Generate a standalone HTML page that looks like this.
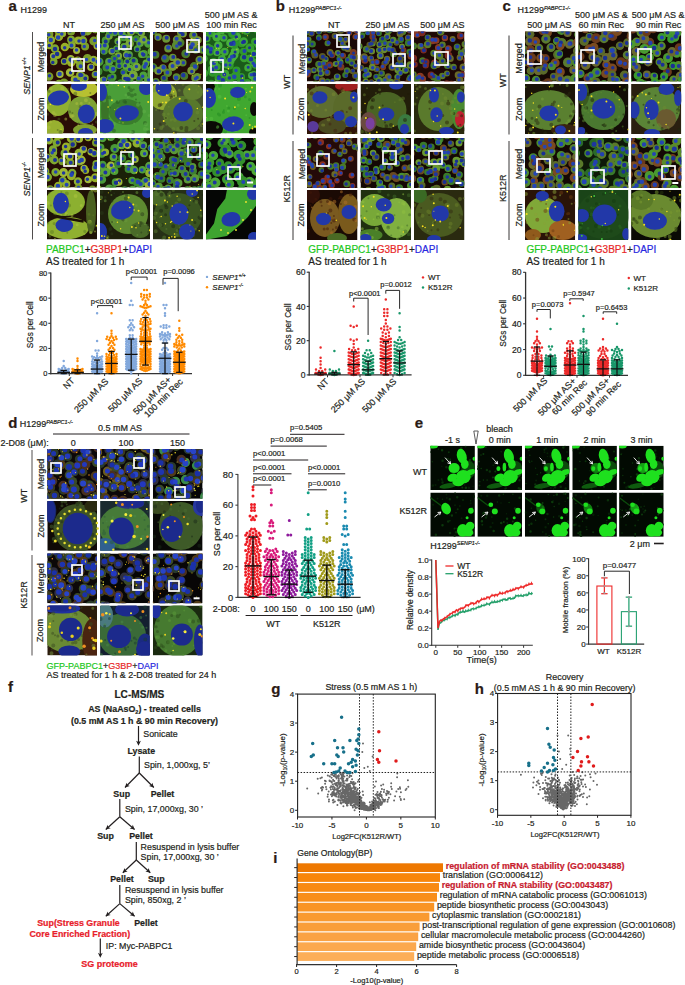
<!DOCTYPE html>
<html><head><meta charset="utf-8"><style>
html,body{margin:0;padding:0;background:#fff;overflow:hidden;}
svg{display:block;font-family:"Liberation Sans", sans-serif;}
</style></head><body>
<svg width="685" height="985" viewBox="0 0 685 985">
<defs><clipPath id="c1"><rect x="47" y="32" width="50" height="49.5"/></clipPath><clipPath id="c2"><rect x="100" y="32" width="50" height="49.5"/></clipPath><clipPath id="c3"><rect x="153" y="32" width="50" height="49.5"/></clipPath><clipPath id="c4"><rect x="206" y="32" width="50" height="49.5"/></clipPath><clipPath id="c5"><rect x="47" y="138" width="50" height="49.5"/></clipPath><clipPath id="c6"><rect x="100" y="138" width="50" height="49.5"/></clipPath><clipPath id="c7"><rect x="153" y="138" width="50" height="49.5"/></clipPath><clipPath id="c8"><rect x="206" y="138" width="50" height="49.5"/></clipPath><clipPath id="c9"><rect x="47" y="84" width="50" height="49.5"/></clipPath><clipPath id="c10"><rect x="100" y="84" width="50" height="49.5"/></clipPath><clipPath id="c11"><rect x="153" y="84" width="50" height="49.5"/></clipPath><clipPath id="c12"><rect x="206" y="84" width="50" height="49.5"/></clipPath><clipPath id="c13"><rect x="47" y="190" width="50" height="49.5"/></clipPath><clipPath id="c14"><rect x="100" y="190" width="50" height="49.5"/></clipPath><clipPath id="c15"><rect x="153" y="190" width="50" height="49.5"/></clipPath><clipPath id="c16"><rect x="206" y="190" width="50" height="49.5"/></clipPath><clipPath id="c17"><rect x="206" y="190" width="50" height="49.5"/></clipPath><clipPath id="c18"><rect x="307" y="31.5" width="50.5" height="50"/></clipPath><clipPath id="c19"><rect x="360.5" y="31.5" width="50.5" height="50"/></clipPath><clipPath id="c20"><rect x="414" y="31.5" width="50.5" height="50"/></clipPath><clipPath id="c21"><rect x="307" y="138" width="50.5" height="50"/></clipPath><clipPath id="c22"><rect x="360.5" y="138" width="50.5" height="50"/></clipPath><clipPath id="c23"><rect x="414" y="138" width="50.5" height="50"/></clipPath><clipPath id="c24"><rect x="307" y="84" width="50.5" height="50"/></clipPath><clipPath id="c25"><rect x="360.5" y="84" width="50.5" height="50"/></clipPath><clipPath id="c26"><rect x="414" y="84" width="50.5" height="50"/></clipPath><clipPath id="c27"><rect x="307" y="190" width="50.5" height="50"/></clipPath><clipPath id="c28"><rect x="360.5" y="190" width="50.5" height="50"/></clipPath><clipPath id="c29"><rect x="414" y="190" width="50.5" height="50"/></clipPath><clipPath id="c30"><rect x="525" y="31.5" width="50.2" height="50"/></clipPath><clipPath id="c31"><rect x="578.2" y="31.5" width="50.2" height="50"/></clipPath><clipPath id="c32"><rect x="631.1" y="31.5" width="50.2" height="50"/></clipPath><clipPath id="c33"><rect x="525" y="138" width="50.2" height="50"/></clipPath><clipPath id="c34"><rect x="578.2" y="138" width="50.2" height="50"/></clipPath><clipPath id="c35"><rect x="631.1" y="138" width="50.2" height="50"/></clipPath><clipPath id="c36"><rect x="525" y="84" width="50.2" height="50"/></clipPath><clipPath id="c37"><rect x="578.2" y="84" width="50.2" height="50"/></clipPath><clipPath id="c38"><rect x="631.1" y="84" width="50.2" height="50"/></clipPath><clipPath id="c39"><rect x="525" y="190" width="50.2" height="50"/></clipPath><clipPath id="c40"><rect x="578.2" y="190" width="50.2" height="50"/></clipPath><clipPath id="c41"><rect x="631.1" y="190" width="50.2" height="50"/></clipPath><clipPath id="c42"><rect x="47.3" y="449" width="49.7" height="49.8"/></clipPath><clipPath id="c43"><rect x="100.1" y="449" width="49.7" height="49.8"/></clipPath><clipPath id="c44"><rect x="152.9" y="449" width="49.7" height="49.8"/></clipPath><clipPath id="c45"><rect x="47.3" y="553.5" width="49.7" height="49.8"/></clipPath><clipPath id="c46"><rect x="100.1" y="553.5" width="49.7" height="49.8"/></clipPath><clipPath id="c47"><rect x="152.9" y="553.5" width="49.7" height="49.8"/></clipPath><clipPath id="c48"><rect x="47.3" y="501" width="49.7" height="49.8"/></clipPath><clipPath id="c49"><rect x="100.1" y="501" width="49.7" height="49.8"/></clipPath><clipPath id="c50"><rect x="152.9" y="501" width="49.7" height="49.8"/></clipPath><clipPath id="c51"><rect x="47.3" y="605.6" width="49.7" height="49.8"/></clipPath><clipPath id="c52"><rect x="100.1" y="605.6" width="49.7" height="49.8"/></clipPath><clipPath id="c53"><rect x="152.9" y="605.6" width="49.7" height="49.8"/></clipPath><clipPath id="c54"><rect x="430.3" y="445.7" width="44.6" height="44.3"/></clipPath><clipPath id="c55"><rect x="477.4" y="445.7" width="44.6" height="44.3"/></clipPath><clipPath id="c56"><rect x="524.9" y="445.7" width="44.6" height="44.3"/></clipPath><clipPath id="c57"><rect x="572.3" y="445.7" width="44.6" height="44.3"/></clipPath><clipPath id="c58"><rect x="619.1" y="445.7" width="44.6" height="44.3"/></clipPath><clipPath id="c59"><rect x="430.3" y="492.5" width="44.6" height="44.3"/></clipPath><clipPath id="c60"><rect x="477.4" y="492.5" width="44.6" height="44.3"/></clipPath><clipPath id="c61"><rect x="524.9" y="492.5" width="44.6" height="44.3"/></clipPath><clipPath id="c62"><rect x="572.3" y="492.5" width="44.6" height="44.3"/></clipPath><clipPath id="c63"><rect x="619.1" y="492.5" width="44.6" height="44.3"/></clipPath></defs>
<text x="8.5" y="11.3" font-size="15" text-anchor="start" font-weight="bold" fill="#2a1a14" stroke="#2a1a14" stroke-width="0.2">a</text>
<text x="20.6" y="12.7" font-size="9" text-anchor="start" fill="#231f20" stroke="#231f20" stroke-width="0.2">H1299</text>
<text x="69" y="28.4" font-size="9" text-anchor="middle" fill="#231f20" stroke="#231f20" stroke-width="0.2">NT</text>
<text x="122.5" y="28.4" font-size="9" text-anchor="middle" fill="#231f20" stroke="#231f20" stroke-width="0.2">250 μM AS</text>
<text x="177.3" y="28.4" font-size="9" text-anchor="middle" fill="#231f20" stroke="#231f20" stroke-width="0.2">500 μM AS</text>
<text x="231.2" y="18" font-size="9" text-anchor="middle" fill="#231f20" stroke="#231f20" stroke-width="0.2">500 μM AS &amp;</text>
<text x="231.4" y="28.4" font-size="9" text-anchor="middle" fill="#231f20" stroke="#231f20" stroke-width="0.2">100 min Rec</text>
<text x="44" y="57" font-size="9" text-anchor="middle" fill="#231f20" transform="rotate(-90 44 57)" stroke="#231f20" stroke-width="0.2">Merged</text>
<text x="44" y="163" font-size="9" text-anchor="middle" fill="#231f20" transform="rotate(-90 44 163)" stroke="#231f20" stroke-width="0.2">Merged</text>
<text x="44" y="109" font-size="9" text-anchor="middle" fill="#231f20" transform="rotate(-90 44 109)" stroke="#231f20" stroke-width="0.2">Zoom</text>
<text x="44" y="215" font-size="9" text-anchor="middle" fill="#231f20" transform="rotate(-90 44 215)" stroke="#231f20" stroke-width="0.2">Zoom</text>
<line x1="32.5" y1="32" x2="32.5" y2="133.5" stroke="#231f20" stroke-width="0.8"/>
<line x1="32.5" y1="138" x2="32.5" y2="239.5" stroke="#231f20" stroke-width="0.8"/>
<text x="30" y="75.9" font-size="9" text-anchor="middle" font-style="italic" fill="#231f20" transform="rotate(-90 30 75.9)" stroke="#231f20" stroke-width="0.2">SENP1<tspan font-size="5.5" dy="-3.5">+/+</tspan></text>
<text x="30" y="179.2" font-size="9" text-anchor="middle" font-style="italic" fill="#231f20" transform="rotate(-90 30 179.2)" stroke="#231f20" stroke-width="0.2">SENP1<tspan font-size="5.5" dy="-3.5">-/-</tspan></text>
<g clip-path="url(#c1)">
<rect x="47" y="32" width="50" height="49.5" fill="#2a0c06"/>
<path d="M49.6 34h0M95.4 74.5h0M100.6 70.9h0" stroke="#7a9c2c" stroke-width="7.5" stroke-linecap="round"/>
<path d="M51.1 39.9h0" stroke="#90b030" stroke-width="8" stroke-linecap="round"/>
<path d="M49.2 45.5h0M77.7 60.3h0M79.8 75.3h0" stroke="#98b028" stroke-width="7.5" stroke-linecap="round"/>
<path d="M53.7 56.3h0M59.9 74.3h0M90.9 67.3h0M97.2 46h0" stroke="#a0b838" stroke-width="7.5" stroke-linecap="round"/>
<path d="M43.3 64.6h0M58.6 31.1h0M71.1 31.5h0M85.1 46.5h0" stroke="#7a9c2c" stroke-width="8" stroke-linecap="round"/>
<path d="M49.1 76.6h0" stroke="#7a9c2c" stroke-width="8.5" stroke-linecap="round"/>
<path d="M43.5 78h0M64 83h0M87.4 58.5h0M93.8 41.1h0M102.8 56.4h0" stroke="#7a9c2c" stroke-width="9" stroke-linecap="round"/>
<path d="M58.9 36.8h0M57.5 54.7h0M64.9 47h0M71.2 62.6h0M78.1 81.5h0" stroke="#98b028" stroke-width="8.5" stroke-linecap="round"/>
<path d="M54.9 48.5h0M95.1 29.1h0M100 81.6h0" stroke="#80a830" stroke-width="8.5" stroke-linecap="round"/>
<path d="M53.8 61.4h0M85 77.9h0" stroke="#80a830" stroke-width="7.5" stroke-linecap="round"/>
<path d="M59 84.2h0M82.8 40.6h0M80.5 65.5h0M87.6 30.9h0" stroke="#80a830" stroke-width="9" stroke-linecap="round"/>
<path d="M62.4 33.6h0M71.9 45h0M93.5 59.4h0" stroke="#90b030" stroke-width="7.5" stroke-linecap="round"/>
<path d="M71.1 39.7h0M81.2 76h0M100 37.1h0" stroke="#80a830" stroke-width="8" stroke-linecap="round"/>
<path d="M70.7 59.3h0M70.1 72.6h0" stroke="#a0b838" stroke-width="8.5" stroke-linecap="round"/>
<path d="M64.3 61.5h0" stroke="#90b030" stroke-width="7" stroke-linecap="round"/>
<path d="M78.3 40.4h0M74.7 79.5h0" stroke="#98b028" stroke-width="8" stroke-linecap="round"/>
<path d="M83.7 32.6h0" stroke="#7a9c2c" stroke-width="7" stroke-linecap="round"/>
<path d="M76.6 50.6h0" stroke="#a0b838" stroke-width="7" stroke-linecap="round"/>
<path d="M96.8 61.5h0" stroke="#98b028" stroke-width="9" stroke-linecap="round"/>
<path d="M48.8 34.7h0M58.5 31.5h0M72.1 61.9h0M76.5 49.9h0M87.3 30.1h0M84.3 46.5h0" stroke="#2240b0" stroke-width="3.5" stroke-linecap="round"/>
<path d="M50.8 40.1h0M44.1 77.4h0M58.1 37.6h0M59.6 74.1h0" stroke="#2444b4" stroke-width="4.5" stroke-linecap="round"/>
<path d="M49.3 45.6h0M52.8 62.4h0M70.6 72.8h0M100.5 37.8h0" stroke="#1a3094" stroke-width="3.5" stroke-linecap="round"/>
<path d="M53.3 56.3h0M103.2 56.6h0" stroke="#1e36a0" stroke-width="4" stroke-linecap="round"/>
<path d="M42.8 65.2h0M70.6 39.8h0M78.4 59.5h0M85.3 78.4h0" stroke="#1a3094" stroke-width="4" stroke-linecap="round"/>
<path d="M49.5 75.7h0M64.7 47.7h0M63.2 83.2h0M70.1 31h0M79 40.9h0M78.4 81.4h0M100.4 71.8h0" stroke="#1e36a0" stroke-width="3.5" stroke-linecap="round"/>
<path d="M55 49.1h0M57.1 54.1h0M70.6 59.6h0M64.1 61.2h0M91.2 66.8h0M94.6 29.9h0" stroke="#1a3094" stroke-width="4.5" stroke-linecap="round"/>
<path d="M59.9 85.1h0M61.8 33.9h0M86.5 59.5h0M81.8 75.3h0M94.7 40.6h0" stroke="#2444b4" stroke-width="3.5" stroke-linecap="round"/>
<path d="M71.5 45.6h0M80.6 66.2h0M93.5 59.7h0M95.4 74h0M99.8 81.8h0" stroke="#2444b4" stroke-width="4" stroke-linecap="round"/>
<path d="M80.4 74.9h0M83 33.4h0" stroke="#1e36a0" stroke-width="4.5" stroke-linecap="round"/>
<path d="M75.4 79.7h0M83.4 40.9h0M97.7 61.6h0" stroke="#2240b0" stroke-width="4.5" stroke-linecap="round"/>
<path d="M96.8 46.1h0" stroke="#2240b0" stroke-width="4" stroke-linecap="round"/>
<rect x="72" y="59" width="12" height="12" fill="none" stroke="#ffffff" stroke-width="1.7"/>
</g>
<g clip-path="url(#c2)">
<rect x="100" y="32" width="50" height="49.5" fill="#1a3010"/>
<path d="M102.9 29.2h0M104.1 51h0M127.3 79.9h0M143.4 75.2h0" stroke="#4ea03a" stroke-width="7.5" stroke-linecap="round"/>
<path d="M105.7 40.6h0M123.8 37.2h0M143.8 54.1h0" stroke="#4a9a38" stroke-width="8" stroke-linecap="round"/>
<path d="M98.8 46.8h0M124.2 46.9h0" stroke="#60a838" stroke-width="8" stroke-linecap="round"/>
<path d="M99.3 61.7h0M114.5 31.9h0M133.9 61.3h0" stroke="#4a9a38" stroke-width="8.5" stroke-linecap="round"/>
<path d="M106.5 67.6h0M98.5 71.5h0M119.4 61.8h0" stroke="#3e8a30" stroke-width="8" stroke-linecap="round"/>
<path d="M103.3 80.3h0M109 36h0M118.3 55.9h0M141.3 32.7h0M150.2 28.8h0" stroke="#78a838" stroke-width="7.5" stroke-linecap="round"/>
<path d="M109.7 32.2h0M119.1 65.2h0M112.8 77h0M149.8 59.1h0M154.1 78.6h0" stroke="#4a9a38" stroke-width="7.5" stroke-linecap="round"/>
<path d="M104.8 46.2h0M129.1 38.2h0M151.8 51.4h0M151.7 69.9h0" stroke="#60a838" stroke-width="8.5" stroke-linecap="round"/>
<path d="M111.8 51.2h0" stroke="#78a838" stroke-width="7" stroke-linecap="round"/>
<path d="M109.1 61.8h0M121.5 33h0" stroke="#58a040" stroke-width="8" stroke-linecap="round"/>
<path d="M112.4 69.2h0M129.2 80.5h0M137.3 29.5h0M148.3 43.6h0" stroke="#4ea03a" stroke-width="8.5" stroke-linecap="round"/>
<path d="M110.2 77.4h0M112.3 82.9h0M120.8 82.8h0M123.8 71.9h0M136.3 38.7h0M139.4 79.2h0" stroke="#3e8a30" stroke-width="7" stroke-linecap="round"/>
<path d="M117.9 41.2h0M141.6 54.5h0M146 63h0" stroke="#60a838" stroke-width="7" stroke-linecap="round"/>
<path d="M116.7 48.7h0M127 62.3h0M137.3 48.7h0M144.7 67h0" stroke="#4ea03a" stroke-width="7" stroke-linecap="round"/>
<path d="M114.2 58.5h0M153 36.6h0" stroke="#3e8a30" stroke-width="7.5" stroke-linecap="round"/>
<path d="M127.1 54.7h0M131 31.5h0M129.7 43.5h0M136.7 67h0" stroke="#78a838" stroke-width="8.5" stroke-linecap="round"/>
<path d="M126 65.9h0M130.1 68.6h0" stroke="#60a838" stroke-width="7.5" stroke-linecap="round"/>
<path d="M129.1 54.7h0M140 43.2h0M147.8 80h0" stroke="#58a040" stroke-width="7.5" stroke-linecap="round"/>
<path d="M125.6 77.5h0M143.3 39.4h0" stroke="#78a838" stroke-width="8" stroke-linecap="round"/>
<path d="M133.3 75h0" stroke="#78a838" stroke-width="9" stroke-linecap="round"/>
<path d="M151.5 74h0" stroke="#58a040" stroke-width="8.5" stroke-linecap="round"/>
<path d="M102.7 29.6h0M103.5 51.7h0M97.5 72.4h0M108.3 36.3h0M109.4 60.9h0M138.7 78.4h0M146 64h0M144.6 66.8h0M152.2 73.3h0" stroke="#2444b4" stroke-width="4" stroke-linecap="round"/>
<path d="M105.7 41.5h0M113.2 83.9h0M118.9 61.6h0M129.6 55.4h0M127.3 61.4h0M137.2 49.5h0M133.6 60.6h0" stroke="#1a3094" stroke-width="4" stroke-linecap="round"/>
<path d="M99.6 46h0M107.3 67.6h0M104.8 45.6h0M115.1 32.7h0M121 33.2h0M124 36.8h0M123.1 72.4h0M131.5 32.2h0" stroke="#2240b0" stroke-width="4" stroke-linecap="round"/>
<path d="M99.6 60.7h0M112.4 50.9h0M113.2 69.1h0M126.3 55.3h0" stroke="#2444b4" stroke-width="4.5" stroke-linecap="round"/>
<path d="M104.1 79.5h0M126.9 79.1h0" stroke="#2240b0" stroke-width="4.5" stroke-linecap="round"/>
<path d="M110.5 32.3h0M118.4 55.7h0M129.7 37.7h0M136.4 30.3h0M143.9 39.7h0M139.1 43.7h0M148.7 42.8h0M152.6 50.9h0" stroke="#2444b4" stroke-width="3.5" stroke-linecap="round"/>
<path d="M109.4 77.9h0" stroke="#2240b0" stroke-width="3" stroke-linecap="round"/>
<path d="M117.9 42.2h0M112.4 76.7h0M125.3 65.8h0M130.3 43.2h0M129.5 69.5h0M124.8 78.4h0M151.8 69h0" stroke="#1a3094" stroke-width="3.5" stroke-linecap="round"/>
<path d="M116.3 48.6h0M149.8 29.4h0M153.3 36h0M148.8 59.5h0" stroke="#1e36a0" stroke-width="3.5" stroke-linecap="round"/>
<path d="M114.6 58.5h0M142.5 53.7h0M136.4 66.5h0M142.7 76.2h0M148.6 80h0" stroke="#2240b0" stroke-width="3.5" stroke-linecap="round"/>
<path d="M119.2 66.1h0M120.6 83.5h0M132.4 75.8h0M140.6 32.7h0M143.5 54.7h0" stroke="#1e36a0" stroke-width="4" stroke-linecap="round"/>
<path d="M124.3 47h0" stroke="#1e36a0" stroke-width="4.5" stroke-linecap="round"/>
<path d="M128.4 79.6h0" stroke="#1a3094" stroke-width="4.5" stroke-linecap="round"/>
<path d="M135.9 39.4h0M154.2 78.1h0" stroke="#2444b4" stroke-width="3" stroke-linecap="round"/>
<rect x="119" y="37" width="12" height="12" fill="none" stroke="#ffffff" stroke-width="1.7"/>
</g>
<g clip-path="url(#c3)">
<rect x="153" y="32" width="50" height="49.5" fill="#240c06"/>
<path d="M153.3 31h0M155.4 54.8h0M184.2 76h0" stroke="#4a7a2c" stroke-width="8" stroke-linecap="round"/>
<path d="M158.1 37h0M162.9 68.1h0M172.7 57.4h0M167.1 84.2h0M197.3 76.8h0M195 77.9h0" stroke="#6a9434" stroke-width="7.5" stroke-linecap="round"/>
<path d="M152.8 67.5h0M180 42.7h0M185.8 53.7h0M195.7 49.2h0M194.2 66.6h0" stroke="#4a7a2c" stroke-width="9" stroke-linecap="round"/>
<path d="M158.2 70.7h0M182.9 33.6h0M193.4 43.8h0M191.3 70.7h0" stroke="#7a9a38" stroke-width="8" stroke-linecap="round"/>
<path d="M155.8 81.7h0M176.5 76.9h0M182.8 62.8h0M206.5 79.7h0" stroke="#5a8a30" stroke-width="7.5" stroke-linecap="round"/>
<path d="M162.6 28.8h0M177.3 39.8h0" stroke="#6a9434" stroke-width="9" stroke-linecap="round"/>
<path d="M166.2 38.8h0M168.2 48.6h0M181 32.5h0" stroke="#6a9434" stroke-width="8" stroke-linecap="round"/>
<path d="M165.3 58.4h0" stroke="#4a7a2c" stroke-width="8.5" stroke-linecap="round"/>
<path d="M167.8 72.8h0M208.2 37h0" stroke="#5a8a30" stroke-width="8.5" stroke-linecap="round"/>
<path d="M164.2 78.5h0M208.7 58.5h0" stroke="#4a7a2c" stroke-width="7.5" stroke-linecap="round"/>
<path d="M172.7 66.4h0M203.6 28.4h0" stroke="#7a9a38" stroke-width="9" stroke-linecap="round"/>
<path d="M176.4 45.3h0" stroke="#5a8a30" stroke-width="9" stroke-linecap="round"/>
<path d="M177.3 62.4h0" stroke="#7a9a38" stroke-width="8.5" stroke-linecap="round"/>
<path d="M190.1 47.1h0M197.9 40h0" stroke="#7a9a38" stroke-width="7.5" stroke-linecap="round"/>
<path d="M193.3 35.4h0M199.7 60h0" stroke="#6a9434" stroke-width="8.5" stroke-linecap="round"/>
<path d="M202.7 49.8h0" stroke="#5a8a30" stroke-width="8" stroke-linecap="round"/>
<path d="M153.2 31.9h0M166.7 37.8h0M173.3 57.1h0M166.6 84.2h0M186.3 53.8h0M194 34.8h0" stroke="#1e36a0" stroke-width="4" stroke-linecap="round"/>
<path d="M157.6 37.7h0M167.4 72.5h0M176.6 38.8h0M172.6 66.1h0" stroke="#2444b4" stroke-width="4" stroke-linecap="round"/>
<path d="M154.5 54.2h0M158.8 71.3h0M180.5 31.8h0M183.3 75.2h0M191 47.2h0" stroke="#1e36a0" stroke-width="4.5" stroke-linecap="round"/>
<path d="M153.4 66.8h0M155.9 81.5h0M163.9 77.9h0M182.7 34.3h0M203.5 50h0" stroke="#1a3094" stroke-width="4" stroke-linecap="round"/>
<path d="M162.9 28.8h0M191.8 71.6h0" stroke="#1e36a0" stroke-width="3.5" stroke-linecap="round"/>
<path d="M164.4 57.5h0M163.6 67.3h0M168.3 47.6h0M176.1 77.8h0M192.6 44.5h0M199.5 59.5h0M195.1 66.5h0M208.3 58.1h0" stroke="#2444b4" stroke-width="4.5" stroke-linecap="round"/>
<path d="M179.7 43.5h0" stroke="#1a3094" stroke-width="4.5" stroke-linecap="round"/>
<path d="M176.8 46.1h0M197.3 39.5h0M195.9 50.1h0M195.5 78.7h0M206.6 79.1h0" stroke="#2444b4" stroke-width="3.5" stroke-linecap="round"/>
<path d="M177.8 62.4h0" stroke="#2240b0" stroke-width="4.5" stroke-linecap="round"/>
<path d="M183.4 62.8h0M197.1 77.6h0" stroke="#2240b0" stroke-width="3.5" stroke-linecap="round"/>
<path d="M204.3 27.7h0" stroke="#2240b0" stroke-width="4" stroke-linecap="round"/>
<path d="M208.2 37.9h0" stroke="#1a3094" stroke-width="3.5" stroke-linecap="round"/>
<path d="M191.7 39.1h0M177.1 67.7h0M197.5 64.1h0M198 44.6h0" stroke="#f4e020" stroke-width="1.5" stroke-linecap="round"/>
<path d="M188.1 42.2h0M192.2 75.7h0M200.9 74.3h0M191.8 38.8h0" stroke="#f4e020" stroke-width="1" stroke-linecap="round"/>
<rect x="187" y="40" width="12" height="12" fill="none" stroke="#ffffff" stroke-width="1.7"/>
</g>
<g clip-path="url(#c4)">
<rect x="206" y="32" width="50" height="49.5" fill="#1a5a1a"/>
<path d="M203.4 31.3h0M217 51.9h0M218.7 78.6h0M221.1 30.6h0" stroke="#48b03c" stroke-width="8" stroke-linecap="round"/>
<path d="M206.8 38.4h0M211.7 69.3h0M216.8 66.8h0M222.2 80.4h0M241.1 29.1h0" stroke="#38a030" stroke-width="7.5" stroke-linecap="round"/>
<path d="M207.9 47.8h0M204 73.2h0M227.2 29.1h0M233.5 42h0M244.1 58h0M250.1 58.8h0M255.4 64.6h0" stroke="#38a030" stroke-width="8.5" stroke-linecap="round"/>
<path d="M209.8 51.8h0M211.1 83.8h0M210.5 48.9h0M218.5 76.1h0M229.7 65.4h0M236.5 70.5h0M241.7 43.2h0M241.1 77h0M247.2 83.1h0M262.1 83.2h0" stroke="#30982c" stroke-width="8" stroke-linecap="round"/>
<path d="M203.5 58.5h0M230.3 61.1h0M243.7 41.5h0M255 79.1h0" stroke="#40a838" stroke-width="8.5" stroke-linecap="round"/>
<path d="M210.5 32.7h0M229.9 78.4h0M246.2 30.2h0M249.9 48h0" stroke="#38a030" stroke-width="9" stroke-linecap="round"/>
<path d="M216.8 37h0M213.6 62.7h0M234 55h0M235.3 51.1h0M260.4 39.5h0M254.1 75.5h0" stroke="#48b03c" stroke-width="9" stroke-linecap="round"/>
<path d="M212.7 72.3h0M234.1 44.3h0M241.3 81.4h0" stroke="#30982c" stroke-width="9" stroke-linecap="round"/>
<path d="M223.7 38.1h0M226.5 64.8h0M248 67.8h0" stroke="#40a838" stroke-width="7.5" stroke-linecap="round"/>
<path d="M218.3 45.6h0M230.4 43.1h0M236.8 36.5h0M232.3 57.4h0M262 67.7h0" stroke="#48b03c" stroke-width="8.5" stroke-linecap="round"/>
<path d="M224.7 51.8h0M221.9 59.1h0M225.1 73.7h0M253.5 62.3h0" stroke="#40a838" stroke-width="8" stroke-linecap="round"/>
<path d="M232.4 33.8h0M234.8 76.2h0M257.1 29.2h0" stroke="#30982c" stroke-width="8.5" stroke-linecap="round"/>
<path d="M243.6 51.4h0" stroke="#30982c" stroke-width="7.5" stroke-linecap="round"/>
<path d="M255 41.8h0" stroke="#38a030" stroke-width="8" stroke-linecap="round"/>
<path d="M254.5 53.4h0M251.8 75.5h0" stroke="#48b03c" stroke-width="7.5" stroke-linecap="round"/>
<path d="M258.7 44.4h0M262.3 50.1h0" stroke="#40a838" stroke-width="9" stroke-linecap="round"/>
<path d="M203.3 30.4h0M224 37.7h0M224.8 51.7h0M225.8 64.9h0M262.4 49.3h0M253.2 63.2h0" stroke="#2240b0" stroke-width="3.5" stroke-linecap="round"/>
<path d="M206.7 38.6h0M244.1 57.2h0M254.1 74.6h0" stroke="#1a3094" stroke-width="4.5" stroke-linecap="round"/>
<path d="M207.7 46.9h0M203.5 72.8h0M220.9 30.4h0M217.6 45.8h0M229.4 77.9h0M242.7 42.5h0M247.3 83.4h0" stroke="#1e36a0" stroke-width="3.5" stroke-linecap="round"/>
<path d="M210.7 52.1h0M211.6 84.1h0M218.8 76.9h0M236.3 37h0M241.2 28.1h0M241.8 76.2h0M260.2 39.1h0" stroke="#1a3094" stroke-width="3.5" stroke-linecap="round"/>
<path d="M203.1 57.7h0M212.5 71.6h0M226.6 29.2h0M234 55.9h0M244 41.8h0M255.6 42.1h0M258.1 44.6h0" stroke="#1a3094" stroke-width="4" stroke-linecap="round"/>
<path d="M212 69.3h0M217.3 52.8h0M233.5 42.6h0M224.3 74.6h0M247.2 31h0M257.8 29.7h0" stroke="#1e36a0" stroke-width="4" stroke-linecap="round"/>
<path d="M210 33.2h0M230 65.1h0" stroke="#2240b0" stroke-width="3" stroke-linecap="round"/>
<path d="M216.4 36.3h0M248.2 67.2h0" stroke="#1e36a0" stroke-width="3" stroke-linecap="round"/>
<path d="M210.8 49.1h0M229.6 60.1h0M233.4 32.8h0M242.1 81.2h0" stroke="#2240b0" stroke-width="4.5" stroke-linecap="round"/>
<path d="M214 63.2h0M244.5 50.9h0" stroke="#2240b0" stroke-width="4" stroke-linecap="round"/>
<path d="M216.1 67.5h0M218.8 78.2h0M233.7 44.1h0M231.9 56.8h0M254.9 65.5h0M255 78.8h0M262.7 82.6h0" stroke="#2444b4" stroke-width="4" stroke-linecap="round"/>
<path d="M221.8 59.6h0M234.3 76.7h0" stroke="#2444b4" stroke-width="4.5" stroke-linecap="round"/>
<path d="M222.8 80.3h0M231.2 43.8h0M253.8 53.9h0M251 59.2h0" stroke="#1e36a0" stroke-width="4.5" stroke-linecap="round"/>
<path d="M235.1 52.1h0M249.5 47.7h0M261.2 67.3h0" stroke="#1a3094" stroke-width="3" stroke-linecap="round"/>
<path d="M236 70.5h0M251.2 74.8h0" stroke="#2444b4" stroke-width="3.5" stroke-linecap="round"/>
<path d="M236.9 49.4h0M216.6 48.4h0M215.1 62.4h0M242.2 33.1h0M237.1 38.6h0M227.8 47.6h0M218.9 48.6h0M224.3 74.7h0M247.4 35.7h0" stroke="#f4e020" stroke-width="1" stroke-linecap="round"/>
<path d="M228.4 68.8h0M250.7 55.8h0M242.5 78h0" stroke="#f4e020" stroke-width="1.5" stroke-linecap="round"/>
<rect x="211" y="60" width="12" height="12" fill="none" stroke="#ffffff" stroke-width="1.7"/>
</g>
<g clip-path="url(#c5)">
<rect x="47" y="138" width="50" height="49.5" fill="#240c05"/>
<path d="M48.8 140.2h0M78 181.5h0M78.9 153.1h0" stroke="#90b030" stroke-width="8.5" stroke-linecap="round"/>
<path d="M53 149.4h0M46.7 157.8h0M45.1 171.3h0M56.7 142.6h0M55.6 172.3h0M72.2 173h0M101 144.7h0" stroke="#80a830" stroke-width="8.5" stroke-linecap="round"/>
<path d="M54.2 159.9h0M47.5 177.1h0M65 153.3h0" stroke="#80a830" stroke-width="9" stroke-linecap="round"/>
<path d="M50.1 189.5h0" stroke="#7a9c2c" stroke-width="8.5" stroke-linecap="round"/>
<path d="M57.6 135.3h0M66.3 147h0M71.4 175.7h0M95.4 177.7h0M103.3 182h0" stroke="#98b028" stroke-width="9" stroke-linecap="round"/>
<path d="M53.2 152.4h0M62.8 180.7h0M95.8 167.9h0" stroke="#80a830" stroke-width="8" stroke-linecap="round"/>
<path d="M62.3 161.2h0M70.2 162.6h0M79.5 161.6h0M78.4 188.2h0M96 142.8h0M104.6 163.7h0M99.1 189.5h0" stroke="#7a9c2c" stroke-width="8" stroke-linecap="round"/>
<path d="M58.3 186h0M71 138.6h0" stroke="#98b028" stroke-width="8.5" stroke-linecap="round"/>
<path d="M61.2 135.4h0M79.1 138.8h0" stroke="#a0b838" stroke-width="8" stroke-linecap="round"/>
<path d="M63.5 172.5h0M81.3 160.1h0" stroke="#a0b838" stroke-width="9" stroke-linecap="round"/>
<path d="M66.3 183.9h0M96.7 137.9h0" stroke="#90b030" stroke-width="8" stroke-linecap="round"/>
<path d="M72.8 143.9h0M68.5 190.8h0M94.3 153.6h0" stroke="#7a9c2c" stroke-width="7.5" stroke-linecap="round"/>
<path d="M69.7 156.4h0" stroke="#98b028" stroke-width="8" stroke-linecap="round"/>
<path d="M83.3 149.4h0M84.1 168.5h0M88.2 179.5h0M91.2 151.8h0" stroke="#a0b838" stroke-width="7.5" stroke-linecap="round"/>
<path d="M88.3 137.4h0" stroke="#98b028" stroke-width="7.5" stroke-linecap="round"/>
<path d="M96.2 163.7h0" stroke="#80a830" stroke-width="7.5" stroke-linecap="round"/>
<path d="M85.7 170.5h0" stroke="#98b028" stroke-width="7" stroke-linecap="round"/>
<path d="M92.4 190.1h0" stroke="#7a9c2c" stroke-width="9" stroke-linecap="round"/>
<path d="M48.6 139.5h0M45.9 171.1h0M66.6 184.8h0M104.4 164.4h0M95.2 167.2h0" stroke="#2444b4" stroke-width="4" stroke-linecap="round"/>
<path d="M53.9 150.3h0M47.5 156.8h0M61.9 136.1h0M70.7 162.8h0M77.9 181.5h0M78.2 139.3h0M92.2 189.4h0M95.8 138.2h0" stroke="#1e36a0" stroke-width="4" stroke-linecap="round"/>
<path d="M55 160h0M50.8 188.8h0M57.7 142.5h0M65.5 152.3h0M72.3 173h0M95.9 142.5h0M94.7 177.2h0" stroke="#1a3094" stroke-width="4" stroke-linecap="round"/>
<path d="M47.5 177.1h0M57.9 186h0M71.5 174.7h0M101 144.6h0" stroke="#2444b4" stroke-width="4.5" stroke-linecap="round"/>
<path d="M57.2 134.8h0M83.7 148.5h0M94.3 153.2h0" stroke="#1e36a0" stroke-width="4.5" stroke-linecap="round"/>
<path d="M52.2 152.7h0M61.4 160.5h0M55.7 171.9h0M78.5 187.4h0" stroke="#2444b4" stroke-width="3.5" stroke-linecap="round"/>
<path d="M62.3 180.2h0M71.7 138.5h0M81.7 160h0" stroke="#2240b0" stroke-width="4.5" stroke-linecap="round"/>
<path d="M65.6 146.6h0M85.2 171.2h0" stroke="#1a3094" stroke-width="3.5" stroke-linecap="round"/>
<path d="M63.6 172.9h0M68 191.4h0M87.4 179.3h0" stroke="#1e36a0" stroke-width="3.5" stroke-linecap="round"/>
<path d="M72.7 144.4h0M70.1 156.3h0M87.6 137.3h0M90.5 151.3h0M96.3 164h0M102.6 182.2h0M98.7 190.4h0" stroke="#1a3094" stroke-width="4.5" stroke-linecap="round"/>
<path d="M79.4 161.2h0M83.9 167.8h0" stroke="#2240b0" stroke-width="4" stroke-linecap="round"/>
<path d="M79.2 154h0" stroke="#2240b0" stroke-width="3.5" stroke-linecap="round"/>
<rect x="64" y="154" width="12" height="12" fill="none" stroke="#ffffff" stroke-width="1.7"/>
</g>
<g clip-path="url(#c6)">
<rect x="100" y="138" width="50" height="49.5" fill="#1a2008"/>
<path d="M102.4 137.9h0M110.9 136.8h0M133.5 137.8h0" stroke="#4ea03a" stroke-width="8.5" stroke-linecap="round"/>
<path d="M100.4 147.5h0M115.7 182.3h0M123.7 141h0" stroke="#4a9a38" stroke-width="8" stroke-linecap="round"/>
<path d="M101.9 153.6h0M102.5 165h0M101.9 179.6h0M139.9 137.8h0" stroke="#4a9a38" stroke-width="8.5" stroke-linecap="round"/>
<path d="M99.4 171.3h0" stroke="#60a838" stroke-width="8.5" stroke-linecap="round"/>
<path d="M98.2 189.8h0M136.8 143.2h0M149.4 173.1h0" stroke="#90b030" stroke-width="8.5" stroke-linecap="round"/>
<path d="M114.8 148.5h0" stroke="#4a9a38" stroke-width="9" stroke-linecap="round"/>
<path d="M105.3 152.3h0M135 159.2h0M146.7 134.5h0" stroke="#90b030" stroke-width="7.5" stroke-linecap="round"/>
<path d="M110.9 166.1h0M153.3 157.1h0" stroke="#a0b838" stroke-width="9" stroke-linecap="round"/>
<path d="M106.1 172.2h0M121.6 144.8h0M128.6 164.6h0M154.1 179h0" stroke="#60a838" stroke-width="9" stroke-linecap="round"/>
<path d="M109.4 189h0M120.2 134.5h0M132.7 190.3h0M145.7 181.4h0" stroke="#58a040" stroke-width="9" stroke-linecap="round"/>
<path d="M113.6 157.3h0M144 153.2h0" stroke="#60a838" stroke-width="8" stroke-linecap="round"/>
<path d="M118 164h0M113 189.6h0M122.2 158.2h0M128.6 169.1h0" stroke="#3e8a30" stroke-width="8" stroke-linecap="round"/>
<path d="M114.4 170.9h0" stroke="#4ea03a" stroke-width="8" stroke-linecap="round"/>
<path d="M118.7 182h0M127.7 145.3h0" stroke="#a0b838" stroke-width="7.5" stroke-linecap="round"/>
<path d="M132.1 180.5h0" stroke="#4a9a38" stroke-width="7.5" stroke-linecap="round"/>
<path d="M124.6 190h0M142.4 169.7h0M151.3 147.9h0" stroke="#4ea03a" stroke-width="7.5" stroke-linecap="round"/>
<path d="M131.6 154.4h0" stroke="#3e8a30" stroke-width="7.5" stroke-linecap="round"/>
<path d="M134 170h0M149.4 165.9h0M140.1 183.8h0" stroke="#58a040" stroke-width="8.5" stroke-linecap="round"/>
<path d="M137.1 182.4h0" stroke="#3e8a30" stroke-width="8.5" stroke-linecap="round"/>
<path d="M143.1 145.3h0" stroke="#58a040" stroke-width="8" stroke-linecap="round"/>
<path d="M151.9 166.1h0" stroke="#58a040" stroke-width="7.5" stroke-linecap="round"/>
<path d="M149 184.9h0" stroke="#a0b838" stroke-width="8.5" stroke-linecap="round"/>
<path d="M101.9 138h0M110 136.2h0M113.4 170.6h0M134.9 170h0" stroke="#2444b4" stroke-width="4" stroke-linecap="round"/>
<path d="M100.1 147.2h0M128.4 169.1h0M132.4 180.3h0M137.4 142.5h0M141.8 169.9h0" stroke="#2444b4" stroke-width="3.5" stroke-linecap="round"/>
<path d="M102.6 153.6h0M98.7 170.6h0M108.9 189.6h0M112.3 189.7h0M134.9 159.7h0M139 138h0M144.6 153.7h0M150.1 172.8h0" stroke="#2240b0" stroke-width="3.5" stroke-linecap="round"/>
<path d="M102.8 165.6h0M116.1 182.7h0M125.3 189.6h0M146.9 135.3h0M153.2 156.2h0M151.1 166.9h0" stroke="#1a3094" stroke-width="4.5" stroke-linecap="round"/>
<path d="M101 178.7h0M105.4 172.5h0M114 156.8h0M118.3 163.6h0M132.1 155.3h0M154.6 179.5h0" stroke="#1e36a0" stroke-width="4" stroke-linecap="round"/>
<path d="M98.7 189h0M114.9 149.4h0M119.3 134.6h0M119.3 181.1h0" stroke="#1a3094" stroke-width="3.5" stroke-linecap="round"/>
<path d="M104.4 152.4h0M111.3 165.3h0M122.1 158.8h0" stroke="#1e36a0" stroke-width="3.5" stroke-linecap="round"/>
<path d="M120.8 145h0M127.2 144.9h0M129.2 164.6h0M133 190.9h0M143.2 145.9h0" stroke="#1e36a0" stroke-width="4.5" stroke-linecap="round"/>
<path d="M123.5 141.2h0M137.9 182.1h0M150.4 148.2h0M149.7 184.2h0" stroke="#2444b4" stroke-width="4.5" stroke-linecap="round"/>
<path d="M133 138h0" stroke="#1a3094" stroke-width="4" stroke-linecap="round"/>
<path d="M148.7 166.3h0M140.7 184h0" stroke="#2240b0" stroke-width="4" stroke-linecap="round"/>
<path d="M145.7 180.6h0" stroke="#2240b0" stroke-width="4.5" stroke-linecap="round"/>
<path d="M118.7 182.2h0M125 150.4h0M136.4 172.8h0" stroke="#f4e020" stroke-width="1.5" stroke-linecap="round"/>
<path d="M133.9 161.8h0M120 147.8h0M121.9 150.6h0M114.7 172.1h0M126.3 178.5h0M108.5 139.8h0M128.5 147.4h0" stroke="#f4e020" stroke-width="1" stroke-linecap="round"/>
<rect x="121" y="152" width="12" height="12" fill="none" stroke="#ffffff" stroke-width="1.7"/>
</g>
<g clip-path="url(#c7)">
<rect x="153" y="138" width="50" height="49.5" fill="#1a1006"/>
<path d="M150.8 139h0M165.9 141.1h0M171.4 173.1h0M199.6 189.3h0M205.6 156.2h0" stroke="#3e8030" stroke-width="7" stroke-linecap="round"/>
<path d="M156.8 144.2h0M175.3 173h0M183.1 143.4h0M188.1 135.5h0" stroke="#4a8a34" stroke-width="8" stroke-linecap="round"/>
<path d="M153 149.2h0M163.9 189.9h0M181.5 152.7h0M187.7 179.6h0" stroke="#5a9838" stroke-width="8" stroke-linecap="round"/>
<path d="M153.8 156.6h0M155.1 163.9h0M177.3 146.1h0M182 169.2h0M185.2 174.1h0M189.5 142.3h0M208.8 147h0" stroke="#4a8a34" stroke-width="8.5" stroke-linecap="round"/>
<path d="M157.4 176.2h0M163.4 172.1h0M166.1 167.5h0M172.8 165.6h0M176.9 182.5h0M194.5 190.6h0M195.8 135.4h0M201.8 174.6h0M201.2 140h0" stroke="#3e8030" stroke-width="8.5" stroke-linecap="round"/>
<path d="M152.3 183.5h0M159.3 152.4h0M167.2 149.2h0M176.6 187h0M193 171.1h0" stroke="#3e8030" stroke-width="8" stroke-linecap="round"/>
<path d="M158.9 186.2h0M178.7 183h0" stroke="#5a9838" stroke-width="7.5" stroke-linecap="round"/>
<path d="M157.7 136.8h0M159.7 165.1h0M184 140.9h0M201.6 164.8h0" stroke="#3a7a2c" stroke-width="7" stroke-linecap="round"/>
<path d="M161.7 145.6h0M193.7 149.1h0M204.8 185.8h0" stroke="#4a8a34" stroke-width="7.5" stroke-linecap="round"/>
<path d="M160.9 157.3h0" stroke="#4a8a34" stroke-width="9" stroke-linecap="round"/>
<path d="M161.4 178.8h0M182 158.7h0M189.1 157h0M187.8 163.3h0M199.6 157h0" stroke="#3a7a2c" stroke-width="8" stroke-linecap="round"/>
<path d="M170.3 146.7h0M187.6 189.4h0" stroke="#4a8a34" stroke-width="7" stroke-linecap="round"/>
<path d="M172.6 159.7h0M170.1 180.3h0M186.5 151.1h0M206.1 183.3h0" stroke="#3e8030" stroke-width="7.5" stroke-linecap="round"/>
<path d="M168 188.8h0M174.2 150h0M195 178.3h0" stroke="#5a9838" stroke-width="8.5" stroke-linecap="round"/>
<path d="M177.6 140h0M198.4 143.6h0M204.5 150.4h0" stroke="#3a7a2c" stroke-width="7.5" stroke-linecap="round"/>
<path d="M175.2 160.9h0" stroke="#3a7a2c" stroke-width="8.5" stroke-linecap="round"/>
<path d="M192.8 166.5h0" stroke="#5a9838" stroke-width="7" stroke-linecap="round"/>
<path d="M209.5 173h0" stroke="#3a7a2c" stroke-width="9" stroke-linecap="round"/>
<path d="M149.8 139.1h0M154.5 164.4h0M157.7 177.1h0M166 140.4h0M184.3 140h0M202.2 174.1h0M204.1 150.1h0M204.6 184.8h0" stroke="#2444b4" stroke-width="4.5" stroke-linecap="round"/>
<path d="M156.6 144.3h0M167.3 150h0M186.7 189.9h0M188.1 179.1h0M194.9 135.3h0M201.9 139h0" stroke="#1a3094" stroke-width="4" stroke-linecap="round"/>
<path d="M152.2 150.2h0M173.5 159.4h0M165.8 166.6h0M168.4 187.9h0M189.4 156.1h0M188.1 163.7h0M194.5 189.9h0" stroke="#2240b0" stroke-width="4" stroke-linecap="round"/>
<path d="M153 156.1h0M157.2 135.8h0M160.8 146.3h0M164.9 189h0M183.7 142.6h0M208.1 147.9h0M202.3 164.3h0" stroke="#1e36a0" stroke-width="4.5" stroke-linecap="round"/>
<path d="M153.2 183.6h0M161.4 178.2h0M169.3 180.9h0M177.5 139.6h0M198.8 157.5h0" stroke="#1a3094" stroke-width="3.5" stroke-linecap="round"/>
<path d="M158 186.5h0M158.6 151.5h0M170.2 147h0M171.6 173.8h0M189.8 142.2h0" stroke="#2444b4" stroke-width="3.5" stroke-linecap="round"/>
<path d="M160.4 156.6h0M160.6 164.6h0M181.6 153.5h0M188.8 134.9h0M193.5 149.9h0M209.1 173.9h0" stroke="#2240b0" stroke-width="4.5" stroke-linecap="round"/>
<path d="M163 171.7h0" stroke="#2240b0" stroke-width="3.5" stroke-linecap="round"/>
<path d="M177.4 145.6h0M177 186.9h0M192.1 167.1h0M206 183h0" stroke="#1a3094" stroke-width="4.5" stroke-linecap="round"/>
<path d="M173.5 149.7h0M173.4 164.9h0M181 159h0M187.4 150.7h0M192.1 170.7h0" stroke="#1e36a0" stroke-width="3.5" stroke-linecap="round"/>
<path d="M175.2 160.3h0M174.9 173.3h0M181.9 168.3h0M185.6 174.1h0M177.8 183.8h0" stroke="#1e36a0" stroke-width="4" stroke-linecap="round"/>
<path d="M177 183h0M199.1 144.5h0M194.3 179.2h0M200.1 189.1h0M206.4 155.4h0" stroke="#2444b4" stroke-width="4" stroke-linecap="round"/>
<path d="M198.7 184.6h0M155.5 174.3h0M185.2 152.2h0M161.5 158.5h0M190 186.3h0M168 165.6h0M185.2 141.7h0M180.5 160.4h0M174.4 165.1h0M170.1 142.5h0M193.5 148h0M172.1 174.9h0M169.9 141.1h0M159.3 162.9h0" stroke="#f4e020" stroke-width="1" stroke-linecap="round"/>
<rect x="188" y="145" width="12" height="12" fill="none" stroke="#ffffff" stroke-width="1.7"/>
</g>
<g clip-path="url(#c8)">
<rect x="206" y="138" width="50" height="49.5" fill="#080806"/>
<path d="M209.5 135.2h0M209 186.6h0M213.4 155.7h0" stroke="#48a838" stroke-width="9.5" stroke-linecap="round"/>
<path d="M207.1 144.4h0" stroke="#3c9c30" stroke-width="8.5" stroke-linecap="round"/>
<path d="M203.8 155.6h0M229.5 183.9h0M257.8 149.7h0" stroke="#3c9c30" stroke-width="9.5" stroke-linecap="round"/>
<path d="M209.8 162.7h0M238.1 135.6h0" stroke="#3c9c30" stroke-width="9" stroke-linecap="round"/>
<path d="M208.5 168h0M227 179.3h0" stroke="#3c9c30" stroke-width="10" stroke-linecap="round"/>
<path d="M206.6 177.5h0" stroke="#50a838" stroke-width="10" stroke-linecap="round"/>
<path d="M222.2 143h0M228.3 166.1h0M233.2 142.6h0M241.5 145.6h0" stroke="#34902c" stroke-width="9.5" stroke-linecap="round"/>
<path d="M219.9 162.7h0" stroke="#34902c" stroke-width="8.5" stroke-linecap="round"/>
<path d="M217.3 171.6h0M225.8 149.1h0M224.6 151.5h0M222.7 168.8h0M230.2 168.5h0M240.9 191.1h0" stroke="#34902c" stroke-width="10.5" stroke-linecap="round"/>
<path d="M215.2 182.6h0M249.7 182h0M252.9 155.3h0M256.6 170.6h0" stroke="#50a838" stroke-width="10.5" stroke-linecap="round"/>
<path d="M212 190.8h0M231.1 139.5h0" stroke="#34902c" stroke-width="9" stroke-linecap="round"/>
<path d="M224.4 140.8h0" stroke="#50a838" stroke-width="8.5" stroke-linecap="round"/>
<path d="M229.3 153.9h0M246.8 155h0" stroke="#50a838" stroke-width="9" stroke-linecap="round"/>
<path d="M237.7 165.7h0M240.5 159.7h0" stroke="#34902c" stroke-width="10" stroke-linecap="round"/>
<path d="M238.7 177h0" stroke="#48a838" stroke-width="10" stroke-linecap="round"/>
<path d="M238.7 155.2h0" stroke="#3c9c30" stroke-width="11" stroke-linecap="round"/>
<path d="M242.5 181.5h0" stroke="#34902c" stroke-width="11" stroke-linecap="round"/>
<path d="M250.7 166.2h0M257.9 141.6h0" stroke="#48a838" stroke-width="9" stroke-linecap="round"/>
<path d="M260 160.2h0M255.8 186.7h0" stroke="#48a838" stroke-width="8.5" stroke-linecap="round"/>
<path d="M259.7 180.9h0" stroke="#48a838" stroke-width="10.5" stroke-linecap="round"/>
<path d="M208.6 135.2h0M217.8 172.3h0M225.5 151.7h0M229.3 166.1h0M227 178.6h0M232 139.6h0M238.3 136.3h0M239.8 159.1h0M249 181.3h0M260.1 160.7h0M254.9 186.8h0" stroke="#1a3094" stroke-width="4" stroke-linecap="round"/>
<path d="M206.2 144.6h0M207.5 176.7h0M238.4 156.1h0M247.1 155.3h0" stroke="#1e36a0" stroke-width="4.5" stroke-linecap="round"/>
<path d="M202.9 156.4h0M209.5 163.4h0M212.9 191.8h0M230.6 168.8h0M241.2 190.1h0" stroke="#2240b0" stroke-width="4" stroke-linecap="round"/>
<path d="M208.7 167.6h0M224.9 149.8h0M223.3 168.1h0M240.6 145.8h0M258.5 142.1h0" stroke="#1a3094" stroke-width="4.5" stroke-linecap="round"/>
<path d="M209.2 186.5h0M233.4 142.4h0" stroke="#2240b0" stroke-width="4.5" stroke-linecap="round"/>
<path d="M222 142.9h0" stroke="#1e36a0" stroke-width="3.5" stroke-linecap="round"/>
<path d="M212.9 155.3h0M223.8 140.2h0M259.8 181.1h0" stroke="#2240b0" stroke-width="3.5" stroke-linecap="round"/>
<path d="M219.3 163.6h0M214.7 182.6h0" stroke="#1e36a0" stroke-width="4" stroke-linecap="round"/>
<path d="M229.5 153.2h0M237.8 177.7h0M256.9 170.4h0" stroke="#2444b4" stroke-width="4.5" stroke-linecap="round"/>
<path d="M238.4 165.7h0M250.2 165.9h0" stroke="#1a3094" stroke-width="3.5" stroke-linecap="round"/>
<path d="M228.8 184.8h0M243.3 182h0M257.3 149.5h0M253.1 155.3h0" stroke="#2444b4" stroke-width="4" stroke-linecap="round"/>
<path d="M216.9 169.5h0M253.8 138.7h0M221.8 139.4h0M242.9 166.5h0M208.2 148.6h0M226.7 183.1h0" stroke="#f4e020" stroke-width="1" stroke-linecap="round"/>
<rect x="228" y="167" width="12" height="12" fill="none" stroke="#ffffff" stroke-width="1.7"/>
<rect x="247" y="181.5" width="6" height="2" fill="#ffffff"/>
</g>
<g clip-path="url(#c9)">
<rect x="47" y="84" width="50" height="49.5" fill="#2a0c06"/>
<ellipse cx="58.0" cy="100.0" rx="13.0" ry="16.0" fill="#90b030"/>
<ellipse cx="83.0" cy="110.0" rx="15.0" ry="14.0" fill="#7ea234"/>
<ellipse cx="84.0" cy="89.0" rx="14.0" ry="8.0" fill="#b8c030"/>
<ellipse cx="54.0" cy="129.0" rx="10.0" ry="9.0" fill="#98b030"/>
<ellipse cx="85.0" cy="130.0" rx="12.0" ry="6.0" fill="#80a030"/>
<path d="M69.6 111.7h0M80.1 106.6h0M96.3 122.1h0M49.1 91.2h0M47.5 114.2h0M58.9 118.9h0" stroke="#4a6020" stroke-width="3" stroke-linecap="round" stroke-opacity="0.5"/>
<path d="M72.4 113.1h0M78.5 123.3h0M96.9 133.3h0M57.7 129.9h0M63.8 99.4h0M96.9 85h0M90.3 93h0M68.1 89.1h0" stroke="#4a6020" stroke-width="2" stroke-linecap="round" stroke-opacity="0.5"/>
<path d="M62.2 88.5h0M48.8 127.5h0M85.9 100.2h0M81.1 93.3h0M96.8 113.8h0M50.7 88.5h0M53.4 113.1h0M54.9 115.1h0M71 116.3h0" stroke="#b0c040" stroke-width="4" stroke-linecap="round" stroke-opacity="0.5"/>
<path d="M76.8 103.6h0M73 115.7h0M62.8 95.4h0M50.5 121.9h0M65.8 119.1h0M47.5 107h0M81.3 103.2h0M88.2 113.5h0" stroke="#b0c040" stroke-width="3" stroke-linecap="round" stroke-opacity="0.5"/>
<path d="M78.2 125.2h0M89.3 103.1h0M84.9 89.8h0M52.8 104.8h0M92.4 124.5h0M93.5 132.4h0" stroke="#b0c040" stroke-width="2" stroke-linecap="round" stroke-opacity="0.5"/>
<path d="M75.3 93.8h0M60.5 132.1h0M47.8 102.2h0" stroke="#4a6020" stroke-width="4" stroke-linecap="round" stroke-opacity="0.5"/>
<ellipse cx="58.5" cy="98.0" rx="10.6" ry="7.3" fill="#2238a8" transform="rotate(-10 58.5 98.0)"/>
<ellipse cx="86.3" cy="113.8" rx="8.5" ry="9.3" fill="#2238a8"/>
<ellipse cx="79.0" cy="86.0" rx="8.0" ry="5.0" fill="#2238a8"/>
<ellipse cx="85.5" cy="133.0" rx="7.5" ry="5.0" fill="#2238a8"/>
<path d="M61 129.4h0" stroke="#f4e020" stroke-width="1" stroke-linecap="round"/>
<path d="M50.5 104.4h0" stroke="#f4e020" stroke-width="1.5" stroke-linecap="round"/>
</g>
<g clip-path="url(#c10)">
<rect x="100" y="84" width="50" height="49.5" fill="#4a9e38"/>
<ellipse cx="126.0" cy="112.0" rx="17.0" ry="13.0" fill="#3a7e2c"/>
<ellipse cx="105.0" cy="109.0" rx="4.0" ry="20.0" fill="#3a7428"/>
<path d="M123.7 116.5h0M128.8 93.9h0M133 132.1h0M148.4 132.3h0M117.8 102h0M147.8 92.3h0M101.2 100h0M132 95.4h0M124.5 101.5h0M113.9 130.7h0M145 123.1h0M109.4 97.4h0M131.1 90.2h0" stroke="#285a20" stroke-width="4" stroke-linecap="round" stroke-opacity="0.5"/>
<path d="M107.1 84.5h0M130.4 117.1h0M125.7 102.2h0M135.2 94.6h0M129 87.6h0" stroke="#285a20" stroke-width="3" stroke-linecap="round" stroke-opacity="0.5"/>
<path d="M113.7 124.1h0M145.9 124.6h0M144.1 111.6h0M130.5 110.8h0M118.2 109.3h0M113.8 101h0M131 132.7h0M138 104.7h0M144.9 129.1h0M104.1 100.5h0" stroke="#60b048" stroke-width="4" stroke-linecap="round" stroke-opacity="0.5"/>
<path d="M127.9 116.7h0M127.8 109.1h0M133.7 89.6h0M108.9 118.4h0M110 107.4h0M139.5 102.8h0M136 99.4h0" stroke="#285a20" stroke-width="2" stroke-linecap="round" stroke-opacity="0.5"/>
<path d="M118.4 100.8h0M134.1 123.5h0M119.4 122.2h0M109.1 121.9h0M112.1 84.4h0M101.4 84.2h0M127.9 97.2h0M100.9 119.2h0" stroke="#60b048" stroke-width="2" stroke-linecap="round" stroke-opacity="0.5"/>
<path d="M104.5 132.9h0M101.4 124.7h0M125.9 95h0M122.8 118.5h0M147.4 129.3h0M144.7 92h0M149 115.6h0" stroke="#60b048" stroke-width="3" stroke-linecap="round" stroke-opacity="0.5"/>
<ellipse cx="126.9" cy="113.3" rx="12.0" ry="8.0" fill="#2238a8" transform="rotate(-5 126.9 113.3)"/>
<ellipse cx="102.0" cy="92.0" rx="5.0" ry="9.0" fill="#2238a8"/>
<ellipse cx="105.0" cy="126.0" rx="9.0" ry="7.0" fill="#2238a8"/>
<ellipse cx="146.0" cy="88.0" rx="7.0" ry="7.0" fill="#2238a8"/>
<path d="M118.3 85.5h0M124.3 86.8h0M108.1 107h0" stroke="#f4e020" stroke-width="1.5" stroke-linecap="round"/>
<path d="M111.9 100.2h0M148.2 102.1h0M120.4 118.6h0" stroke="#f4e020" stroke-width="2" stroke-linecap="round"/>
<path d="M114.8 109.6h0M123 122.9h0" stroke="#f4e020" stroke-width="1" stroke-linecap="round"/>
</g>
<g clip-path="url(#c11)">
<rect x="153" y="84" width="50" height="49.5" fill="#44502a"/>
<ellipse cx="163.0" cy="96.0" rx="14.0" ry="14.0" fill="#90a830"/>
<ellipse cx="183.0" cy="114.0" rx="20.0" ry="18.0" fill="#58782c"/>
<ellipse cx="193.0" cy="92.0" rx="10.0" ry="8.0" fill="#608030"/>
<path d="M166 117.9h0M154.5 90.3h0M187.5 111.4h0M175 120.1h0M197.5 112.6h0M163.6 114.6h0M167.8 92.1h0M201.6 124.9h0M173.4 128.9h0M178.1 129.1h0M161.3 127.9h0M198.1 128.3h0" stroke="#6a8a30" stroke-width="4" stroke-linecap="round" stroke-opacity="0.5"/>
<path d="M185.6 117h0M172.5 119.6h0M199.9 109.8h0M168.8 106.8h0M156.1 110.1h0M196.2 89.5h0M166.2 124.7h0M162.8 103.5h0" stroke="#6a8a30" stroke-width="2" stroke-linecap="round" stroke-opacity="0.5"/>
<path d="M159.5 110.3h0M202.6 125.3h0M194.3 120.9h0M198.1 118.8h0M164.2 94.3h0M165.9 117.9h0M174.2 95.7h0M170.6 98.6h0M157.5 130.1h0" stroke="#2a2a14" stroke-width="2" stroke-linecap="round" stroke-opacity="0.5"/>
<path d="M170.8 95.6h0M186.5 128h0M185.8 101.1h0M181.3 127.9h0M159.6 105.3h0M169 91.7h0M186.3 130.3h0" stroke="#2a2a14" stroke-width="4" stroke-linecap="round" stroke-opacity="0.5"/>
<path d="M167.7 92.9h0M171.6 97h0M160.1 123.9h0M161 104.5h0M175.5 133.1h0M170.4 88.9h0" stroke="#2a2a14" stroke-width="3" stroke-linecap="round" stroke-opacity="0.5"/>
<path d="M163.2 126.3h0M171 120h0M198 92.3h0M179.3 90.3h0M174.4 115.7h0M183 84.2h0M168.4 113.9h0M182.3 112.9h0" stroke="#6a8a30" stroke-width="3" stroke-linecap="round" stroke-opacity="0.5"/>
<ellipse cx="163.5" cy="88.0" rx="8.0" ry="8.0" fill="#2238a8"/>
<ellipse cx="183.0" cy="111.7" rx="10.0" ry="9.5" fill="#2238a8" transform="rotate(-30 183.0 111.7)"/>
<path d="M158.8 90.8h0M203 124h0M202.8 107.3h0M173.5 91.7h0M162.7 102.6h0M154.5 128.8h0M197.3 108.6h0" stroke="#f4e020" stroke-width="1.5" stroke-linecap="round"/>
<path d="M179.7 98.8h0M166 102.4h0M189.3 89.3h0M166.8 95.2h0M173.8 133.2h0M163.7 120.9h0" stroke="#f4e020" stroke-width="2" stroke-linecap="round"/>
<path d="M198.9 86h0M175.5 84.2h0M159.3 84.3h0" stroke="#f4e020" stroke-width="1" stroke-linecap="round"/>
</g>
<g clip-path="url(#c12)">
<rect x="206" y="84" width="50" height="49.5" fill="#40a830"/>
<ellipse cx="209.0" cy="87.0" rx="6.0" ry="6.0" fill="#0a0a05"/>
<ellipse cx="211.0" cy="129.0" rx="12.0" ry="8.0" fill="#0a0a05"/>
<ellipse cx="254.0" cy="109.0" rx="4.0" ry="7.0" fill="#0a0a05"/>
<ellipse cx="254.0" cy="132.0" rx="5.0" ry="4.0" fill="#0a0a05"/>
<path d="M211.3 118.8h0M219.6 96.7h0M235.2 130.2h0" stroke="#58c040" stroke-width="4" stroke-linecap="round" stroke-opacity="0.5"/>
<path d="M238.9 99h0M220 85.4h0M230 117.9h0M225.2 131.5h0" stroke="#208a20" stroke-width="4" stroke-linecap="round" stroke-opacity="0.5"/>
<path d="M225.7 129h0M238.6 90.1h0M215.1 88.7h0M217.8 126.8h0M207 118.9h0M232.1 123.8h0M217.5 127.2h0M238.2 105.3h0M228.4 111h0" stroke="#58c040" stroke-width="3" stroke-linecap="round" stroke-opacity="0.5"/>
<path d="M249.5 99.6h0M210.2 94.1h0M219.5 114.9h0M228.8 108h0M235.8 88.7h0M234.5 108.2h0M223.4 112.2h0M218.4 113.9h0M231.4 125.6h0M240.6 91h0M245.3 96.7h0" stroke="#208a20" stroke-width="3" stroke-linecap="round" stroke-opacity="0.5"/>
<path d="M246.2 115.3h0M233.6 116.9h0M245.9 88.7h0M207.8 91.2h0M242.1 128.3h0M230.4 131.1h0M219.1 89.1h0M226.9 106h0" stroke="#58c040" stroke-width="2" stroke-linecap="round" stroke-opacity="0.5"/>
<path d="M249.6 118h0M231 89.1h0M211.7 110h0M223.8 110.2h0M215.6 85.2h0" stroke="#208a20" stroke-width="2" stroke-linecap="round" stroke-opacity="0.5"/>
<ellipse cx="209.0" cy="98.0" rx="7.0" ry="10.0" fill="#2238a8"/>
<ellipse cx="237.7" cy="92.4" rx="7.6" ry="5.6" fill="#2238a8"/>
<ellipse cx="233.0" cy="124.0" rx="11.0" ry="7.6" fill="#2238a8" transform="rotate(-5 233.0 124.0)"/>
<path d="M246.4 92.5h0M252.7 126.8h0M206 117.5h0" stroke="#f4e020" stroke-width="1" stroke-linecap="round"/>
<path d="M255.1 126.6h0M234.9 107.2h0M252 87.4h0M249.7 125h0M250.3 91.4h0M233.4 123.4h0M252.4 128.6h0M225.1 98.5h0M207.5 90.8h0" stroke="#f4e020" stroke-width="2" stroke-linecap="round"/>
<path d="M245.2 108.5h0M210.1 97.4h0" stroke="#f4e020" stroke-width="1.5" stroke-linecap="round"/>
</g>
<g clip-path="url(#c13)">
<rect x="47" y="190" width="50" height="49.5" fill="#1e1206"/>
<ellipse cx="65.0" cy="202.0" rx="20.0" ry="14.0" fill="#8cb030"/>
<ellipse cx="67.0" cy="228.0" rx="22.0" ry="11.0" fill="#90b030"/>
<ellipse cx="91.0" cy="212.0" rx="5.0" ry="22.0" fill="#4a6020"/>
<path d="M95.3 190.6h0M73.7 220.4h0M47.8 202.9h0M89.8 221.7h0M75.6 196h0" stroke="#b0c840" stroke-width="4" stroke-linecap="round" stroke-opacity="0.5"/>
<path d="M54.9 238.8h0M61 203h0M95 231.5h0M61.3 214.5h0" stroke="#b0c840" stroke-width="2" stroke-linecap="round" stroke-opacity="0.5"/>
<path d="M91 223.7h0M59 206.7h0M69 205.6h0M66.8 193.6h0M62.8 212.7h0M52 231.9h0M88.9 222.5h0" stroke="#5a7a20" stroke-width="4" stroke-linecap="round" stroke-opacity="0.5"/>
<path d="M90.7 229.5h0M93.2 215.3h0M67.3 232.7h0M67.1 214.9h0M50.9 205.4h0M61.4 192h0M49.2 193.1h0M80.9 220.2h0" stroke="#5a7a20" stroke-width="2" stroke-linecap="round" stroke-opacity="0.5"/>
<path d="M89 214.2h0M84.9 231.5h0M54.1 223.5h0M54.9 214.7h0M58.6 227.4h0M84.7 231.3h0M49.8 236.3h0M62.6 230.7h0M47.8 223.1h0M96.4 225.8h0" stroke="#5a7a20" stroke-width="3" stroke-linecap="round" stroke-opacity="0.5"/>
<path d="M66.3 213.6h0M92.4 190.1h0M72 215.4h0M81.2 205.6h0M77.2 224.8h0M90.7 232.4h0" stroke="#b0c840" stroke-width="3" stroke-linecap="round" stroke-opacity="0.5"/>
<ellipse cx="61.0" cy="203.3" rx="8.0" ry="10.5" fill="#2238a8"/>
<ellipse cx="64.3" cy="225.3" rx="8.8" ry="6.8" fill="#2238a8"/>
<path d="M65.4 201.6h0M96.8 225.8h0" stroke="#f4e020" stroke-width="1.5" stroke-linecap="round"/>
</g>
<path d="M47 215L83.6 221.5" fill="none" stroke="#1e1206" stroke-width="2.5"/>
<g clip-path="url(#c14)">
<rect x="100" y="190" width="50" height="49.5" fill="#1e200c"/>
<ellipse cx="128.0" cy="214.0" rx="20.0" ry="20.0" fill="#5e8a30"/>
<ellipse cx="140.0" cy="230.0" rx="10.0" ry="8.0" fill="#4a6a28"/>
<path d="M118.1 213.8h0M142.1 214.3h0M122.7 220.3h0M136.9 192.4h0M105.2 200.7h0M136.2 205.5h0M113.5 221.7h0" stroke="#6a9a3c" stroke-width="3" stroke-linecap="round" stroke-opacity="0.5"/>
<path d="M122.3 210.3h0M140.7 223h0M101.1 200.9h0M123.2 219.6h0M125.8 198.5h0M101.7 192.1h0M101.9 213h0M121.4 202.6h0M142.3 214.2h0M110.3 229h0M101.1 236.1h0" stroke="#283818" stroke-width="4" stroke-linecap="round" stroke-opacity="0.5"/>
<path d="M111.9 201h0M149.3 228.7h0M121 194.3h0M148.4 225h0M105.2 197.3h0M111.9 233.7h0M125.1 209.6h0M148.7 232h0M126.6 194.9h0" stroke="#283818" stroke-width="3" stroke-linecap="round" stroke-opacity="0.5"/>
<path d="M101 197.6h0M130.2 213.6h0M107.4 237.3h0M125.7 220.5h0" stroke="#6a9a3c" stroke-width="4" stroke-linecap="round" stroke-opacity="0.5"/>
<path d="M128.9 204h0M115.2 212.8h0M111.4 195h0M112.2 209.5h0M145 224.3h0M129.1 201.8h0M123 191.9h0M125.1 214.3h0M110.5 190.6h0M116.7 220h0M137.4 234.9h0" stroke="#6a9a3c" stroke-width="2" stroke-linecap="round" stroke-opacity="0.5"/>
<path d="M126.2 201.6h0M135 226h0M114.2 212.6h0M141.3 232.6h0M112.1 221.9h0M140.3 226h0M114.2 193.2h0M123.6 213.8h0" stroke="#283818" stroke-width="2" stroke-linecap="round" stroke-opacity="0.5"/>
<ellipse cx="122.4" cy="210.0" rx="11.6" ry="9.3" fill="#2238a8" transform="rotate(-15 122.4 210.0)"/>
<ellipse cx="101.0" cy="232.0" rx="6.0" ry="9.0" fill="#2238a8"/>
<ellipse cx="147.0" cy="193.0" rx="5.0" ry="5.0" fill="#2238a8"/>
<path d="M149.9 230.3h0M101.9 236h0M128.7 197.6h0M138.6 210.7h0M131.9 227.1h0M133.3 204.6h0" stroke="#f4e020" stroke-width="2" stroke-linecap="round"/>
<path d="M136 227.7h0M104.5 236.3h0M134.1 210h0M129.8 207.5h0M120.6 228.8h0M138.7 223.1h0M117.4 222.3h0" stroke="#f4e020" stroke-width="1.5" stroke-linecap="round"/>
<path d="M100.8 199.5h0M108.3 192.8h0M107.2 237.8h0" stroke="#f4e020" stroke-width="1" stroke-linecap="round"/>
</g>
<g clip-path="url(#c15)">
<rect x="153" y="190" width="50" height="49.5" fill="#263016"/>
<ellipse cx="178.0" cy="215.0" rx="24.0" ry="22.0" fill="#3a5420"/>
<ellipse cx="158.0" cy="198.0" rx="8.0" ry="8.0" fill="#4a6a28"/>
<path d="M179.1 229.9h0M158.5 191.3h0M165.6 214.8h0M165.5 205.2h0M194.9 222.5h0M193.1 192.4h0M194.2 201h0M166.2 238.9h0" stroke="#1a2410" stroke-width="3" stroke-linecap="round" stroke-opacity="0.5"/>
<path d="M161.7 224.9h0M187.1 210.2h0M161.5 194.7h0M173.2 226.2h0M198.4 192.5h0M161.1 210.7h0M201.1 218.6h0M199.5 217.5h0M189.9 193h0M166.5 207.2h0" stroke="#1a2410" stroke-width="4" stroke-linecap="round" stroke-opacity="0.5"/>
<path d="M159.9 217.3h0M166.4 228.9h0M162.2 239.3h0M156.9 212.7h0M174.7 212.2h0M178.9 224.6h0M179.8 227.6h0" stroke="#5a7c30" stroke-width="2" stroke-linecap="round" stroke-opacity="0.5"/>
<path d="M160.5 224.9h0M169.6 196.1h0M155.5 213.6h0M196.4 201.8h0M176.4 203.5h0M154 217.9h0M156.8 194.2h0M164.2 237.4h0M155.7 231.2h0M179.2 199.5h0M175.5 212.1h0M176.6 234.9h0" stroke="#5a7c30" stroke-width="4" stroke-linecap="round" stroke-opacity="0.5"/>
<path d="M168.5 194.1h0M200.9 216.1h0M169.8 192.5h0M193.2 235.5h0M177.1 230.6h0M190.6 200.5h0M195.5 229.3h0M173.3 190.4h0" stroke="#5a7c30" stroke-width="3" stroke-linecap="round" stroke-opacity="0.5"/>
<path d="M153.9 208.4h0M189.4 205.3h0M171.4 239.4h0M179.8 213.5h0M202.7 194.9h0" stroke="#1a2410" stroke-width="2" stroke-linecap="round" stroke-opacity="0.5"/>
<ellipse cx="179.0" cy="214.0" rx="9.6" ry="10.8" fill="#2238a8"/>
<ellipse cx="187.0" cy="232.0" rx="8.0" ry="8.0" fill="#2238a8" transform="rotate(-20 187.0 232.0)"/>
<ellipse cx="192.0" cy="192.0" rx="6.0" ry="5.0" fill="#2238a8"/>
<path d="M190.9 231.1h0M169.3 195.8h0M190.6 200.5h0M189.9 225h0" stroke="#f4e020" stroke-width="1" stroke-linecap="round"/>
<path d="M199.2 230.7h0M165.5 223.7h0M177.1 196.3h0M192.2 194.1h0M161.2 216.5h0M200.8 210.2h0M198.1 197.5h0M180 211.9h0M167.4 202h0M171.6 221.5h0M174.5 234h0M156.5 204.7h0M172.2 206.1h0M171.8 236.8h0M170.6 222.2h0M156.6 222.6h0" stroke="#f4e020" stroke-width="1.5" stroke-linecap="round"/>
<path d="M192.1 219.9h0M169.1 237.7h0M174.8 237h0M164.9 200.6h0M197.1 190.6h0M187.5 212.2h0" stroke="#f4e020" stroke-width="2" stroke-linecap="round"/>
</g>
<g clip-path="url(#c16)">
<rect x="206" y="190" width="50" height="49.5" fill="#050605"/>
</g>
<g clip-path="url(#c17)">
<path d="M226.9 190L256 190L256 205.7L247.9 217L240 225L226.9 236L206 239.7L206 234.5L214 223.5L217.3 209L225.3 198.4Z" fill="#3ea430" stroke="none" stroke-width="1"/>
<path d="M246 202h0M251 210h0M228 233h0M236 230h0M221 230h0M250 198h0M243 220h0" stroke="#e8e030" stroke-width="2" stroke-linecap="round"/>
<ellipse cx="231.0" cy="219.3" rx="9.6" ry="7.2" fill="#2238a8" transform="rotate(-10 231.0 219.3)"/>
<ellipse cx="253.0" cy="194.0" rx="6.0" ry="6.0" fill="#2238a8"/>
<ellipse cx="254.0" cy="237.0" rx="6.0" ry="5.0" fill="#2238a8"/>
</g>
<text x="46" y="252.5" font-size="10" text-anchor="start" fill="#231f20" stroke="#231f20" stroke-width="0.2"><tspan fill="#22c822" stroke="#22c822">PABPC1</tspan>+<tspan fill="#e82828" stroke="#e82828">G3BP1</tspan>+<tspan fill="#2828e0" stroke="#2828e0">DAPI</tspan></text>
<text x="46" y="264.5" font-size="10" text-anchor="start" fill="#231f20" stroke="#231f20" stroke-width="0.2">AS treated for 1 h</text>
<text x="275.8" y="11.2" font-size="15" text-anchor="start" font-weight="bold" fill="#2a1a14" stroke="#2a1a14" stroke-width="0.2">b</text>
<text x="288.7" y="12.7" font-size="9" text-anchor="start" fill="#231f20" stroke="#231f20" stroke-width="0.2">H1299<tspan font-size="5.5" dy="-2.8" font-style="italic">PABPC1-/-</tspan></text>
<text x="333.9" y="28.4" font-size="9" text-anchor="middle" fill="#231f20" stroke="#231f20" stroke-width="0.2">NT</text>
<text x="387.5" y="28.4" font-size="9" text-anchor="middle" fill="#231f20" stroke="#231f20" stroke-width="0.2">250 μM AS</text>
<text x="442.3" y="28.4" font-size="9" text-anchor="middle" fill="#231f20" stroke="#231f20" stroke-width="0.2">500 μM AS</text>
<text x="304.5" y="59" font-size="9" text-anchor="middle" fill="#231f20" transform="rotate(-90 304.5 59)" stroke="#231f20" stroke-width="0.2">Merged</text>
<text x="304.5" y="164" font-size="9" text-anchor="middle" fill="#231f20" transform="rotate(-90 304.5 164)" stroke="#231f20" stroke-width="0.2">Merged</text>
<text x="304.5" y="109.3" font-size="9" text-anchor="middle" fill="#231f20" transform="rotate(-90 304.5 109.3)" stroke="#231f20" stroke-width="0.2">Zoom</text>
<text x="304.5" y="214.9" font-size="9" text-anchor="middle" fill="#231f20" transform="rotate(-90 304.5 214.9)" stroke="#231f20" stroke-width="0.2">Zoom</text>
<line x1="293" y1="35.5" x2="293" y2="134.5" stroke="#231f20" stroke-width="0.9"/>
<line x1="293" y1="141" x2="293" y2="240" stroke="#231f20" stroke-width="0.9"/>
<text x="290" y="81.8" font-size="9" text-anchor="middle" fill="#231f20" transform="rotate(-90 290 81.8)" stroke="#231f20" stroke-width="0.2">WT</text>
<text x="290" y="188.8" font-size="9" text-anchor="middle" fill="#231f20" transform="rotate(-90 290 188.8)" stroke="#231f20" stroke-width="0.2">K512R</text>
<g clip-path="url(#c18)">
<rect x="307" y="31.5" width="50.5" height="50" fill="#1a0805"/>
<path d="M308.1 32.3h0M318.9 37.5h0M313.8 52.3h0M316.3 77.1h0M327.5 81.4h0M339.4 58.5h0M345.2 75h0" stroke="#3a7a2a" stroke-width="6" stroke-linecap="round"/>
<path d="M308.5 39.4h0M313.8 70.3h0M337.7 53h0M335.6 64h0M360.8 62.1h0" stroke="#5a8a30" stroke-width="6" stroke-linecap="round"/>
<path d="M307.1 44h0M311.4 33.3h0M324.8 29.3h0M327.2 72.8h0M334.9 35.9h0M362.1 50h0" stroke="#5a5a24" stroke-width="6.5" stroke-linecap="round"/>
<path d="M307.3 49.5h0" stroke="#3a7a2a" stroke-width="5.5" stroke-linecap="round"/>
<path d="M304.6 58.2h0M346 39.8h0M342.8 44.2h0M355.9 66.5h0" stroke="#6a6a28" stroke-width="6" stroke-linecap="round"/>
<path d="M308.6 60.2h0M321 73.4h0M325.4 59.3h0M340.3 62.2h0" stroke="#5a8a30" stroke-width="6.5" stroke-linecap="round"/>
<path d="M308.4 71.1h0M314.9 54.9h0M322.4 56.5h0M340.5 30.4h0M355.5 75.4h0" stroke="#5a5a24" stroke-width="7" stroke-linecap="round"/>
<path d="M307.5 74.3h0M304.8 84h0M325.6 37.1h0M332.1 55.1h0M356.7 30.5h0M358.4 35.4h0" stroke="#7a3a20" stroke-width="6.5" stroke-linecap="round"/>
<path d="M312.4 43.9h0M348.3 60.2h0" stroke="#3a7a2a" stroke-width="7" stroke-linecap="round"/>
<path d="M318.7 64.2h0M323.1 64.1h0M351.2 56.8h0M358.8 81.3h0" stroke="#4a7a2a" stroke-width="7" stroke-linecap="round"/>
<path d="M315.7 83.7h0M318.9 31.2h0M344.3 47.6h0M347 70.5h0M352.1 63.3h0M359.2 76.4h0" stroke="#4a7a2a" stroke-width="6.5" stroke-linecap="round"/>
<path d="M320.2 69.3h0M337.3 76.9h0" stroke="#5a8a30" stroke-width="7" stroke-linecap="round"/>
<path d="M322.1 80.6h0" stroke="#6a6a28" stroke-width="6.5" stroke-linecap="round"/>
<path d="M327.5 43.3h0M340.4 39.3h0M348.7 83.3h0" stroke="#4a7a2a" stroke-width="6" stroke-linecap="round"/>
<path d="M330.1 52.5h0M348 48.7h0M354.8 57.3h0" stroke="#6a6a28" stroke-width="7" stroke-linecap="round"/>
<path d="M329.6 64.9h0M340.9 66.9h0M353.3 52.5h0" stroke="#7a3a20" stroke-width="7" stroke-linecap="round"/>
<path d="M325.2 67.6h0M343.1 55.8h0M349.3 32.7h0M355.5 36.7h0" stroke="#7a3a20" stroke-width="6" stroke-linecap="round"/>
<path d="M329.7 30.1h0" stroke="#3a7a2a" stroke-width="6.5" stroke-linecap="round"/>
<path d="M332.8 81.1h0M352.5 71.6h0" stroke="#5a5a24" stroke-width="5.5" stroke-linecap="round"/>
<path d="M307.5 31.5h0M308.6 71.4h0M305.6 84.4h0M316.2 84.2h0M328.5 42.7h0M327.1 72.1h0M344.2 47.6h0M342.3 55.1h0M356 36.9h0M351.6 56.8h0M355.5 76h0" stroke="#2240b0" stroke-width="4" stroke-linecap="round"/>
<path d="M308.2 38.7h0M308.2 49.6h0M303.9 59.1h0M315.9 55h0M325.1 37h0M323.7 63.6h0M338.8 59.2h0" stroke="#2444b4" stroke-width="3.5" stroke-linecap="round"/>
<path d="M307.6 43.8h0M309.3 59.6h0M320.3 69.2h0M329.4 65.2h0M338.2 53h0M341.5 30.2h0M345.6 39.2h0M347.5 59.7h0M346.9 71.1h0M357 31.3h0M359.2 35.2h0" stroke="#1e36a0" stroke-width="3.5" stroke-linecap="round"/>
<path d="M307.2 74.2h0M359.8 77.1h0" stroke="#2444b4" stroke-width="3" stroke-linecap="round"/>
<path d="M311.6 33.5h0M319.5 63.9h0M317.3 77.9h0M330.2 53h0M337.2 76.2h0M340.9 63h0M347.4 47.9h0M349.2 32.8h0M348 82.9h0" stroke="#1e36a0" stroke-width="4" stroke-linecap="round"/>
<path d="M318.7 38.4h0M318.9 32h0M322.9 56.8h0M320.6 73.3h0M325.7 67.3h0M327.2 82.1h0M331.8 55.4h0M362.1 50.1h0M353.9 57.6h0" stroke="#1a3094" stroke-width="4" stroke-linecap="round"/>
<path d="M312.1 44.1h0" stroke="#1e36a0" stroke-width="3" stroke-linecap="round"/>
<path d="M314.1 51.6h0M322.5 81.6h0M332.3 81.5h0M340.2 39h0" stroke="#2444b4" stroke-width="4" stroke-linecap="round"/>
<path d="M314 70h0M323.9 29.8h0M329 30.6h0M340.2 66h0M346.2 75.7h0M351.8 63.3h0M353.1 70.7h0M355.4 65.8h0" stroke="#1a3094" stroke-width="3.5" stroke-linecap="round"/>
<path d="M326.2 58.5h0M336.2 63.6h0M353.5 53.1h0" stroke="#1a3094" stroke-width="3" stroke-linecap="round"/>
<path d="M335.2 36.2h0M342.2 43.2h0M361.3 61.2h0M358.5 81.9h0" stroke="#2240b0" stroke-width="3.5" stroke-linecap="round"/>
<rect x="337" y="35" width="12" height="12" fill="none" stroke="#ffffff" stroke-width="1.7"/>
</g>
<g clip-path="url(#c19)">
<rect x="360.5" y="31.5" width="50.5" height="50" fill="#1a0805"/>
<path d="M358.5 28.8h0" stroke="#6a6a28" stroke-width="6" stroke-linecap="round"/>
<path d="M361.9 35.6h0M365.6 75.7h0M367.9 32.1h0M376.5 76.9h0M400.7 39.7h0M401 64.9h0M409.6 52.1h0M411.5 77.8h0" stroke="#3a7a2a" stroke-width="6.5" stroke-linecap="round"/>
<path d="M359.6 46.2h0M372.7 43.5h0M378.9 50.3h0M397.3 77h0" stroke="#5a8a30" stroke-width="6" stroke-linecap="round"/>
<path d="M366.3 49.2h0M383.9 42.7h0M385.5 80.1h0M393.6 53.7h0M402.7 31.8h0" stroke="#4a7a2a" stroke-width="7" stroke-linecap="round"/>
<path d="M363 57.5h0M370.8 58.7h0M387.1 58.9h0M409.4 79.4h0" stroke="#6a6a28" stroke-width="6.5" stroke-linecap="round"/>
<path d="M364.8 60.2h0M410.9 56h0" stroke="#7a3a20" stroke-width="7" stroke-linecap="round"/>
<path d="M361 67.9h0M373.9 40.5h0M371.4 82.6h0M376.7 69h0M392.6 50.2h0" stroke="#5a5a24" stroke-width="6.5" stroke-linecap="round"/>
<path d="M362.1 84.1h0M369.4 44.8h0M372.4 62.8h0M384.4 63.4h0M386.3 62.1h0M390.7 29.1h0M396.6 42.7h0M411.6 40.1h0" stroke="#5a5a24" stroke-width="6" stroke-linecap="round"/>
<path d="M372.6 36.7h0M376.5 61.9h0M410 30.3h0" stroke="#7a3a20" stroke-width="6.5" stroke-linecap="round"/>
<path d="M371.8 51.2h0M365.7 82h0M379.6 44.5h0M384 50.1h0M387.3 36.4h0M397.7 69.9h0" stroke="#6a8a30" stroke-width="6.5" stroke-linecap="round"/>
<path d="M364.3 56.7h0M388.2 76.7h0M400.1 33.7h0M408.4 37.9h0M402.2 54.7h0" stroke="#6a6a28" stroke-width="7" stroke-linecap="round"/>
<path d="M366.3 69.9h0" stroke="#4a7a2a" stroke-width="6" stroke-linecap="round"/>
<path d="M368.9 74.5h0M402 46.5h0" stroke="#6a8a30" stroke-width="6" stroke-linecap="round"/>
<path d="M372.7 32.5h0M383.1 67.3h0M403.5 50.3h0M407 83.2h0" stroke="#7a3a20" stroke-width="6" stroke-linecap="round"/>
<path d="M372.3 67.3h0M380.3 55.7h0" stroke="#6a8a30" stroke-width="7" stroke-linecap="round"/>
<path d="M378.9 33.3h0M398 64.7h0M415.9 61.7h0" stroke="#3a7a2a" stroke-width="6" stroke-linecap="round"/>
<path d="M382.4 39.7h0M410.5 77.7h0M408.3 43h0" stroke="#3a7a2a" stroke-width="7" stroke-linecap="round"/>
<path d="M381.7 73.4h0M389.5 44h0M413.8 49.3h0" stroke="#4a7a2a" stroke-width="6.5" stroke-linecap="round"/>
<path d="M379.1 80.2h0M388.4 30.7h0M405.4 70.3h0" stroke="#5a8a30" stroke-width="7" stroke-linecap="round"/>
<path d="M388.7 48.6h0M393.3 39.9h0M391.4 82.3h0M399.6 72.7h0" stroke="#5a8a30" stroke-width="6.5" stroke-linecap="round"/>
<path d="M392.3 67h0" stroke="#6a6a28" stroke-width="7.5" stroke-linecap="round"/>
<path d="M400.2 59.2h0M396.9 81.6h0" stroke="#5a5a24" stroke-width="7" stroke-linecap="round"/>
<path d="M410.3 65.1h0" stroke="#6a8a30" stroke-width="7.5" stroke-linecap="round"/>
<path d="M413.1 71.6h0" stroke="#4a7a2a" stroke-width="7.5" stroke-linecap="round"/>
<path d="M359.2 28.6h0M365.4 60.5h0M360.7 67.5h0M366 81.7h0M379.6 44.2h0M378.7 81h0M391 83h0M399.9 58.6h0M396.6 81.9h0M406.1 83.8h0" stroke="#1a3094" stroke-width="4" stroke-linecap="round"/>
<path d="M362 36.4h0M361.4 84.7h0M373.4 39.9h0M371.5 82.1h0M382.5 38.7h0M384.9 62.5h0M387.5 31.1h0M410.1 51.9h0M403.2 55.3h0M410.5 65.7h0" stroke="#1a3094" stroke-width="3.5" stroke-linecap="round"/>
<path d="M358.8 46.1h0M365.2 57.6h0M365.5 70.6h0M373.1 32.8h0M380.5 55.4h0M392.1 67.2h0M401.4 39.1h0M401.3 64.4h0M400.5 73.1h0M409.4 30.6h0M412 41h0M415.7 61.7h0M413.2 72.2h0" stroke="#2240b0" stroke-width="4" stroke-linecap="round"/>
<path d="M366.9 49.1h0M365.6 75.2h0M368.1 74.1h0M372.7 67.8h0M384.9 43.3h0M397 42.2h0M402 46.7h0" stroke="#2240b0" stroke-width="3.5" stroke-linecap="round"/>
<path d="M363.9 56.9h0M372.7 62.3h0M377.2 69.6h0M386 62h0M382.7 66.6h0M389.2 76.9h0M385 80h0M401.9 31.8h0M410.3 76.9h0M413.7 49.5h0" stroke="#2444b4" stroke-width="3.5" stroke-linecap="round"/>
<path d="M367.7 33h0M377.1 61.9h0M389 49.2h0M387.1 58.9h0M409.1 42.9h0M410.5 55.3h0M409.3 78.9h0" stroke="#2444b4" stroke-width="4" stroke-linecap="round"/>
<path d="M373.3 36.7h0M369.9 43.9h0M371.9 43.8h0M371.4 57.7h0M376 76.6h0M378.2 33.5h0M384.6 49.3h0M381.2 73.1h0M392.3 40.3h0M390.4 44.6h0M394.5 53.4h0M397.1 63.9h0M399.3 32.8h0M402.8 50.2h0" stroke="#1e36a0" stroke-width="3.5" stroke-linecap="round"/>
<path d="M371.1 50.9h0M379.5 49.9h0M387.1 36.9h0M391.2 30h0M392.4 50.1h0M397.9 77.1h0M408 37.2h0M406 69.9h0M410.9 77.7h0" stroke="#1e36a0" stroke-width="4" stroke-linecap="round"/>
<path d="M397.3 69h0" stroke="#2240b0" stroke-width="3" stroke-linecap="round"/>
<rect x="393" y="54" width="12" height="12" fill="none" stroke="#ffffff" stroke-width="1.7"/>
</g>
<g clip-path="url(#c20)">
<rect x="414" y="31.5" width="50.5" height="50" fill="#1e0806"/>
<path d="M416.9 34h0M420.1 76.4h0M422.3 78.9h0M438.7 47.7h0" stroke="#8a3a24" stroke-width="7.5" stroke-linecap="round"/>
<path d="M413.5 46h0M416.7 78.7h0M422.6 60.7h0M433.7 77.1h0M437.4 79h0M447.4 65.5h0M457.2 47h0M461.3 53.1h0M470.4 80h0" stroke="#4a7a2a" stroke-width="7" stroke-linecap="round"/>
<path d="M413.6 58.3h0M425.9 61.9h0M431.1 75h0M460.4 36h0M462 74.8h0" stroke="#7a2a20" stroke-width="7" stroke-linecap="round"/>
<path d="M414.5 64.6h0M423.6 50.3h0M425.7 65.2h0M446.8 83.6h0" stroke="#7a2a20" stroke-width="6.5" stroke-linecap="round"/>
<path d="M413.5 74.4h0M420.4 46.2h0M442.5 44.8h0M442.3 76.1h0M453.5 66.9h0M458.5 29.4h0M464.8 44.2h0" stroke="#5a7a2a" stroke-width="6.5" stroke-linecap="round"/>
<path d="M421.8 32.5h0M448.5 55.5h0" stroke="#7a2a20" stroke-width="7.5" stroke-linecap="round"/>
<path d="M427.9 37.8h0" stroke="#4a7a2a" stroke-width="6.5" stroke-linecap="round"/>
<path d="M432.5 40.7h0M434.6 63.1h0M448.4 48.7h0M466.8 60.1h0" stroke="#8a3a24" stroke-width="7" stroke-linecap="round"/>
<path d="M427.6 44.4h0M439.5 56.1h0M440.7 31.8h0M465.4 51.1h0" stroke="#5a7a2a" stroke-width="7.5" stroke-linecap="round"/>
<path d="M433.8 53.2h0M442.3 61.3h0M467.5 30.5h0" stroke="#5a7a2a" stroke-width="7" stroke-linecap="round"/>
<path d="M434.2 65.5h0" stroke="#4a7a2a" stroke-width="7.5" stroke-linecap="round"/>
<path d="M429.9 84.6h0M436.2 40.6h0M444.9 38.1h0M451.4 83.9h0" stroke="#8a3a24" stroke-width="6.5" stroke-linecap="round"/>
<path d="M437.3 64.5h0M450.3 58.4h0" stroke="#6a6a28" stroke-width="7" stroke-linecap="round"/>
<path d="M452.6 39h0" stroke="#6a6a28" stroke-width="6" stroke-linecap="round"/>
<path d="M446.9 73.6h0" stroke="#5a7a2a" stroke-width="6" stroke-linecap="round"/>
<path d="M459.9 57.4h0" stroke="#6a6a28" stroke-width="6.5" stroke-linecap="round"/>
<path d="M463.3 67.2h0M458.4 75h0M459.7 80.5h0" stroke="#6a6a28" stroke-width="7.5" stroke-linecap="round"/>
<path d="M467.6 40.7h0" stroke="#7a2a20" stroke-width="6" stroke-linecap="round"/>
<path d="M417.4 34.9h0M434 53.3h0M430 85.5h0M439.4 55.2h0M447.7 48.2h0M459.5 58h0M459 79.9h0M467.7 41.2h0M469.5 79.7h0" stroke="#2444b4" stroke-width="3.5" stroke-linecap="round"/>
<path d="M412.8 46.3h0M413.9 64.2h0M413.1 74.4h0M441.9 45.2h0M447.3 84.1h0M457.5 29.6h0M466.7 29.8h0" stroke="#1a3094" stroke-width="3.5" stroke-linecap="round"/>
<path d="M412.7 58.3h0M417.2 78.1h0M431.8 74.2h0M437.5 64.3h0" stroke="#2240b0" stroke-width="3.5" stroke-linecap="round"/>
<path d="M422.4 31.8h0M422.5 60.9h0M422.6 78.2h0M433.8 76.6h0M449.1 56.3h0M442.6 61.1h0M448.1 66.4h0M447.6 73.5h0M461.2 35.4h0M463.3 67.4h0" stroke="#1e36a0" stroke-width="3.5" stroke-linecap="round"/>
<path d="M427.5 37.3h0M425.1 65.6h0M427.9 43.7h0M440 31.9h0M459.2 75.2h0M465.9 50.7h0M467.4 60.5h0M462.1 75.1h0" stroke="#1e36a0" stroke-width="4" stroke-linecap="round"/>
<path d="M421.3 45.3h0M419.3 77.1h0M432.3 39.8h0M465.8 43.6h0" stroke="#2444b4" stroke-width="4" stroke-linecap="round"/>
<path d="M423.9 50.3h0M444.8 37.2h0M449.7 57.9h0M454.1 67.7h0M451.7 84.6h0" stroke="#1a3094" stroke-width="4" stroke-linecap="round"/>
<path d="M425.9 61.8h0" stroke="#1a3094" stroke-width="3" stroke-linecap="round"/>
<path d="M434.4 66.2h0M435.5 40h0M438.3 47.9h0M435.2 62.3h0M438.4 78.1h0M452.9 39.9h0M457.2 46.5h0M461.6 54.1h0" stroke="#2240b0" stroke-width="4" stroke-linecap="round"/>
<path d="M443.1 75.8h0" stroke="#2240b0" stroke-width="3" stroke-linecap="round"/>
<rect x="435" y="52" width="13" height="13" fill="none" stroke="#ffffff" stroke-width="1.7"/>
</g>
<g clip-path="url(#c21)">
<rect x="307" y="138" width="50.5" height="50" fill="#240a08"/>
<path d="M308.9 136.2h0M328.7 146.4h0M327.1 177.3h0M329.5 181.2h0M336.9 180.7h0M340.2 173.3h0" stroke="#8a3020" stroke-width="5.5" stroke-linecap="round"/>
<path d="M308.4 145.2h0M308.2 157.9h0M357.8 190.5h0" stroke="#4a7a2a" stroke-width="6" stroke-linecap="round"/>
<path d="M308.5 162.7h0M320.8 142.2h0M322.5 164.5h0M323.6 181.1h0M319.1 187.8h0M331.7 185.3h0" stroke="#8a3020" stroke-width="6.5" stroke-linecap="round"/>
<path d="M312.9 167.1h0M336.1 139.6h0M341.9 146.5h0M349.8 136.9h0" stroke="#6a5a20" stroke-width="6" stroke-linecap="round"/>
<path d="M309.6 176.8h0M336.5 168.8h0M358.8 149h0" stroke="#6a6a28" stroke-width="5.5" stroke-linecap="round"/>
<path d="M309 184.3h0M334.6 174.2h0M349.2 142.9h0" stroke="#6a6a28" stroke-width="6.5" stroke-linecap="round"/>
<path d="M315.3 136.1h0M315.7 159h0M344.6 151.3h0" stroke="#6a6a28" stroke-width="6" stroke-linecap="round"/>
<path d="M312.3 165.2h0M318.2 183.5h0M333.9 151.3h0" stroke="#6a5a20" stroke-width="5.5" stroke-linecap="round"/>
<path d="M315.4 186.7h0M326.6 156.5h0M362.1 167.8h0" stroke="#7a3a20" stroke-width="6.5" stroke-linecap="round"/>
<path d="M322 135.7h0M351.6 175.4h0M352.3 186.1h0" stroke="#8a3020" stroke-width="6" stroke-linecap="round"/>
<path d="M320.6 153.2h0M330.6 166.6h0M336 165.4h0M342.9 166.7h0M355 146.8h0" stroke="#4a7a2a" stroke-width="6.5" stroke-linecap="round"/>
<path d="M321.3 170h0M339.9 154.2h0M344 161.3h0" stroke="#4a7a2a" stroke-width="5.5" stroke-linecap="round"/>
<path d="M324.5 136.2h0" stroke="#7a3a20" stroke-width="5.5" stroke-linecap="round"/>
<path d="M324.4 186.9h0" stroke="#6a5a20" stroke-width="5" stroke-linecap="round"/>
<path d="M342.5 139.7h0M350.8 158.7h0" stroke="#7a3a20" stroke-width="6" stroke-linecap="round"/>
<path d="M346.8 183.8h0" stroke="#4a7a2a" stroke-width="7" stroke-linecap="round"/>
<path d="M309.1 137.1h0M319.7 188.4h0M339.8 153.7h0M341.7 139.3h0M354 146.2h0" stroke="#2444b4" stroke-width="3" stroke-linecap="round"/>
<path d="M307.7 144.5h0M316.5 159.3h0M320 143.1h0M322.1 170.8h0M326.8 155.7h0M330.2 166.2h0M346.1 184h0M358.1 148.3h0" stroke="#1a3094" stroke-width="3.5" stroke-linecap="round"/>
<path d="M307.6 158.9h0M309.2 162.3h0M312.4 166.6h0M323.6 135.7h0M328.1 176.5h0M336.2 140.5h0M361.4 167.7h0" stroke="#2240b0" stroke-width="3.5" stroke-linecap="round"/>
<path d="M310.1 177.1h0M329.5 145.7h0M332 185.6h0M349.1 137.3h0" stroke="#1e36a0" stroke-width="3.5" stroke-linecap="round"/>
<path d="M309.5 183.6h0M322.9 164.7h0M325.2 187h0M334.9 150.9h0M341.3 146.2h0M352.3 174.8h0" stroke="#2444b4" stroke-width="3.5" stroke-linecap="round"/>
<path d="M314.3 136.9h0M337.2 179.8h0M341 173.1h0" stroke="#2240b0" stroke-width="3" stroke-linecap="round"/>
<path d="M311.7 164.4h0M330.3 181.7h0M335.6 165.6h0M343.1 160.4h0" stroke="#2444b4" stroke-width="4" stroke-linecap="round"/>
<path d="M317.5 183.2h0M322.3 135.7h0M320.4 153.2h0" stroke="#1e36a0" stroke-width="4" stroke-linecap="round"/>
<path d="M314.8 186.5h0M322.8 181.1h0M336.3 169.7h0M342 167.7h0M350.1 158.8h0" stroke="#2240b0" stroke-width="4" stroke-linecap="round"/>
<path d="M335.2 174.9h0M344.5 151.2h0" stroke="#1a3094" stroke-width="3" stroke-linecap="round"/>
<path d="M348.8 143.5h0M352.5 185.9h0M357 191.4h0" stroke="#1a3094" stroke-width="4" stroke-linecap="round"/>
<rect x="317" y="154" width="12" height="12" fill="none" stroke="#ffffff" stroke-width="1.7"/>
</g>
<g clip-path="url(#c22)">
<rect x="360.5" y="138" width="50.5" height="50" fill="#140804"/>
<path d="M363.3 140.2h0M391.8 185.9h0M407.5 157h0M413 135h0M413.4 190.8h0" stroke="#5a6a28" stroke-width="7" stroke-linecap="round"/>
<path d="M366.5 146h0M365.6 168.6h0M379.3 188.3h0M391.7 136.5h0" stroke="#4a9030" stroke-width="6.5" stroke-linecap="round"/>
<path d="M363.4 150.7h0M379.6 182.9h0M382.7 188.1h0M402.5 158h0M410.5 185.5h0" stroke="#4a9030" stroke-width="7" stroke-linecap="round"/>
<path d="M363.6 160h0M416.3 146.7h0" stroke="#4a9030" stroke-width="7.5" stroke-linecap="round"/>
<path d="M361.7 168.7h0M366 174.5h0M382.6 167.3h0M395 139.4h0" stroke="#3a7a2a" stroke-width="7" stroke-linecap="round"/>
<path d="M358.4 179.9h0M364.9 152.7h0M406.5 142.4h0M404.9 167.9h0" stroke="#6a4a20" stroke-width="7" stroke-linecap="round"/>
<path d="M361.5 191h0" stroke="#6a9a30" stroke-width="7" stroke-linecap="round"/>
<path d="M365.1 138.5h0M399.3 188h0M417.3 174.8h0" stroke="#3a7a2a" stroke-width="7.5" stroke-linecap="round"/>
<path d="M369.3 143h0M376.7 171.4h0M385.2 161.4h0M392.4 153.6h0" stroke="#6a9a30" stroke-width="6" stroke-linecap="round"/>
<path d="M368.9 161.8h0M370.8 174.1h0M379.4 144.9h0" stroke="#3a7a2a" stroke-width="6.5" stroke-linecap="round"/>
<path d="M367.7 180.9h0" stroke="#6a4a20" stroke-width="7.5" stroke-linecap="round"/>
<path d="M368.4 190h0M374.1 178.7h0M414 149.5h0M410.3 167.4h0" stroke="#5a6a28" stroke-width="6.5" stroke-linecap="round"/>
<path d="M372 137.4h0" stroke="#6a9a30" stroke-width="7.5" stroke-linecap="round"/>
<path d="M373.1 153h0M396.7 163.4h0M406.2 176.3h0" stroke="#6a9a30" stroke-width="6.5" stroke-linecap="round"/>
<path d="M375.7 157.1h0M398.8 144.9h0M417.5 159.3h0" stroke="#5a6a28" stroke-width="7.5" stroke-linecap="round"/>
<path d="M376.1 169h0M393.7 142.4h0M392.1 158h0" stroke="#4a9030" stroke-width="6" stroke-linecap="round"/>
<path d="M380.9 138h0" stroke="#6a9a30" stroke-width="8" stroke-linecap="round"/>
<path d="M386.9 144.8h0M393.3 176h0M396.4 178h0" stroke="#6a4a20" stroke-width="8" stroke-linecap="round"/>
<path d="M385.3 149.8h0M401.8 176.8h0M402.6 140.7h0" stroke="#4a9030" stroke-width="8" stroke-linecap="round"/>
<path d="M382.6 175.3h0M401.2 149.9h0" stroke="#6a4a20" stroke-width="6" stroke-linecap="round"/>
<path d="M390 167.8h0" stroke="#5a6a28" stroke-width="6" stroke-linecap="round"/>
<path d="M387.2 178.1h0M398.6 150.9h0M406.4 177.9h0" stroke="#5a6a28" stroke-width="8" stroke-linecap="round"/>
<path d="M410.1 178.4h0" stroke="#6a4a20" stroke-width="6.5" stroke-linecap="round"/>
<path d="M363.7 140.5h0M363.4 160.6h0M385 160.6h0M380.5 182.1h0M405.6 142.5h0M406.9 176.8h0M411.3 166.4h0M413.9 190.5h0" stroke="#1e36a0" stroke-width="3.5" stroke-linecap="round"/>
<path d="M366.6 146.3h0M387.6 144.7h0M391 136.7h0M394.1 176.4h0M395.5 138.6h0M397.6 163h0M398.8 188.6h0M400.8 149.6h0M416.9 175.3h0" stroke="#2240b0" stroke-width="4" stroke-linecap="round"/>
<path d="M364.4 151.3h0M366.9 174.1h0M358.7 180.3h0M364.5 153.7h0M378.6 144.1h0M373.3 153.4h0M373.7 178.2h0M381.1 137.9h0M387.3 178.1h0" stroke="#1e36a0" stroke-width="4" stroke-linecap="round"/>
<path d="M362.3 169.1h0M369.8 161.7h0M368 191h0M378.9 188h0M404.4 167.9h0M415.8 146.5h0M416.6 159.1h0" stroke="#2444b4" stroke-width="3.5" stroke-linecap="round"/>
<path d="M362.3 192h0M376 172.4h0M382.8 174.8h0M392.3 153.4h0M389.1 167h0M390.9 186.2h0" stroke="#2240b0" stroke-width="3.5" stroke-linecap="round"/>
<path d="M365.2 139.3h0M384.8 149h0M392.4 157.3h0M406.5 178.9h0" stroke="#2240b0" stroke-width="4.5" stroke-linecap="round"/>
<path d="M370.1 143.8h0M381.7 166.9h0M393.3 142.6h0M402.7 140.5h0M410.5 178.1h0" stroke="#2444b4" stroke-width="4" stroke-linecap="round"/>
<path d="M366.6 168.8h0M371 174h0M376.6 157h0M375.7 169.8h0M397.9 151.5h0M401.6 177h0M414.3 150.3h0" stroke="#1a3094" stroke-width="4" stroke-linecap="round"/>
<path d="M367.1 181.2h0M398 144.9h0" stroke="#1a3094" stroke-width="4.5" stroke-linecap="round"/>
<path d="M373 137.6h0M407.6 157.6h0" stroke="#1e36a0" stroke-width="4.5" stroke-linecap="round"/>
<path d="M382.1 187.7h0" stroke="#2444b4" stroke-width="4.5" stroke-linecap="round"/>
<path d="M402.7 158.6h0M397 177.3h0M410.8 184.5h0M413.8 134.4h0" stroke="#1a3094" stroke-width="3.5" stroke-linecap="round"/>
<rect x="383" y="151" width="13" height="13" fill="none" stroke="#ffffff" stroke-width="1.7"/>
</g>
<g clip-path="url(#c23)">
<rect x="414" y="138" width="50.5" height="50" fill="#140804"/>
<path d="M412.1 136.1h0M420.5 180.4h0M433.7 189.8h0M448.2 168.2h0M461 161.5h0" stroke="#4a9030" stroke-width="7.5" stroke-linecap="round"/>
<path d="M414.7 146.9h0M418.3 149.1h0M429 163.6h0M435.2 178.1h0" stroke="#4a9030" stroke-width="6.5" stroke-linecap="round"/>
<path d="M411 153.5h0M420.7 170.7h0M423.3 135h0M448.2 152.3h0" stroke="#6a4a20" stroke-width="7.5" stroke-linecap="round"/>
<path d="M418.5 162.3h0" stroke="#6a9a30" stroke-width="6" stroke-linecap="round"/>
<path d="M413.4 168.8h0M431.2 147h0M454.1 150.8h0M459.4 174.7h0" stroke="#3a7a2a" stroke-width="7" stroke-linecap="round"/>
<path d="M412.2 178.5h0" stroke="#6a4a20" stroke-width="8" stroke-linecap="round"/>
<path d="M419.8 190.9h0M425.8 152.6h0M433.9 162.3h0M447.5 189.5h0M468.7 143.4h0" stroke="#6a9a30" stroke-width="7.5" stroke-linecap="round"/>
<path d="M423.5 145.4h0M439.7 139.2h0" stroke="#3a7a2a" stroke-width="7.5" stroke-linecap="round"/>
<path d="M425.2 161.5h0M420.7 168.8h0M430.3 171h0M450.9 143.7h0M456.1 165h0M469.8 190.8h0" stroke="#5a6a28" stroke-width="6.5" stroke-linecap="round"/>
<path d="M427.3 172.1h0M431.4 179.9h0M436.9 137h0M471.2 171.1h0M461.6 183.5h0" stroke="#3a7a2a" stroke-width="6.5" stroke-linecap="round"/>
<path d="M422 185.3h0M445.8 156.9h0M447.1 135.7h0M456.5 191.1h0M465 160.8h0" stroke="#5a6a28" stroke-width="7" stroke-linecap="round"/>
<path d="M429.8 135.1h0M440 161.5h0M459 143h0M459.3 190.9h0M462.9 153.7h0" stroke="#6a9a30" stroke-width="7" stroke-linecap="round"/>
<path d="M438.5 142.1h0M445.7 153.2h0M442.5 165.3h0M461.6 138.7h0" stroke="#4a9030" stroke-width="7" stroke-linecap="round"/>
<path d="M436.1 152.4h0M455.2 170.7h0" stroke="#6a4a20" stroke-width="6.5" stroke-linecap="round"/>
<path d="M436.2 168.6h0M456.4 160.8h0" stroke="#6a9a30" stroke-width="8" stroke-linecap="round"/>
<path d="M436.1 173.3h0M443.4 148h0M444.9 182.1h0" stroke="#6a4a20" stroke-width="7" stroke-linecap="round"/>
<path d="M436.6 188.7h0" stroke="#5a6a28" stroke-width="8" stroke-linecap="round"/>
<path d="M447.1 176.8h0M451.2 181.1h0" stroke="#3a7a2a" stroke-width="8" stroke-linecap="round"/>
<path d="M457.2 135.5h0" stroke="#5a6a28" stroke-width="6" stroke-linecap="round"/>
<path d="M457.8 180.7h0" stroke="#5a6a28" stroke-width="7.5" stroke-linecap="round"/>
<path d="M464.3 164h0" stroke="#6a9a30" stroke-width="6.5" stroke-linecap="round"/>
<path d="M411.8 136.1h0M437.3 137.2h0M439.1 138.7h0M447.3 176.9h0M459.8 142.2h0M455.7 164.6h0M463.8 164.3h0" stroke="#1e36a0" stroke-width="3.5" stroke-linecap="round"/>
<path d="M414.4 147.5h0M419 163.3h0M414 169h0M426.3 152.5h0M429.3 163.2h0M445.3 157.4h0M443.4 165.1h0M448 189.8h0M456.5 161.2h0M459.3 191.6h0M470.6 172h0" stroke="#1a3094" stroke-width="3.5" stroke-linecap="round"/>
<path d="M411 153h0M418.9 150h0M420.1 179.8h0M434.2 190.5h0M444.7 152.4h0M457.2 134.7h0" stroke="#2444b4" stroke-width="4" stroke-linecap="round"/>
<path d="M420.2 170.6h0" stroke="#1a3094" stroke-width="4.5" stroke-linecap="round"/>
<path d="M412.5 178.7h0M430.2 146h0M434.9 162.2h0M436 153h0M435.3 179h0M444.5 182h0M461.6 160.6h0M462.1 138.1h0M470.6 190.8h0" stroke="#1a3094" stroke-width="4" stroke-linecap="round"/>
<path d="M420 191.5h0M435.2 169.4h0M436.5 189.7h0M448.1 152.6h0M447.8 168.8h0M454.1 151.5h0M461.9 154h0M465.4 161.1h0" stroke="#2240b0" stroke-width="4" stroke-linecap="round"/>
<path d="M422.8 134.4h0M438 142.3h0M447.1 135.9h0M450.9 180.5h0" stroke="#2240b0" stroke-width="4.5" stroke-linecap="round"/>
<path d="M423.7 146.2h0" stroke="#2240b0" stroke-width="3.5" stroke-linecap="round"/>
<path d="M425.7 161.5h0" stroke="#2444b4" stroke-width="3.5" stroke-linecap="round"/>
<path d="M421.7 168.9h0M428.2 172.7h0M421.5 186.2h0M430.6 135.2h0M435.8 174.2h0M444.1 148.3h0M450.1 142.8h0M459 174.6h0M469.4 144h0" stroke="#1e36a0" stroke-width="4" stroke-linecap="round"/>
<path d="M430.5 171.3h0M432 180.6h0M440.7 162.3h0M461.5 183.9h0" stroke="#1e36a0" stroke-width="4.5" stroke-linecap="round"/>
<path d="M454.9 170.8h0M457.3 191.7h0M457.5 181.5h0" stroke="#2444b4" stroke-width="4.5" stroke-linecap="round"/>
<rect x="429" y="151" width="13" height="13" fill="none" stroke="#ffffff" stroke-width="1.7"/>
<rect x="455.5" y="182" width="6" height="2" fill="#ffffff"/>
</g>
<g clip-path="url(#c24)">
<rect x="307" y="84" width="50.5" height="50" fill="#301408"/>
<ellipse cx="322.0" cy="102.0" rx="18.0" ry="16.0" fill="#5e6e30"/>
<ellipse cx="347.0" cy="109.0" rx="14.0" ry="18.0" fill="#5a6a2a"/>
<ellipse cx="332.0" cy="126.0" rx="14.0" ry="8.0" fill="#4a4a20"/>
<ellipse cx="347.0" cy="86.0" rx="12.0" ry="5.0" fill="#a02020"/>
<path d="M307.6 89.6h0M317 100.5h0M355.2 125.9h0M317.3 125.8h0M311.3 110.6h0M317.5 105.6h0M323.7 124.9h0M331.3 116.5h0M356.3 133.7h0M350.4 133.1h0M345.7 133.3h0M322.6 125h0M325.8 110.1h0M317.5 96.3h0" stroke="#7a8a30" stroke-width="3" stroke-linecap="round" stroke-opacity="0.5"/>
<path d="M341.5 90.9h0M353 116.5h0M312 133.1h0M315.9 86.3h0" stroke="#7a8a30" stroke-width="2" stroke-linecap="round" stroke-opacity="0.5"/>
<path d="M342.9 91h0M333.6 94.2h0M317.6 94.8h0M354.6 118.5h0M328.5 119.6h0" stroke="#7a8a30" stroke-width="4" stroke-linecap="round" stroke-opacity="0.5"/>
<path d="M340.4 90.8h0M320.3 98.7h0M335.3 130.8h0M311.7 93.6h0M309.9 114.6h0M350.2 108.3h0M341.8 111.7h0M318.5 93.7h0M309.1 117.4h0" stroke="#402010" stroke-width="4" stroke-linecap="round" stroke-opacity="0.5"/>
<path d="M313 122.5h0M342.1 88.8h0M330 124h0M356.1 122.4h0M307.6 102.8h0" stroke="#402010" stroke-width="3" stroke-linecap="round" stroke-opacity="0.5"/>
<path d="M346.8 112.1h0M317.2 92.1h0M353.6 128.3h0" stroke="#402010" stroke-width="2" stroke-linecap="round" stroke-opacity="0.5"/>
<ellipse cx="319.9" cy="97.5" rx="7.5" ry="6.2" fill="#2238a8"/>
<ellipse cx="339.0" cy="116.0" rx="5.6" ry="5.0" fill="#2238a8"/>
<ellipse cx="351.0" cy="121.6" rx="6.0" ry="5.6" fill="#2238a8"/>
<ellipse cx="354.0" cy="97.0" rx="4.0" ry="5.6" fill="#2238a8"/>
<ellipse cx="313.0" cy="126.5" rx="5.6" ry="5.5" fill="#5a3a9a"/>
<path d="M353.4 97.5h0M308.7 114.7h0" stroke="#f4e020" stroke-width="2" stroke-linecap="round"/>
</g>
<g clip-path="url(#c25)">
<rect x="360.5" y="84" width="50.5" height="50" fill="#221e0a"/>
<ellipse cx="386.5" cy="110.0" rx="20.0" ry="18.0" fill="#4a6424"/>
<ellipse cx="368.5" cy="122.0" rx="8.0" ry="10.0" fill="#6a4a40"/>
<ellipse cx="405.5" cy="124.0" rx="8.0" ry="10.0" fill="#3a7a40"/>
<path d="M364.4 94.7h0M393.9 86.4h0M399.9 99.8h0M379.6 89.7h0" stroke="#607a28" stroke-width="3" stroke-linecap="round" stroke-opacity="0.5"/>
<path d="M385.6 120h0M385 122.6h0M408.6 94.1h0M382.7 105.6h0M389.2 112.8h0M372.1 100.5h0M400.6 84.5h0M379.9 93.7h0M408.6 108.6h0M387 109.4h0M367.5 96.4h0M408.7 133.1h0" stroke="#201a08" stroke-width="2" stroke-linecap="round" stroke-opacity="0.5"/>
<path d="M386.2 126.2h0M372 107.4h0M369 124.7h0M360.8 131.6h0M391 125.1h0M405 120.1h0M373 99.9h0" stroke="#201a08" stroke-width="4" stroke-linecap="round" stroke-opacity="0.5"/>
<path d="M379.2 84h0M366.6 132.9h0M368.7 133.6h0M379.5 120.1h0M368.9 102.3h0M394.9 102.3h0M391.2 127.6h0M363.4 118h0M384 126.3h0M367 88.2h0M375.9 93.1h0M365.6 131.8h0" stroke="#607a28" stroke-width="2" stroke-linecap="round" stroke-opacity="0.5"/>
<path d="M403 98.5h0M361.9 131.6h0M409.6 127.2h0" stroke="#607a28" stroke-width="4" stroke-linecap="round" stroke-opacity="0.5"/>
<path d="M383.5 88.2h0M367.1 118.6h0" stroke="#201a08" stroke-width="3" stroke-linecap="round" stroke-opacity="0.5"/>
<ellipse cx="386.3" cy="114.2" rx="8.0" ry="6.8" fill="#2238a8"/>
<ellipse cx="396.2" cy="85.5" rx="7.0" ry="4.0" fill="#2238a8"/>
<ellipse cx="370.1" cy="123.6" rx="4.5" ry="6.0" fill="#7a40a0"/>
<ellipse cx="404.5" cy="129.0" rx="4.5" ry="5.0" fill="#2238a8"/>
<path d="M369.9 133.2h0M365 103.6h0M393.3 126.1h0" stroke="#f4e020" stroke-width="1.5" stroke-linecap="round"/>
<path d="M361.1 112.1h0" stroke="#f4e020" stroke-width="1" stroke-linecap="round"/>
<path d="M365.9 118.1h0M379.5 107.6h0M383.1 119.2h0M376.8 132.2h0" stroke="#f4e020" stroke-width="2" stroke-linecap="round"/>
</g>
<g clip-path="url(#c26)">
<rect x="414" y="84" width="50.5" height="50" fill="#2a2a0e"/>
<ellipse cx="438.0" cy="109.0" rx="20.0" ry="22.0" fill="#5a7a2c"/>
<ellipse cx="459.0" cy="109.0" rx="8.0" ry="20.0" fill="#4a8a30"/>
<ellipse cx="460.0" cy="119.0" rx="5.0" ry="8.0" fill="#c02030"/>
<path d="M442.8 115.6h0M462.8 110.4h0M461.6 115.8h0M453.9 113.5h0M438.5 84.5h0M414.7 111.1h0M458.7 130.5h0M428.1 131.3h0M437.9 115.1h0M452.4 132.3h0" stroke="#2a2008" stroke-width="3" stroke-linecap="round" stroke-opacity="0.5"/>
<path d="M446.9 128.5h0M442 103.5h0M458.4 102.2h0M452.3 102.1h0M450.8 108.2h0M445.4 98.3h0M451.9 113.3h0M456.9 115.3h0M462 87.6h0" stroke="#708a30" stroke-width="4" stroke-linecap="round" stroke-opacity="0.5"/>
<path d="M463.5 129.3h0M447 122.5h0M430.2 101.7h0M448.2 103.4h0M419.3 93.3h0M461 100.7h0M443 133.8h0" stroke="#2a2008" stroke-width="4" stroke-linecap="round" stroke-opacity="0.5"/>
<path d="M429.6 108.8h0M458.1 126.2h0M460.3 124.7h0M448.1 100.7h0" stroke="#2a2008" stroke-width="2" stroke-linecap="round" stroke-opacity="0.5"/>
<path d="M455.2 98h0M419.9 86.8h0M464 87.3h0M417.2 88.7h0M415 103.9h0M425.5 88.6h0M414.3 131h0" stroke="#708a30" stroke-width="3" stroke-linecap="round" stroke-opacity="0.5"/>
<path d="M416.9 97.8h0M442.9 93.9h0M416 85h0" stroke="#708a30" stroke-width="2" stroke-linecap="round" stroke-opacity="0.5"/>
<ellipse cx="434.0" cy="95.0" rx="5.0" ry="7.5" fill="#2238a8"/>
<ellipse cx="436.5" cy="114.8" rx="6.2" ry="7.5" fill="#2238a8"/>
<ellipse cx="461.0" cy="97.0" rx="4.0" ry="5.6" fill="#2238a8"/>
<ellipse cx="446.5" cy="131.0" rx="7.5" ry="4.0" fill="#2238a8"/>
<path d="M457.8 132.4h0M434.9 90.5h0" stroke="#f4e020" stroke-width="2" stroke-linecap="round"/>
<path d="M454.7 108.9h0M430.5 90.4h0M433.5 121.6h0M440.7 125.9h0M437.2 116h0" stroke="#f4e020" stroke-width="1.5" stroke-linecap="round"/>
<path d="M415.2 91.5h0" stroke="#f4e020" stroke-width="1" stroke-linecap="round"/>
</g>
<g clip-path="url(#c27)">
<rect x="307" y="190" width="50.5" height="50" fill="#1a0a04"/>
<ellipse cx="325.0" cy="218.0" rx="15.0" ry="19.0" fill="#7a5a20"/>
<ellipse cx="349.0" cy="214.0" rx="11.0" ry="20.0" fill="#7a5a1c"/>
<ellipse cx="312.0" cy="195.0" rx="8.0" ry="8.0" fill="#301008"/>
<ellipse cx="337.0" cy="238.0" rx="10.0" ry="5.0" fill="#4a6a24"/>
<path d="M333.7 219.3h0M311.9 207.4h0M328 219.1h0M344.3 208.8h0" stroke="#b07028" stroke-width="2" stroke-linecap="round" stroke-opacity="0.5"/>
<path d="M351.6 208.2h0M345 194.3h0M319.9 217.6h0M321.7 205.7h0M328.2 213.1h0M310.5 205h0M331.3 223.1h0M332.9 229.4h0M313 203.1h0M330.5 219.7h0M338.8 198.5h0M327.2 216h0M340.9 204h0M333.9 216h0" stroke="#401808" stroke-width="2" stroke-linecap="round" stroke-opacity="0.5"/>
<path d="M355.3 207.1h0M334.4 201.8h0M345.5 202.6h0M329.4 203.3h0" stroke="#b07028" stroke-width="4" stroke-linecap="round" stroke-opacity="0.5"/>
<path d="M354.2 219.4h0M334 220.4h0M350.7 194.5h0M330.6 199h0M344.5 212.6h0M308.2 231.1h0M330.4 210.5h0M340.8 197.5h0" stroke="#401808" stroke-width="4" stroke-linecap="round" stroke-opacity="0.5"/>
<path d="M336.3 227.4h0M327.5 228.8h0M320.9 201.7h0M327.5 201.4h0M310.6 192.5h0M315.8 199.3h0M324.2 229h0" stroke="#401808" stroke-width="3" stroke-linecap="round" stroke-opacity="0.5"/>
<path d="M355.8 220.5h0M331.5 232.7h0M341.4 191.8h0" stroke="#b07028" stroke-width="3" stroke-linecap="round" stroke-opacity="0.5"/>
<ellipse cx="323.5" cy="219.0" rx="7.5" ry="6.2" fill="#2238a8"/>
<ellipse cx="349.0" cy="212.0" rx="7.5" ry="7.0" fill="#2238a8"/>
<path d="M326.3 213.2h0" stroke="#f4e020" stroke-width="1" stroke-linecap="round"/>
<path d="M336.2 220.2h0" stroke="#f4e020" stroke-width="1.5" stroke-linecap="round"/>
</g>
<g clip-path="url(#c28)">
<rect x="360.5" y="190" width="50.5" height="50" fill="#203010"/>
<ellipse cx="374.5" cy="210.0" rx="16.0" ry="16.0" fill="#78a838"/>
<ellipse cx="396.5" cy="218.0" rx="16.0" ry="20.0" fill="#80b040"/>
<ellipse cx="370.5" cy="235.0" rx="12.0" ry="6.0" fill="#4a8028"/>
<path d="M388.2 227.5h0M379.4 191.3h0M394.5 196.5h0M405.4 231.5h0M377.9 217.3h0M408.8 195.3h0M408.7 234.3h0" stroke="#406a28" stroke-width="4" stroke-linecap="round" stroke-opacity="0.5"/>
<path d="M404.2 204.3h0M363.1 201.7h0M362.3 228.8h0M402.2 226.8h0M377.8 214.2h0M397.4 239.1h0M383.3 220.6h0M372.3 237.6h0M383.4 199.4h0" stroke="#90c040" stroke-width="3" stroke-linecap="round" stroke-opacity="0.5"/>
<path d="M398.2 227.7h0M409.6 214.8h0M388.2 194.9h0" stroke="#406a28" stroke-width="3" stroke-linecap="round" stroke-opacity="0.5"/>
<path d="M401.2 236h0M360.9 215.7h0M368.4 198.2h0M394.4 215.2h0M388.1 227h0M366.6 211.2h0M391.2 235.4h0M407.2 225.6h0M380.7 202.9h0" stroke="#406a28" stroke-width="2" stroke-linecap="round" stroke-opacity="0.5"/>
<path d="M403.2 194.2h0M373.6 219.2h0M400.2 230.7h0M365.3 237.5h0M378.2 218.1h0M399.1 202.2h0M382.8 220.5h0" stroke="#90c040" stroke-width="2" stroke-linecap="round" stroke-opacity="0.5"/>
<path d="M403.6 212.1h0M367 234.6h0M376.7 228.7h0M403.1 203.2h0M379.2 208.3h0" stroke="#90c040" stroke-width="4" stroke-linecap="round" stroke-opacity="0.5"/>
<ellipse cx="383.7" cy="204.8" rx="8.0" ry="6.8" fill="#2238a8"/>
<ellipse cx="388.1" cy="218.5" rx="6.2" ry="5.5" fill="#2238a8"/>
<ellipse cx="365.5" cy="238.0" rx="6.0" ry="4.0" fill="#2238a8"/>
<path d="M363.1 206.2h0M364.6 218.1h0M373.7 196.7h0M386.4 217.9h0" stroke="#f4e020" stroke-width="2" stroke-linecap="round"/>
<path d="M403.3 232.1h0M385.2 205.3h0M371.3 206.7h0" stroke="#f4e020" stroke-width="1.5" stroke-linecap="round"/>
<path d="M366.2 219.3h0" stroke="#f4e020" stroke-width="1" stroke-linecap="round"/>
</g>
<g clip-path="url(#c29)">
<rect x="414" y="190" width="50.5" height="50" fill="#2a2a10"/>
<ellipse cx="439.0" cy="215.0" rx="24.0" ry="22.0" fill="#4a5a20"/>
<ellipse cx="419.0" cy="195.0" rx="8.0" ry="8.0" fill="#3a6a24"/>
<path d="M430.6 239.2h0M448.7 205h0M433.4 222.6h0M450.1 227.4h0" stroke="#6a8028" stroke-width="3" stroke-linecap="round" stroke-opacity="0.5"/>
<path d="M414 221.3h0M431.5 230.3h0M450 217.5h0M459.5 214.7h0M429.1 214.9h0M421.2 207.9h0M415 221.3h0M434.5 222.7h0" stroke="#302a10" stroke-width="2" stroke-linecap="round" stroke-opacity="0.5"/>
<path d="M450.9 211.6h0M440.5 199.2h0M444.9 201.8h0M461.4 217.2h0M431.6 198.5h0M459.8 196.3h0M459.3 197.8h0M419.5 214.8h0" stroke="#302a10" stroke-width="4" stroke-linecap="round" stroke-opacity="0.5"/>
<path d="M441.4 218.8h0M459.3 230.2h0M423 226.3h0M437.9 229.7h0M439.1 207.8h0M445.4 210.8h0" stroke="#302a10" stroke-width="3" stroke-linecap="round" stroke-opacity="0.5"/>
<path d="M422.5 215.7h0M446.8 204.8h0M456.7 205.1h0M460 199.1h0M414.1 205h0M428.3 211.5h0M429.3 212.5h0M450.6 223.7h0M436.6 214.6h0" stroke="#6a8028" stroke-width="4" stroke-linecap="round" stroke-opacity="0.5"/>
<path d="M418.3 222.5h0M448.8 207.8h0M427.7 230.9h0M463.7 198.3h0M449.3 226.9h0" stroke="#6a8028" stroke-width="2" stroke-linecap="round" stroke-opacity="0.5"/>
<ellipse cx="440.2" cy="213.5" rx="8.7" ry="8.0" fill="#2238a8"/>
<ellipse cx="434.0" cy="239.0" rx="7.0" ry="4.0" fill="#2238a8"/>
<path d="M422.7 226.3h0M440.2 221.4h0M432.8 225.2h0M447.8 206.1h0M433.8 203.3h0" stroke="#f4e020" stroke-width="2" stroke-linecap="round"/>
<path d="M435.4 219.9h0M460.2 227.7h0M433.1 194.2h0M425.1 227.5h0" stroke="#f4e020" stroke-width="1.5" stroke-linecap="round"/>
<path d="M433.9 211.3h0" stroke="#f4e020" stroke-width="1" stroke-linecap="round"/>
</g>
<text x="308.3" y="253" font-size="10" text-anchor="start" fill="#231f20" stroke="#231f20" stroke-width="0.2"><tspan fill="#22c822" stroke="#22c822">GFP-PABPC1</tspan>+<tspan fill="#e82828" stroke="#e82828">G3BP1</tspan>+<tspan fill="#2828e0" stroke="#2828e0">DAPI</tspan></text>
<text x="308.3" y="264.5" font-size="10" text-anchor="start" fill="#231f20" stroke="#231f20" stroke-width="0.2">AS treated for 1 h</text>
<text x="502.4" y="11.2" font-size="15" text-anchor="start" font-weight="bold" fill="#2a1a14" stroke="#2a1a14" stroke-width="0.2">c</text>
<text x="517.4" y="12.7" font-size="9" text-anchor="start" fill="#231f20" stroke="#231f20" stroke-width="0.2">H1299<tspan font-size="5.5" dy="-2.8" font-style="italic">PABPC1-/-</tspan></text>
<text x="549.3" y="28.4" font-size="9" text-anchor="middle" fill="#231f20" stroke="#231f20" stroke-width="0.2">500 μM AS</text>
<text x="601.3" y="18.2" font-size="9" text-anchor="middle" fill="#231f20" stroke="#231f20" stroke-width="0.2">500 μM AS &amp;</text>
<text x="601.3" y="28.4" font-size="9" text-anchor="middle" fill="#231f20" stroke="#231f20" stroke-width="0.2">60 min Rec</text>
<text x="658.2" y="18.2" font-size="9" text-anchor="middle" fill="#231f20" stroke="#231f20" stroke-width="0.2">500 μM AS &amp;</text>
<text x="658.5" y="28.4" font-size="9" text-anchor="middle" fill="#231f20" stroke="#231f20" stroke-width="0.2">90 min Rec</text>
<text x="522" y="58.5" font-size="9" text-anchor="middle" fill="#231f20" transform="rotate(-90 522 58.5)" stroke="#231f20" stroke-width="0.2">Merged</text>
<text x="522" y="164" font-size="9" text-anchor="middle" fill="#231f20" transform="rotate(-90 522 164)" stroke="#231f20" stroke-width="0.2">Merged</text>
<text x="522" y="109.3" font-size="9" text-anchor="middle" fill="#231f20" transform="rotate(-90 522 109.3)" stroke="#231f20" stroke-width="0.2">Zoom</text>
<text x="522" y="214.9" font-size="9" text-anchor="middle" fill="#231f20" transform="rotate(-90 522 214.9)" stroke="#231f20" stroke-width="0.2">Zoom</text>
<line x1="509" y1="35.5" x2="509" y2="134.5" stroke="#231f20" stroke-width="0.9"/>
<line x1="509" y1="141" x2="509" y2="240" stroke="#231f20" stroke-width="0.9"/>
<text x="506" y="80.2" font-size="9" text-anchor="middle" fill="#231f20" transform="rotate(-90 506 80.2)" stroke="#231f20" stroke-width="0.2">WT</text>
<text x="506" y="188.3" font-size="9" text-anchor="middle" fill="#231f20" transform="rotate(-90 506 188.3)" stroke="#231f20" stroke-width="0.2">K512R</text>
<g clip-path="url(#c30)">
<rect x="525" y="31.5" width="50.2" height="50" fill="#140804"/>
<path d="M523 29h0M543 30.8h0" stroke="#6a3a1c" stroke-width="9" stroke-linecap="round"/>
<path d="M529.8 41.3h0" stroke="#6a6a30" stroke-width="9.5" stroke-linecap="round"/>
<path d="M524.1 49.9h0M550.9 47.6h0" stroke="#5a7a30" stroke-width="9" stroke-linecap="round"/>
<path d="M531.3 57.7h0M547.9 82.9h0M580.1 71.2h0" stroke="#6a3a1c" stroke-width="9.5" stroke-linecap="round"/>
<path d="M524.5 62.2h0" stroke="#5a7a30" stroke-width="8" stroke-linecap="round"/>
<path d="M530.9 70.7h0M574.3 57.5h0" stroke="#5a6a2a" stroke-width="8.5" stroke-linecap="round"/>
<path d="M525.9 78.2h0M536 80h0M557.2 41h0M571 43.4h0M578.4 34.5h0" stroke="#4a8a30" stroke-width="8.5" stroke-linecap="round"/>
<path d="M529.9 34.3h0" stroke="#5a6a2a" stroke-width="9" stroke-linecap="round"/>
<path d="M535.4 41.5h0M547.2 32.7h0M560.1 71.9h0" stroke="#7a4a20" stroke-width="9.5" stroke-linecap="round"/>
<path d="M530.5 49.4h0M545.4 58.3h0M544.6 66h0" stroke="#6a3a1c" stroke-width="8.5" stroke-linecap="round"/>
<path d="M540.7 57.9h0M555.2 62.9h0" stroke="#7a4a20" stroke-width="9" stroke-linecap="round"/>
<path d="M530 63.5h0M544.5 84.3h0" stroke="#6a3a1c" stroke-width="8" stroke-linecap="round"/>
<path d="M538.4 70.8h0" stroke="#6a6a30" stroke-width="9" stroke-linecap="round"/>
<path d="M545.9 39h0M561.7 42.7h0" stroke="#5a7a30" stroke-width="9.5" stroke-linecap="round"/>
<path d="M539 47.9h0" stroke="#5a7a30" stroke-width="8.5" stroke-linecap="round"/>
<path d="M543.2 69.9h0M557.8 54.6h0M577.7 50.9h0M580 55h0" stroke="#5a6a2a" stroke-width="9.5" stroke-linecap="round"/>
<path d="M551.9 66.2h0M559.1 54.1h0" stroke="#4a8a30" stroke-width="8" stroke-linecap="round"/>
<path d="M553.9 76.7h0" stroke="#5a6a2a" stroke-width="8" stroke-linecap="round"/>
<path d="M561.5 30.2h0" stroke="#4a8a30" stroke-width="9.5" stroke-linecap="round"/>
<path d="M560.2 46h0M576.8 42.5h0" stroke="#7a4a20" stroke-width="8.5" stroke-linecap="round"/>
<path d="M559.8 78.6h0M569.3 44.6h0" stroke="#6a6a30" stroke-width="8.5" stroke-linecap="round"/>
<path d="M567.6 33.1h0M573.2 70h0" stroke="#6a6a30" stroke-width="8" stroke-linecap="round"/>
<path d="M568 62.4h0M567.6 80.4h0" stroke="#5a7a30" stroke-width="10" stroke-linecap="round"/>
<path d="M576.6 62.9h0M575 78.3h0" stroke="#4a8a30" stroke-width="9" stroke-linecap="round"/>
<path d="M522.3 29.9h0M530.8 50.4h0M540.6 57.1h0M530.9 64.4h0M556.4 40.1h0M560.1 78.8h0M567.6 32.6h0M570.3 43.6h0" stroke="#1e36a0" stroke-width="4.5" stroke-linecap="round"/>
<path d="M529.8 40.6h0M539 47.9h0M551.2 46.7h0M560 53.6h0M576 79.2h0" stroke="#1a3094" stroke-width="4.5" stroke-linecap="round"/>
<path d="M523.6 50.6h0M530.4 57.2h0M546.2 58.6h0M543.9 69.1h0M558.7 53.9h0M553.3 76.6h0M562.3 30.8h0M560.9 42.6h0M575.7 62.3h0" stroke="#1a3094" stroke-width="4" stroke-linecap="round"/>
<path d="M525.3 62.3h0M536.8 79.3h0M545.8 38.8h0M546.7 32h0" stroke="#1e36a0" stroke-width="4" stroke-linecap="round"/>
<path d="M531.8 70.4h0M560.1 45.3h0M579.9 54.3h0" stroke="#2444b4" stroke-width="4" stroke-linecap="round"/>
<path d="M526.2 78h0M544.1 83.8h0M574 58.2h0M566.9 80.8h0" stroke="#2240b0" stroke-width="4.5" stroke-linecap="round"/>
<path d="M529.3 33.8h0M547.9 82.7h0" stroke="#1a3094" stroke-width="3.5" stroke-linecap="round"/>
<path d="M535.4 41.9h0M538.7 70.3h0M551.2 65.3h0M569.1 44.1h0M578 35.2h0" stroke="#2444b4" stroke-width="3.5" stroke-linecap="round"/>
<path d="M543.6 31.4h0M568.7 62h0M577.5 41.6h0M577.2 50.3h0" stroke="#2444b4" stroke-width="4.5" stroke-linecap="round"/>
<path d="M545.1 65.5h0" stroke="#2240b0" stroke-width="4" stroke-linecap="round"/>
<path d="M555.3 62.4h0M573.7 70.4h0" stroke="#2240b0" stroke-width="3.5" stroke-linecap="round"/>
<path d="M559.5 70.9h0" stroke="#2444b4" stroke-width="5" stroke-linecap="round"/>
<path d="M580.4 71.8h0" stroke="#1e36a0" stroke-width="3.5" stroke-linecap="round"/>
<rect x="528" y="51" width="13" height="13" fill="none" stroke="#ffffff" stroke-width="1.7"/>
</g>
<g clip-path="url(#c31)">
<rect x="578.2" y="31.5" width="50.2" height="50" fill="#140804"/>
<path d="M574.6 29.8h0M589.2 48.9h0M588.1 78.1h0" stroke="#7a4a20" stroke-width="9.5" stroke-linecap="round"/>
<path d="M584.2 41.2h0M597.4 59.8h0M624.5 75.3h0" stroke="#5a6a2a" stroke-width="9.5" stroke-linecap="round"/>
<path d="M575.1 47.6h0" stroke="#5a7a30" stroke-width="10" stroke-linecap="round"/>
<path d="M580.3 56.5h0M630.8 76h0" stroke="#6a3a1c" stroke-width="8.5" stroke-linecap="round"/>
<path d="M575.9 66h0M593.9 47.2h0M605.6 73.6h0" stroke="#7a4a20" stroke-width="9" stroke-linecap="round"/>
<path d="M580.3 73.8h0M616.3 80.2h0" stroke="#4a8a30" stroke-width="8.5" stroke-linecap="round"/>
<path d="M574.5 83.8h0M629.3 58.5h0" stroke="#6a3a1c" stroke-width="8" stroke-linecap="round"/>
<path d="M585.4 28.9h0M606.4 64.5h0" stroke="#7a4a20" stroke-width="8.5" stroke-linecap="round"/>
<path d="M589.5 36.8h0M612.6 50.4h0" stroke="#5a7a30" stroke-width="8" stroke-linecap="round"/>
<path d="M592.5 56.8h0" stroke="#6a6a30" stroke-width="8" stroke-linecap="round"/>
<path d="M585.7 65.2h0M605.9 33.6h0M606.1 57.7h0" stroke="#6a6a30" stroke-width="9.5" stroke-linecap="round"/>
<path d="M591.6 75.9h0M603.9 84.5h0" stroke="#4a8a30" stroke-width="9" stroke-linecap="round"/>
<path d="M593.3 28.3h0" stroke="#5a7a30" stroke-width="9" stroke-linecap="round"/>
<path d="M596.1 38.2h0M620.9 62.2h0" stroke="#6a3a1c" stroke-width="10" stroke-linecap="round"/>
<path d="M595.8 62.4h0M631.6 34.3h0" stroke="#6a6a30" stroke-width="8.5" stroke-linecap="round"/>
<path d="M596.6 72.3h0" stroke="#4a8a30" stroke-width="9.5" stroke-linecap="round"/>
<path d="M596 81.9h0M611.9 79.8h0M627.6 42.7h0" stroke="#5a6a2a" stroke-width="9" stroke-linecap="round"/>
<path d="M604 38.4h0" stroke="#5a7a30" stroke-width="9.5" stroke-linecap="round"/>
<path d="M601.1 51.5h0" stroke="#5a6a2a" stroke-width="8" stroke-linecap="round"/>
<path d="M609.6 35.2h0" stroke="#6a6a30" stroke-width="9" stroke-linecap="round"/>
<path d="M612.8 36.4h0M631.1 36.5h0M625.6 64.6h0" stroke="#6a3a1c" stroke-width="9" stroke-linecap="round"/>
<path d="M612.6 55.6h0" stroke="#6a6a30" stroke-width="10" stroke-linecap="round"/>
<path d="M611.9 68.4h0M617.1 31h0" stroke="#7a4a20" stroke-width="10" stroke-linecap="round"/>
<path d="M612.2 74.8h0M620 45.8h0" stroke="#5a6a2a" stroke-width="8.5" stroke-linecap="round"/>
<path d="M627 55h0" stroke="#5a7a30" stroke-width="8.5" stroke-linecap="round"/>
<path d="M631.8 45.1h0" stroke="#4a8a30" stroke-width="8" stroke-linecap="round"/>
<path d="M626.2 81.8h0" stroke="#7a4a20" stroke-width="8" stroke-linecap="round"/>
<path d="M573.8 30.5h0" stroke="#2444b4" stroke-width="3.5" stroke-linecap="round"/>
<path d="M584.9 40.7h0M596 37.7h0M612.2 36.1h0" stroke="#1e36a0" stroke-width="3.5" stroke-linecap="round"/>
<path d="M574.9 47.7h0M589.3 36.1h0M587.5 78.4h0M605.1 58.1h0M620.4 45h0M625.3 75.5h0M631.3 45.4h0" stroke="#1a3094" stroke-width="4.5" stroke-linecap="round"/>
<path d="M579.7 57h0M574.6 83h0M591 75.4h0M597.3 72.4h0M600.6 50.8h0M606.2 64.9h0" stroke="#2240b0" stroke-width="4.5" stroke-linecap="round"/>
<path d="M575.2 66.2h0M580.8 73h0M631.8 34.6h0M626.5 81.2h0" stroke="#2444b4" stroke-width="4" stroke-linecap="round"/>
<path d="M584.6 28.6h0M592.8 29.2h0M595.1 81.7h0M606.2 72.8h0" stroke="#1e36a0" stroke-width="4" stroke-linecap="round"/>
<path d="M590.2 49.3h0M592.6 57.6h0M584.9 64.5h0M597.5 59.6h0M605.3 33.1h0M613.3 55.3h0" stroke="#1e36a0" stroke-width="4.5" stroke-linecap="round"/>
<path d="M593.2 48.2h0M604.1 39.2h0M610.2 36h0M612.9 79h0M617.5 30h0M616.9 79.8h0M631.5 36.5h0M625 63.7h0" stroke="#2240b0" stroke-width="4" stroke-linecap="round"/>
<path d="M596.6 62.7h0" stroke="#2240b0" stroke-width="3.5" stroke-linecap="round"/>
<path d="M603.4 85.1h0M620.2 62.6h0" stroke="#2444b4" stroke-width="4.5" stroke-linecap="round"/>
<path d="M612.2 50.6h0M631 76.5h0" stroke="#2444b4" stroke-width="5" stroke-linecap="round"/>
<path d="M612.8 67.7h0M612.4 74.5h0M630.2 57.9h0" stroke="#1a3094" stroke-width="3.5" stroke-linecap="round"/>
<path d="M626.8 43h0M627.3 54.6h0" stroke="#1a3094" stroke-width="4" stroke-linecap="round"/>
<rect x="581" y="50" width="13" height="13" fill="none" stroke="#ffffff" stroke-width="1.7"/>
</g>
<g clip-path="url(#c32)">
<rect x="631.1" y="31.5" width="50.2" height="50" fill="#100804"/>
<path d="M632.6 28.8h0M649.5 42.4h0M683.3 28.9h0" stroke="#6a3a1c" stroke-width="9.5" stroke-linecap="round"/>
<path d="M636.6 42h0M678.5 65.4h0" stroke="#5a8a2a" stroke-width="9" stroke-linecap="round"/>
<path d="M631.1 44.6h0M649.7 57.3h0M667.9 33h0M675 37.5h0" stroke="#4a9a30" stroke-width="8.5" stroke-linecap="round"/>
<path d="M634.3 59.1h0M654.1 76.6h0" stroke="#4a9a30" stroke-width="8" stroke-linecap="round"/>
<path d="M633 64.3h0M676.8 53.2h0" stroke="#4a9a30" stroke-width="9" stroke-linecap="round"/>
<path d="M637.9 75.6h0M628.1 81.6h0M661.6 37.2h0M671.4 39h0M673.3 65.7h0" stroke="#3a9a30" stroke-width="8.5" stroke-linecap="round"/>
<path d="M641.5 32.2h0M662.1 84h0" stroke="#5a8a2a" stroke-width="10" stroke-linecap="round"/>
<path d="M644.2 38.9h0" stroke="#6a6a30" stroke-width="10" stroke-linecap="round"/>
<path d="M636.2 51.5h0M636.5 67.5h0M648.2 61.9h0M680.2 75.9h0" stroke="#6a6a30" stroke-width="9" stroke-linecap="round"/>
<path d="M642.1 59.4h0M644.4 85h0" stroke="#3a9a30" stroke-width="9" stroke-linecap="round"/>
<path d="M646.9 74.5h0M683.2 69.7h0" stroke="#6a6a30" stroke-width="8" stroke-linecap="round"/>
<path d="M640.4 83.7h0M644.4 48.9h0M668 57.9h0M676.4 32.8h0" stroke="#4a9a30" stroke-width="10" stroke-linecap="round"/>
<path d="M646.6 31.7h0M653.1 28.7h0M667.4 72h0" stroke="#6a3a1c" stroke-width="9" stroke-linecap="round"/>
<path d="M653.3 48.4h0M655 83.1h0M682.8 79.8h0" stroke="#3a9a30" stroke-width="9.5" stroke-linecap="round"/>
<path d="M656.9 52.8h0M659.8 62h0M661.5 46h0M673.5 79.7h0" stroke="#5a8a2a" stroke-width="8.5" stroke-linecap="round"/>
<path d="M664.1 76.2h0" stroke="#3a9a30" stroke-width="8" stroke-linecap="round"/>
<path d="M662.8 65.5h0M684.6 55.2h0" stroke="#5a8a2a" stroke-width="9.5" stroke-linecap="round"/>
<path d="M672.1 51.8h0M687 37h0" stroke="#6a6a30" stroke-width="9.5" stroke-linecap="round"/>
<path d="M679 47.6h0" stroke="#6a3a1c" stroke-width="8.5" stroke-linecap="round"/>
<path d="M632.7 29.1h0M654.9 82.2h0M671.9 39.1h0" stroke="#2444b4" stroke-width="3.5" stroke-linecap="round"/>
<path d="M637.5 41h0M646.6 75.1h0M647.7 62.3h0M677.2 33.2h0" stroke="#2444b4" stroke-width="4.5" stroke-linecap="round"/>
<path d="M630.2 43.8h0M643.4 38.3h0M636.3 66.9h0M680.7 74.9h0M683.8 28.4h0" stroke="#2240b0" stroke-width="4" stroke-linecap="round"/>
<path d="M633.5 59.5h0M646.7 31.1h0M661.9 37.4h0M657.2 52.9h0M661.4 84.9h0M677 53.1h0" stroke="#2444b4" stroke-width="4" stroke-linecap="round"/>
<path d="M633.9 64.1h0M628.3 81h0M640.6 32.5h0M636.7 50.6h0M645.3 48.2h0M644.2 84.3h0M661.6 45.5h0M668 57.3h0M678.8 65.9h0M683.1 69.5h0" stroke="#1e36a0" stroke-width="4" stroke-linecap="round"/>
<path d="M638.8 74.7h0M654.6 75.6h0M667.4 32.6h0M662.6 64.8h0M667.7 71.2h0M671.4 51.5h0" stroke="#1a3094" stroke-width="4" stroke-linecap="round"/>
<path d="M641.2 59.6h0M687.6 36.5h0M684.1 55.6h0" stroke="#2240b0" stroke-width="3.5" stroke-linecap="round"/>
<path d="M640.8 83.5h0M654.2 48.1h0M672.8 65.9h0" stroke="#1a3094" stroke-width="4.5" stroke-linecap="round"/>
<path d="M650.3 43.1h0M680 48.3h0" stroke="#2240b0" stroke-width="4.5" stroke-linecap="round"/>
<path d="M648.8 56.5h0M674 79h0" stroke="#1e36a0" stroke-width="3.5" stroke-linecap="round"/>
<path d="M653.8 27.8h0M659 62.2h0M675.7 36.6h0M682.8 78.9h0" stroke="#1e36a0" stroke-width="4.5" stroke-linecap="round"/>
<path d="M663.6 76.9h0" stroke="#1a3094" stroke-width="3.5" stroke-linecap="round"/>
<rect x="638" y="49" width="13" height="13" fill="none" stroke="#ffffff" stroke-width="1.7"/>
</g>
<g clip-path="url(#c33)">
<rect x="525" y="138" width="50.2" height="50" fill="#140804"/>
<path d="M525.3 140.7h0M542.7 138.7h0M565.1 170.7h0" stroke="#7a4a20" stroke-width="8.5" stroke-linecap="round"/>
<path d="M527.1 142.8h0M532.9 164.5h0M561 136.3h0M567.1 157.1h0M576.6 156.9h0M582.9 164.8h0" stroke="#6a6a30" stroke-width="9" stroke-linecap="round"/>
<path d="M521.3 152.1h0" stroke="#5a6a2a" stroke-width="8" stroke-linecap="round"/>
<path d="M524.3 172.8h0M541.1 142.8h0M560.9 143.1h0M567.6 188.2h0" stroke="#4a8a30" stroke-width="9.5" stroke-linecap="round"/>
<path d="M526 182.2h0M533.2 157.8h0M551 151.8h0M548.5 172.4h0M561.2 155.4h0" stroke="#4a8a30" stroke-width="9" stroke-linecap="round"/>
<path d="M522.1 184.8h0M543.1 153.5h0" stroke="#5a7a30" stroke-width="10" stroke-linecap="round"/>
<path d="M536.8 135.1h0M572.5 163.5h0M581.2 176h0" stroke="#6a3a1c" stroke-width="8.5" stroke-linecap="round"/>
<path d="M535.7 161.1h0" stroke="#6a3a1c" stroke-width="10" stroke-linecap="round"/>
<path d="M534.7 173.7h0" stroke="#6a6a30" stroke-width="9.5" stroke-linecap="round"/>
<path d="M534.1 181.3h0" stroke="#7a4a20" stroke-width="8" stroke-linecap="round"/>
<path d="M534.5 186.7h0" stroke="#6a6a30" stroke-width="8" stroke-linecap="round"/>
<path d="M543.9 146h0M547 180h0" stroke="#7a4a20" stroke-width="9" stroke-linecap="round"/>
<path d="M548.5 159.6h0" stroke="#5a6a2a" stroke-width="10" stroke-linecap="round"/>
<path d="M539.6 167.7h0M548.9 140.5h0M551 145.8h0M574.4 177.8h0" stroke="#7a4a20" stroke-width="9.5" stroke-linecap="round"/>
<path d="M540.7 185.7h0M559.7 184.8h0" stroke="#5a6a2a" stroke-width="8.5" stroke-linecap="round"/>
<path d="M555.4 165.5h0M551.1 185.7h0" stroke="#5a6a2a" stroke-width="9" stroke-linecap="round"/>
<path d="M550.6 178h0M562.6 161.4h0" stroke="#5a6a2a" stroke-width="9.5" stroke-linecap="round"/>
<path d="M557.7 171.7h0" stroke="#7a4a20" stroke-width="10" stroke-linecap="round"/>
<path d="M559.4 177.8h0M568 141.1h0" stroke="#4a8a30" stroke-width="8.5" stroke-linecap="round"/>
<path d="M574 148.4h0" stroke="#5a7a30" stroke-width="9" stroke-linecap="round"/>
<path d="M573.9 138h0" stroke="#5a7a30" stroke-width="9.5" stroke-linecap="round"/>
<path d="M576.2 149.4h0" stroke="#4a8a30" stroke-width="10" stroke-linecap="round"/>
<path d="M574.8 169.2h0M575.5 185.8h0" stroke="#5a7a30" stroke-width="8.5" stroke-linecap="round"/>
<path d="M525 139.8h0M526.1 182.1h0M537.4 135.6h0M567.9 156.5h0M568.2 188.4h0" stroke="#2444b4" stroke-width="3.5" stroke-linecap="round"/>
<path d="M527.5 142.4h0M521.1 183.8h0" stroke="#1e36a0" stroke-width="3.5" stroke-linecap="round"/>
<path d="M520.8 152.9h0M533.8 163.6h0M547.6 160.1h0M550.8 184.9h0M563 162.2h0M565.7 170.5h0M574.3 138.9h0M576.9 149.7h0M582 165.2h0M580.3 176.8h0" stroke="#1e36a0" stroke-width="4" stroke-linecap="round"/>
<path d="M524.7 172.4h0M535.5 173.4h0M534.4 186h0M561 144.1h0M557.8 170.7h0" stroke="#2444b4" stroke-width="4.5" stroke-linecap="round"/>
<path d="M540.2 142.8h0M541.6 185.7h0M551.6 151.3h0M559.6 185.8h0" stroke="#2240b0" stroke-width="4.5" stroke-linecap="round"/>
<path d="M533.3 157h0" stroke="#2240b0" stroke-width="5" stroke-linecap="round"/>
<path d="M535.2 160.7h0M549.7 140h0M562.1 154.4h0M573.1 163.8h0" stroke="#2240b0" stroke-width="4" stroke-linecap="round"/>
<path d="M533.1 180.7h0M547.1 179.4h0M561.9 136.4h0M559.8 176.8h0M577.4 156.2h0" stroke="#1e36a0" stroke-width="4.5" stroke-linecap="round"/>
<path d="M542.1 138.8h0M544.6 146.8h0M550 145h0M567 140.4h0M574.8 177.8h0M574.1 169.5h0" stroke="#2444b4" stroke-width="4" stroke-linecap="round"/>
<path d="M543.4 153.6h0" stroke="#1a3094" stroke-width="4" stroke-linecap="round"/>
<path d="M539.3 168.2h0" stroke="#1a3094" stroke-width="5" stroke-linecap="round"/>
<path d="M556.1 165.5h0M547.8 173.2h0M551.3 178.2h0M573.6 148.4h0" stroke="#1a3094" stroke-width="4.5" stroke-linecap="round"/>
<path d="M575.6 185.7h0" stroke="#1e36a0" stroke-width="5" stroke-linecap="round"/>
<rect x="537" y="159" width="13" height="13" fill="none" stroke="#ffffff" stroke-width="1.7"/>
</g>
<g clip-path="url(#c34)">
<rect x="578.2" y="138" width="50.2" height="50" fill="#0e1808"/>
<path d="M578.1 134.9h0M624.9 165.8h0M635.9 148.6h0" stroke="#4a8a30" stroke-width="9" stroke-linecap="round"/>
<path d="M579.2 142.7h0M620.2 156.2h0" stroke="#2a6a28" stroke-width="8" stroke-linecap="round"/>
<path d="M575.3 153.2h0M610.8 170.6h0M627.5 151.3h0" stroke="#3a7a2a" stroke-width="9.5" stroke-linecap="round"/>
<path d="M578.9 163.9h0M595.9 134.4h0M611 164.1h0M615 147.1h0M618 137h0" stroke="#5a7a2a" stroke-width="9" stroke-linecap="round"/>
<path d="M580.4 173.1h0M591.8 180.4h0" stroke="#3a7a2a" stroke-width="9" stroke-linecap="round"/>
<path d="M585 181.3h0M577.5 189.5h0M608.4 146.9h0M614.6 134.7h0M618 184.6h0" stroke="#4a8a30" stroke-width="9.5" stroke-linecap="round"/>
<path d="M584.1 136.1h0M604.5 171.3h0" stroke="#3a7a2a" stroke-width="10" stroke-linecap="round"/>
<path d="M594.2 143.3h0M623.2 172.5h0" stroke="#2a6a28" stroke-width="10" stroke-linecap="round"/>
<path d="M588.5 153.3h0M618.5 162.2h0" stroke="#4a8a30" stroke-width="8.5" stroke-linecap="round"/>
<path d="M593.6 164.8h0M589.3 173.1h0M597.5 152h0M596 162.1h0M628.9 170.5h0" stroke="#2a6a28" stroke-width="9" stroke-linecap="round"/>
<path d="M589.7 191.1h0M595.8 167.8h0M599.9 141.3h0M617.4 182.5h0M629.3 178.6h0" stroke="#3a7a2a" stroke-width="8.5" stroke-linecap="round"/>
<path d="M600 144.8h0M620.9 182.7h0" stroke="#5a7a2a" stroke-width="8" stroke-linecap="round"/>
<path d="M600.3 179.8h0" stroke="#2a6a28" stroke-width="9.5" stroke-linecap="round"/>
<path d="M593.4 185.6h0M600.3 188.8h0M622.1 149.7h0M627.4 139.1h0" stroke="#2a6a28" stroke-width="8.5" stroke-linecap="round"/>
<path d="M601.6 154.2h0M613.1 156.6h0M612.3 190.5h0M636.3 162.7h0" stroke="#5a7a2a" stroke-width="9.5" stroke-linecap="round"/>
<path d="M603.9 183.2h0" stroke="#5a7a2a" stroke-width="10" stroke-linecap="round"/>
<path d="M625.3 188.4h0" stroke="#5a7a2a" stroke-width="8.5" stroke-linecap="round"/>
<path d="M578.6 135.7h0M594.5 164.2h0M614.8 134.6h0M615.9 147.9h0" stroke="#2444b4" stroke-width="4" stroke-linecap="round"/>
<path d="M578.9 142.7h0M590.2 191.5h0M593.5 184.7h0M600.2 188.7h0M613.9 156.1h0M619.3 162.7h0M617.8 137.5h0M622.8 149.3h0M635.7 163h0" stroke="#2444b4" stroke-width="4.5" stroke-linecap="round"/>
<path d="M574.5 152.5h0M578 163.2h0M621.1 182.6h0" stroke="#1e36a0" stroke-width="4" stroke-linecap="round"/>
<path d="M579.8 173.8h0M594.1 144.3h0M610.5 170.1h0" stroke="#1e36a0" stroke-width="5" stroke-linecap="round"/>
<path d="M584.2 181.8h0M629.9 178.4h0" stroke="#2444b4" stroke-width="5" stroke-linecap="round"/>
<path d="M577.4 189.3h0M600.2 145.4h0M620.9 155.5h0M623.4 171.7h0M628.2 170.4h0" stroke="#1a3094" stroke-width="4" stroke-linecap="round"/>
<path d="M584.4 135.3h0M598.4 151.5h0M618.7 184.8h0M628.1 139.6h0M635 148.4h0" stroke="#2240b0" stroke-width="4" stroke-linecap="round"/>
<path d="M587.8 153.2h0M596.1 134.1h0M599.6 142h0M604.6 182.7h0M624.3 165h0" stroke="#1a3094" stroke-width="4.5" stroke-linecap="round"/>
<path d="M590.2 173.7h0M592.3 181.1h0M595.5 162h0M602.1 154.3h0M610.6 164.5h0M605.2 170.6h0" stroke="#2240b0" stroke-width="4.5" stroke-linecap="round"/>
<path d="M596.3 168.8h0M612.7 190.7h0" stroke="#1a3094" stroke-width="5" stroke-linecap="round"/>
<path d="M601.2 180.7h0M617.2 183.5h0M627.3 151.8h0M624.9 188.4h0" stroke="#1e36a0" stroke-width="4.5" stroke-linecap="round"/>
<path d="M607.9 146.1h0" stroke="#2240b0" stroke-width="5" stroke-linecap="round"/>
<rect x="591" y="170" width="13" height="13" fill="none" stroke="#ffffff" stroke-width="1.7"/>
</g>
<g clip-path="url(#c35)">
<rect x="631.1" y="138" width="50.2" height="50" fill="#140804"/>
<path d="M630.3 138.7h0M639.5 156.8h0M640.7 161.9h0M642.2 181.7h0" stroke="#6a3a1c" stroke-width="9.5" stroke-linecap="round"/>
<path d="M633.2 146.5h0M628.4 174.5h0M644.6 168.3h0" stroke="#7a4a24" stroke-width="9" stroke-linecap="round"/>
<path d="M634.5 151.2h0M634.7 187.8h0M652.6 160.5h0" stroke="#6a6a30" stroke-width="9" stroke-linecap="round"/>
<path d="M633.9 165.4h0M645.5 186.5h0M682.3 169.7h0" stroke="#7a4a24" stroke-width="8.5" stroke-linecap="round"/>
<path d="M638.8 182.9h0" stroke="#6a6a30" stroke-width="10" stroke-linecap="round"/>
<path d="M639.2 134.8h0M653.1 153.9h0M658.6 173h0M685 188.7h0" stroke="#4a9a30" stroke-width="9.5" stroke-linecap="round"/>
<path d="M644 143.4h0M661.2 141.6h0" stroke="#4a9a30" stroke-width="9" stroke-linecap="round"/>
<path d="M638.2 174.1h0M665.8 186.3h0" stroke="#6a6a30" stroke-width="8.5" stroke-linecap="round"/>
<path d="M636.6 186.1h0M646.8 156.6h0M659.5 134.4h0M656.9 148.4h0M667.5 182.6h0M678.2 136h0M686.3 148.1h0" stroke="#5a8a2a" stroke-width="8.5" stroke-linecap="round"/>
<path d="M649.4 139.3h0M650.4 143.5h0" stroke="#6a6a30" stroke-width="8" stroke-linecap="round"/>
<path d="M649.6 175.9h0M674.1 189.8h0" stroke="#4a9a30" stroke-width="10" stroke-linecap="round"/>
<path d="M657.6 162.1h0" stroke="#7a4a24" stroke-width="9.5" stroke-linecap="round"/>
<path d="M661.9 177h0M654.8 185.2h0M672.5 158.3h0M680.2 177.2h0" stroke="#6a3a1c" stroke-width="8.5" stroke-linecap="round"/>
<path d="M667.4 147.5h0M665 169.4h0M682.9 163h0" stroke="#4a9a30" stroke-width="8" stroke-linecap="round"/>
<path d="M667.6 157.8h0" stroke="#4a9a30" stroke-width="8.5" stroke-linecap="round"/>
<path d="M666.8 162.2h0M682.5 152.5h0" stroke="#5a8a2a" stroke-width="10" stroke-linecap="round"/>
<path d="M676.7 141.2h0M673.8 148.3h0" stroke="#5a8a2a" stroke-width="9" stroke-linecap="round"/>
<path d="M679.7 159.8h0" stroke="#5a8a2a" stroke-width="9.5" stroke-linecap="round"/>
<path d="M673.7 173h0M684.2 178.1h0" stroke="#7a4a24" stroke-width="8" stroke-linecap="round"/>
<path d="M630.1 139.1h0M634 188.1h0M640.1 162.3h0M654 154h0M666.5 183.3h0M675.7 141h0M674.5 172.2h0" stroke="#2444b4" stroke-width="4" stroke-linecap="round"/>
<path d="M633.5 146h0M634.8 166h0M649.6 176.8h0M666.8 147.5h0M677.2 136.6h0M683.6 178.8h0" stroke="#1e36a0" stroke-width="4" stroke-linecap="round"/>
<path d="M633.5 151.7h0M645.5 187h0M664.9 185.9h0M680.2 177.3h0" stroke="#2240b0" stroke-width="4" stroke-linecap="round"/>
<path d="M628 174.7h0M639 182h0M648.5 139.2h0M659.6 173.4h0M662.5 176.2h0M667.2 158.1h0" stroke="#1a3094" stroke-width="4" stroke-linecap="round"/>
<path d="M639 134.2h0M639.9 156h0M650.5 143h0M656.7 147.8h0M673.3 158.3h0M685.9 149.1h0" stroke="#1a3094" stroke-width="4.5" stroke-linecap="round"/>
<path d="M644 144.4h0M639.1 173.4h0M636.6 185.5h0M659 134.6h0M654.8 184.7h0" stroke="#2240b0" stroke-width="4.5" stroke-linecap="round"/>
<path d="M641.9 181.8h0M646 156.5h0M643.8 169.3h0M657.4 161.5h0M661.8 142.6h0M665.9 170.1h0M674.5 190h0" stroke="#2444b4" stroke-width="4.5" stroke-linecap="round"/>
<path d="M652.5 160.5h0M682.8 151.7h0" stroke="#1e36a0" stroke-width="3.5" stroke-linecap="round"/>
<path d="M667.5 162.7h0" stroke="#2240b0" stroke-width="3.5" stroke-linecap="round"/>
<path d="M674.3 148.9h0" stroke="#1e36a0" stroke-width="5" stroke-linecap="round"/>
<path d="M680.5 159.4h0" stroke="#1a3094" stroke-width="5" stroke-linecap="round"/>
<path d="M682 162.8h0" stroke="#1e36a0" stroke-width="4.5" stroke-linecap="round"/>
<path d="M682.5 170h0" stroke="#2444b4" stroke-width="5" stroke-linecap="round"/>
<path d="M685.9 188.1h0" stroke="#2240b0" stroke-width="5" stroke-linecap="round"/>
<rect x="662" y="166" width="13" height="13" fill="none" stroke="#ffffff" stroke-width="1.7"/>
<rect x="672.3000000000001" y="182" width="6" height="2" fill="#ffffff"/>
</g>
<g clip-path="url(#c36)">
<rect x="525" y="84" width="50.2" height="50" fill="#1a1408"/>
<ellipse cx="549.0" cy="110.0" rx="26.0" ry="20.0" fill="#5a8030"/>
<ellipse cx="565.0" cy="130.0" rx="14.0" ry="6.0" fill="#3a2410"/>
<path d="M537.2 109.1h0M560 84.4h0M525.6 87h0M571.5 113.5h0" stroke="#78a038" stroke-width="2" stroke-linecap="round" stroke-opacity="0.5"/>
<path d="M566.2 95.6h0M551.3 124.7h0M536.3 120.4h0M548.3 110.8h0M574.3 111.6h0M537.7 123h0M559 120.3h0M549 84.8h0M545.2 133.3h0M552.7 104.4h0M539.5 106.6h0" stroke="#2a2a10" stroke-width="4" stroke-linecap="round" stroke-opacity="0.5"/>
<path d="M571.5 103.9h0M554.4 102h0M569.1 127.2h0M569.4 92.9h0M554.1 113.7h0M532 118.3h0M570.4 116h0M568.5 94.8h0" stroke="#2a2a10" stroke-width="3" stroke-linecap="round" stroke-opacity="0.5"/>
<path d="M552.1 85.6h0M530.6 129.2h0M569.1 120.9h0M561.6 128h0" stroke="#78a038" stroke-width="4" stroke-linecap="round" stroke-opacity="0.5"/>
<path d="M542.4 99h0M533.8 133.3h0M554.6 133.5h0M566.7 123.3h0M567.1 85.4h0M527.7 122.3h0M551.6 85.7h0" stroke="#78a038" stroke-width="3" stroke-linecap="round" stroke-opacity="0.5"/>
<path d="M563.4 85.5h0M559.3 130.6h0M551 106h0M535.7 132.9h0M549 90.2h0M542.5 129.5h0" stroke="#2a2a10" stroke-width="2" stroke-linecap="round" stroke-opacity="0.5"/>
<ellipse cx="549.0" cy="113.3" rx="9.6" ry="7.8" fill="#2238a8"/>
<ellipse cx="560.5" cy="130.0" rx="5.5" ry="4.5" fill="#2238a8"/>
<path d="M558.5 105.8h0M569.3 130.9h0M555.8 114.7h0M553.4 126.8h0M533.1 127.4h0" stroke="#f4e020" stroke-width="2" stroke-linecap="round"/>
<path d="M574.7 122.5h0M532.8 110.2h0M549.5 86.7h0M574.1 125h0M536.6 117.5h0M533.4 103.1h0M525.8 125.6h0M531.7 93.3h0" stroke="#f4e020" stroke-width="1.5" stroke-linecap="round"/>
<path d="M528.8 133.2h0M533.1 124.8h0M561.8 107.5h0" stroke="#f4e020" stroke-width="1" stroke-linecap="round"/>
</g>
<g clip-path="url(#c37)">
<rect x="578.2" y="84" width="50.2" height="50" fill="#120c06"/>
<ellipse cx="603.2" cy="110.0" rx="22.0" ry="20.0" fill="#4a7830"/>
<ellipse cx="583.2" cy="94.0" rx="6.0" ry="12.0" fill="#3a5a20"/>
<path d="M627.3 86.7h0M586.2 108.1h0M592.3 100.1h0M588.3 94.2h0M604.6 125.3h0M596.5 105.6h0M610.8 113h0M626.7 87.4h0" stroke="#1a2008" stroke-width="4" stroke-linecap="round" stroke-opacity="0.5"/>
<path d="M621.1 102.6h0M626.7 106h0M605.5 105.9h0M602.7 109h0M601.1 92.6h0M588.2 112.5h0M615.6 123h0M619.4 106.7h0M604.8 117.6h0M591.3 104.3h0M585.8 106.9h0M605.7 123.7h0M596.5 93.7h0M616.2 131h0M622.7 126.4h0" stroke="#5a8a30" stroke-width="2" stroke-linecap="round" stroke-opacity="0.5"/>
<path d="M586.2 133.7h0M619 116.8h0M583.5 120.8h0M612.8 133.7h0M578.7 118h0M624.5 89.8h0" stroke="#5a8a30" stroke-width="3" stroke-linecap="round" stroke-opacity="0.5"/>
<path d="M623.3 128.8h0M582.6 115.5h0M580.3 115.1h0M602.5 124.9h0M623.4 114.5h0" stroke="#1a2008" stroke-width="2" stroke-linecap="round" stroke-opacity="0.5"/>
<path d="M611.9 128.1h0M585.3 110h0M591.7 116.8h0M617.2 97.2h0" stroke="#5a8a30" stroke-width="4" stroke-linecap="round" stroke-opacity="0.5"/>
<path d="M605.7 99.8h0M615.7 119.8h0" stroke="#1a2008" stroke-width="3" stroke-linecap="round" stroke-opacity="0.5"/>
<ellipse cx="603.7" cy="108.5" rx="11.5" ry="10.3" fill="#2238a8"/>
<ellipse cx="581.2" cy="92.0" rx="6.0" ry="9.0" fill="#2238a8"/>
<ellipse cx="581.2" cy="131.0" rx="4.0" ry="4.0" fill="#2238a8"/>
<path d="M619.2 99.7h0M610.8 106.9h0M619.9 86.8h0M613.6 92h0M582.1 104.6h0" stroke="#f4e020" stroke-width="1.5" stroke-linecap="round"/>
<path d="M591.5 110.5h0M628.4 129.5h0M606.4 101.4h0M591.5 96.2h0M578.9 90.1h0" stroke="#f4e020" stroke-width="2" stroke-linecap="round"/>
</g>
<g clip-path="url(#c38)">
<rect x="631.1" y="84" width="50.2" height="50" fill="#2a2010"/>
<ellipse cx="656.1" cy="109.0" rx="24.0" ry="22.0" fill="#5a8436"/>
<ellipse cx="666.1" cy="119.0" rx="10.0" ry="10.0" fill="#6a5a30"/>
<path d="M662.1 128.5h0M648.7 122.3h0M635.6 117.9h0M637.8 93h0M649.1 93.5h0M635.6 116.1h0" stroke="#202810" stroke-width="3" stroke-linecap="round" stroke-opacity="0.5"/>
<path d="M678.1 110h0M677.6 95.7h0M676.2 88.1h0M679.2 130.1h0M661 91.9h0M670 85h0" stroke="#202810" stroke-width="4" stroke-linecap="round" stroke-opacity="0.5"/>
<path d="M667.6 126.9h0M642.6 93.9h0M653.2 96.4h0M660.8 125.9h0M633.9 104.8h0M668.6 128.6h0" stroke="#6a8a30" stroke-width="2" stroke-linecap="round" stroke-opacity="0.5"/>
<path d="M680.2 101.2h0M675.3 86.8h0M653.6 125.2h0M632.7 117.6h0M655.5 114.2h0M655.5 95.4h0M678.8 107.1h0M643.5 104.7h0M663.7 85.8h0M677 113.1h0" stroke="#202810" stroke-width="2" stroke-linecap="round" stroke-opacity="0.5"/>
<path d="M680.4 86.8h0M677.2 111.4h0M680.4 100.5h0M654.9 110.2h0M634.4 102.9h0M677.4 104h0M664.2 94.9h0M632.2 97.1h0M649.4 89.2h0" stroke="#6a8a30" stroke-width="3" stroke-linecap="round" stroke-opacity="0.5"/>
<path d="M658.8 124.9h0M664.5 107.8h0M658.5 104.7h0" stroke="#6a8a30" stroke-width="4" stroke-linecap="round" stroke-opacity="0.5"/>
<ellipse cx="666.4" cy="89.0" rx="8.0" ry="6.0" fill="#2238a8"/>
<ellipse cx="651.4" cy="109.7" rx="7.3" ry="10.2" fill="#2238a8"/>
<ellipse cx="634.1" cy="110.0" rx="5.5" ry="8.5" fill="#2238a8"/>
<ellipse cx="678.1" cy="98.0" rx="4.0" ry="8.0" fill="#2238a8"/>
<ellipse cx="652.1" cy="133.0" rx="8.0" ry="4.0" fill="#2238a8"/>
<path d="M651.5 98.5h0M678 87.5h0" stroke="#f4e020" stroke-width="1" stroke-linecap="round"/>
<path d="M646.5 107.8h0M666.1 124.5h0M649.1 118.5h0M642.2 92.7h0" stroke="#f4e020" stroke-width="1.5" stroke-linecap="round"/>
<path d="M645.9 94.5h0M637.7 96.1h0M658.5 102.5h0M648.1 113.2h0" stroke="#f4e020" stroke-width="2" stroke-linecap="round"/>
</g>
<g clip-path="url(#c39)">
<rect x="525" y="190" width="50.2" height="50" fill="#2a1408"/>
<ellipse cx="543.0" cy="215.0" rx="18.0" ry="18.0" fill="#80a838"/>
<ellipse cx="563.0" cy="230.0" rx="14.0" ry="10.0" fill="#a06020"/>
<ellipse cx="533.0" cy="235.0" rx="8.0" ry="6.0" fill="#905a1c"/>
<path d="M570.9 196.9h0M561.3 192.8h0M555 217.1h0M537.3 219.8h0M545.4 211.1h0" stroke="#6a3a10" stroke-width="4" stroke-linecap="round" stroke-opacity="0.5"/>
<path d="M549.2 237.9h0M547.4 218.9h0M547.4 219h0M546.4 234.7h0M535.8 214.2h0M569.7 222.8h0M551.9 207h0M527.1 222.4h0" stroke="#8aa038" stroke-width="3" stroke-linecap="round" stroke-opacity="0.5"/>
<path d="M571.7 203.7h0M550.2 206h0M568.5 218.9h0M560.1 195.3h0M544.5 223.4h0" stroke="#8aa038" stroke-width="2" stroke-linecap="round" stroke-opacity="0.5"/>
<path d="M575.2 203.1h0M553 230.7h0M567.6 213.7h0M550.3 235.4h0M555.4 209.2h0M531.7 208.3h0M540.9 200.8h0M568.7 213.5h0M558.6 236.6h0" stroke="#6a3a10" stroke-width="3" stroke-linecap="round" stroke-opacity="0.5"/>
<path d="M554.5 191.9h0M543.2 190h0M537.2 239h0M554.7 197.6h0M554.3 237.9h0M525.9 194.1h0" stroke="#8aa038" stroke-width="4" stroke-linecap="round" stroke-opacity="0.5"/>
<path d="M533.5 235.3h0M546.1 203.9h0M553 196.4h0M525.2 221.4h0M541.9 193.8h0M549.8 197.9h0M547.4 236h0" stroke="#6a3a10" stroke-width="2" stroke-linecap="round" stroke-opacity="0.5"/>
<ellipse cx="556.7" cy="211.2" rx="7.8" ry="10.2" fill="#2238a8"/>
<ellipse cx="542.3" cy="196.0" rx="6.6" ry="5.0" fill="#2238a8"/>
<path d="M574.4 230.3h0M563.2 224.3h0" stroke="#f4e020" stroke-width="1" stroke-linecap="round"/>
<path d="M567.2 191.8h0M563.4 224.9h0M546.8 200.2h0" stroke="#f4e020" stroke-width="1.5" stroke-linecap="round"/>
<path d="M555.3 206.7h0M547.7 208.6h0M526.7 214h0" stroke="#f4e020" stroke-width="2" stroke-linecap="round"/>
</g>
<g clip-path="url(#c40)">
<rect x="578.2" y="190" width="50.2" height="50" fill="#1a4418"/>
<ellipse cx="603.2" cy="215.0" rx="26.0" ry="24.0" fill="#1e4a1a"/>
<path d="M582.7 237.5h0M606.8 231.9h0M593.5 231.5h0M601.7 232.1h0M598.2 222.9h0M617.9 214.8h0M610.1 192.9h0M580 225.6h0" stroke="#143a10" stroke-width="2" stroke-linecap="round" stroke-opacity="0.5"/>
<path d="M620.4 227.4h0M588 228.2h0M606 212h0M619.7 225.9h0M591.4 207.8h0M620 206.1h0M606.2 219.8h0M602.3 222.1h0M609 228.5h0M599.6 209.7h0M581 227.5h0" stroke="#2a6a20" stroke-width="3" stroke-linecap="round" stroke-opacity="0.5"/>
<path d="M595.9 226.1h0M589.8 215.1h0M594 196.3h0M594.6 216.5h0M587.4 200.4h0M613.9 201.1h0" stroke="#143a10" stroke-width="4" stroke-linecap="round" stroke-opacity="0.5"/>
<path d="M605.3 209.4h0M581 225h0M596.4 203.7h0M611.1 231h0M603.6 194.1h0" stroke="#143a10" stroke-width="3" stroke-linecap="round" stroke-opacity="0.5"/>
<path d="M614.3 211.4h0M597.9 211.2h0M591.6 214.5h0M579.5 227.7h0M580.6 222.3h0M599.4 226.7h0" stroke="#2a6a20" stroke-width="4" stroke-linecap="round" stroke-opacity="0.5"/>
<path d="M610 192.1h0M593.8 208.1h0M600.6 222.4h0M599.4 204.1h0" stroke="#2a6a20" stroke-width="2" stroke-linecap="round" stroke-opacity="0.5"/>
<ellipse cx="604.5" cy="215.3" rx="12.0" ry="10.8" fill="#2238a8"/>
<ellipse cx="582.2" cy="215.5" rx="6.8" ry="6.6" fill="#2238a8"/>
<ellipse cx="626.2" cy="234.0" rx="4.0" ry="6.0" fill="#2238a8"/>
<ellipse cx="581.2" cy="238.0" rx="6.0" ry="4.0" fill="#2238a8"/>
<path d="M612.4 190.7h0M605.4 193.1h0M602.4 225.5h0" stroke="#40c040" stroke-width="1.5" stroke-linecap="round"/>
<path d="M591.3 196.8h0M605.3 223.6h0M618.6 209.8h0" stroke="#e0d030" stroke-width="1.5" stroke-linecap="round"/>
<path d="M594.2 196.1h0M581.8 235.7h0M601.9 239h0" stroke="#40c040" stroke-width="2" stroke-linecap="round"/>
<path d="M612.4 192h0" stroke="#e0d030" stroke-width="2" stroke-linecap="round"/>
<path d="M582.2 223.8h0M615.5 193.6h0" stroke="#40c040" stroke-width="1" stroke-linecap="round"/>
</g>
<g clip-path="url(#c41)">
<rect x="631.1" y="190" width="50.2" height="50" fill="#0a0a05"/>
<ellipse cx="655.1" cy="216.0" rx="26.0" ry="22.0" fill="#6a8a30"/>
<ellipse cx="641.1" cy="200.0" rx="12.0" ry="10.0" fill="#5a7a28"/>
<path d="M679.6 218h0M635.8 220.9h0M661.7 209.3h0M670.9 199.7h0M640.7 197.1h0M637.1 222.5h0" stroke="#2a3a10" stroke-width="3" stroke-linecap="round" stroke-opacity="0.5"/>
<path d="M669.6 239.4h0M665.2 236.4h0M633 224.4h0M641.5 195.5h0M677.3 211h0M640.8 201.9h0M670.9 212.5h0M648.6 208.9h0" stroke="#7a9a30" stroke-width="3" stroke-linecap="round" stroke-opacity="0.5"/>
<path d="M680.9 200.4h0M640.5 220.7h0M674.4 198.1h0M661.4 209.9h0M637.8 198.2h0M656.7 192.3h0M669.7 236.4h0M680.6 210.2h0M658.1 238.2h0M675.3 229.9h0" stroke="#7a9a30" stroke-width="4" stroke-linecap="round" stroke-opacity="0.5"/>
<path d="M633.8 219.1h0" stroke="#2a3a10" stroke-width="2" stroke-linecap="round" stroke-opacity="0.5"/>
<path d="M653.4 225.7h0M670.3 216.3h0M631.1 218.4h0M665.5 224.1h0M648.3 224.9h0M657.3 225.8h0M674.2 220.2h0" stroke="#7a9a30" stroke-width="2" stroke-linecap="round" stroke-opacity="0.5"/>
<path d="M639.9 217.5h0M631.4 223.7h0M631.6 196.5h0M633.6 219h0M656.8 221.9h0M661.7 192.8h0M676.3 228.7h0M679.7 196.3h0" stroke="#2a3a10" stroke-width="4" stroke-linecap="round" stroke-opacity="0.5"/>
<ellipse cx="654.9" cy="220.8" rx="12.0" ry="9.0" fill="#2238a8"/>
<path d="M654.2 199.6h0M666.9 211.6h0M653.7 239.6h0M648.8 199.4h0M659.3 219h0" stroke="#f4e020" stroke-width="1.5" stroke-linecap="round"/>
<path d="M644.2 224.8h0M674.6 200.6h0M670.4 239.7h0M679.8 194.7h0" stroke="#f4e020" stroke-width="2" stroke-linecap="round"/>
<path d="M670 191.3h0" stroke="#f4e020" stroke-width="1" stroke-linecap="round"/>
</g>
<text x="526.4" y="253" font-size="10" text-anchor="start" fill="#231f20" stroke="#231f20" stroke-width="0.2"><tspan fill="#22c822" stroke="#22c822">GFP-PABPC1</tspan>+<tspan fill="#e82828" stroke="#e82828">G3BP1</tspan>+<tspan fill="#2828e0" stroke="#2828e0">DAPI</tspan></text>
<text x="526.4" y="264.5" font-size="10" text-anchor="start" fill="#231f20" stroke="#231f20" stroke-width="0.2">AS treated for 1 h</text>
<line x1="50.8" y1="272.5" x2="50.8" y2="374.2" stroke="#333333" stroke-width="1.3"/>
<line x1="50.2" y1="373.6" x2="192" y2="373.6" stroke="#333333" stroke-width="1.3"/>
<line x1="48.3" y1="373.6" x2="50.8" y2="373.6" stroke="#333333" stroke-width="1.1"/>
<text x="47.3" y="376.3" font-size="7.5" text-anchor="end" fill="#231f20" stroke="#231f20" stroke-width="0.2">0</text>
<line x1="48.3" y1="348.45000000000005" x2="50.8" y2="348.45000000000005" stroke="#333333" stroke-width="1.1"/>
<text x="47.3" y="351.15000000000003" font-size="7.5" text-anchor="end" fill="#231f20" stroke="#231f20" stroke-width="0.2">20</text>
<line x1="48.3" y1="323.3" x2="50.8" y2="323.3" stroke="#333333" stroke-width="1.1"/>
<text x="47.3" y="326.0" font-size="7.5" text-anchor="end" fill="#231f20" stroke="#231f20" stroke-width="0.2">40</text>
<line x1="48.3" y1="298.15000000000003" x2="50.8" y2="298.15000000000003" stroke="#333333" stroke-width="1.1"/>
<text x="47.3" y="300.85" font-size="7.5" text-anchor="end" fill="#231f20" stroke="#231f20" stroke-width="0.2">60</text>
<line x1="48.3" y1="273.0" x2="50.8" y2="273.0" stroke="#333333" stroke-width="1.1"/>
<text x="47.3" y="275.7" font-size="7.5" text-anchor="end" fill="#231f20" stroke="#231f20" stroke-width="0.2">80</text>
<text x="33.5" y="324.8" font-size="8.3" text-anchor="middle" fill="#231f20" transform="rotate(-90 33.5 324.8)" stroke="#231f20" stroke-width="0.2">SGs per Cell</text>
<path d="M58.7 371.6h0M59.1 371.7h0M59.4 371.9h0M59.8 372h0M60.2 372.2h0M60.6 372.3h0M60.9 372.5h0M61.3 372.6h0M61.7 372.8h0M62 372.9h0M62.4 373.1h0M62.8 373.2h0M63.1 373.4h0M63.5 373.5h0M63.9 373.5h0M64.3 373.4h0M64.6 373.2h0M65 373.1h0M65.4 372.9h0M65.7 372.8h0M66.1 372.6h0M66.5 372.5h0M66.8 372.3h0M67.2 372.2h0M67.6 372h0M68 371.9h0M68.3 371.7h0M68.7 371.6h0M58.7 369.1h0M60.1 369.7h0M61.6 370.2h0M63 370.8h0M64.4 370.8h0M65.8 370.2h0M67.3 369.7h0M68.7 369.1h0M62.2 368h0M65.2 368h0M63.7 366.1h0M63.7 361h0M92.1 366.6h0M92.7 366.8h0M93.3 367h0M93.9 367.3h0M94.5 367.5h0M95 367.7h0M95.6 368h0M96.2 368.2h0M96.8 368.5h0M97.4 368.5h0M98 368.2h0M98.6 368h0M99.2 367.7h0M99.7 367.5h0M100.3 367.3h0M100.9 367h0M101.5 366.8h0M102.1 366.6h0M92.1 369.1h0M92.6 369.3h0M93.1 369.5h0M93.6 369.7h0M94.1 369.9h0M94.6 370.1h0M95.1 370.3h0M95.6 370.5h0M96.1 370.7h0M96.6 370.9h0M97.1 371.1h0M97.6 370.9h0M98.1 370.7h0M98.6 370.5h0M99.1 370.3h0M99.6 370.1h0M100.1 369.9h0M100.6 369.7h0M101.1 369.5h0M101.6 369.3h0M102.1 369.1h0M92.1 371.6h0M92.7 371.8h0M93.3 372.1h0M93.9 372.3h0M94.5 372.5h0M95 372.8h0M95.6 373h0M96.2 373.2h0M96.8 373.5h0M97.4 373.5h0M98 373.2h0M98.6 373h0M99.2 372.8h0M99.7 372.5h0M100.3 372.3h0M100.9 372.1h0M101.5 371.8h0M102.1 371.6h0M92.8 359.3h0M95.6 360.4h0M98.5 360.4h0M101.4 359.3h0M92.1 356.5h0M94.1 357.3h0M96.1 358.1h0M98.1 358.1h0M100.1 357.3h0M102.1 356.5h0M95.6 350.4h0M98.5 350.4h0M92.1 364.1h0M93.1 364.5h0M94.1 364.9h0M95.1 365.3h0M96.1 365.7h0M97.1 366.1h0M98.1 365.7h0M99.1 365.3h0M100.1 364.9h0M101.1 364.5h0M102.1 364.1h0M92.1 361.5h0M94.1 362.3h0M96.1 363.1h0M98.1 363.1h0M100.1 362.3h0M102.1 361.5h0M97.1 313.2h0M97.1 356h0M97.1 340.9h0M97.1 353.5h0M126.2 361.5h0M127.3 362h0M128.4 362.4h0M129.5 362.9h0M130.6 363.3h0M131.8 363.3h0M132.9 362.9h0M134 362.4h0M135.1 362h0M136.2 361.5h0M126.2 346.5h0M127.4 347h0M128.7 347.5h0M129.9 348h0M131.2 348.5h0M132.4 348h0M133.7 347.5h0M134.9 347h0M136.2 346.5h0M126.2 364.1h0M126.7 364.3h0M127.2 364.5h0M127.7 364.7h0M128.2 364.9h0M128.7 365.1h0M129.2 365.3h0M129.7 365.5h0M130.2 365.7h0M130.7 365.9h0M131.2 366.1h0M131.7 365.9h0M132.2 365.7h0M132.7 365.5h0M133.2 365.3h0M133.7 365.1h0M134.2 364.9h0M134.7 364.7h0M135.2 364.5h0M135.7 364.3h0M136.2 364.1h0M129.8 305.1h0M132.6 305.1h0M126.2 359h0M127.1 359.4h0M128 359.8h0M128.9 360.1h0M129.8 360.5h0M130.7 360.8h0M131.7 360.8h0M132.6 360.5h0M133.5 360.1h0M134.4 359.8h0M135.3 359.4h0M136.2 359h0M126.2 338.9h0M127.9 339.6h0M129.5 340.2h0M131.2 340.9h0M132.9 340.2h0M134.5 339.6h0M136.2 338.9h0M126.2 343.9h0M128.2 344.7h0M130.2 345.5h0M132.2 345.5h0M134.2 344.7h0M136.2 343.9h0M126.2 356.5h0M127.1 356.9h0M128 357.2h0M128.9 357.6h0M129.8 358h0M130.7 358.3h0M131.7 358.3h0M132.6 358h0M133.5 357.6h0M134.4 357.2h0M135.3 356.9h0M136.2 356.5h0M126.2 351.5h0M127.6 352.1h0M129.1 352.6h0M130.5 353.2h0M131.9 353.2h0M133.3 352.6h0M134.8 352.1h0M136.2 351.5h0M126.2 369.1h0M127 369.4h0M127.7 369.7h0M128.5 370h0M129.3 370.3h0M130 370.6h0M130.8 370.9h0M131.6 370.9h0M132.4 370.6h0M133.1 370.3h0M133.9 370h0M134.7 369.7h0M135.4 369.4h0M136.2 369.1h0M126.2 366.6h0M127 366.9h0M127.7 367.2h0M128.5 367.5h0M129.3 367.8h0M130 368.1h0M130.8 368.4h0M131.6 368.4h0M132.4 368.1h0M133.1 367.8h0M133.9 367.5h0M134.7 367.2h0M135.4 366.9h0M136.2 366.6h0M126.2 354h0M127.2 354.4h0M128.2 354.8h0M129.2 355.2h0M130.2 355.6h0M131.2 356h0M132.2 355.6h0M133.2 355.2h0M134.2 354.8h0M135.2 354.4h0M136.2 354h0M129.8 335.3h0M132.6 335.3h0M131.2 323.3h0M129.8 325.2h0M132.6 325.2h0M126.2 349h0M127.9 349.6h0M129.5 350.3h0M131.2 351h0M132.9 350.3h0M134.5 349.6h0M136.2 349h0M126.2 341.4h0M127.3 341.9h0M128.4 342.3h0M129.5 342.8h0M130.6 343.2h0M131.8 343.2h0M132.9 342.8h0M134 342.3h0M135.1 341.9h0M136.2 341.4h0M129.8 330.3h0M132.6 330.3h0M128.3 327.2h0M131.2 328.3h0M134.1 327.2h0M129.8 337.8h0M132.6 337.8h0M131.2 373.6h0M129.8 320.2h0M132.6 320.2h0M131.2 300.7h0M131.2 283.1h0M163.6 305.1h0M166.4 305.1h0M160 369.1h0M160.5 369.3h0M161 369.5h0M161.5 369.7h0M162 369.9h0M162.5 370.1h0M163 370.3h0M163.5 370.5h0M164 370.7h0M164.5 370.9h0M165 371.1h0M165.5 370.9h0M166 370.7h0M166.5 370.5h0M167 370.3h0M167.5 370.1h0M168 369.9h0M168.5 369.7h0M169 369.5h0M169.5 369.3h0M170 369.1h0M160 366.6h0M160.7 366.9h0M161.4 367.1h0M162.1 367.4h0M162.9 367.7h0M163.6 368h0M164.3 368.3h0M165 368.6h0M165.7 368.3h0M166.4 368h0M167.1 367.7h0M167.9 367.4h0M168.6 367.1h0M169.3 366.9h0M170 366.6h0M160.7 326.6h0M163.6 327.8h0M166.4 327.8h0M169.3 326.6h0M160 359h0M161 359.4h0M162 359.8h0M163 360.2h0M164 360.6h0M165 361h0M166 360.6h0M167 360.2h0M168 359.8h0M169 359.4h0M170 359h0M160 371.6h0M161 372h0M162 372.4h0M163 372.8h0M164 373.2h0M165 373.6h0M166 373.2h0M167 372.8h0M168 372.4h0M169 372h0M170 371.6h0M160 336.4h0M162.5 337.4h0M165 338.4h0M167.5 337.4h0M170 336.4h0M160 354h0M160.8 354.3h0M161.7 354.7h0M162.5 355h0M163.3 355.3h0M164.2 355.7h0M165 356h0M165.8 355.7h0M166.7 355.3h0M167.5 355h0M168.3 354.7h0M169.2 354.3h0M170 354h0M163.6 352.9h0M166.4 352.9h0M160 364.1h0M160.7 364.3h0M161.3 364.6h0M162 364.9h0M162.7 365.1h0M163.3 365.4h0M164 365.7h0M164.7 365.9h0M165.3 365.9h0M166 365.7h0M166.7 365.4h0M167.3 365.1h0M168 364.9h0M168.7 364.6h0M169.3 364.3h0M170 364.1h0M160 356.5h0M160.9 356.9h0M161.8 357.2h0M162.7 357.6h0M163.6 358h0M164.5 358.3h0M165.5 358.3h0M166.4 358h0M167.3 357.6h0M168.2 357.2h0M169.1 356.9h0M170 356.5h0M163.6 325.2h0M166.4 325.2h0M162.1 349.8h0M165 351h0M167.9 349.8h0M160.7 339.2h0M163.6 340.3h0M166.4 340.3h0M169.3 339.2h0M160 333.9h0M161.7 334.5h0M163.3 335.2h0M165 335.9h0M166.7 335.2h0M168.3 334.5h0M170 333.9h0M160 361.5h0M161 361.9h0M162 362.3h0M163 362.7h0M164 363.1h0M165 363.5h0M166 363.1h0M167 362.7h0M168 362.3h0M169 361.9h0M170 361.5h0M163.6 347.9h0M166.4 347.9h0M163.6 342.8h0M166.4 342.8h0M165 313.2h0M165 283.1h0M162.1 332.2h0M165 333.4h0M167.9 332.2h0M165 315.8h0M165 308.2h0" stroke="#82a8dc" stroke-width="2.5" stroke-linecap="round"/>
<path d="M72.5 371.6h0M73 371.8h0M73.4 372h0M73.9 372.1h0M74.3 372.3h0M74.8 372.5h0M75.2 372.7h0M75.7 372.9h0M76.1 373.1h0M76.6 373.2h0M77 373.4h0M77.5 373.6h0M78 373.4h0M78.4 373.2h0M78.9 373.1h0M79.3 372.9h0M79.8 372.7h0M80.2 372.5h0M80.7 372.3h0M81.1 372.1h0M81.6 372h0M82 371.8h0M82.5 371.6h0M72.5 369.1h0M73.3 369.4h0M74 369.7h0M74.8 370h0M75.6 370.3h0M76.3 370.6h0M77.1 370.9h0M77.9 370.9h0M78.7 370.6h0M79.4 370.3h0M80.2 370h0M81 369.7h0M81.7 369.4h0M82.5 369.1h0M77.5 366.1h0M77.5 358.5h0M77.5 368.6h0M77.5 361h0M106.5 369.1h0M106.9 369.3h0M107.4 369.4h0M107.8 369.6h0M108.2 369.8h0M108.7 370h0M109.1 370.1h0M109.5 370.3h0M110 370.5h0M110.4 370.7h0M110.8 370.8h0M111.3 371h0M111.7 371h0M112.2 370.8h0M112.6 370.7h0M113 370.5h0M113.5 370.3h0M113.9 370.1h0M114.3 370h0M114.8 369.8h0M115.2 369.6h0M115.6 369.4h0M116.1 369.3h0M116.5 369.1h0M106.5 364.1h0M107.1 364.3h0M107.8 364.6h0M108.4 364.8h0M109 365.1h0M109.6 365.3h0M110.2 365.6h0M110.9 365.8h0M111.5 366.1h0M112.1 365.8h0M112.8 365.6h0M113.4 365.3h0M114 365.1h0M114.6 364.8h0M115.2 364.6h0M115.9 364.3h0M116.5 364.1h0M111.5 313.2h0M106.5 366.6h0M107.1 366.8h0M107.6 367h0M108.2 367.2h0M108.7 367.5h0M109.3 367.7h0M109.8 367.9h0M110.4 368.1h0M110.9 368.3h0M111.5 368.6h0M112.1 368.3h0M112.6 368.1h0M113.2 367.9h0M113.7 367.7h0M114.3 367.5h0M114.8 367.2h0M115.4 367h0M115.9 366.8h0M116.5 366.6h0M110 352.9h0M113 352.9h0M106.5 338.9h0M109 339.9h0M111.5 340.9h0M114 339.9h0M116.5 338.9h0M106.5 371.6h0M107.8 372.1h0M109 372.6h0M110.2 373.1h0M111.5 373.6h0M112.8 373.1h0M114 372.6h0M115.2 372.1h0M116.5 371.6h0M106.5 354h0M109 355h0M111.5 356h0M114 355h0M116.5 354h0M108.6 344.8h0M111.5 345.9h0M114.4 344.8h0M106.5 356.5h0M108.2 357.2h0M109.8 357.8h0M111.5 358.5h0M113.2 357.8h0M114.8 357.2h0M116.5 356.5h0M110 342.8h0M113 342.8h0M106.5 361.5h0M107.5 361.9h0M108.5 362.3h0M109.5 362.7h0M110.5 363.1h0M111.5 363.5h0M112.5 363.1h0M113.5 362.7h0M114.5 362.3h0M115.5 361.9h0M116.5 361.5h0M106.5 359h0M107.3 359.4h0M108.2 359.7h0M109 360h0M109.8 360.4h0M110.7 360.7h0M111.5 361h0M112.3 360.7h0M113.2 360.4h0M114 360h0M114.8 359.7h0M115.7 359.4h0M116.5 359h0M108.6 349.8h0M111.5 351h0M114.4 349.8h0M107.2 336.7h0M110 337.8h0M113 337.8h0M115.8 336.7h0M111.5 335.9h0M110 347.9h0M113 347.9h0M111.5 333.4h0M111.5 330.8h0M140.5 349h0M141.5 349.4h0M142.5 349.8h0M143.5 350.2h0M144.5 350.6h0M145.5 351h0M146.5 350.6h0M147.5 350.2h0M148.5 349.8h0M149.5 349.4h0M150.5 349h0M140.5 356.5h0M141.9 357.1h0M143.4 357.7h0M144.8 358.2h0M146.2 358.2h0M147.6 357.7h0M149.1 357.1h0M150.5 356.5h0M141.2 344.2h0M144.1 345.4h0M146.9 345.4h0M149.8 344.2h0M141.2 319h0M144.1 320.2h0M146.9 320.2h0M149.8 319h0M140.5 354h0M141.1 354.2h0M141.8 354.5h0M142.4 354.7h0M143 355h0M143.6 355.2h0M144.2 355.5h0M144.9 355.7h0M145.5 356h0M146.1 355.7h0M146.8 355.5h0M147.4 355.2h0M148 355h0M148.6 354.7h0M149.2 354.5h0M149.9 354.2h0M150.5 354h0M141.2 331.6h0M144.1 332.8h0M146.9 332.8h0M149.8 331.6h0M140.5 364.1h0M143 365.1h0M145.5 366.1h0M148 365.1h0M150.5 364.1h0M140.5 341.4h0M141.6 341.9h0M142.7 342.3h0M143.8 342.8h0M144.9 343.2h0M146.1 343.2h0M147.2 342.8h0M148.3 342.3h0M149.4 341.9h0M150.5 341.4h0M140.5 328.8h0M142.5 329.6h0M144.5 330.4h0M146.5 330.4h0M148.5 329.6h0M150.5 328.8h0M140.5 351.5h0M141.9 352.1h0M143.4 352.6h0M144.8 353.2h0M146.2 353.2h0M147.6 352.6h0M149.1 352.1h0M150.5 351.5h0M140.5 321.3h0M143 322.3h0M145.5 323.3h0M148 322.3h0M150.5 321.3h0M140.5 366.6h0M141.5 367h0M142.5 367.4h0M143.5 367.8h0M144.5 368.2h0M145.5 368.6h0M146.5 368.2h0M147.5 367.8h0M148.5 367.4h0M149.5 367h0M150.5 366.6h0M141.2 296.4h0M144.1 297.6h0M146.9 297.6h0M149.8 296.4h0M140.5 338.9h0M141.6 339.3h0M142.7 339.8h0M143.8 340.2h0M144.9 340.7h0M146.1 340.7h0M147.2 340.2h0M148.3 339.8h0M149.4 339.3h0M150.5 338.9h0M140.5 359h0M141.6 359.5h0M142.7 359.9h0M143.8 360.4h0M144.9 360.8h0M146.1 360.8h0M147.2 360.4h0M148.3 359.9h0M149.4 359.5h0M150.5 359h0M141.2 293.9h0M144.1 295.1h0M146.9 295.1h0M149.8 293.9h0M140.5 361.5h0M141.2 361.8h0M141.9 362.1h0M142.6 362.4h0M143.4 362.7h0M144.1 363h0M144.8 363.3h0M145.5 363.5h0M146.2 363.3h0M146.9 363h0M147.6 362.7h0M148.4 362.4h0M149.1 362.1h0M149.8 361.8h0M150.5 361.5h0M144.1 305.1h0M146.9 305.1h0M140.5 369.1h0M142.2 369.8h0M143.8 370.4h0M145.5 371.1h0M147.2 370.4h0M148.8 369.8h0M150.5 369.1h0M144.1 312.7h0M146.9 312.7h0M140.5 323.8h0M142.5 324.6h0M144.5 325.4h0M146.5 325.4h0M148.5 324.6h0M150.5 323.8h0M142.6 299.5h0M145.5 300.7h0M148.4 299.5h0M140.5 336.4h0M141.5 336.8h0M142.5 337.2h0M143.5 337.6h0M144.5 338h0M145.5 338.4h0M146.5 338h0M147.5 337.6h0M148.5 337.2h0M149.5 336.8h0M150.5 336.4h0M140.5 306.2h0M142.5 307h0M144.5 307.8h0M146.5 307.8h0M148.5 307h0M150.5 306.2h0M142.6 327.2h0M145.5 328.3h0M148.4 327.2h0M141.2 334.1h0M144.1 335.3h0M146.9 335.3h0M149.8 334.1h0M145.5 310.7h0M142.6 314.6h0M145.5 315.8h0M148.4 314.6h0M144.1 290h0M146.9 290h0M144.1 347.9h0M146.9 347.9h0M145.5 318.3h0M145.5 303.2h0M174.3 356.5h0M175.1 356.8h0M175.8 357.1h0M176.6 357.4h0M177.4 357.7h0M178.1 358h0M178.9 358.4h0M179.7 358.4h0M180.5 358h0M181.2 357.7h0M182 357.4h0M182.8 357.1h0M183.5 356.8h0M184.3 356.5h0M174.3 366.6h0M174.9 366.8h0M175.4 367h0M176 367.2h0M176.5 367.5h0M177.1 367.7h0M177.6 367.9h0M178.2 368.1h0M178.7 368.3h0M179.3 368.6h0M179.9 368.3h0M180.4 368.1h0M181 367.9h0M181.5 367.7h0M182.1 367.5h0M182.6 367.2h0M183.2 367h0M183.7 366.8h0M184.3 366.6h0M174.3 369.1h0M174.7 369.3h0M175.2 369.4h0M175.6 369.6h0M176 369.8h0M176.5 370h0M176.9 370.1h0M177.3 370.3h0M177.8 370.5h0M178.2 370.7h0M178.6 370.8h0M179.1 371h0M179.5 371h0M180 370.8h0M180.4 370.7h0M180.8 370.5h0M181.3 370.3h0M181.7 370.1h0M182.1 370h0M182.6 369.8h0M183 369.6h0M183.4 369.4h0M183.9 369.3h0M184.3 369.1h0M174.3 361.5h0M175 361.8h0M175.7 362.1h0M176.4 362.4h0M177.2 362.7h0M177.9 363h0M178.6 363.3h0M179.3 363.5h0M180 363.3h0M180.7 363h0M181.4 362.7h0M182.2 362.4h0M182.9 362.1h0M183.6 361.8h0M184.3 361.5h0M174.3 364.1h0M174.8 364.2h0M175.3 364.4h0M175.7 364.6h0M176.2 364.8h0M176.7 365h0M177.2 365.2h0M177.6 365.4h0M178.1 365.6h0M178.6 365.8h0M179.1 366h0M179.5 366h0M180 365.8h0M180.5 365.6h0M181 365.4h0M181.4 365.2h0M181.9 365h0M182.4 364.8h0M182.9 364.6h0M183.3 364.4h0M183.8 364.2h0M184.3 364.1h0M174.3 371.6h0M175.7 372.2h0M177.2 372.7h0M178.6 373.3h0M180 373.3h0M181.4 372.7h0M182.9 372.2h0M184.3 371.6h0M174.3 354h0M175.6 354.5h0M176.8 355h0M178.1 355.5h0M179.3 356h0M180.6 355.5h0M181.8 355h0M183.1 354.5h0M184.3 354h0M174.3 351.5h0M175.6 352h0M176.8 352.5h0M178.1 353h0M179.3 353.5h0M180.6 353h0M181.8 352.5h0M183.1 352h0M184.3 351.5h0M174.3 346.5h0M176.8 347.5h0M179.3 348.5h0M181.8 347.5h0M184.3 346.5h0M176.4 334.7h0M179.3 335.9h0M182.2 334.7h0M174.3 359h0M175.1 359.4h0M176 359.7h0M176.8 360h0M177.6 360.4h0M178.5 360.7h0M179.3 361h0M180.1 360.7h0M181 360.4h0M181.8 360h0M182.6 359.7h0M183.5 359.4h0M184.3 359h0M174.3 343.9h0M176.3 344.7h0M178.3 345.5h0M180.3 345.5h0M182.3 344.7h0M184.3 343.9h0M176.4 339.7h0M179.3 340.9h0M182.2 339.7h0M177.9 337.8h0M180.8 337.8h0M176.4 342.3h0M179.3 343.4h0M182.2 342.3h0M177.9 350.4h0M180.8 350.4h0M179.3 320.8h0M179.3 328.3h0M179.3 330.8h0" stroke="#ff8a00" stroke-width="2.5" stroke-linecap="round"/>
<line x1="63.7" y1="373.6" x2="63.7" y2="370.45625" stroke="#111" stroke-width="1.25"/>
<line x1="57.300000000000004" y1="372.34250000000003" x2="70.10000000000001" y2="372.34250000000003" stroke="#111" stroke-width="1.25"/>
<line x1="60.5" y1="373.6" x2="66.9" y2="373.6" stroke="#111" stroke-width="1.25"/>
<line x1="60.5" y1="370.45625" x2="66.9" y2="370.45625" stroke="#111" stroke-width="1.25"/>
<line x1="77.5" y1="373.6" x2="77.5" y2="369.82750000000004" stroke="#111" stroke-width="1.25"/>
<line x1="71.1" y1="372.34250000000003" x2="83.9" y2="372.34250000000003" stroke="#111" stroke-width="1.25"/>
<line x1="74.3" y1="373.6" x2="80.7" y2="373.6" stroke="#111" stroke-width="1.25"/>
<line x1="74.3" y1="369.82750000000004" x2="80.7" y2="369.82750000000004" stroke="#111" stroke-width="1.25"/>
<line x1="97.1" y1="373.6" x2="97.1" y2="360.019" stroke="#111" stroke-width="1.25"/>
<line x1="90.69999999999999" y1="369.07300000000004" x2="103.5" y2="369.07300000000004" stroke="#111" stroke-width="1.25"/>
<line x1="93.89999999999999" y1="373.6" x2="100.3" y2="373.6" stroke="#111" stroke-width="1.25"/>
<line x1="93.89999999999999" y1="360.019" x2="100.3" y2="360.019" stroke="#111" stroke-width="1.25"/>
<line x1="111.5" y1="373.6" x2="111.5" y2="351.468" stroke="#111" stroke-width="1.25"/>
<line x1="105.1" y1="363.41425000000004" x2="117.9" y2="363.41425000000004" stroke="#111" stroke-width="1.25"/>
<line x1="108.3" y1="373.6" x2="114.7" y2="373.6" stroke="#111" stroke-width="1.25"/>
<line x1="108.3" y1="351.468" x2="114.7" y2="351.468" stroke="#111" stroke-width="1.25"/>
<line x1="131.2" y1="370.20475000000005" x2="131.2" y2="339.01875" stroke="#111" stroke-width="1.25"/>
<line x1="124.79999999999998" y1="354.36025" x2="137.6" y2="354.36025" stroke="#111" stroke-width="1.25"/>
<line x1="127.99999999999999" y1="370.20475000000005" x2="134.39999999999998" y2="370.20475000000005" stroke="#111" stroke-width="1.25"/>
<line x1="127.99999999999999" y1="339.01875" x2="134.39999999999998" y2="339.01875" stroke="#111" stroke-width="1.25"/>
<line x1="145.5" y1="365.04900000000004" x2="145.5" y2="317.51550000000003" stroke="#111" stroke-width="1.25"/>
<line x1="139.1" y1="341.28225000000003" x2="151.9" y2="341.28225000000003" stroke="#111" stroke-width="1.25"/>
<line x1="142.3" y1="365.04900000000004" x2="148.7" y2="365.04900000000004" stroke="#111" stroke-width="1.25"/>
<line x1="142.3" y1="317.51550000000003" x2="148.7" y2="317.51550000000003" stroke="#111" stroke-width="1.25"/>
<line x1="165" y1="373.6" x2="165" y2="343.04275" stroke="#111" stroke-width="1.25"/>
<line x1="158.6" y1="358.2585" x2="171.4" y2="358.2585" stroke="#111" stroke-width="1.25"/>
<line x1="161.8" y1="373.6" x2="168.2" y2="373.6" stroke="#111" stroke-width="1.25"/>
<line x1="161.8" y1="343.04275" x2="168.2" y2="343.04275" stroke="#111" stroke-width="1.25"/>
<line x1="179.3" y1="372.34250000000003" x2="179.3" y2="352.2225" stroke="#111" stroke-width="1.25"/>
<line x1="172.9" y1="362.2825" x2="185.70000000000002" y2="362.2825" stroke="#111" stroke-width="1.25"/>
<line x1="176.10000000000002" y1="372.34250000000003" x2="182.5" y2="372.34250000000003" stroke="#111" stroke-width="1.25"/>
<line x1="176.10000000000002" y1="352.2225" x2="182.5" y2="352.2225" stroke="#111" stroke-width="1.25"/>
<line x1="69.3" y1="373.6" x2="69.3" y2="376" stroke="#333333" stroke-width="1"/>
<line x1="104.6" y1="373.6" x2="104.6" y2="376" stroke="#333333" stroke-width="1"/>
<line x1="138.4" y1="373.6" x2="138.4" y2="376" stroke="#333333" stroke-width="1"/>
<line x1="172.6" y1="373.6" x2="172.6" y2="376" stroke="#333333" stroke-width="1"/>
<path d="M97.6 307.8V305.6H112.7V307.8" fill="none" stroke="#111" stroke-width="0.9"/>
<text x="106.6" y="304" font-size="7.5" text-anchor="middle" fill="#231f20" stroke="#231f20" stroke-width="0.2">p&lt;0.0001</text>
<path d="M131.2 280.1V277.1H147.1V280.1" fill="none" stroke="#111" stroke-width="0.9"/>
<text x="141.5" y="274.2" font-size="7.5" text-anchor="middle" fill="#231f20" stroke="#231f20" stroke-width="0.2">p&lt;0.0001</text>
<path d="M163 284.8V278.4H178.2V311.2" fill="none" stroke="#111" stroke-width="0.9"/>
<text x="179" y="274.2" font-size="7.5" text-anchor="middle" fill="#231f20" stroke="#231f20" stroke-width="0.2">p=0.0096</text>
<text x="75.2" y="381.3" font-size="9" text-anchor="end" fill="#231f20" transform="rotate(-45 75.2 381.3)" stroke="#231f20" stroke-width="0.2">NT</text>
<text x="109.1" y="382" font-size="9" text-anchor="end" fill="#231f20" transform="rotate(-45 109.1 382)" stroke="#231f20" stroke-width="0.2">250 μM AS</text>
<text x="143.1" y="381.6" font-size="9" text-anchor="end" fill="#231f20" transform="rotate(-45 143.1 381.6)" stroke="#231f20" stroke-width="0.2">500 μM AS</text>
<text x="171.7" y="380.3" font-size="9" text-anchor="end" fill="#231f20" transform="rotate(-45 171.7 380.3)" stroke="#231f20" stroke-width="0.2">500 μM AS+</text>
<text x="183.5" y="382.3" font-size="9" text-anchor="end" fill="#231f20" transform="rotate(-45 183.5 382.3)" stroke="#231f20" stroke-width="0.2">100 min Rec</text>
<circle cx="207.0" cy="276.9" r="1.2" fill="#82a8dc"/>
<circle cx="207.0" cy="287.2" r="1.2" fill="#ff8a00"/>
<text x="212.3" y="279.6" font-size="8" text-anchor="start" font-style="italic" fill="#231f20" stroke="#231f20" stroke-width="0.2">SENP1<tspan font-size="5" dy="-3">+/+</tspan></text>
<text x="212.3" y="289.8" font-size="8" text-anchor="start" font-style="italic" fill="#231f20" stroke="#231f20" stroke-width="0.2">SENP1<tspan font-size="5" dy="-3">-/-</tspan></text>
<line x1="309.2" y1="271.7" x2="309.2" y2="375.5" stroke="#333333" stroke-width="1.3"/>
<line x1="308.6" y1="374.9" x2="411.6" y2="374.9" stroke="#333333" stroke-width="1.3"/>
<line x1="306.7" y1="374.9" x2="309.2" y2="374.9" stroke="#333333" stroke-width="1.1"/>
<text x="305.5" y="378.0" font-size="8.6" text-anchor="end" fill="#231f20" stroke="#231f20" stroke-width="0.2">0</text>
<line x1="306.7" y1="340.66666666666663" x2="309.2" y2="340.66666666666663" stroke="#333333" stroke-width="1.1"/>
<text x="305.5" y="343.76666666666665" font-size="8.6" text-anchor="end" fill="#231f20" stroke="#231f20" stroke-width="0.2">20</text>
<line x1="306.7" y1="306.4333333333333" x2="309.2" y2="306.4333333333333" stroke="#333333" stroke-width="1.1"/>
<text x="305.5" y="309.5333333333333" font-size="8.6" text-anchor="end" fill="#231f20" stroke="#231f20" stroke-width="0.2">40</text>
<line x1="306.7" y1="272.2" x2="309.2" y2="272.2" stroke="#333333" stroke-width="1.1"/>
<text x="305.5" y="275.3" font-size="8.6" text-anchor="end" fill="#231f20" stroke="#231f20" stroke-width="0.2">60</text>
<text x="290.8" y="327" font-size="8.3" text-anchor="middle" fill="#231f20" transform="rotate(-90 290.8 327)" stroke="#231f20" stroke-width="0.2">SGs per Cell</text>
<path d="M320.6 364.6h0M315.6 372.9h0M316.1 373.1h0M316.6 373.3h0M317.1 373.5h0M317.6 373.7h0M318.1 373.9h0M318.6 374.1h0M319.1 374.3h0M319.6 374.5h0M320.1 374.7h0M320.6 374.9h0M321.1 374.7h0M321.6 374.5h0M322.1 374.3h0M322.6 374.1h0M323.1 373.9h0M323.6 373.7h0M324.1 373.5h0M324.6 373.3h0M325.1 373.1h0M325.6 372.9h0M316 369.6h0M319.1 370.9h0M322.2 370.9h0M325.2 369.6h0M320.6 368.1h0M320.6 361.2h0M320.6 357.8h0M320.6 347.5h0M348.7 369.5h0M349 369.6h0M349.3 369.7h0M349.6 369.8h0M349.9 370h0M350.2 370.1h0M350.5 370.2h0M350.8 370.3h0M351.1 370.4h0M351.4 370.6h0M351.7 370.7h0M352 370.8h0M352.3 370.9h0M352.6 371.1h0M352.9 371.2h0M353.2 371.3h0M353.5 371.4h0M353.9 371.4h0M354.2 371.3h0M354.5 371.2h0M354.8 371.1h0M355.1 370.9h0M355.4 370.8h0M355.7 370.7h0M356 370.6h0M356.3 370.4h0M356.6 370.3h0M356.9 370.2h0M357.2 370.1h0M357.5 370h0M357.8 369.8h0M358.1 369.7h0M358.4 369.6h0M358.7 369.5h0M348.7 362.6h0M349.3 362.9h0M349.8 363.1h0M350.4 363.3h0M350.9 363.5h0M351.5 363.7h0M352 364h0M352.6 364.2h0M353.1 364.4h0M353.7 364.6h0M354.3 364.4h0M354.8 364.2h0M355.4 364h0M355.9 363.7h0M356.5 363.5h0M357 363.3h0M357.6 363.1h0M358.1 362.9h0M358.7 362.6h0M349.1 349.1h0M352.1 350.3h0M355.2 350.3h0M358.3 349.1h0M348.7 366.1h0M349 366.2h0M349.4 366.3h0M349.7 366.5h0M350 366.6h0M350.4 366.7h0M350.7 366.9h0M351 367h0M351.4 367.1h0M351.7 367.3h0M352 367.4h0M352.4 367.5h0M352.7 367.7h0M353 367.8h0M353.4 367.9h0M353.7 368.1h0M354 367.9h0M354.4 367.8h0M354.7 367.7h0M355 367.5h0M355.4 367.4h0M355.7 367.3h0M356 367.1h0M356.4 367h0M356.7 366.9h0M357 366.7h0M357.4 366.6h0M357.7 366.5h0M358 366.3h0M358.4 366.2h0M358.7 366.1h0M348.7 359.2h0M349.6 359.6h0M350.5 359.9h0M351.4 360.3h0M352.3 360.7h0M353.2 361h0M354.2 361h0M355.1 360.7h0M356 360.3h0M356.9 359.9h0M357.8 359.6h0M358.7 359.2h0M350.6 339.4h0M353.7 340.7h0M356.8 339.4h0M348.7 355.8h0M350.4 356.4h0M352 357.1h0M353.7 357.8h0M355.4 357.1h0M357 356.4h0M358.7 355.8h0M348.7 372.9h0M349.3 373.1h0M349.9 373.4h0M350.6 373.6h0M351.2 373.9h0M351.8 374.1h0M352.4 374.4h0M353.1 374.6h0M353.7 374.9h0M354.3 374.6h0M354.9 374.4h0M355.6 374.1h0M356.2 373.9h0M356.8 373.6h0M357.4 373.4h0M358.1 373.1h0M358.7 372.9h0M348.7 352.4h0M350.4 353h0M352 353.7h0M353.7 354.4h0M355.4 353.7h0M357 353h0M358.7 352.4h0M350.6 325.7h0M353.7 327h0M356.8 325.7h0M353.7 306.4h0M353.7 344.1h0M353.7 347.5h0M380.8 359.2h0M381.4 359.4h0M381.9 359.7h0M382.5 359.9h0M383 360.1h0M383.6 360.3h0M384.1 360.5h0M384.7 360.8h0M385.2 361h0M385.8 361.2h0M386.4 361h0M386.9 360.8h0M387.5 360.5h0M388 360.3h0M388.6 360.1h0M389.1 359.9h0M389.7 359.7h0M390.2 359.4h0M390.8 359.2h0M380.8 355.8h0M381.4 356h0M382 356.3h0M382.6 356.5h0M383.2 356.7h0M383.7 357h0M384.3 357.2h0M384.9 357.4h0M385.5 357.7h0M386.1 357.7h0M386.7 357.4h0M387.3 357.2h0M387.9 357h0M388.4 356.7h0M389 356.5h0M389.6 356.3h0M390.2 356h0M390.8 355.8h0M380.8 352.4h0M382.2 352.9h0M383.7 353.5h0M385.1 354.1h0M386.5 354.1h0M387.9 353.5h0M389.4 352.9h0M390.8 352.4h0M381.2 373h0M384.2 374.3h0M387.4 374.3h0M390.4 373h0M380.8 345.5h0M382.5 346.2h0M384.1 346.8h0M385.8 347.5h0M387.5 346.8h0M389.1 346.2h0M390.8 345.5h0M380.8 338.7h0M382.1 339.2h0M383.3 339.7h0M384.6 340.2h0M385.8 340.7h0M387.1 340.2h0M388.3 339.7h0M389.6 339.2h0M390.8 338.7h0M380.8 348.9h0M381.6 349.3h0M382.5 349.6h0M383.3 349.9h0M384.1 350.3h0M385 350.6h0M385.8 350.9h0M386.6 350.6h0M387.5 350.3h0M388.3 349.9h0M389.1 349.6h0M390 349.3h0M390.8 348.9h0M380.8 362.6h0M381.7 363h0M382.6 363.4h0M383.5 363.7h0M384.4 364.1h0M385.3 364.4h0M386.3 364.4h0M387.2 364.1h0M388.1 363.7h0M389 363.4h0M389.9 363h0M390.8 362.6h0M380.8 366.1h0M381.4 366.3h0M381.9 366.5h0M382.5 366.7h0M383 366.9h0M383.6 367.2h0M384.1 367.4h0M384.7 367.6h0M385.2 367.8h0M385.8 368.1h0M386.4 367.8h0M386.9 367.6h0M387.5 367.4h0M388 367.2h0M388.6 366.9h0M389.1 366.7h0M389.7 366.5h0M390.2 366.3h0M390.8 366.1h0M380.8 369.5h0M381.5 369.8h0M382.2 370h0M382.9 370.3h0M383.7 370.6h0M384.4 370.9h0M385.1 371.2h0M385.8 371.5h0M386.5 371.2h0M387.2 370.9h0M387.9 370.6h0M388.7 370.3h0M389.4 370h0M390.1 369.8h0M390.8 369.5h0M384.2 312.7h0M387.4 312.7h0M382.7 336h0M385.8 337.2h0M388.9 336h0M380.8 342.1h0M383.3 343.1h0M385.8 344.1h0M388.3 343.1h0M390.8 342.1h0M384.2 316.1h0M387.4 316.1h0M385.8 323.5h0M382.7 332.6h0M385.8 333.8h0M388.9 332.6h0M381.2 328.5h0M384.2 329.8h0M387.4 329.8h0M390.4 328.5h0M384.2 326.4h0M387.4 326.4h0M384.2 309.2h0M387.4 309.2h0M385.8 320.1h0M385.8 299.6h0" stroke="#ec2a2a" stroke-width="2.5" stroke-linecap="round"/>
<path d="M329.4 372.9h0M329.8 373.1h0M330.2 373.2h0M330.6 373.4h0M331.1 373.6h0M331.5 373.7h0M331.9 373.9h0M332.3 374.1h0M332.7 374.2h0M333.1 374.4h0M333.6 374.6h0M334 374.7h0M334.4 374.9h0M334.8 374.7h0M335.2 374.6h0M335.6 374.4h0M336.1 374.2h0M336.5 374.1h0M336.9 373.9h0M337.3 373.7h0M337.7 373.6h0M338.1 373.4h0M338.6 373.2h0M339 373.1h0M339.4 372.9h0M329.8 369.6h0M332.8 370.9h0M335.9 370.9h0M339 369.6h0M334.4 350.9h0M363.1 359.2h0M364.8 359.9h0M366.4 360.5h0M368.1 361.2h0M369.8 360.5h0M371.4 359.9h0M373.1 359.2h0M363.1 369.5h0M363.4 369.6h0M363.7 369.7h0M364 369.8h0M364.3 369.9h0M364.6 370.1h0M364.9 370.2h0M365.2 370.3h0M365.5 370.4h0M365.7 370.5h0M366 370.7h0M366.3 370.8h0M366.6 370.9h0M366.9 371h0M367.2 371.1h0M367.5 371.2h0M367.8 371.4h0M368.1 371.5h0M368.4 371.4h0M368.7 371.2h0M369 371.1h0M369.3 371h0M369.6 370.9h0M369.9 370.8h0M370.2 370.7h0M370.5 370.5h0M370.7 370.4h0M371 370.3h0M371.3 370.2h0M371.6 370.1h0M371.9 369.9h0M372.2 369.8h0M372.5 369.7h0M372.8 369.6h0M373.1 369.5h0M363.1 366.1h0M363.7 366.3h0M364.3 366.5h0M364.9 366.8h0M365.5 367h0M366 367.2h0M366.6 367.5h0M367.2 367.7h0M367.8 367.9h0M368.4 367.9h0M369 367.7h0M369.6 367.5h0M370.2 367.2h0M370.7 367h0M371.3 366.8h0M371.9 366.5h0M372.5 366.3h0M373.1 366.1h0M363.1 372.9h0M363.4 373h0M363.6 373.1h0M363.9 373.2h0M364.2 373.3h0M364.5 373.4h0M364.7 373.5h0M365 373.7h0M365.3 373.8h0M365.5 373.9h0M365.8 374h0M366.1 374.1h0M366.3 374.2h0M366.6 374.3h0M366.9 374.4h0M367.2 374.5h0M367.4 374.6h0M367.7 374.7h0M368 374.8h0M368.2 374.8h0M368.5 374.7h0M368.8 374.6h0M369 374.5h0M369.3 374.4h0M369.6 374.3h0M369.9 374.2h0M370.1 374.1h0M370.4 374h0M370.7 373.9h0M370.9 373.8h0M371.2 373.7h0M371.5 373.5h0M371.7 373.4h0M372 373.3h0M372.3 373.2h0M372.6 373.1h0M372.8 373h0M373.1 372.9h0M363.1 355.8h0M365.1 356.6h0M367.1 357.4h0M369.1 357.4h0M371.1 356.6h0M373.1 355.8h0M368.1 340.7h0M365 353.1h0M368.1 354.4h0M371.2 353.1h0M363.1 362.6h0M364.2 363.1h0M365.3 363.5h0M366.4 364h0M367.5 364.4h0M368.7 364.4h0M369.8 364h0M370.9 363.5h0M372 363.1h0M373.1 362.6h0M366.6 350.3h0M369.7 350.3h0M394.6 362.6h0M394.9 362.8h0M395.3 362.9h0M395.6 363h0M395.9 363.2h0M396.3 363.3h0M396.6 363.4h0M396.9 363.6h0M397.3 363.7h0M397.6 363.8h0M397.9 364h0M398.3 364.1h0M398.6 364.2h0M398.9 364.4h0M399.3 364.5h0M399.6 364.6h0M399.9 364.5h0M400.3 364.4h0M400.6 364.2h0M400.9 364.1h0M401.3 364h0M401.6 363.8h0M401.9 363.7h0M402.3 363.6h0M402.6 363.4h0M402.9 363.3h0M403.3 363.2h0M403.6 363h0M403.9 362.9h0M404.3 362.8h0M404.6 362.6h0M394.6 355.8h0M395.3 356.1h0M396 356.4h0M396.7 356.6h0M397.5 356.9h0M398.2 357.2h0M398.9 357.5h0M399.6 357.8h0M400.3 357.5h0M401 357.2h0M401.7 356.9h0M402.5 356.6h0M403.2 356.4h0M403.9 356.1h0M404.6 355.8h0M394.6 352.4h0M395.4 352.7h0M396.3 353h0M397.1 353.4h0M397.9 353.7h0M398.8 354h0M399.6 354.4h0M400.4 354h0M401.3 353.7h0M402.1 353.4h0M402.9 353h0M403.8 352.7h0M404.6 352.4h0M394.6 366.1h0M395 366.2h0M395.5 366.4h0M395.9 366.6h0M396.3 366.7h0M396.8 366.9h0M397.2 367.1h0M397.6 367.3h0M398.1 367.4h0M398.5 367.6h0M398.9 367.8h0M399.4 368h0M399.8 368h0M400.3 367.8h0M400.7 367.6h0M401.1 367.4h0M401.6 367.3h0M402 367.1h0M402.4 366.9h0M402.9 366.7h0M403.3 366.6h0M403.7 366.4h0M404.2 366.2h0M404.6 366.1h0M394.6 359.2h0M395 359.4h0M395.4 359.5h0M395.9 359.7h0M396.3 359.9h0M396.7 360h0M397.1 360.2h0M397.5 360.4h0M397.9 360.5h0M398.4 360.7h0M398.8 360.9h0M399.2 361h0M399.6 361.2h0M400 361h0M400.4 360.9h0M400.9 360.7h0M401.3 360.5h0M401.7 360.4h0M402.1 360.2h0M402.5 360h0M402.9 359.9h0M403.4 359.7h0M403.8 359.5h0M404.2 359.4h0M404.6 359.2h0M394.6 369.5h0M394.9 369.6h0M395.3 369.7h0M395.6 369.9h0M395.9 370h0M396.3 370.1h0M396.6 370.3h0M396.9 370.4h0M397.3 370.5h0M397.6 370.7h0M397.9 370.8h0M398.3 370.9h0M398.6 371.1h0M398.9 371.2h0M399.3 371.3h0M399.6 371.5h0M399.9 371.3h0M400.3 371.2h0M400.6 371.1h0M400.9 370.9h0M401.3 370.8h0M401.6 370.7h0M401.9 370.5h0M402.3 370.4h0M402.6 370.3h0M402.9 370.1h0M403.3 370h0M403.6 369.9h0M403.9 369.7h0M404.3 369.6h0M404.6 369.5h0M394.6 342.1h0M396.6 342.9h0M398.6 343.7h0M400.6 343.7h0M402.6 342.9h0M404.6 342.1h0M399.6 327h0M394.6 348.9h0M395.9 349.4h0M397.1 349.9h0M398.4 350.4h0M399.6 350.9h0M400.9 350.4h0M402.1 349.9h0M403.4 349.4h0M404.6 348.9h0M394.6 372.9h0M397.1 373.9h0M399.6 374.9h0M402.1 373.9h0M404.6 372.9h0M394.6 345.5h0M397.1 346.5h0M399.6 347.5h0M402.1 346.5h0M404.6 345.5h0M398.1 340h0M401.2 340h0M399.6 330.4h0M399.6 313.3h0M399.6 337.2h0" stroke="#19976a" stroke-width="2.5" stroke-linecap="round"/>
<line x1="320.6" y1="374.9" x2="320.6" y2="372.3325" stroke="#111" stroke-width="1.25"/>
<line x1="314.20000000000005" y1="374.0441666666666" x2="327.0" y2="374.0441666666666" stroke="#111" stroke-width="1.25"/>
<line x1="317.40000000000003" y1="374.9" x2="323.8" y2="374.9" stroke="#111" stroke-width="1.25"/>
<line x1="317.40000000000003" y1="372.3325" x2="323.8" y2="372.3325" stroke="#111" stroke-width="1.25"/>
<line x1="334.4" y1="374.9" x2="334.4" y2="372.3325" stroke="#111" stroke-width="1.25"/>
<line x1="328.0" y1="374.0441666666666" x2="340.79999999999995" y2="374.0441666666666" stroke="#111" stroke-width="1.25"/>
<line x1="331.2" y1="374.9" x2="337.59999999999997" y2="374.9" stroke="#111" stroke-width="1.25"/>
<line x1="331.2" y1="372.3325" x2="337.59999999999997" y2="372.3325" stroke="#111" stroke-width="1.25"/>
<line x1="353.7" y1="374.9" x2="353.7" y2="351.79249999999996" stroke="#111" stroke-width="1.25"/>
<line x1="347.3" y1="364.63" x2="360.09999999999997" y2="364.63" stroke="#111" stroke-width="1.25"/>
<line x1="350.5" y1="374.9" x2="356.9" y2="374.9" stroke="#111" stroke-width="1.25"/>
<line x1="350.5" y1="351.79249999999996" x2="356.9" y2="351.79249999999996" stroke="#111" stroke-width="1.25"/>
<line x1="368.1" y1="374.9" x2="368.1" y2="361.20666666666665" stroke="#111" stroke-width="1.25"/>
<line x1="361.70000000000005" y1="369.765" x2="374.5" y2="369.765" stroke="#111" stroke-width="1.25"/>
<line x1="364.90000000000003" y1="374.9" x2="371.3" y2="374.9" stroke="#111" stroke-width="1.25"/>
<line x1="364.90000000000003" y1="361.20666666666665" x2="371.3" y2="361.20666666666665" stroke="#111" stroke-width="1.25"/>
<line x1="385.8" y1="374.9" x2="385.8" y2="341.5225" stroke="#111" stroke-width="1.25"/>
<line x1="379.40000000000003" y1="358.63916666666665" x2="392.2" y2="358.63916666666665" stroke="#111" stroke-width="1.25"/>
<line x1="382.6" y1="374.9" x2="389.0" y2="374.9" stroke="#111" stroke-width="1.25"/>
<line x1="382.6" y1="341.5225" x2="389.0" y2="341.5225" stroke="#111" stroke-width="1.25"/>
<line x1="399.6" y1="374.9" x2="399.6" y2="350.93666666666667" stroke="#111" stroke-width="1.25"/>
<line x1="393.20000000000005" y1="362.9183333333333" x2="406.0" y2="362.9183333333333" stroke="#111" stroke-width="1.25"/>
<line x1="396.40000000000003" y1="374.9" x2="402.8" y2="374.9" stroke="#111" stroke-width="1.25"/>
<line x1="396.40000000000003" y1="350.93666666666667" x2="402.8" y2="350.93666666666667" stroke="#111" stroke-width="1.25"/>
<line x1="327.5" y1="374.9" x2="327.5" y2="377.3" stroke="#333333" stroke-width="1"/>
<line x1="360" y1="374.9" x2="360" y2="377.3" stroke="#333333" stroke-width="1"/>
<line x1="393" y1="374.9" x2="393" y2="377.3" stroke="#333333" stroke-width="1"/>
<path d="M353.7 301.5V298.2H368.1V335" fill="none" stroke="#111" stroke-width="0.9"/>
<text x="364.8" y="296.3" font-size="7.5" text-anchor="middle" fill="#231f20" stroke="#231f20" stroke-width="0.2">p&lt;0.0001</text>
<path d="M385.8 293.7V290.4H399.6V308.8" fill="none" stroke="#111" stroke-width="0.9"/>
<text x="396" y="286.8" font-size="7.5" text-anchor="middle" fill="#231f20" stroke="#231f20" stroke-width="0.2">p=0.0012</text>
<text x="329.4" y="382.1" font-size="9" text-anchor="end" fill="#231f20" transform="rotate(-45 329.4 382.1)" stroke="#231f20" stroke-width="0.2">NT</text>
<text x="365.8" y="382.1" font-size="9" text-anchor="end" fill="#231f20" transform="rotate(-45 365.8 382.1)" stroke="#231f20" stroke-width="0.2">250 μM AS</text>
<text x="397" y="382.1" font-size="9" text-anchor="end" fill="#231f20" transform="rotate(-45 397 382.1)" stroke="#231f20" stroke-width="0.2">500 μM AS</text>
<circle cx="423.0" cy="277.4" r="1.2" fill="#ec2a2a"/>
<circle cx="423.0" cy="287.5" r="1.2" fill="#19976a"/>
<text x="428" y="280.2" font-size="8" text-anchor="start" fill="#231f20" stroke="#231f20" stroke-width="0.2">WT</text>
<text x="428" y="290.3" font-size="8" text-anchor="start" fill="#231f20" stroke="#231f20" stroke-width="0.2">K512R</text>
<line x1="525.6" y1="272.1" x2="525.6" y2="375.9" stroke="#333333" stroke-width="1.3"/>
<line x1="525" y1="375.3" x2="628" y2="375.3" stroke="#333333" stroke-width="1.3"/>
<line x1="523.1" y1="375.3" x2="525.6" y2="375.3" stroke="#333333" stroke-width="1.1"/>
<text x="521.5" y="378.40000000000003" font-size="8.6" text-anchor="end" fill="#231f20" stroke="#231f20" stroke-width="0.2">0</text>
<line x1="523.1" y1="349.55" x2="525.6" y2="349.55" stroke="#333333" stroke-width="1.1"/>
<text x="521.5" y="352.65000000000003" font-size="8.6" text-anchor="end" fill="#231f20" stroke="#231f20" stroke-width="0.2">20</text>
<line x1="523.1" y1="323.8" x2="525.6" y2="323.8" stroke="#333333" stroke-width="1.1"/>
<text x="521.5" y="326.90000000000003" font-size="8.6" text-anchor="end" fill="#231f20" stroke="#231f20" stroke-width="0.2">40</text>
<line x1="523.1" y1="298.05" x2="525.6" y2="298.05" stroke="#333333" stroke-width="1.1"/>
<text x="521.5" y="301.15000000000003" font-size="8.6" text-anchor="end" fill="#231f20" stroke="#231f20" stroke-width="0.2">60</text>
<line x1="523.1" y1="272.3" x2="525.6" y2="272.3" stroke="#333333" stroke-width="1.1"/>
<text x="521.5" y="275.40000000000003" font-size="8.6" text-anchor="end" fill="#231f20" stroke="#231f20" stroke-width="0.2">80</text>
<text x="506" y="323.3" font-size="8.3" text-anchor="middle" fill="#231f20" transform="rotate(-90 506 323.3)" stroke="#231f20" stroke-width="0.2">SGs per Cell</text>
<path d="M532 370.7h0M532.7 371h0M533.3 371.3h0M534 371.5h0M534.7 371.8h0M535.3 372.1h0M536 372.3h0M536.7 372.6h0M537.3 372.6h0M538 372.3h0M538.7 372.1h0M539.3 371.8h0M540 371.5h0M540.7 371.3h0M541.3 371h0M542 370.7h0M532 365.6h0M532.7 365.8h0M533.3 366.1h0M534 366.4h0M534.7 366.6h0M535.3 366.9h0M536 367.2h0M536.7 367.4h0M537.3 367.4h0M538 367.2h0M538.7 366.9h0M539.3 366.6h0M540 366.4h0M540.7 366.1h0M541.3 365.8h0M542 365.6h0M535.5 354.1h0M538.5 354.1h0M532 368.2h0M532.7 368.4h0M533.3 368.7h0M534 369h0M534.7 369.2h0M535.3 369.5h0M536 369.8h0M536.7 370h0M537.3 370h0M538 369.8h0M538.7 369.5h0M539.3 369.2h0M540 369h0M540.7 368.7h0M541.3 368.4h0M542 368.2h0M532 360.4h0M534.5 361.4h0M537 362.4h0M539.5 361.4h0M542 360.4h0M532 347.6h0M534.5 348.6h0M537 349.6h0M539.5 348.6h0M542 347.6h0M532.6 358.1h0M535.5 359.3h0M538.5 359.3h0M541.4 358.1h0M537 375.3h0M537 336.7h0M532 363h0M533.4 363.6h0M534.9 364.1h0M536.3 364.7h0M537.7 364.7h0M539.1 364.1h0M540.6 363.6h0M542 363h0M537 347h0M534.1 343.2h0M537 344.4h0M539.9 343.2h0M534.1 351h0M537 352.1h0M539.9 351h0M535.5 341.2h0M538.5 341.2h0M532.6 355.5h0M535.5 356.7h0M538.5 356.7h0M541.4 355.5h0M537 339.2h0M537 331.5h0M537 318.7h0M565 360.4h0M566.7 361.1h0M568.3 361.8h0M570 362.4h0M571.7 361.8h0M573.3 361.1h0M575 360.4h0M565 352.7h0M567.5 353.7h0M570 354.7h0M572.5 353.7h0M575 352.7h0M565 368.2h0M565.6 368.4h0M566.2 368.6h0M566.8 368.9h0M567.4 369.1h0M567.9 369.3h0M568.5 369.6h0M569.1 369.8h0M569.7 370h0M570.3 370h0M570.9 369.8h0M571.5 369.6h0M572.1 369.3h0M572.6 369.1h0M573.2 368.9h0M573.8 368.6h0M574.4 368.4h0M575 368.2h0M565 357.9h0M566.4 358.4h0M567.9 359h0M569.3 359.6h0M570.7 359.6h0M572.1 359h0M573.6 358.4h0M575 357.9h0M565 365.6h0M565.8 365.9h0M566.5 366.2h0M567.3 366.5h0M568.1 366.8h0M568.8 367.1h0M569.6 367.4h0M570.4 367.4h0M571.2 367.1h0M571.9 366.8h0M572.7 366.5h0M573.5 366.2h0M574.2 365.9h0M575 365.6h0M565 363h0M565.9 363.4h0M566.8 363.7h0M567.7 364.1h0M568.6 364.5h0M569.5 364.8h0M570.5 364.8h0M571.4 364.5h0M572.3 364.1h0M573.2 363.7h0M574.1 363.4h0M575 363h0M565 370.7h0M565.6 371h0M566.2 371.2h0M566.8 371.4h0M567.4 371.7h0M567.9 371.9h0M568.5 372.1h0M569.1 372.4h0M569.7 372.6h0M570.3 372.6h0M570.9 372.4h0M571.5 372.1h0M572.1 371.9h0M572.6 371.7h0M573.2 371.4h0M573.8 371.2h0M574.4 371h0M575 370.7h0M565 373.3h0M565.9 373.7h0M566.8 374h0M567.7 374.4h0M568.6 374.8h0M569.5 375.1h0M570.5 375.1h0M571.4 374.8h0M572.3 374.4h0M573.2 374h0M574.1 373.7h0M575 373.3h0M568.5 341.2h0M571.5 341.2h0M570 347h0M567.1 348.4h0M570 349.6h0M572.9 348.4h0M567.1 356.1h0M570 357.3h0M572.9 356.1h0M567.1 343.2h0M570 344.4h0M572.9 343.2h0M567.1 351h0M570 352.1h0M572.9 351h0M570 303.2h0M598 368.2h0M598.4 368.3h0M598.9 368.5h0M599.3 368.7h0M599.7 368.8h0M600.2 369h0M600.6 369.2h0M601 369.4h0M601.5 369.5h0M601.9 369.7h0M602.3 369.9h0M602.8 370.1h0M603.2 370.1h0M603.7 369.9h0M604.1 369.7h0M604.5 369.5h0M605 369.4h0M605.4 369.2h0M605.8 369h0M606.3 368.8h0M606.7 368.7h0M607.1 368.5h0M607.6 368.3h0M608 368.2h0M598 360.4h0M599.2 360.9h0M600.5 361.4h0M601.8 361.9h0M603 362.4h0M604.2 361.9h0M605.5 361.4h0M606.8 360.9h0M608 360.4h0M601.5 354.1h0M604.5 354.1h0M598 370.7h0M598.3 370.9h0M598.6 371h0M598.9 371.1h0M599.2 371.2h0M599.6 371.4h0M599.9 371.5h0M600.2 371.6h0M600.5 371.7h0M600.8 371.9h0M601.1 372h0M601.4 372.1h0M601.8 372.2h0M602.1 372.4h0M602.4 372.5h0M602.7 372.6h0M603 372.7h0M603.3 372.6h0M603.6 372.5h0M603.9 372.4h0M604.2 372.2h0M604.6 372.1h0M604.9 372h0M605.2 371.9h0M605.5 371.7h0M605.8 371.6h0M606.1 371.5h0M606.4 371.4h0M606.8 371.2h0M607.1 371.1h0M607.4 371h0M607.7 370.9h0M608 370.7h0M598 365.6h0M598.8 365.9h0M599.5 366.2h0M600.3 366.5h0M601.1 366.8h0M601.8 367.1h0M602.6 367.4h0M603.4 367.4h0M604.2 367.1h0M604.9 366.8h0M605.7 366.5h0M606.5 366.2h0M607.2 365.9h0M608 365.6h0M600.1 356.1h0M603 357.3h0M605.9 356.1h0M598.6 358.1h0M601.5 359.3h0M604.5 359.3h0M607.4 358.1h0M598 373.3h0M598.5 373.5h0M599 373.7h0M599.5 373.9h0M600 374.1h0M600.5 374.3h0M601 374.5h0M601.5 374.7h0M602 374.9h0M602.5 375.1h0M603 375.3h0M603.5 375.1h0M604 374.9h0M604.5 374.7h0M605 374.5h0M605.5 374.3h0M606 374.1h0M606.5 373.9h0M607 373.7h0M607.5 373.5h0M608 373.3h0M598 363h0M599.1 363.4h0M600.2 363.9h0M601.3 364.3h0M602.4 364.8h0M603.6 364.8h0M604.7 364.3h0M605.8 363.9h0M606.9 363.4h0M608 363h0M598.6 350.4h0M601.5 351.5h0M604.5 351.5h0M607.4 350.4h0M600.1 348.4h0M603 349.6h0M605.9 348.4h0M603 347h0M603 339.2h0M603 318.7h0" stroke="#ec2a2a" stroke-width="2.5" stroke-linecap="round"/>
<path d="M546.1 355.5h0M549 356.7h0M552 356.7h0M554.9 355.5h0M545.5 373.3h0M547.2 374h0M548.8 374.6h0M550.5 375.3h0M552.2 374.6h0M553.8 374h0M555.5 373.3h0M545.5 368.2h0M548 369.2h0M550.5 370.2h0M553 369.2h0M555.5 368.2h0M549 346.4h0M552 346.4h0M545.5 357.9h0M547.2 358.5h0M548.8 359.2h0M550.5 359.9h0M552.2 359.2h0M553.8 358.5h0M555.5 357.9h0M545.5 370.7h0M546.4 371.1h0M547.3 371.5h0M548.2 371.8h0M549.1 372.2h0M550 372.5h0M551 372.5h0M551.9 372.2h0M552.8 371.8h0M553.7 371.5h0M554.6 371.1h0M555.5 370.7h0M545.5 360.4h0M546.5 360.8h0M547.5 361.2h0M548.5 361.6h0M549.5 362h0M550.5 362.4h0M551.5 362h0M552.5 361.6h0M553.5 361.2h0M554.5 360.8h0M555.5 360.4h0M545.5 365.6h0M546.3 365.9h0M547 366.2h0M547.8 366.5h0M548.6 366.8h0M549.3 367.1h0M550.1 367.4h0M550.9 367.4h0M551.7 367.1h0M552.4 366.8h0M553.2 366.5h0M554 366.2h0M554.7 365.9h0M555.5 365.6h0M545.5 363h0M546.2 363.3h0M546.9 363.6h0M547.6 363.9h0M548.4 364.1h0M549.1 364.4h0M549.8 364.7h0M550.5 365h0M551.2 364.7h0M551.9 364.4h0M552.6 364.1h0M553.4 363.9h0M554.1 363.6h0M554.8 363.3h0M555.5 363h0M550.5 328.9h0M550.5 349.6h0M550.5 354.7h0M578.5 370.7h0M579.1 371h0M579.8 371.2h0M580.4 371.5h0M581 371.7h0M581.6 372h0M582.2 372.2h0M582.9 372.5h0M583.5 372.7h0M584.1 372.5h0M584.8 372.2h0M585.4 372h0M586 371.7h0M586.6 371.5h0M587.2 371.2h0M587.9 371h0M588.5 370.7h0M578.5 350.1h0M580.2 350.8h0M581.8 351.5h0M583.5 352.1h0M585.2 351.5h0M586.8 350.8h0M588.5 350.1h0M583.5 328.9h0M578.5 355.3h0M580.2 355.9h0M581.8 356.6h0M583.5 357.3h0M585.2 356.6h0M586.8 355.9h0M588.5 355.3h0M578.5 373.3h0M579.6 373.7h0M580.7 374.2h0M581.8 374.6h0M582.9 375.1h0M584.1 375.1h0M585.2 374.6h0M586.3 374.2h0M587.4 373.7h0M588.5 373.3h0M578.5 363h0M579.1 363.2h0M579.7 363.5h0M580.3 363.7h0M580.9 363.9h0M581.4 364.2h0M582 364.4h0M582.6 364.6h0M583.2 364.9h0M583.8 364.9h0M584.4 364.6h0M585 364.4h0M585.6 364.2h0M586.1 363.9h0M586.7 363.7h0M587.3 363.5h0M587.9 363.2h0M588.5 363h0M578.5 360.4h0M579.5 360.8h0M580.5 361.2h0M581.5 361.6h0M582.5 362h0M583.5 362.4h0M584.5 362h0M585.5 361.6h0M586.5 361.2h0M587.5 360.8h0M588.5 360.4h0M583.5 339.2h0M578.5 368.2h0M579 368.4h0M579.5 368.6h0M580 368.8h0M580.5 369h0M581 369.2h0M581.5 369.4h0M582 369.6h0M582.5 369.8h0M583 370h0M583.5 370.2h0M584 370h0M584.5 369.8h0M585 369.6h0M585.5 369.4h0M586 369.2h0M586.5 369h0M587 368.8h0M587.5 368.6h0M588 368.4h0M588.5 368.2h0M578.5 357.9h0M580.2 358.5h0M581.8 359.2h0M583.5 359.9h0M585.2 359.2h0M586.8 358.5h0M588.5 357.9h0M578.5 352.7h0M581 353.7h0M583.5 354.7h0M586 353.7h0M588.5 352.7h0M583.5 316.1h0M580.6 348.4h0M583.5 349.6h0M586.4 348.4h0M578.5 365.6h0M579.3 365.9h0M580.2 366.2h0M581 366.6h0M581.8 366.9h0M582.7 367.2h0M583.5 367.6h0M584.3 367.2h0M585.2 366.9h0M586 366.6h0M586.8 366.2h0M587.7 365.9h0M588.5 365.6h0M583.5 331.5h0M580.6 340.7h0M583.5 341.8h0M586.4 340.7h0M580.6 343.2h0M583.5 344.4h0M586.4 343.2h0M583.5 347h0M612 370.7h0M612.6 371h0M613.2 371.2h0M613.8 371.4h0M614.4 371.7h0M614.9 371.9h0M615.5 372.1h0M616.1 372.4h0M616.7 372.6h0M617.3 372.6h0M617.9 372.4h0M618.5 372.1h0M619.1 371.9h0M619.6 371.7h0M620.2 371.4h0M620.8 371.2h0M621.4 371h0M622 370.7h0M612.6 355.5h0M615.5 356.7h0M618.5 356.7h0M621.4 355.5h0M612 365.6h0M612.4 365.7h0M612.7 365.9h0M613.1 366h0M613.4 366.1h0M613.8 366.3h0M614.1 366.4h0M614.5 366.6h0M614.9 366.7h0M615.2 366.9h0M615.6 367h0M615.9 367.1h0M616.3 367.3h0M616.6 367.4h0M617 367.6h0M617.4 367.4h0M617.7 367.3h0M618.1 367.1h0M618.4 367h0M618.8 366.9h0M619.1 366.7h0M619.5 366.6h0M619.9 366.4h0M620.2 366.3h0M620.6 366.1h0M620.9 366h0M621.3 365.9h0M621.6 365.7h0M622 365.6h0M612 368.2h0M612.5 368.3h0M612.9 368.5h0M613.4 368.7h0M613.8 368.9h0M614.3 369.1h0M614.7 369.2h0M615.2 369.4h0M615.6 369.6h0M616.1 369.8h0M616.5 370h0M617 370.2h0M617.5 370h0M617.9 369.8h0M618.4 369.6h0M618.8 369.4h0M619.3 369.2h0M619.7 369.1h0M620.2 368.9h0M620.6 368.7h0M621.1 368.5h0M621.5 368.3h0M622 368.2h0M617 323.8h0M612 357.9h0M614.5 358.9h0M617 359.9h0M619.5 358.9h0M622 357.9h0M612 373.3h0M612.9 373.7h0M613.8 374h0M614.7 374.4h0M615.6 374.8h0M616.5 375.1h0M617.5 375.1h0M618.4 374.8h0M619.3 374.4h0M620.2 374h0M621.1 373.7h0M622 373.3h0M612 363h0M613.1 363.4h0M614.2 363.9h0M615.3 364.3h0M616.4 364.8h0M617.6 364.8h0M618.7 364.3h0M619.8 363.9h0M620.9 363.4h0M622 363h0M617 347h0M612 360.4h0M613.7 361.1h0M615.3 361.8h0M617 362.4h0M618.7 361.8h0M620.3 361.1h0M622 360.4h0M615.5 349h0M618.5 349h0M614.1 353.5h0M617 354.7h0M619.9 353.5h0M612 350.1h0M614.5 351.1h0M617 352.1h0M619.5 351.1h0M622 350.1h0" stroke="#19976a" stroke-width="2.5" stroke-linecap="round"/>
<line x1="537" y1="375.3" x2="537" y2="346.975" stroke="#111" stroke-width="1.25"/>
<line x1="530.6" y1="361.1375" x2="543.4" y2="361.1375" stroke="#111" stroke-width="1.25"/>
<line x1="533.8" y1="375.3" x2="540.2" y2="375.3" stroke="#111" stroke-width="1.25"/>
<line x1="533.8" y1="346.975" x2="540.2" y2="346.975" stroke="#111" stroke-width="1.25"/>
<line x1="550.5" y1="375.3" x2="550.5" y2="355.9875" stroke="#111" stroke-width="1.25"/>
<line x1="544.1" y1="366.2875" x2="556.9" y2="366.2875" stroke="#111" stroke-width="1.25"/>
<line x1="547.3" y1="375.3" x2="553.7" y2="375.3" stroke="#111" stroke-width="1.25"/>
<line x1="547.3" y1="355.9875" x2="553.7" y2="355.9875" stroke="#111" stroke-width="1.25"/>
<line x1="570" y1="375.3" x2="570" y2="350.83750000000003" stroke="#111" stroke-width="1.25"/>
<line x1="563.6" y1="365.0" x2="576.4" y2="365.0" stroke="#111" stroke-width="1.25"/>
<line x1="566.8" y1="375.3" x2="573.2" y2="375.3" stroke="#111" stroke-width="1.25"/>
<line x1="566.8" y1="350.83750000000003" x2="573.2" y2="350.83750000000003" stroke="#111" stroke-width="1.25"/>
<line x1="583.5" y1="375.3" x2="583.5" y2="352.125" stroke="#111" stroke-width="1.25"/>
<line x1="577.1" y1="364.35625" x2="589.9" y2="364.35625" stroke="#111" stroke-width="1.25"/>
<line x1="580.3" y1="375.3" x2="586.7" y2="375.3" stroke="#111" stroke-width="1.25"/>
<line x1="580.3" y1="352.125" x2="586.7" y2="352.125" stroke="#111" stroke-width="1.25"/>
<line x1="603" y1="375.3" x2="603" y2="359.85" stroke="#111" stroke-width="1.25"/>
<line x1="596.6" y1="368.8625" x2="609.4" y2="368.8625" stroke="#111" stroke-width="1.25"/>
<line x1="599.8" y1="375.3" x2="606.2" y2="375.3" stroke="#111" stroke-width="1.25"/>
<line x1="599.8" y1="359.85" x2="606.2" y2="359.85" stroke="#111" stroke-width="1.25"/>
<line x1="617" y1="375.3" x2="617" y2="359.85" stroke="#111" stroke-width="1.25"/>
<line x1="610.6" y1="368.8625" x2="623.4" y2="368.8625" stroke="#111" stroke-width="1.25"/>
<line x1="613.8" y1="375.3" x2="620.2" y2="375.3" stroke="#111" stroke-width="1.25"/>
<line x1="613.8" y1="359.85" x2="620.2" y2="359.85" stroke="#111" stroke-width="1.25"/>
<line x1="543.6" y1="375.3" x2="543.6" y2="377.7" stroke="#333333" stroke-width="1"/>
<line x1="577" y1="375.3" x2="577" y2="377.7" stroke="#333333" stroke-width="1"/>
<line x1="609.5" y1="375.3" x2="609.5" y2="377.7" stroke="#333333" stroke-width="1"/>
<path d="M537 311.8V309.5H550.3V318.4" fill="none" stroke="#111" stroke-width="0.9"/>
<text x="547.6" y="306.5" font-size="7.5" text-anchor="middle" fill="#231f20" stroke="#231f20" stroke-width="0.2">p=0.0073</text>
<path d="M569.8 300.8V298.8H583.2V300.8" fill="none" stroke="#111" stroke-width="0.9"/>
<text x="579" y="296" font-size="7.5" text-anchor="middle" fill="#231f20" stroke="#231f20" stroke-width="0.2">p=0.5947</text>
<path d="M603.2 313.8V311.8H616.7V313.8" fill="none" stroke="#111" stroke-width="0.9"/>
<text x="611.6" y="309.5" font-size="7.5" text-anchor="middle" fill="#231f20" stroke="#231f20" stroke-width="0.2">p=0.6453</text>
<text x="548" y="381.2" font-size="9" text-anchor="end" fill="#231f20" transform="rotate(-45 548 381.2)" stroke="#231f20" stroke-width="0.2">500 μM AS</text>
<text x="576.5" y="381.6" font-size="9" text-anchor="end" fill="#231f20" transform="rotate(-45 576.5 381.6)" stroke="#231f20" stroke-width="0.2">500 μM AS+</text>
<text x="587.8" y="383.3" font-size="9" text-anchor="end" fill="#231f20" transform="rotate(-45 587.8 383.3)" stroke="#231f20" stroke-width="0.2">60 min Rec</text>
<text x="610.3" y="381.4" font-size="9" text-anchor="end" fill="#231f20" transform="rotate(-45 610.3 381.4)" stroke="#231f20" stroke-width="0.2">500 μM AS+</text>
<text x="621.6" y="384.7" font-size="9" text-anchor="end" fill="#231f20" transform="rotate(-45 621.6 384.7)" stroke="#231f20" stroke-width="0.2">90 min Rec</text>
<circle cx="628.8" cy="278.0" r="1.2" fill="#ec2a2a"/>
<circle cx="628.8" cy="288.5" r="1.2" fill="#19976a"/>
<text x="633.5" y="280.8" font-size="8" text-anchor="start" fill="#231f20" stroke="#231f20" stroke-width="0.2">WT</text>
<text x="633.5" y="291.3" font-size="8" text-anchor="start" fill="#231f20" stroke="#231f20" stroke-width="0.2">K512R</text>
<text x="8.2" y="428.3" font-size="15" text-anchor="start" font-weight="bold" fill="#2a1a14" stroke="#2a1a14" stroke-width="0.2">d</text>
<text x="19.8" y="427.2" font-size="9" text-anchor="start" fill="#231f20" stroke="#231f20" stroke-width="0.2">H1299<tspan font-size="5.5" dy="-2.8" font-style="italic">PABPC1-/-</tspan></text>
<text x="120" y="431.3" font-size="9" text-anchor="middle" fill="#231f20" stroke="#231f20" stroke-width="0.2">0.5 mM AS</text>
<line x1="53" y1="434" x2="189.5" y2="434" stroke="#231f20" stroke-width="1"/>
<text x="0.5" y="445.6" font-size="9" text-anchor="start" fill="#231f20" stroke="#231f20" stroke-width="0.2">2-D08 (μM):</text>
<text x="73.2" y="445.6" font-size="9" text-anchor="middle" fill="#231f20" stroke="#231f20" stroke-width="0.2">0</text>
<text x="126" y="445.6" font-size="9" text-anchor="middle" fill="#231f20" stroke="#231f20" stroke-width="0.2">100</text>
<text x="177.5" y="445.6" font-size="9" text-anchor="middle" fill="#231f20" stroke="#231f20" stroke-width="0.2">150</text>
<text x="43.5" y="474" font-size="9" text-anchor="middle" fill="#231f20" transform="rotate(-90 43.5 474)" stroke="#231f20" stroke-width="0.2">Merged</text>
<text x="43.5" y="578.5" font-size="9" text-anchor="middle" fill="#231f20" transform="rotate(-90 43.5 578.5)" stroke="#231f20" stroke-width="0.2">Merged</text>
<text x="43.5" y="526" font-size="9" text-anchor="middle" fill="#231f20" transform="rotate(-90 43.5 526)" stroke="#231f20" stroke-width="0.2">Zoom</text>
<text x="43.5" y="630.6" font-size="9" text-anchor="middle" fill="#231f20" transform="rotate(-90 43.5 630.6)" stroke="#231f20" stroke-width="0.2">Zoom</text>
<line x1="32" y1="450" x2="32" y2="550.5" stroke="#231f20" stroke-width="0.8"/>
<line x1="32" y1="555" x2="32" y2="655.5" stroke="#231f20" stroke-width="0.8"/>
<text x="27" y="495.8" font-size="9" text-anchor="middle" fill="#231f20" transform="rotate(-90 27 495.8)" stroke="#231f20" stroke-width="0.2">WT</text>
<text x="27" y="595" font-size="9" text-anchor="middle" fill="#231f20" transform="rotate(-90 27 595)" stroke="#231f20" stroke-width="0.2">K512R</text>
<g clip-path="url(#c42)">
<rect x="47.3" y="449" width="49.7" height="49.8" fill="#0c0808"/>
<path d="M47.7 451.3h0" stroke="#503a18" stroke-width="10" stroke-linecap="round"/>
<path d="M50.1 458.7h0M87.5 452.2h0" stroke="#303040" stroke-width="8.5" stroke-linecap="round"/>
<path d="M46.3 464.9h0" stroke="#3a3a20" stroke-width="9.5" stroke-linecap="round"/>
<path d="M49 474.9h0M63.2 485.6h0M98 447.6h0" stroke="#4a3020" stroke-width="9.5" stroke-linecap="round"/>
<path d="M48.7 483.2h0M45.8 497.2h0M57 470.6h0M69.4 475h0M103.2 473.8h0" stroke="#3a4a28" stroke-width="9.5" stroke-linecap="round"/>
<path d="M50.9 487.8h0M61.3 500.8h0M83.8 449.7h0M89.8 499.7h0M99 479.2h0" stroke="#3a3a20" stroke-width="8.5" stroke-linecap="round"/>
<path d="M54.4 452.6h0M61.7 458.3h0M57.2 463.8h0M67.9 456.7h0M79.1 458.9h0" stroke="#2a3a2a" stroke-width="8.5" stroke-linecap="round"/>
<path d="M52 481.3h0" stroke="#4a3020" stroke-width="10.5" stroke-linecap="round"/>
<path d="M63.4 489.9h0M85.3 454.7h0" stroke="#2a3a2a" stroke-width="9.5" stroke-linecap="round"/>
<path d="M54.4 495.5h0" stroke="#3a3a20" stroke-width="10" stroke-linecap="round"/>
<path d="M64.8 449.9h0" stroke="#2a3a2a" stroke-width="10" stroke-linecap="round"/>
<path d="M61.1 464.8h0M71.4 496.2h0M95.3 476h0" stroke="#503a18" stroke-width="9.5" stroke-linecap="round"/>
<path d="M65.8 489.6h0M74.8 448.7h0M90.1 458.4h0" stroke="#4a3020" stroke-width="9" stroke-linecap="round"/>
<path d="M69.8 466.4h0M74.5 488.6h0M89 485.5h0" stroke="#3a4a28" stroke-width="10.5" stroke-linecap="round"/>
<path d="M74.3 471.7h0" stroke="#2a3a2a" stroke-width="9" stroke-linecap="round"/>
<path d="M72.7 481.5h0" stroke="#3a4a28" stroke-width="9" stroke-linecap="round"/>
<path d="M77.7 465.6h0M100.1 491.3h0" stroke="#4a3020" stroke-width="8.5" stroke-linecap="round"/>
<path d="M82.9 471.9h0M83.6 482.8h0M77.1 496.1h0M95.4 496.6h0" stroke="#3a3a20" stroke-width="9" stroke-linecap="round"/>
<path d="M86.3 490.7h0M85.4 464.4h0M91.3 487.8h0" stroke="#4a3020" stroke-width="10" stroke-linecap="round"/>
<path d="M104.3 454.9h0" stroke="#303040" stroke-width="10" stroke-linecap="round"/>
<path d="M96.4 462.7h0" stroke="#3a4a28" stroke-width="8.5" stroke-linecap="round"/>
<path d="M48.3 450.3h0M73.9 489.5h0M77.3 465.4h0" stroke="#2238c0" stroke-width="6" stroke-linecap="round"/>
<path d="M49.5 458.8h0M49.8 475.2h0M50.4 487h0M54.5 495.6h0M66 490.1h0M85.1 455h0M86.6 490h0M104.6 455.2h0M98.2 478.4h0" stroke="#1e34b0" stroke-width="5.5" stroke-linecap="round"/>
<path d="M45.4 463.9h0M79.9 458.7h0M71.7 482.1h0M70.8 495.5h0M90 458.7h0M84.5 464.5h0M89.6 499h0" stroke="#2238c0" stroke-width="5" stroke-linecap="round"/>
<path d="M48.6 482.7h0M61.5 457.8h0M57.2 464.6h0M63.8 489.5h0M60.3 465h0M64.1 485.8h0" stroke="#2844c8" stroke-width="5.5" stroke-linecap="round"/>
<path d="M45.6 497.7h0M83.4 450.2h0" stroke="#1e34b0" stroke-width="6" stroke-linecap="round"/>
<path d="M53.6 453.4h0M56.5 470.3h0M62.2 501.6h0M76.9 496.6h0M89.7 486h0" stroke="#1e34b0" stroke-width="5" stroke-linecap="round"/>
<path d="M52.7 482.1h0M67.5 456.2h0M74 471.9h0" stroke="#2238c0" stroke-width="5.5" stroke-linecap="round"/>
<path d="M64.9 449.8h0M82.5 471.2h0M91.6 488.8h0" stroke="#1a30a8" stroke-width="5" stroke-linecap="round"/>
<path d="M69.1 475.2h0M83.1 483.4h0" stroke="#2844c8" stroke-width="6" stroke-linecap="round"/>
<path d="M74.7 448.7h0M98 447.9h0" stroke="#1a30a8" stroke-width="5.5" stroke-linecap="round"/>
<path d="M69 467h0M96.1 475.8h0" stroke="#1a30a8" stroke-width="6" stroke-linecap="round"/>
<path d="M87.8 451.9h0M96.7 462.1h0M104.1 474.3h0M100.3 491.5h0M95.4 497.1h0" stroke="#2844c8" stroke-width="5" stroke-linecap="round"/>
<path d="M58.8 479.4h0M70.8 449.9h0M48.8 449.2h0M58.4 449.4h0M52.9 469.5h0M91.8 488.9h0M71.4 450.7h0" stroke="#e8d020" stroke-width="1" stroke-linecap="round"/>
<path d="M75.6 472.5h0M62.5 497h0M58.6 468.9h0M73.1 495.4h0M62.3 451.7h0" stroke="#f0e030" stroke-width="1" stroke-linecap="round"/>
<path d="M89 475h0M89 485.2h0M49 453.9h0M87.6 468.9h0M50.1 460.2h0M60.2 477h0M96.7 484.4h0M76.7 452.6h0" stroke="#f09020" stroke-width="1.5" stroke-linecap="round"/>
<path d="M47.3 479.3h0M93.6 495.3h0M47.4 486.9h0" stroke="#f8f040" stroke-width="1.5" stroke-linecap="round"/>
<path d="M72 476.2h0M70.4 472.4h0M49.1 491.8h0M87.2 491.4h0M61.3 476.2h0M50.9 456.2h0" stroke="#f09020" stroke-width="1" stroke-linecap="round"/>
<path d="M65.8 458.3h0M67.9 490.2h0M94 459.6h0M90 452h0" stroke="#f8f040" stroke-width="1" stroke-linecap="round"/>
<path d="M91.2 494.7h0M86.9 455.1h0M73.6 449h0M59.7 455.5h0" stroke="#e8d020" stroke-width="1.5" stroke-linecap="round"/>
<path d="M65.6 483h0M60.7 495.9h0M59 456.1h0" stroke="#f0e030" stroke-width="1.5" stroke-linecap="round"/>
<rect x="51" y="463" width="10" height="10" fill="none" stroke="#ffffff" stroke-width="1.7"/>
</g>
<g clip-path="url(#c43)">
<rect x="100.1" y="449" width="49.7" height="49.8" fill="#0c0808"/>
<path d="M97.7 452.5h0M99.9 482.3h0M144.8 447.9h0M148.7 449.7h0" stroke="#6a5a20" stroke-width="9" stroke-linecap="round"/>
<path d="M104 460.3h0M120.6 472.9h0M121.9 487.6h0M132.4 474.4h0M151.5 491.6h0M147.8 499.9h0" stroke="#503a18" stroke-width="9" stroke-linecap="round"/>
<path d="M100.2 463.1h0" stroke="#2a3a2a" stroke-width="10" stroke-linecap="round"/>
<path d="M107.9 471.4h0M116.8 479.2h0M136.7 498.9h0" stroke="#6a5a20" stroke-width="10" stroke-linecap="round"/>
<path d="M103.1 491.2h0" stroke="#6a5a20" stroke-width="8.5" stroke-linecap="round"/>
<path d="M98 495.7h0M130.3 455.5h0M132.2 488.7h0M138.2 487.5h0M138.8 500.3h0" stroke="#2a3a2a" stroke-width="9.5" stroke-linecap="round"/>
<path d="M108.9 449.9h0" stroke="#303040" stroke-width="9" stroke-linecap="round"/>
<path d="M111.1 456.1h0M113.1 486.9h0" stroke="#3a4a28" stroke-width="10" stroke-linecap="round"/>
<path d="M111.7 464.2h0" stroke="#303040" stroke-width="8.5" stroke-linecap="round"/>
<path d="M112 475.3h0M123 500.4h0M154.4 458h0" stroke="#4a3020" stroke-width="9.5" stroke-linecap="round"/>
<path d="M105.9 483.9h0M143.1 484.1h0" stroke="#303040" stroke-width="10" stroke-linecap="round"/>
<path d="M105.4 497.8h0" stroke="#503a18" stroke-width="9.5" stroke-linecap="round"/>
<path d="M120.3 451.6h0M135.7 474.7h0" stroke="#3a3a20" stroke-width="10" stroke-linecap="round"/>
<path d="M121.3 460.3h0" stroke="#2a3a2a" stroke-width="8.5" stroke-linecap="round"/>
<path d="M115.9 467.2h0M139.5 457.2h0M141.7 465.6h0M151.2 484.1h0" stroke="#3a4a28" stroke-width="9.5" stroke-linecap="round"/>
<path d="M114.6 499h0M152.5 468.5h0" stroke="#4a3020" stroke-width="8.5" stroke-linecap="round"/>
<path d="M126.1 446.3h0M143.2 460h0" stroke="#3a4a28" stroke-width="9" stroke-linecap="round"/>
<path d="M128.6 469.1h0" stroke="#4a3020" stroke-width="10" stroke-linecap="round"/>
<path d="M124.2 479h0" stroke="#3a3a20" stroke-width="9" stroke-linecap="round"/>
<path d="M135.6 445.5h0M155.9 475.8h0" stroke="#3a3a20" stroke-width="9.5" stroke-linecap="round"/>
<path d="M129.7 466.9h0M142.9 492.1h0" stroke="#3a4a28" stroke-width="10.5" stroke-linecap="round"/>
<path d="M129.8 484.4h0" stroke="#3a3a20" stroke-width="8.5" stroke-linecap="round"/>
<path d="M145.4 474h0" stroke="#303040" stroke-width="9.5" stroke-linecap="round"/>
<path d="M98.2 452.2h0M129.4 467.4h0M149.3 449.9h0M152.1 491.5h0M147.2 499.4h0" stroke="#1e34b0" stroke-width="6" stroke-linecap="round"/>
<path d="M104.6 459.7h0M107.4 471h0M99.7 483.1h0M106.1 497.8h0M132.2 488.7h0M144 460.8h0M138.4 499.8h0" stroke="#2238c0" stroke-width="5" stroke-linecap="round"/>
<path d="M100.8 462.2h0M106.2 484.6h0M121.4 459.3h0M116.6 467.2h0M121.1 472.1h0M123.6 479.4h0M154.7 458.5h0" stroke="#2844c8" stroke-width="5.5" stroke-linecap="round"/>
<path d="M102.5 490.6h0M117.3 479.6h0M145.1 474.2h0" stroke="#2844c8" stroke-width="5" stroke-linecap="round"/>
<path d="M97.5 494.8h0M121.5 487.8h0M126.1 446h0M122.4 500.8h0M136.3 498h0M140.8 464.6h0M151.8 469.3h0" stroke="#2238c0" stroke-width="5.5" stroke-linecap="round"/>
<path d="M108.8 449.7h0M130.8 455.6h0M137.9 488h0M156.6 475.4h0" stroke="#1a30a8" stroke-width="5.5" stroke-linecap="round"/>
<path d="M112 455.9h0M134.7 445.9h0M135.3 474.6h0" stroke="#2844c8" stroke-width="6" stroke-linecap="round"/>
<path d="M112.2 464.9h0M111.9 475.4h0M132.7 475.4h0M143.9 491.9h0" stroke="#1a30a8" stroke-width="5" stroke-linecap="round"/>
<path d="M113.8 486.8h0M129.2 484h0M142.8 484.3h0" stroke="#2238c0" stroke-width="6" stroke-linecap="round"/>
<path d="M120.4 451.7h0M114.7 499.4h0" stroke="#1e34b0" stroke-width="5.5" stroke-linecap="round"/>
<path d="M128.9 470h0M144.6 447.1h0" stroke="#1a30a8" stroke-width="6" stroke-linecap="round"/>
<path d="M138.9 458.2h0M151 485.1h0" stroke="#1e34b0" stroke-width="5" stroke-linecap="round"/>
<path d="M110.8 453.3h0M125 494.5h0M106.4 498.4h0M132.9 465.5h0M102.5 476.2h0M145 493.7h0M114.2 461.6h0" stroke="#f8f040" stroke-width="1" stroke-linecap="round"/>
<path d="M114.3 460.8h0M135.7 479.2h0M127.7 487.3h0M119.1 452h0M109 476.6h0M136.3 492.5h0M127.5 471.5h0M142 468.3h0M118.1 480.7h0" stroke="#e8d020" stroke-width="1" stroke-linecap="round"/>
<path d="M100.8 449.7h0M135.2 489.2h0" stroke="#f09020" stroke-width="1.5" stroke-linecap="round"/>
<path d="M103.8 457.1h0M134.1 459.6h0M111.8 460.7h0M115.6 453.4h0M135.2 451.4h0" stroke="#f8f040" stroke-width="1.5" stroke-linecap="round"/>
<path d="M111.3 478.4h0M117 484.5h0M128.3 464.6h0M140.8 491.8h0" stroke="#f09020" stroke-width="1" stroke-linecap="round"/>
<path d="M120.2 467.5h0M118 460.5h0M134.4 485.1h0M112.3 488.1h0M110.3 461.2h0" stroke="#f0e030" stroke-width="1" stroke-linecap="round"/>
<path d="M110.1 481.9h0M149.1 495.3h0M117.4 454.3h0M135.1 460.5h0" stroke="#f0e030" stroke-width="1.5" stroke-linecap="round"/>
<path d="M138.6 467.4h0M106.9 459.5h0M144.1 471.5h0M118 486h0" stroke="#e8d020" stroke-width="1.5" stroke-linecap="round"/>
<rect x="134" y="458" width="10" height="10" fill="none" stroke="#ffffff" stroke-width="1.7"/>
</g>
<g clip-path="url(#c44)">
<rect x="152.9" y="449" width="49.7" height="49.8" fill="#060606"/>
<path d="M151.4 452.1h0M177 487.1h0" stroke="#303040" stroke-width="8.5" stroke-linecap="round"/>
<path d="M154 459.2h0M200.6 451.6h0" stroke="#3a3a20" stroke-width="9.5" stroke-linecap="round"/>
<path d="M153.9 474.9h0M188.1 449.6h0M205.1 473.5h0" stroke="#2a3a2a" stroke-width="9" stroke-linecap="round"/>
<path d="M153.7 480.1h0M161.9 472.7h0M168.5 447.9h0M195.1 457.7h0" stroke="#303040" stroke-width="10" stroke-linecap="round"/>
<path d="M159.8 489.2h0M154.2 502.3h0" stroke="#3a4a28" stroke-width="9" stroke-linecap="round"/>
<path d="M164 450.6h0M175.4 481.4h0M185.3 462.5h0M185.6 479.6h0" stroke="#3a8a4a" stroke-width="9.5" stroke-linecap="round"/>
<path d="M166.2 456.8h0M171.4 471.8h0" stroke="#503a18" stroke-width="10" stroke-linecap="round"/>
<path d="M161.1 463.4h0M193.7 452.2h0" stroke="#303040" stroke-width="9" stroke-linecap="round"/>
<path d="M164.7 479.3h0M171.2 466.9h0" stroke="#2a3a2a" stroke-width="10" stroke-linecap="round"/>
<path d="M168.6 491.3h0M184 490.6h0M196.4 465.6h0" stroke="#3a8a4a" stroke-width="9" stroke-linecap="round"/>
<path d="M160.4 498.3h0M171.9 481.9h0" stroke="#2a3a2a" stroke-width="8.5" stroke-linecap="round"/>
<path d="M168.7 497.6h0" stroke="#503a18" stroke-width="9" stroke-linecap="round"/>
<path d="M176.2 446.2h0M181.8 470.4h0M186.7 495.7h0" stroke="#3a4a28" stroke-width="9.5" stroke-linecap="round"/>
<path d="M181.3 459.6h0" stroke="#4a3020" stroke-width="9.5" stroke-linecap="round"/>
<path d="M178.4 498.6h0" stroke="#3a4a28" stroke-width="10" stroke-linecap="round"/>
<path d="M191.1 477.6h0" stroke="#2a3a2a" stroke-width="10.5" stroke-linecap="round"/>
<path d="M190 488.1h0M205.9 491.4h0" stroke="#303040" stroke-width="9.5" stroke-linecap="round"/>
<path d="M197.8 473.8h0M203.5 478.7h0" stroke="#3a3a20" stroke-width="9" stroke-linecap="round"/>
<path d="M196.6 481.4h0" stroke="#503a18" stroke-width="8.5" stroke-linecap="round"/>
<path d="M210.2 454.1h0" stroke="#3a3a20" stroke-width="10" stroke-linecap="round"/>
<path d="M199.8 463.7h0" stroke="#3a4a28" stroke-width="10.5" stroke-linecap="round"/>
<path d="M205 496.7h0" stroke="#3a8a4a" stroke-width="10" stroke-linecap="round"/>
<path d="M151.3 451.2h0M153.5 502.2h0M164.7 449.9h0M183.2 490.4h0M188.3 450.1h0M193.4 451.4h0M197.4 481.2h0M205.9 497.3h0" stroke="#2844c8" stroke-width="5.5" stroke-linecap="round"/>
<path d="M153.5 459.2h0M172.7 481.9h0M190.4 478.4h0" stroke="#2238c0" stroke-width="5.5" stroke-linecap="round"/>
<path d="M154.2 474.4h0M163.7 479.5h0M181.8 460h0M186.2 478.9h0" stroke="#1e34b0" stroke-width="5" stroke-linecap="round"/>
<path d="M153.3 479.9h0M160.8 463h0M160.7 498.2h0M170.6 466.2h0" stroke="#1a30a8" stroke-width="5.5" stroke-linecap="round"/>
<path d="M158.8 489.2h0M176.8 486.2h0M200.6 452h0" stroke="#1a30a8" stroke-width="5" stroke-linecap="round"/>
<path d="M165.6 456.4h0M167.5 447.8h0M194.8 457.1h0" stroke="#2238c0" stroke-width="5" stroke-linecap="round"/>
<path d="M161.1 471.9h0M187.1 495.7h0" stroke="#1e34b0" stroke-width="6" stroke-linecap="round"/>
<path d="M169 492.2h0M189.2 487.8h0M211 454.3h0" stroke="#2238c0" stroke-width="6" stroke-linecap="round"/>
<path d="M171 471h0M175.2 445.6h0M197.7 473.5h0" stroke="#1a30a8" stroke-width="6" stroke-linecap="round"/>
<path d="M168.9 496.7h0M175.2 481.7h0M198.8 463.9h0M205.7 492.1h0" stroke="#2844c8" stroke-width="5" stroke-linecap="round"/>
<path d="M182.5 469.8h0M185.3 463.3h0M206.1 473.6h0M203.7 477.9h0" stroke="#2844c8" stroke-width="6" stroke-linecap="round"/>
<path d="M178.7 498.5h0M196.9 465h0" stroke="#1e34b0" stroke-width="5.5" stroke-linecap="round"/>
<path d="M188 459.2h0M194.4 483.9h0M195.2 495.4h0M167.9 461.8h0M194.4 485.7h0" stroke="#e8d020" stroke-width="1" stroke-linecap="round"/>
<path d="M160.3 466.2h0M199.2 470.8h0M198.7 486.2h0M183.7 487h0M173.3 490.8h0M171.8 454.7h0M166.6 487h0" stroke="#e8d020" stroke-width="1.5" stroke-linecap="round"/>
<path d="M185.9 460.6h0" stroke="#f09020" stroke-width="1.5" stroke-linecap="round"/>
<path d="M177.1 462.1h0M177.8 473.6h0M169.1 477.5h0M163.4 481.1h0M168.1 458.6h0M176 490.6h0" stroke="#f8f040" stroke-width="1" stroke-linecap="round"/>
<path d="M195 490.5h0M194.3 488.7h0" stroke="#f8f040" stroke-width="1.5" stroke-linecap="round"/>
<path d="M197.6 486.6h0M190.8 456.9h0M199.9 482.1h0M178.6 472.7h0M180.3 483.1h0" stroke="#f0e030" stroke-width="1" stroke-linecap="round"/>
<path d="M155.9 467.3h0M180.7 472.5h0" stroke="#f09020" stroke-width="1" stroke-linecap="round"/>
<path d="M168.7 490.8h0M175.2 452.7h0" stroke="#f0e030" stroke-width="1.5" stroke-linecap="round"/>
<rect x="175" y="487" width="10" height="10" fill="none" stroke="#ffffff" stroke-width="1.7"/>
</g>
<g clip-path="url(#c45)">
<rect x="47.3" y="553.5" width="49.7" height="49.8" fill="#0c0808"/>
<path d="M48.3 552.8h0" stroke="#2a3a2a" stroke-width="10" stroke-linecap="round"/>
<path d="M47.8 565.4h0" stroke="#3a4a28" stroke-width="8.5" stroke-linecap="round"/>
<path d="M49.6 572.4h0M55.5 584.3h0M64.9 570.6h0M87.7 554.6h0" stroke="#2a3a2a" stroke-width="9" stroke-linecap="round"/>
<path d="M53.8 579.5h0M84.4 595.5h0M93 574.8h0M89.5 590.3h0" stroke="#3a4a28" stroke-width="10" stroke-linecap="round"/>
<path d="M50 586.3h0M70.7 564.7h0M85.8 579.3h0M97.5 551.3h0" stroke="#3a3a20" stroke-width="8.5" stroke-linecap="round"/>
<path d="M48.3 596.3h0" stroke="#3a3a20" stroke-width="10.5" stroke-linecap="round"/>
<path d="M44 600.4h0M56.2 551.4h0M68.7 588.5h0M92.6 565.4h0" stroke="#303040" stroke-width="9" stroke-linecap="round"/>
<path d="M62.1 563.8h0" stroke="#4a3020" stroke-width="9.5" stroke-linecap="round"/>
<path d="M53.4 571.9h0" stroke="#303040" stroke-width="9.5" stroke-linecap="round"/>
<path d="M58.7 577h0M53.9 604.6h0M99.1 559.2h0" stroke="#503a18" stroke-width="9" stroke-linecap="round"/>
<path d="M59.5 592.9h0" stroke="#303040" stroke-width="10.5" stroke-linecap="round"/>
<path d="M60.4 555.8h0M90.5 605.8h0" stroke="#2a3a2a" stroke-width="10.5" stroke-linecap="round"/>
<path d="M71.5 579.6h0M101.2 593.3h0" stroke="#3a3a20" stroke-width="9" stroke-linecap="round"/>
<path d="M61.2 584.9h0" stroke="#503a18" stroke-width="10" stroke-linecap="round"/>
<path d="M66.5 594h0M73.8 560.6h0M83.8 561h0M92.2 592.1h0" stroke="#503a18" stroke-width="8.5" stroke-linecap="round"/>
<path d="M66.3 601.8h0M84 588.7h0" stroke="#3a4a28" stroke-width="10.5" stroke-linecap="round"/>
<path d="M69.3 556.6h0" stroke="#3a4a28" stroke-width="9.5" stroke-linecap="round"/>
<path d="M74.6 573.6h0M79.2 554.4h0M79.8 571.4h0M104.2 576.8h0" stroke="#503a18" stroke-width="9.5" stroke-linecap="round"/>
<path d="M77.6 577h0M98.9 586.5h0" stroke="#2a3a2a" stroke-width="9.5" stroke-linecap="round"/>
<path d="M77.6 597.6h0M88.6 566.7h0M97.8 603h0" stroke="#3a4a28" stroke-width="9" stroke-linecap="round"/>
<path d="M75.7 605h0" stroke="#4a3020" stroke-width="8.5" stroke-linecap="round"/>
<path d="M78.9 599.8h0" stroke="#4a3020" stroke-width="10" stroke-linecap="round"/>
<path d="M93.9 567.9h0" stroke="#4a3020" stroke-width="9" stroke-linecap="round"/>
<path d="M48.4 552.9h0M88.3 555.1h0M88.9 590.9h0M98.5 587.2h0" stroke="#1a30a8" stroke-width="5.5" stroke-linecap="round"/>
<path d="M48.3 565.6h0M64.9 571.6h0M66.7 593.8h0" stroke="#2844c8" stroke-width="5" stroke-linecap="round"/>
<path d="M48.8 571.4h0M59.6 556.2h0M77.8 577.5h0M92 575h0" stroke="#1e34b0" stroke-width="5" stroke-linecap="round"/>
<path d="M53.8 579.6h0M48.7 597.3h0M98.3 602.7h0" stroke="#2238c0" stroke-width="5" stroke-linecap="round"/>
<path d="M49.2 586.8h0M56.1 551.6h0M71.3 579.4h0M87.9 567h0" stroke="#1a30a8" stroke-width="6" stroke-linecap="round"/>
<path d="M44 601.2h0M75.3 574.3h0M83.9 562h0M80.5 570.6h0M90.9 606.8h0M98.3 558.7h0M104.3 577.7h0" stroke="#2238c0" stroke-width="6" stroke-linecap="round"/>
<path d="M62.4 564.6h0M58.8 591.9h0M69.8 565h0" stroke="#1e34b0" stroke-width="5.5" stroke-linecap="round"/>
<path d="M54.4 572.8h0M58.7 576.8h0M54.9 584.5h0M65.6 601.5h0M68.8 587.8h0M75.9 604.8h0M84.8 594.7h0" stroke="#1a30a8" stroke-width="5" stroke-linecap="round"/>
<path d="M53.1 603.6h0M76.6 597.6h0M78.7 599.4h0M93.1 592.3h0" stroke="#2844c8" stroke-width="5.5" stroke-linecap="round"/>
<path d="M61.2 585.2h0M69.3 557.6h0M74.4 561.2h0M83.4 587.8h0M97.6 550.8h0" stroke="#2844c8" stroke-width="6" stroke-linecap="round"/>
<path d="M79.1 554.6h0M93.6 565.7h0M93.2 567.8h0" stroke="#1e34b0" stroke-width="6" stroke-linecap="round"/>
<path d="M86.3 579.1h0M101.4 592.7h0" stroke="#2238c0" stroke-width="5.5" stroke-linecap="round"/>
<path d="M55.2 584.5h0M66.8 575.4h0M61.3 588.8h0M56.4 596.6h0M72.5 580h0M67.1 580.9h0" stroke="#e8d020" stroke-width="1" stroke-linecap="round"/>
<path d="M72 568.7h0M85.5 562.2h0M95.4 564h0M67 558.9h0M51.4 579.3h0M96.5 576.4h0" stroke="#f0e030" stroke-width="1" stroke-linecap="round"/>
<path d="M80.3 580.6h0M55.1 578.4h0M51.5 594.7h0M52.3 558.8h0M68.7 570.5h0" stroke="#f09020" stroke-width="1.5" stroke-linecap="round"/>
<path d="M57 597.4h0M60.6 598.6h0M62.3 588h0M69.7 559.4h0M69.4 586.4h0M96.3 563.8h0" stroke="#f8f040" stroke-width="1" stroke-linecap="round"/>
<path d="M85.4 561.2h0M92.6 586.3h0M79 575.5h0M48.7 578.8h0" stroke="#e8d020" stroke-width="1.5" stroke-linecap="round"/>
<path d="M94.3 574.8h0M82.7 559.4h0M62.4 590.1h0M82.5 573.4h0M54.3 588.7h0M63.7 555h0M60.6 580.1h0M57.9 576.8h0" stroke="#f09020" stroke-width="1" stroke-linecap="round"/>
<path d="M64.1 578.3h0M49.9 569h0M72.7 559.1h0" stroke="#f0e030" stroke-width="1.5" stroke-linecap="round"/>
<path d="M50.7 589.2h0M78.5 578h0" stroke="#f8f040" stroke-width="1.5" stroke-linecap="round"/>
<rect x="72" y="565" width="10" height="10" fill="none" stroke="#ffffff" stroke-width="1.7"/>
</g>
<g clip-path="url(#c46)">
<rect x="100.1" y="553.5" width="49.7" height="49.8" fill="#060606"/>
<path d="M98.5 556.1h0" stroke="#2a3a2a" stroke-width="8.5" stroke-linecap="round"/>
<path d="M104.5 562.2h0M114 580.3h0M130.6 570.8h0" stroke="#303040" stroke-width="8.5" stroke-linecap="round"/>
<path d="M101.1 573.1h0M98.3 587.9h0M105.7 552.4h0" stroke="#3a4a28" stroke-width="10" stroke-linecap="round"/>
<path d="M100.9 592.1h0M117.7 599.6h0M148.5 579.9h0M148.9 594.8h0" stroke="#3a3a20" stroke-width="8.5" stroke-linecap="round"/>
<path d="M102.8 605.5h0" stroke="#3a4a28" stroke-width="9.5" stroke-linecap="round"/>
<path d="M111.5 559.8h0M109.4 569.3h0" stroke="#3a3a20" stroke-width="9" stroke-linecap="round"/>
<path d="M107.1 590.2h0" stroke="#503a18" stroke-width="10" stroke-linecap="round"/>
<path d="M110.8 592.5h0" stroke="#503a18" stroke-width="8.5" stroke-linecap="round"/>
<path d="M106.6 606.1h0M124.4 577.1h0" stroke="#303040" stroke-width="9" stroke-linecap="round"/>
<path d="M118.3 564.1h0M113.9 573.7h0M128.6 589.4h0M133.1 552h0M138.9 567.4h0M151.6 604.7h0" stroke="#303040" stroke-width="9.5" stroke-linecap="round"/>
<path d="M118.5 595.6h0M131.8 559.1h0" stroke="#4a3020" stroke-width="9.5" stroke-linecap="round"/>
<path d="M123.2 553.2h0" stroke="#503a18" stroke-width="9.5" stroke-linecap="round"/>
<path d="M128.6 580h0" stroke="#3a4a28" stroke-width="10.5" stroke-linecap="round"/>
<path d="M132.1 595.5h0M137.8 582h0" stroke="#3a3a20" stroke-width="10" stroke-linecap="round"/>
<path d="M122.4 605.8h0" stroke="#503a18" stroke-width="9" stroke-linecap="round"/>
<path d="M137.4 562.9h0" stroke="#303040" stroke-width="10" stroke-linecap="round"/>
<path d="M137.7 591.5h0" stroke="#2a3a2a" stroke-width="10" stroke-linecap="round"/>
<path d="M143.9 550.8h0M155.9 561h0" stroke="#2a3a2a" stroke-width="9.5" stroke-linecap="round"/>
<path d="M148.5 559.9h0" stroke="#4a3020" stroke-width="8.5" stroke-linecap="round"/>
<path d="M142.7 587.2h0" stroke="#303040" stroke-width="10.5" stroke-linecap="round"/>
<path d="M146.1 585.6h0" stroke="#4a3020" stroke-width="9" stroke-linecap="round"/>
<path d="M97.8 555.5h0M118.2 564h0M131.6 558.3h0M131.8 595.7h0M137.7 592.4h0" stroke="#1e34b0" stroke-width="5" stroke-linecap="round"/>
<path d="M104.5 561.4h0M123.3 605.8h0M137.4 563h0M138.3 581.1h0M149.2 579.2h0M142.7 588.1h0" stroke="#1a30a8" stroke-width="5.5" stroke-linecap="round"/>
<path d="M101 573h0" stroke="#2844c8" stroke-width="6" stroke-linecap="round"/>
<path d="M97.6 588h0M100.4 591.7h0M102.8 605.1h0M105.8 551.6h0M127.7 589.9h0M145.9 584.7h0" stroke="#2238c0" stroke-width="5" stroke-linecap="round"/>
<path d="M111.8 559.2h0M113.9 581.2h0M113.8 573.6h0M144.9 551.1h0" stroke="#2238c0" stroke-width="6" stroke-linecap="round"/>
<path d="M110.2 568.8h0M130.3 570.1h0M156.6 560h0" stroke="#2844c8" stroke-width="5.5" stroke-linecap="round"/>
<path d="M107.9 590.3h0M117.5 599.2h0" stroke="#1e34b0" stroke-width="5.5" stroke-linecap="round"/>
<path d="M109.9 591.9h0M128.8 579.1h0M132.2 551h0M149.6 594.5h0" stroke="#1e34b0" stroke-width="6" stroke-linecap="round"/>
<path d="M107.6 605.4h0M149.2 559.8h0M151.1 604.9h0" stroke="#2844c8" stroke-width="5" stroke-linecap="round"/>
<path d="M125.4 578h0" stroke="#1a30a8" stroke-width="5" stroke-linecap="round"/>
<path d="M118.2 595.3h0M124.1 554h0" stroke="#2238c0" stroke-width="5.5" stroke-linecap="round"/>
<path d="M138.3 568.2h0" stroke="#1a30a8" stroke-width="6" stroke-linecap="round"/>
<path d="M136.4 585.3h0M134.5 557.1h0M112.6 570.3h0M143.2 568.3h0M146.5 560.7h0" stroke="#f0e030" stroke-width="1.5" stroke-linecap="round"/>
<path d="M115.4 586.8h0M133 556.4h0M149 602h0" stroke="#f09020" stroke-width="1.5" stroke-linecap="round"/>
<path d="M121.9 583.1h0M125.5 564.5h0M104.6 554.9h0M126.6 562.1h0M118.7 573h0M143.8 566.7h0M133.8 560.5h0M124 578.2h0" stroke="#e8d020" stroke-width="1" stroke-linecap="round"/>
<path d="M141.5 575.2h0M148.2 559.6h0M143.6 576.2h0" stroke="#e8d020" stroke-width="1.5" stroke-linecap="round"/>
<path d="M101.1 580.9h0" stroke="#f8f040" stroke-width="1" stroke-linecap="round"/>
<path d="M135 597.1h0M105.1 576.4h0M111.9 564.1h0M128.5 563.2h0" stroke="#f09020" stroke-width="1" stroke-linecap="round"/>
<path d="M140.6 566.3h0M119.3 595.6h0" stroke="#f0e030" stroke-width="1" stroke-linecap="round"/>
<path d="M103.3 584.5h0M145 574.4h0M118.9 574h0M103.2 582h0" stroke="#f8f040" stroke-width="1.5" stroke-linecap="round"/>
<rect x="133" y="580" width="10" height="10" fill="none" stroke="#ffffff" stroke-width="1.7"/>
</g>
<g clip-path="url(#c47)">
<rect x="152.9" y="553.5" width="49.7" height="49.8" fill="#080606"/>
<path d="M155.1 561.4h0M155.6 570.6h0M170.6 581h0M193.2 564.2h0" stroke="#3a4a28" stroke-width="10" stroke-linecap="round"/>
<path d="M160.2 578.4h0M163.4 602.6h0M181.6 558.3h0M175.4 605h0" stroke="#303040" stroke-width="10" stroke-linecap="round"/>
<path d="M150.1 588.8h0M182.8 571.9h0" stroke="#4a3020" stroke-width="8.5" stroke-linecap="round"/>
<path d="M150.4 605h0M200.1 556.7h0" stroke="#503a18" stroke-width="9" stroke-linecap="round"/>
<path d="M161.2 553.7h0" stroke="#2a3a2a" stroke-width="10.5" stroke-linecap="round"/>
<path d="M168.9 560.8h0M162.7 571.6h0" stroke="#3a4a28" stroke-width="9" stroke-linecap="round"/>
<path d="M163.1 577h0M169.3 585.7h0M174.9 585.9h0" stroke="#303040" stroke-width="9" stroke-linecap="round"/>
<path d="M159.7 585.1h0M197.5 605.8h0" stroke="#503a18" stroke-width="10" stroke-linecap="round"/>
<path d="M168.5 598.5h0M172.6 605.6h0M206.9 562.3h0" stroke="#2a3a2a" stroke-width="8.5" stroke-linecap="round"/>
<path d="M168.7 549.9h0" stroke="#4a3020" stroke-width="10.5" stroke-linecap="round"/>
<path d="M168.8 571.2h0" stroke="#4a3020" stroke-width="9" stroke-linecap="round"/>
<path d="M176.7 598.5h0" stroke="#2a3a2a" stroke-width="10" stroke-linecap="round"/>
<path d="M176.1 556.5h0M196 559.3h0" stroke="#503a18" stroke-width="8.5" stroke-linecap="round"/>
<path d="M175.3 568.5h0M200.6 573.1h0" stroke="#2a3a2a" stroke-width="9.5" stroke-linecap="round"/>
<path d="M180.7 580.7h0M187.6 601.6h0" stroke="#303040" stroke-width="9.5" stroke-linecap="round"/>
<path d="M179.3 596.3h0M183 590.2h0" stroke="#3a4a28" stroke-width="9.5" stroke-linecap="round"/>
<path d="M183.1 550.5h0" stroke="#503a18" stroke-width="10.5" stroke-linecap="round"/>
<path d="M188.1 592h0" stroke="#3a3a20" stroke-width="9.5" stroke-linecap="round"/>
<path d="M191.7 568.2h0" stroke="#2a3a2a" stroke-width="9" stroke-linecap="round"/>
<path d="M204 585.1h0" stroke="#3a3a20" stroke-width="9" stroke-linecap="round"/>
<path d="M154.2 561.6h0M150 605.7h0M168.2 597.5h0M176.3 568h0M196.6 606.5h0M206.1 562h0" stroke="#2844c8" stroke-width="5" stroke-linecap="round"/>
<path d="M156.6 570.6h0M168.2 561.1h0M180.8 559.1h0M188.1 602.1h0" stroke="#2238c0" stroke-width="6" stroke-linecap="round"/>
<path d="M159.2 578.5h0M176.1 597.6h0M175.4 556.1h0M183.8 551.3h0" stroke="#2844c8" stroke-width="6" stroke-linecap="round"/>
<path d="M150.2 588.5h0M162.5 603.3h0M172.8 606.4h0M175.2 586.7h0M193.7 564.2h0M182.2 570.9h0" stroke="#1a30a8" stroke-width="5.5" stroke-linecap="round"/>
<path d="M161.3 554.7h0M178.9 596.9h0M192.7 567.5h0" stroke="#1a30a8" stroke-width="6" stroke-linecap="round"/>
<path d="M163.1 571.1h0M184 589.6h0" stroke="#2844c8" stroke-width="5.5" stroke-linecap="round"/>
<path d="M164 577.8h0M181.7 580h0" stroke="#1e34b0" stroke-width="6" stroke-linecap="round"/>
<path d="M160.1 584.9h0" stroke="#1e34b0" stroke-width="5" stroke-linecap="round"/>
<path d="M168.3 549.4h0M170 581.5h0M169.4 585.2h0M174.5 604.3h0M187.6 591.6h0M196.4 559.8h0M203.3 584.7h0" stroke="#1a30a8" stroke-width="5" stroke-linecap="round"/>
<path d="M169.1 570.3h0" stroke="#1e34b0" stroke-width="5.5" stroke-linecap="round"/>
<path d="M200.8 556.8h0M200.7 572.1h0" stroke="#2238c0" stroke-width="5.5" stroke-linecap="round"/>
<path d="M180.2 557.6h0M181.8 554h0M163.5 565.4h0M169.2 585.1h0M163.9 589.5h0M181.2 586.7h0" stroke="#f09020" stroke-width="1" stroke-linecap="round"/>
<path d="M169.4 555.8h0M200.5 589.4h0M192 573h0M198.6 587.8h0M168.6 594.7h0M169.1 567.7h0M165.5 600.2h0" stroke="#e8d020" stroke-width="1" stroke-linecap="round"/>
<path d="M182.6 599.7h0M196.7 597.1h0M183.8 587.5h0M171.8 574.1h0M179.2 583.6h0M158.5 573.8h0M168.4 582.2h0" stroke="#f8f040" stroke-width="1" stroke-linecap="round"/>
<path d="M158.5 596.9h0M178.7 571.6h0M177.3 599h0M159.5 572.8h0M197 553.6h0" stroke="#f0e030" stroke-width="1" stroke-linecap="round"/>
<path d="M155.3 572.8h0" stroke="#f8f040" stroke-width="1.5" stroke-linecap="round"/>
<path d="M188.4 600.3h0M188 562.8h0" stroke="#f0e030" stroke-width="1.5" stroke-linecap="round"/>
<path d="M160.4 593.4h0M192.6 590.8h0" stroke="#f09020" stroke-width="1.5" stroke-linecap="round"/>
<rect x="169" y="581" width="10" height="10" fill="none" stroke="#ffffff" stroke-width="1.7"/>
<rect x="193.60000000000002" y="597.3" width="6" height="2" fill="#ffffff"/>
</g>
<g clip-path="url(#c48)">
<rect x="47.3" y="501" width="49.7" height="49.8" fill="#100a06"/>
<ellipse cx="77.3" cy="528.0" rx="24.0" ry="24.0" fill="#3e5224"/>
<ellipse cx="50.3" cy="511.0" rx="6.0" ry="12.0" fill="#1a2a60"/>
<ellipse cx="92.3" cy="506.0" rx="8.0" ry="6.0" fill="#2a2a10"/>
<path d="M63.4 531.9h0M96.1 541.9h0M93.6 523.8h0M66.6 530h0M59.7 508.4h0" stroke="#203018" stroke-width="2" stroke-linecap="round" stroke-opacity="0.5"/>
<path d="M51.6 526.5h0M79.4 502.8h0M63.4 518h0M65.3 501.5h0M53.7 538.9h0" stroke="#4a6a30" stroke-width="4" stroke-linecap="round" stroke-opacity="0.5"/>
<path d="M72.4 541.5h0M55.3 523h0M60.2 534.5h0M58.3 517.2h0M79.4 526h0M92.5 534.8h0M65.4 529.6h0M55.4 538.1h0" stroke="#203018" stroke-width="4" stroke-linecap="round" stroke-opacity="0.5"/>
<path d="M91.5 522.8h0M66.8 504.5h0M82.2 543.6h0M94.6 514.4h0M72.1 524.3h0M53.6 542.2h0M73.9 537.8h0" stroke="#4a6a30" stroke-width="2" stroke-linecap="round" stroke-opacity="0.5"/>
<path d="M62.1 501.9h0M62 505.7h0M78.3 528.4h0M81.3 503.5h0M76.8 503.5h0M90.6 528.4h0M79.6 509.5h0" stroke="#4a6a30" stroke-width="3" stroke-linecap="round" stroke-opacity="0.5"/>
<path d="M62 521.7h0M57.8 532.2h0M68.4 513.9h0M95.2 521.3h0M75.5 537.6h0M88.5 519.8h0M77.4 504.7h0M66.9 523.4h0" stroke="#203018" stroke-width="3" stroke-linecap="round" stroke-opacity="0.5"/>
<ellipse cx="77.7" cy="528.5" rx="15.0" ry="15.8" fill="#1c2a8c"/>
<ellipse cx="50.3" cy="511.0" rx="5.0" ry="11.0" fill="#1c2a8c"/>
</g>
<path d="M97.7 528.5h0M96.9 533.9h0M94.5 538.8h0M90.8 542.9h0M86 545.8h0M80.5 547.3h0M74.9 547.3h0M69.4 545.8h0M64.6 542.9h0M60.9 538.8h0M58.5 533.9h0M57.7 528.5h0M58.5 523.1h0M60.9 518.2h0M64.6 514.1h0M69.4 511.2h0M74.9 509.7h0M80.5 509.7h0M86 511.2h0M90.8 514.1h0M94.5 518.2h0M96.9 523.1h0" stroke="#e8e030" stroke-width="2.5" stroke-linecap="round"/>
<path d="M55.3 541h0" stroke="#f0e030" stroke-width="3" stroke-linecap="round"/>
<path d="M89.3 547h0" stroke="#f0c020" stroke-width="3" stroke-linecap="round"/>
<path d="M52.3 531h0" stroke="#f0e030" stroke-width="2.5" stroke-linecap="round"/>
<g clip-path="url(#c49)">
<rect x="100.1" y="501" width="49.7" height="49.8" fill="#1a2a30"/>
<ellipse cx="125.1" cy="527.0" rx="26.0" ry="22.0" fill="#467a38"/>
<ellipse cx="130.1" cy="504.0" rx="14.0" ry="5.0" fill="#2a3480"/>
<ellipse cx="105.1" cy="546.0" rx="10.0" ry="8.0" fill="#306090"/>
<path d="M103.7 530.6h0M122.7 501.7h0M104.6 516.8h0M118.7 525.3h0M145.1 529.5h0M147.5 511.8h0M120.9 519.8h0M103.1 523h0M144.3 548.7h0M106.2 542.3h0M129.6 541.3h0M144.5 520h0M122.9 527.6h0" stroke="#2a5a38" stroke-width="2" stroke-linecap="round" stroke-opacity="0.5"/>
<path d="M134.8 531.9h0M148.6 536h0M144 514.4h0M127.5 546.4h0M113 517.6h0M110.2 529.8h0M134.9 515.9h0M140.7 542.4h0" stroke="#4a8a48" stroke-width="3" stroke-linecap="round" stroke-opacity="0.5"/>
<path d="M119 532.6h0M106.1 542.5h0M131.1 534.8h0M135.9 536.7h0M142.9 536.8h0M113.9 520.2h0M131.1 508.4h0" stroke="#4a8a48" stroke-width="4" stroke-linecap="round" stroke-opacity="0.5"/>
<path d="M129.6 535.7h0M108.4 527h0M148.3 526.3h0" stroke="#2a5a38" stroke-width="3" stroke-linecap="round" stroke-opacity="0.5"/>
<path d="M104.1 533.3h0M111.9 542.2h0M149.1 501.7h0M143 502.4h0M116.9 546.6h0" stroke="#2a5a38" stroke-width="4" stroke-linecap="round" stroke-opacity="0.5"/>
<path d="M106.6 521.6h0M126.4 510.5h0M141.9 516h0M136.5 528.3h0" stroke="#4a8a48" stroke-width="2" stroke-linecap="round" stroke-opacity="0.5"/>
<ellipse cx="121.4" cy="531.0" rx="12.4" ry="13.5" fill="#1c2a8c"/>
<ellipse cx="133.1" cy="503.0" rx="11.0" ry="5.0" fill="#1c2a8c"/>
<path d="M122.4 504.5h0M137.3 526.5h0" stroke="#f09020" stroke-width="3" stroke-linecap="round"/>
<path d="M105.6 542.1h0" stroke="#f8f040" stroke-width="2.5" stroke-linecap="round"/>
<path d="M130.7 515.6h0" stroke="#e8d020" stroke-width="3" stroke-linecap="round"/>
<path d="M146.8 509.1h0" stroke="#f8f040" stroke-width="2" stroke-linecap="round"/>
<path d="M125.8 514.4h0M112.1 520.9h0" stroke="#f8f040" stroke-width="3" stroke-linecap="round"/>
<path d="M147.4 536.8h0" stroke="#f09020" stroke-width="2.5" stroke-linecap="round"/>
<path d="M141.1 538.7h0" stroke="#f0e030" stroke-width="2" stroke-linecap="round"/>
<path d="M132.2 504.7h0" stroke="#f09020" stroke-width="2" stroke-linecap="round"/>
<path d="M116.2 502.8h0M147 549h0" stroke="#e8d020" stroke-width="2.5" stroke-linecap="round"/>
<path d="M134.1 536.6h0" stroke="#f0e030" stroke-width="3.5" stroke-linecap="round"/>
<path d="M113.3 549.8h0" stroke="#f0e030" stroke-width="2.5" stroke-linecap="round"/>
</g>
<g clip-path="url(#c50)">
<rect x="152.9" y="501" width="49.7" height="49.8" fill="#080806"/>
<ellipse cx="180.9" cy="526.0" rx="22.0" ry="24.0" fill="#3e5a28"/>
<ellipse cx="200.9" cy="506.0" rx="8.0" ry="10.0" fill="#2838a0"/>
<ellipse cx="157.9" cy="506.0" rx="12.0" ry="8.0" fill="#3a4a20"/>
<path d="M166.8 526h0M185.3 510.5h0" stroke="#4a6a30" stroke-width="4" stroke-linecap="round" stroke-opacity="0.5"/>
<path d="M175.8 530.2h0M164.3 511.8h0M183.2 513.7h0" stroke="#1a2a18" stroke-width="3" stroke-linecap="round" stroke-opacity="0.5"/>
<path d="M178.6 511.1h0M188.1 547.2h0M198 522.4h0M158.3 522.3h0M156.9 502.7h0M182.3 533.1h0M202.4 511.2h0M193 541.9h0" stroke="#4a6a30" stroke-width="2" stroke-linecap="round" stroke-opacity="0.5"/>
<path d="M165.6 539.8h0M192 536.5h0M170.3 516.1h0M180.1 505.5h0M162.7 535.6h0" stroke="#1a2a18" stroke-width="2" stroke-linecap="round" stroke-opacity="0.5"/>
<path d="M170.4 522h0M159.7 547h0M195.4 521.5h0M199.3 545.7h0M155.1 506.4h0M154.2 536.4h0" stroke="#1a2a18" stroke-width="4" stroke-linecap="round" stroke-opacity="0.5"/>
<path d="M161.9 503.8h0M188.5 518.4h0M174.7 539.3h0M170.9 509.3h0M201.3 533.9h0M162.7 539.2h0" stroke="#4a6a30" stroke-width="3" stroke-linecap="round" stroke-opacity="0.5"/>
<ellipse cx="171.7" cy="529.0" rx="11.0" ry="13.0" fill="#1c2a8c"/>
<ellipse cx="200.9" cy="505.0" rx="5.0" ry="8.0" fill="#1c2a8c"/>
<path d="M174.8 521.3h0M171.2 504.5h0M184 516.9h0" stroke="#f09020" stroke-width="2" stroke-linecap="round"/>
<path d="M167.8 527.2h0" stroke="#f8f040" stroke-width="2.5" stroke-linecap="round"/>
<path d="M179.6 536.7h0" stroke="#f0e030" stroke-width="2" stroke-linecap="round"/>
<path d="M187.6 524.1h0" stroke="#f0e030" stroke-width="2.5" stroke-linecap="round"/>
<path d="M162.9 529.6h0" stroke="#f8f040" stroke-width="1.5" stroke-linecap="round"/>
<path d="M163.5 515h0" stroke="#f8f040" stroke-width="2" stroke-linecap="round"/>
</g>
<g clip-path="url(#c51)">
<rect x="47.3" y="605.6" width="49.7" height="49.8" fill="#2a1a0c"/>
<ellipse cx="67.3" cy="630.6" rx="26.0" ry="22.0" fill="#6a8a34"/>
<ellipse cx="92.3" cy="640.6" rx="10.0" ry="22.0" fill="#4a2410"/>
<ellipse cx="62.3" cy="608.6" rx="18.0" ry="5.0" fill="#2030a0"/>
<path d="M90 631.3h0M53.3 621h0M81.6 607.8h0M55 635.3h0M49.4 606.5h0M67.8 641.3h0M51.8 649.6h0M48 647.1h0" stroke="#3a4a20" stroke-width="2" stroke-linecap="round" stroke-opacity="0.5"/>
<path d="M53.3 645.5h0M75.5 642.3h0M75.5 614.2h0M74.3 608.4h0M53.3 613.3h0M90.8 624.1h0" stroke="#3a4a20" stroke-width="4" stroke-linecap="round" stroke-opacity="0.5"/>
<path d="M69.5 621.2h0M74.7 615.7h0M51.5 653.3h0M79.9 630h0M75.5 649.6h0M75.1 626.7h0M93.5 645.7h0M48.9 614.9h0M51.4 616.1h0" stroke="#7a9a40" stroke-width="4" stroke-linecap="round" stroke-opacity="0.5"/>
<path d="M60 638.7h0M81.7 630.2h0M92.8 608.3h0M70.8 615h0" stroke="#7a9a40" stroke-width="3" stroke-linecap="round" stroke-opacity="0.5"/>
<path d="M82 635.4h0M61.6 640.2h0M57.8 636h0M78.5 639.6h0M72.6 642.9h0M91.4 642.4h0M52.7 633.3h0" stroke="#3a4a20" stroke-width="3" stroke-linecap="round" stroke-opacity="0.5"/>
<path d="M70.3 636.7h0M63.2 624.3h0M82.2 648.8h0M55.8 610.6h0M86.4 654.4h0M77.5 649.8h0" stroke="#7a9a40" stroke-width="2" stroke-linecap="round" stroke-opacity="0.5"/>
<ellipse cx="70.7" cy="629.4" rx="11.7" ry="11.7" fill="#1c2a8c"/>
<ellipse cx="69.3" cy="651.6" rx="11.0" ry="6.0" fill="#1c2a8c"/>
<ellipse cx="60.3" cy="607.6" rx="13.0" ry="4.0" fill="#1c2a8c"/>
<path d="M61.8 632.8h0" stroke="#e8d020" stroke-width="2.5" stroke-linecap="round"/>
<path d="M89.6 627.8h0M48.7 608.2h0M70 607.7h0" stroke="#f09020" stroke-width="3" stroke-linecap="round"/>
<path d="M78.2 628.1h0" stroke="#f0e030" stroke-width="3" stroke-linecap="round"/>
<path d="M93.6 640.1h0" stroke="#f0e030" stroke-width="2.5" stroke-linecap="round"/>
<path d="M92.4 638.3h0" stroke="#f09020" stroke-width="2.5" stroke-linecap="round"/>
<path d="M49.5 626.8h0" stroke="#e8d020" stroke-width="3" stroke-linecap="round"/>
<path d="M72.1 636.3h0M93.9 648.2h0M95.7 640.5h0" stroke="#e8d020" stroke-width="3.5" stroke-linecap="round"/>
<path d="M50.1 623.6h0" stroke="#e8d020" stroke-width="2" stroke-linecap="round"/>
<path d="M90.4 618.1h0" stroke="#f09020" stroke-width="2" stroke-linecap="round"/>
<path d="M84.1 646.3h0" stroke="#f09020" stroke-width="3.5" stroke-linecap="round"/>
</g>
<g clip-path="url(#c52)">
<rect x="100.1" y="605.6" width="49.7" height="49.8" fill="#142030"/>
<ellipse cx="122.1" cy="635.6" rx="24.0" ry="22.0" fill="#3a6a38"/>
<ellipse cx="145.1" cy="645.6" rx="8.0" ry="12.0" fill="#1a2a80"/>
<ellipse cx="105.1" cy="615.6" rx="8.0" ry="12.0" fill="#4a7a80"/>
<path d="M122.5 627.3h0M105.1 640.1h0M115.1 653.4h0M114.6 638.4h0M131.4 640.8h0M126.5 643.4h0M118.1 613.2h0M124.3 630.4h0M143.5 616.4h0M136.3 639.5h0M113.7 607.2h0M128.1 647.1h0M125.7 650h0" stroke="#1a3a30" stroke-width="2" stroke-linecap="round" stroke-opacity="0.5"/>
<path d="M145.3 639.4h0M113.7 641.5h0M118.9 632.6h0M138.7 651.2h0M100.6 619.1h0M145.1 607h0M143.7 646.3h0" stroke="#1a3a30" stroke-width="4" stroke-linecap="round" stroke-opacity="0.5"/>
<path d="M130.3 629.8h0M104.9 624.8h0M120.5 609.4h0M122 622.1h0M142.6 627.3h0M107.5 644.9h0M114 655.3h0M140.8 617.4h0" stroke="#4a8a48" stroke-width="3" stroke-linecap="round" stroke-opacity="0.5"/>
<path d="M146.1 615.5h0M103.6 619.1h0M146.5 627.8h0M140 623.3h0" stroke="#4a8a48" stroke-width="2" stroke-linecap="round" stroke-opacity="0.5"/>
<path d="M101 655.1h0" stroke="#4a8a48" stroke-width="4" stroke-linecap="round" stroke-opacity="0.5"/>
<path d="M104.6 626.2h0M126.1 611.3h0M109.4 618.5h0M135.3 642.9h0M118.3 631.2h0M125.2 648.1h0M134.3 638.1h0" stroke="#1a3a30" stroke-width="3" stroke-linecap="round" stroke-opacity="0.5"/>
<ellipse cx="119.1" cy="636.4" rx="12.0" ry="11.7" fill="#1c2a8c"/>
<ellipse cx="127.1" cy="609.6" rx="12.0" ry="7.0" fill="#1c2a8c"/>
<ellipse cx="144.1" cy="649.6" rx="8.0" ry="8.0" fill="#1c2a8c"/>
<path d="M131 613.2h0" stroke="#f8f040" stroke-width="2" stroke-linecap="round"/>
<path d="M109.7 614.2h0" stroke="#e8d020" stroke-width="2" stroke-linecap="round"/>
<path d="M142.9 611.5h0M119.5 651.8h0" stroke="#f09020" stroke-width="3" stroke-linecap="round"/>
<path d="M135 654.8h0" stroke="#f0e030" stroke-width="2" stroke-linecap="round"/>
<path d="M111.2 640.7h0M135 621.1h0" stroke="#f09020" stroke-width="2" stroke-linecap="round"/>
<path d="M101.1 641h0" stroke="#f0e030" stroke-width="3" stroke-linecap="round"/>
<path d="M106.3 613.2h0" stroke="#f8f040" stroke-width="2.5" stroke-linecap="round"/>
<path d="M102.7 614.7h0" stroke="#f09020" stroke-width="3.5" stroke-linecap="round"/>
</g>
<g clip-path="url(#c53)">
<rect x="152.9" y="605.6" width="49.7" height="49.8" fill="#1a2a10"/>
<ellipse cx="177.9" cy="630.6" rx="24.0" ry="26.0" fill="#467a30"/>
<ellipse cx="155.9" cy="610.6" rx="5.0" ry="8.0" fill="#2030a0"/>
<path d="M171.3 652.9h0M179.9 614.7h0M177.3 641.7h0M175.1 636.3h0" stroke="#2a4a18" stroke-width="2" stroke-linecap="round" stroke-opacity="0.5"/>
<path d="M155.5 647.5h0M163.3 646.8h0M161.5 636h0M171.7 615.6h0M157.5 631.5h0M156.2 626.7h0M201.3 642.4h0" stroke="#2a4a18" stroke-width="3" stroke-linecap="round" stroke-opacity="0.5"/>
<path d="M190.3 627.4h0M195.9 631.2h0M183.2 655.1h0M179.7 635.4h0M189.3 640.2h0M172.3 646.1h0M184.2 610.4h0M193.7 645.4h0" stroke="#5a9a38" stroke-width="2" stroke-linecap="round" stroke-opacity="0.5"/>
<path d="M169.5 620.6h0M189.8 622.1h0M156.1 636.9h0M168.5 642.3h0M173.3 631.9h0M165.9 650.7h0M200.7 606.3h0M174.1 643.5h0" stroke="#5a9a38" stroke-width="3" stroke-linecap="round" stroke-opacity="0.5"/>
<path d="M153.3 626.2h0M193.1 621.6h0M198.8 620.7h0M177.8 616.3h0M157.8 620.2h0M167.9 642.2h0M161 645.5h0" stroke="#2a4a18" stroke-width="4" stroke-linecap="round" stroke-opacity="0.5"/>
<path d="M157.9 637.2h0M189.7 620.4h0M174.3 613.3h0M175.1 634.7h0M158.4 644.8h0M174.4 630.2h0" stroke="#5a9a38" stroke-width="4" stroke-linecap="round" stroke-opacity="0.5"/>
<ellipse cx="181.9" cy="634.6" rx="11.0" ry="11.0" fill="#1c2a8c"/>
<ellipse cx="199.9" cy="640.6" rx="6.0" ry="16.0" fill="#1c2a8c"/>
<path d="M173.1 650.4h0" stroke="#f8f040" stroke-width="1.5" stroke-linecap="round"/>
<path d="M161.6 612.4h0" stroke="#e8d020" stroke-width="1.5" stroke-linecap="round"/>
<path d="M202.1 636.2h0" stroke="#f09020" stroke-width="2.5" stroke-linecap="round"/>
<path d="M173.2 638.6h0" stroke="#f8f040" stroke-width="2.5" stroke-linecap="round"/>
<path d="M166.2 613.2h0M165.1 634.8h0" stroke="#e8d020" stroke-width="2" stroke-linecap="round"/>
<path d="M185.1 631.7h0" stroke="#f8f040" stroke-width="3" stroke-linecap="round"/>
<path d="M200.8 629.2h0" stroke="#f0e030" stroke-width="2" stroke-linecap="round"/>
<path d="M184.4 631.5h0" stroke="#f0e030" stroke-width="1.5" stroke-linecap="round"/>
<path d="M199.8 634.4h0" stroke="#e8d020" stroke-width="3" stroke-linecap="round"/>
</g>
<text x="46.6" y="668.5" font-size="9" text-anchor="start" fill="#231f20" stroke="#231f20" stroke-width="0.2"><tspan fill="#22c822" stroke="#22c822">GFP-PABPC1</tspan>+<tspan fill="#e82828" stroke="#e82828">G3BP</tspan>+<tspan fill="#2828e0" stroke="#2828e0">DAPI</tspan></text>
<text x="46.6" y="678.3" font-size="9" text-anchor="start" fill="#231f20" stroke="#231f20" stroke-width="0.2">AS treated for 1 h &amp; 2-D08 treated for 24 h</text>
<line x1="237.9" y1="473.9" x2="237.9" y2="597.9" stroke="#333333" stroke-width="1.1"/>
<line x1="237.4" y1="597.4" x2="360.6" y2="597.4" stroke="#333333" stroke-width="1.1"/>
<line x1="235.4" y1="597.4" x2="237.9" y2="597.4" stroke="#333333" stroke-width="1"/>
<text x="233.2" y="600.6999999999999" font-size="9.3" text-anchor="end" fill="#231f20" stroke="#231f20" stroke-width="0.2">0</text>
<line x1="235.4" y1="566.65" x2="237.9" y2="566.65" stroke="#333333" stroke-width="1"/>
<text x="233.2" y="569.9499999999999" font-size="9.3" text-anchor="end" fill="#231f20" stroke="#231f20" stroke-width="0.2">20</text>
<line x1="235.4" y1="535.9" x2="237.9" y2="535.9" stroke="#333333" stroke-width="1"/>
<text x="233.2" y="539.1999999999999" font-size="9.3" text-anchor="end" fill="#231f20" stroke="#231f20" stroke-width="0.2">40</text>
<line x1="235.4" y1="505.15" x2="237.9" y2="505.15" stroke="#333333" stroke-width="1"/>
<text x="233.2" y="508.45" font-size="9.3" text-anchor="end" fill="#231f20" stroke="#231f20" stroke-width="0.2">60</text>
<line x1="235.4" y1="474.4" x2="237.9" y2="474.4" stroke="#333333" stroke-width="1"/>
<text x="233.2" y="477.7" font-size="9.3" text-anchor="end" fill="#231f20" stroke="#231f20" stroke-width="0.2">80</text>
<text x="220" y="534" font-size="9" text-anchor="middle" fill="#231f20" transform="rotate(-90 220 534)" stroke="#231f20" stroke-width="0.2">SG per cell</text>
<path d="M245.6 593.7h0M248.1 594.9h0M250.5 596.2h0M253 597.4h0M255.5 596.2h0M257.9 594.9h0M260.4 593.7h0M245.6 590.6h0M248.6 592.1h0M251.5 593.6h0M254.5 593.6h0M257.4 592.1h0M260.4 590.6h0M245.6 587.5h0M248.1 588.8h0M250.5 590h0M253 591.2h0M255.5 590h0M257.9 588.8h0M260.4 587.5h0M245.6 584.5h0M248.6 586h0M251.5 587.4h0M254.5 587.4h0M257.4 586h0M260.4 584.5h0M247 582.1h0M250 583.6h0M253 585.1h0M256 583.6h0M259 582.1h0M247 579h0M250 580.5h0M253 582h0M256 580.5h0M259 579h0M245.6 575.2h0M248.6 576.7h0M251.5 578.2h0M254.5 578.2h0M257.4 576.7h0M260.4 575.2h0M245.6 572.2h0M248.6 573.7h0M251.5 575.1h0M254.5 575.1h0M257.4 573.7h0M260.4 572.2h0M245.6 569.1h0M248.6 570.6h0M251.5 572.1h0M254.5 572.1h0M257.4 570.6h0M260.4 569.1h0M245.6 566h0M248.6 567.5h0M251.5 569h0M254.5 569h0M257.4 567.5h0M260.4 566h0M245.6 562.9h0M248.6 564.4h0M251.5 565.9h0M254.5 565.9h0M257.4 564.4h0M260.4 562.9h0M247 560.6h0M250 562.1h0M253 563.6h0M256 562.1h0M259 560.6h0M247 557.5h0M250 559h0M253 560.5h0M256 559h0M259 557.5h0M247 554.4h0M250 555.9h0M253 557.4h0M256 555.9h0M259 554.4h0M245.6 550.6h0M248.6 552.1h0M251.5 553.6h0M254.5 553.6h0M257.4 552.1h0M260.4 550.6h0M248.5 549h0M251.5 550.5h0M254.5 550.5h0M257.5 549h0M245.6 544.5h0M248.6 546h0M251.5 547.5h0M254.5 547.5h0M257.4 546h0M260.4 544.5h0M247 542.1h0M250 543.6h0M253 545.1h0M256 543.6h0M259 542.1h0M247 539h0M250 540.5h0M253 542h0M256 540.5h0M259 539h0M245.6 535.3h0M248.6 536.8h0M251.5 538.2h0M254.5 538.2h0M257.4 536.8h0M260.4 535.3h0M247 532.9h0M250 534.4h0M253 535.9h0M256 534.4h0M259 532.9h0M250 531.3h0M253 532.8h0M256 531.3h0M251.5 529h0M254.5 529h0M251.5 519.8h0M254.5 519.8h0M250 515.9h0M253 517.4h0M256 515.9h0M251.5 510.5h0M254.5 510.5h0M251.5 507.5h0M254.5 507.5h0M251.5 504.4h0M254.5 504.4h0M253 495.9h0M253 489.8h0M253 486.7h0" stroke="#ee1c24" stroke-width="3" stroke-linecap="round"/>
<path d="M263.9 593.7h0M266.9 595.2h0M269.8 596.7h0M272.8 596.7h0M275.7 595.2h0M278.7 593.7h0M263.9 590.6h0M266.9 592.1h0M269.8 593.6h0M272.8 593.6h0M275.7 592.1h0M278.7 590.6h0M263.9 587.5h0M266.9 589h0M269.8 590.5h0M272.8 590.5h0M275.7 589h0M278.7 587.5h0M265.3 585.2h0M268.3 586.7h0M271.3 588.2h0M274.3 586.7h0M277.3 585.2h0M263.9 581.4h0M266.9 582.9h0M269.8 584.4h0M272.8 584.4h0M275.7 582.9h0M278.7 581.4h0M265.3 579h0M268.3 580.5h0M271.3 582h0M274.3 580.5h0M277.3 579h0M263.9 575.2h0M266.9 576.7h0M269.8 578.2h0M272.8 578.2h0M275.7 576.7h0M278.7 575.2h0M263.9 572.2h0M266.9 573.7h0M269.8 575.1h0M272.8 575.1h0M275.7 573.7h0M278.7 572.2h0M265.3 569.8h0M268.3 571.3h0M271.3 572.8h0M274.3 571.3h0M277.3 569.8h0M265.3 566.7h0M268.3 568.2h0M271.3 569.7h0M274.3 568.2h0M277.3 566.7h0M266.8 564.4h0M269.8 565.9h0M272.8 565.9h0M275.8 564.4h0M265.3 560.6h0M268.3 562.1h0M271.3 563.6h0M274.3 562.1h0M277.3 560.6h0M263.9 556.8h0M266.9 558.3h0M269.8 559.8h0M272.8 559.8h0M275.7 558.3h0M278.7 556.8h0M266.8 555.2h0M269.8 556.7h0M272.8 556.7h0M275.8 555.2h0M265.3 551.4h0M268.3 552.9h0M271.3 554.4h0M274.3 552.9h0M277.3 551.4h0M266.8 549h0M269.8 550.5h0M272.8 550.5h0M275.8 549h0M269.8 538.2h0M272.8 538.2h0M268.3 531.3h0M271.3 532.8h0M274.3 531.3h0M269.8 525.9h0M272.8 525.9h0M269.8 522.8h0M272.8 522.8h0M271.3 520.5h0M271.3 505.1h0M271.3 492.8h0M271.3 489.8h0" stroke="#d81b7b" stroke-width="3" stroke-linecap="round"/>
<path d="M283.3 594.4h0M286.3 595.9h0M289.3 597.4h0M292.3 595.9h0M295.3 594.4h0M281.9 590.6h0M284.9 592.1h0M287.8 593.6h0M290.8 593.6h0M293.7 592.1h0M296.7 590.6h0M283.3 588.2h0M286.3 589.8h0M289.3 591.2h0M292.3 589.8h0M295.3 588.2h0M281.9 584.5h0M284.9 586h0M287.8 587.4h0M290.8 587.4h0M293.7 586h0M296.7 584.5h0M281.9 581.4h0M284.9 582.9h0M287.8 584.4h0M290.8 584.4h0M293.7 582.9h0M296.7 581.4h0M283.3 579h0M286.3 580.5h0M289.3 582h0M292.3 580.5h0M295.3 579h0M281.9 575.2h0M284.9 576.7h0M287.8 578.2h0M290.8 578.2h0M293.7 576.7h0M296.7 575.2h0M281.9 572.2h0M284.9 573.7h0M287.8 575.1h0M290.8 575.1h0M293.7 573.7h0M296.7 572.2h0M283.3 569.8h0M286.3 571.3h0M289.3 572.8h0M292.3 571.3h0M295.3 569.8h0M281.9 566h0M284.9 567.5h0M287.8 569h0M290.8 569h0M293.7 567.5h0M296.7 566h0M283.3 563.6h0M286.3 565.1h0M289.3 566.6h0M292.3 565.1h0M295.3 563.6h0M283.3 560.6h0M286.3 562.1h0M289.3 563.6h0M292.3 562.1h0M295.3 560.6h0M284.8 558.2h0M287.8 559.8h0M290.8 559.8h0M293.8 558.2h0M283.3 554.4h0M286.3 555.9h0M289.3 557.4h0M292.3 555.9h0M295.3 554.4h0M283.3 551.4h0M286.3 552.9h0M289.3 554.4h0M292.3 552.9h0M295.3 551.4h0M287.8 535.1h0M290.8 535.1h0M289.3 520.5h0" stroke="#8e1b9c" stroke-width="3" stroke-linecap="round"/>
<path d="M302.2 594.4h0M305.2 595.9h0M308.2 597.4h0M311.2 595.9h0M314.2 594.4h0M300.8 590.6h0M303.8 592.1h0M306.7 593.6h0M309.7 593.6h0M312.6 592.1h0M315.6 590.6h0M300.8 587.5h0M303.8 589h0M306.7 590.5h0M309.7 590.5h0M312.6 589h0M315.6 587.5h0M302.2 585.2h0M305.2 586.7h0M308.2 588.2h0M311.2 586.7h0M314.2 585.2h0M302.2 582.1h0M305.2 583.6h0M308.2 585.1h0M311.2 583.6h0M314.2 582.1h0M300.8 578.3h0M303.8 579.8h0M306.7 581.3h0M309.7 581.3h0M312.6 579.8h0M315.6 578.3h0M300.8 575.2h0M303.8 576.7h0M306.7 578.2h0M309.7 578.2h0M312.6 576.7h0M315.6 575.2h0M302.2 572.9h0M305.2 574.4h0M308.2 575.9h0M311.2 574.4h0M314.2 572.9h0M302.2 569.8h0M305.2 571.3h0M308.2 572.8h0M311.2 571.3h0M314.2 569.8h0M303.7 567.5h0M306.7 569h0M309.7 569h0M312.7 567.5h0M302.2 563.6h0M305.2 565.1h0M308.2 566.6h0M311.2 565.1h0M314.2 563.6h0M303.7 561.3h0M306.7 562.8h0M309.7 562.8h0M312.7 561.3h0M302.2 557.5h0M305.2 559h0M308.2 560.5h0M311.2 559h0M314.2 557.5h0M302.2 554.4h0M305.2 555.9h0M308.2 557.4h0M311.2 555.9h0M314.2 554.4h0M305.2 552.9h0M308.2 554.4h0M311.2 552.9h0M305.2 549.8h0M308.2 551.3h0M311.2 549.8h0M305.2 546.7h0M308.2 548.2h0M311.2 546.7h0M305.2 543.6h0M308.2 545.1h0M311.2 543.6h0M305.2 540.5h0M308.2 542h0M311.2 540.5h0M305.2 537.5h0M308.2 539h0M311.2 537.5h0M306.7 529h0M309.7 529h0M308.2 514.4h0M308.2 492.8h0" stroke="#13a085" stroke-width="3" stroke-linecap="round"/>
<path d="M319.4 593.7h0M322.4 595.2h0M325.3 596.7h0M328.3 596.7h0M331.2 595.2h0M334.2 593.7h0M319.4 590.6h0M322.4 592.1h0M325.3 593.6h0M328.3 593.6h0M331.2 592.1h0M334.2 590.6h0M319.4 587.5h0M322.4 589h0M325.3 590.5h0M328.3 590.5h0M331.2 589h0M334.2 587.5h0M320.8 585.2h0M323.8 586.7h0M326.8 588.2h0M329.8 586.7h0M332.8 585.2h0M320.8 582.1h0M323.8 583.6h0M326.8 585.1h0M329.8 583.6h0M332.8 582.1h0M319.4 578.3h0M322.4 579.8h0M325.3 581.3h0M328.3 581.3h0M331.2 579.8h0M334.2 578.3h0M320.8 575.9h0M323.8 577.4h0M326.8 578.9h0M329.8 577.4h0M332.8 575.9h0M322.3 573.6h0M325.3 575.1h0M328.3 575.1h0M331.3 573.6h0M320.8 569.8h0M323.8 571.3h0M326.8 572.8h0M329.8 571.3h0M332.8 569.8h0M319.4 566h0M322.4 567.5h0M325.3 569h0M328.3 569h0M331.2 567.5h0M334.2 566h0M320.8 563.6h0M323.8 565.1h0M326.8 566.6h0M329.8 565.1h0M332.8 563.6h0M320.8 560.6h0M323.8 562.1h0M326.8 563.6h0M329.8 562.1h0M332.8 560.6h0M322.3 558.2h0M325.3 559.8h0M328.3 559.8h0M331.3 558.2h0M320.8 554.4h0M323.8 555.9h0M326.8 557.4h0M329.8 555.9h0M332.8 554.4h0M320.8 551.4h0M323.8 552.9h0M326.8 554.4h0M329.8 552.9h0M332.8 551.4h0M323.8 540.5h0M326.8 542h0M329.8 540.5h0M323.8 537.5h0M326.8 539h0M329.8 537.5h0M326.8 523.6h0M326.8 517.4h0M326.8 514.4h0M326.8 511.3h0" stroke="#a09a1a" stroke-width="3" stroke-linecap="round"/>
<path d="M337.8 593.7h0M340.8 595.2h0M343.7 596.7h0M346.7 596.7h0M349.6 595.2h0M352.6 593.7h0M337.8 590.6h0M340.8 592.1h0M343.7 593.6h0M346.7 593.6h0M349.6 592.1h0M352.6 590.6h0M339.2 588.2h0M342.2 589.8h0M345.2 591.2h0M348.2 589.8h0M351.2 588.2h0M339.2 585.2h0M342.2 586.7h0M345.2 588.2h0M348.2 586.7h0M351.2 585.2h0M339.2 582.1h0M342.2 583.6h0M345.2 585.1h0M348.2 583.6h0M351.2 582.1h0M339.2 579h0M342.2 580.5h0M345.2 582h0M348.2 580.5h0M351.2 579h0M337.8 575.2h0M340.8 576.7h0M343.7 578.2h0M346.7 578.2h0M349.6 576.7h0M352.6 575.2h0M339.2 572.9h0M342.2 574.4h0M345.2 575.9h0M348.2 574.4h0M351.2 572.9h0M339.2 569.8h0M342.2 571.3h0M345.2 572.8h0M348.2 571.3h0M351.2 569.8h0M339.2 566.7h0M342.2 568.2h0M345.2 569.7h0M348.2 568.2h0M351.2 566.7h0M340.7 564.4h0M343.7 565.9h0M346.7 565.9h0M349.7 564.4h0M340.7 561.3h0M343.7 562.8h0M346.7 562.8h0M349.7 561.3h0M339.2 557.5h0M342.2 559h0M345.2 560.5h0M348.2 559h0M351.2 557.5h0M342.2 555.9h0M345.2 557.4h0M348.2 555.9h0M342.2 552.9h0M345.2 554.4h0M348.2 552.9h0M342.2 549.8h0M345.2 551.3h0M348.2 549.8h0M343.7 544.4h0M346.7 544.4h0M342.2 534.4h0M345.2 535.9h0M348.2 534.4h0M343.7 529h0M346.7 529h0M343.7 525.9h0M346.7 525.9h0M345.2 517.4h0M345.2 511.3h0M345.2 502.1h0M345.2 499h0M345.2 492.8h0" stroke="#1a8ab0" stroke-width="3" stroke-linecap="round"/>
<line x1="253" y1="596.4775" x2="253" y2="536.9762499999999" stroke="#111" stroke-width="1.4"/>
<line x1="245.2" y1="565.88125" x2="260.8" y2="565.88125" stroke="#111" stroke-width="1.4"/>
<line x1="248.5" y1="596.4775" x2="257.5" y2="596.4775" stroke="#111" stroke-width="1.4"/>
<line x1="248.5" y1="536.9762499999999" x2="257.5" y2="536.9762499999999" stroke="#111" stroke-width="1.4"/>
<line x1="271.3" y1="594.78625" x2="271.3" y2="559.5775" stroke="#111" stroke-width="1.4"/>
<line x1="263.5" y1="576.49" x2="279.1" y2="576.49" stroke="#111" stroke-width="1.4"/>
<line x1="266.8" y1="594.78625" x2="275.8" y2="594.78625" stroke="#111" stroke-width="1.4"/>
<line x1="266.8" y1="559.5775" x2="275.8" y2="559.5775" stroke="#111" stroke-width="1.4"/>
<line x1="289.3" y1="597.4" x2="289.3" y2="570.0325" stroke="#111" stroke-width="1.4"/>
<line x1="281.5" y1="584.1775" x2="297.1" y2="584.1775" stroke="#111" stroke-width="1.4"/>
<line x1="284.8" y1="597.4" x2="293.8" y2="597.4" stroke="#111" stroke-width="1.4"/>
<line x1="284.8" y1="570.0325" x2="293.8" y2="570.0325" stroke="#111" stroke-width="1.4"/>
<line x1="308.2" y1="592.32625" x2="308.2" y2="560.1925" stroke="#111" stroke-width="1.4"/>
<line x1="300.4" y1="576.1825" x2="316.0" y2="576.1825" stroke="#111" stroke-width="1.4"/>
<line x1="303.7" y1="592.32625" x2="312.7" y2="592.32625" stroke="#111" stroke-width="1.4"/>
<line x1="303.7" y1="560.1925" x2="312.7" y2="560.1925" stroke="#111" stroke-width="1.4"/>
<line x1="326.8" y1="596.93875" x2="326.8" y2="565.1125" stroke="#111" stroke-width="1.4"/>
<line x1="319.0" y1="580.4875" x2="334.6" y2="580.4875" stroke="#111" stroke-width="1.4"/>
<line x1="322.3" y1="596.93875" x2="331.3" y2="596.93875" stroke="#111" stroke-width="1.4"/>
<line x1="322.3" y1="565.1125" x2="331.3" y2="565.1125" stroke="#111" stroke-width="1.4"/>
<line x1="345.2" y1="597.4" x2="345.2" y2="569.725" stroke="#111" stroke-width="1.4"/>
<line x1="337.4" y1="584.1775" x2="353.0" y2="584.1775" stroke="#111" stroke-width="1.4"/>
<line x1="340.7" y1="597.4" x2="349.7" y2="597.4" stroke="#111" stroke-width="1.4"/>
<line x1="340.7" y1="569.725" x2="349.7" y2="569.725" stroke="#111" stroke-width="1.4"/>
<text x="212.8" y="612.3" font-size="9" text-anchor="start" fill="#231f20" stroke="#231f20" stroke-width="0.2">2-D08:</text>
<text x="253" y="612.3" font-size="9" text-anchor="middle" fill="#231f20" stroke="#231f20" stroke-width="0.2">0</text>
<text x="271.3" y="612.3" font-size="9" text-anchor="middle" fill="#231f20" stroke="#231f20" stroke-width="0.2">100</text>
<text x="289.3" y="612.3" font-size="9" text-anchor="middle" fill="#231f20" stroke="#231f20" stroke-width="0.2">150</text>
<text x="308.2" y="612.3" font-size="9" text-anchor="middle" fill="#231f20" stroke="#231f20" stroke-width="0.2">0</text>
<text x="326.8" y="612.3" font-size="9" text-anchor="middle" fill="#231f20" stroke="#231f20" stroke-width="0.2">100</text>
<text x="345.2" y="612.3" font-size="9" text-anchor="middle" fill="#231f20" stroke="#231f20" stroke-width="0.2">150</text>
<text x="356.2" y="612.3" font-size="9" text-anchor="start" fill="#231f20" stroke="#231f20" stroke-width="0.2">(μM)</text>
<line x1="245.6" y1="615.5" x2="298" y2="615.5" stroke="#231f20" stroke-width="1"/>
<line x1="300.5" y1="615.5" x2="352.5" y2="615.5" stroke="#231f20" stroke-width="1"/>
<text x="273.2" y="627" font-size="9" text-anchor="middle" fill="#231f20" stroke="#231f20" stroke-width="0.2">WT</text>
<text x="326.8" y="627" font-size="9" text-anchor="middle" fill="#231f20" stroke="#231f20" stroke-width="0.2">K512R</text>
<line x1="290" y1="434.3" x2="344.5" y2="434.3" stroke="#231f20" stroke-width="1"/>
<text x="290" y="430.40000000000003" font-size="7.7" text-anchor="start" fill="#231f20" stroke="#231f20" stroke-width="0.2">p=0.5405</text>
<line x1="270.6" y1="446.1" x2="326.8" y2="446.1" stroke="#231f20" stroke-width="1"/>
<text x="270.6" y="442.20000000000005" font-size="7.7" text-anchor="start" fill="#231f20" stroke="#231f20" stroke-width="0.2">p=0.0068</text>
<line x1="253" y1="460" x2="308.2" y2="460" stroke="#231f20" stroke-width="1"/>
<text x="253" y="456.1" font-size="7.7" text-anchor="start" fill="#231f20" stroke="#231f20" stroke-width="0.2">p&lt;0.0001</text>
<line x1="253" y1="473.8" x2="291.5" y2="473.8" stroke="#231f20" stroke-width="1"/>
<text x="253" y="469.90000000000003" font-size="7.7" text-anchor="start" fill="#231f20" stroke="#231f20" stroke-width="0.2">p&lt;0.0001</text>
<line x1="253" y1="485" x2="271.3" y2="485" stroke="#231f20" stroke-width="1"/>
<text x="253" y="481.1" font-size="7.7" text-anchor="start" fill="#231f20" stroke="#231f20" stroke-width="0.2">p&lt;0.0001</text>
<line x1="308" y1="473.8" x2="345.2" y2="473.8" stroke="#231f20" stroke-width="1"/>
<text x="308" y="469.90000000000003" font-size="7.7" text-anchor="start" fill="#231f20" stroke="#231f20" stroke-width="0.2">p&lt;0.0001</text>
<line x1="308" y1="489.8" x2="326.8" y2="489.8" stroke="#231f20" stroke-width="1"/>
<text x="308" y="485.90000000000003" font-size="7.7" text-anchor="start" fill="#231f20" stroke="#231f20" stroke-width="0.2">p=0.0010</text>
<text x="414.8" y="428.2" font-size="15" text-anchor="start" font-weight="bold" fill="#2a1a14" stroke="#2a1a14" stroke-width="0.2">e</text>
<text x="452.6" y="442.7" font-size="9" text-anchor="middle" fill="#231f20" stroke="#231f20" stroke-width="0.2">-1 s</text>
<text x="499.7" y="442.7" font-size="9" text-anchor="middle" fill="#231f20" stroke="#231f20" stroke-width="0.2">0 min</text>
<text x="547.1999999999999" y="442.7" font-size="9" text-anchor="middle" fill="#231f20" stroke="#231f20" stroke-width="0.2">1 min</text>
<text x="594.5999999999999" y="442.7" font-size="9" text-anchor="middle" fill="#231f20" stroke="#231f20" stroke-width="0.2">2 min</text>
<text x="641.4" y="442.7" font-size="9" text-anchor="middle" fill="#231f20" stroke="#231f20" stroke-width="0.2">3 min</text>
<text x="499.4" y="432" font-size="9" text-anchor="middle" fill="#231f20" stroke="#231f20" stroke-width="0.2">bleach</text>
<path d="M473.8 431L478.2 431L476 444Z" fill="#ffffff" stroke="#333" stroke-width="0.8"/>
<text x="427" y="474.5" font-size="9" text-anchor="end" fill="#231f20" stroke="#231f20" stroke-width="0.2">WT</text>
<text x="427" y="513.5" font-size="9" text-anchor="end" fill="#231f20" stroke="#231f20" stroke-width="0.2">K512R</text>
<g clip-path="url(#c54)">
<rect x="430.3" y="445.7" width="44.6" height="44.3" fill="#020a02"/>
<path d="M465.9 487.8h0M469.9 460.3h0M431.6 446.8h0M442.1 450.3h0" stroke="#0c3a0c" stroke-width="2.5" stroke-linecap="round"/>
<path d="M441.7 479.2h0M465.6 446.5h0M448.8 452.2h0M456 482.9h0M458.1 475.4h0" stroke="#0a300a" stroke-width="2" stroke-linecap="round"/>
<path d="M466 460.7h0M468.9 487.7h0M432.8 485.6h0M464.1 473.3h0" stroke="#062006" stroke-width="2.5" stroke-linecap="round"/>
<path d="M448.1 458.8h0M450.3 459.3h0" stroke="#0c3a0c" stroke-width="1.5" stroke-linecap="round"/>
<path d="M435.5 485.1h0M464.5 485.1h0M438.4 479.9h0M455.9 484.4h0M442.2 480.2h0M453.2 469.9h0" stroke="#062006" stroke-width="2" stroke-linecap="round"/>
<path d="M471.4 462.3h0M467.7 472.4h0M461.5 472.7h0M452.8 466.9h0M462.3 487.5h0" stroke="#0c3a0c" stroke-width="2" stroke-linecap="round"/>
<path d="M438.4 449.2h0M432.3 461.8h0M457.3 476.8h0M446.4 458.7h0" stroke="#0a300a" stroke-width="1.5" stroke-linecap="round"/>
<path d="M472.5 470.2h0M441.8 466.3h0M430.5 452.1h0M473.1 486.2h0" stroke="#062006" stroke-width="1.5" stroke-linecap="round"/>
<path d="M450.9 471.4h0M461.3 448h0M442.5 482.5h0M446.4 467.2h0M453.5 484.3h0M442.6 460.7h0" stroke="#0a300a" stroke-width="2.5" stroke-linecap="round"/>
<ellipse cx="448.3" cy="485.7" rx="9.0" ry="2.6" fill="#0e5a0e" transform="rotate(-10 448.3 485.7)"/>
<ellipse cx="468.3" cy="469.7" rx="7.0" ry="9.0" fill="#0c4a0c"/>
<ellipse cx="433.3" cy="446.2" rx="4.5" ry="2.2" fill="#1ee01e"/>
<ellipse cx="474.3" cy="458.7" rx="1.8" ry="2.0" fill="#1ee01e"/>
<ellipse cx="461.8" cy="456.2" rx="4.8" ry="7.6" fill="#1ee01e" transform="rotate(-15 461.8 456.2)"/>
<ellipse cx="464.8" cy="464.2" rx="3.8" ry="4.8" fill="#1ee01e"/>
<ellipse cx="463.3" cy="476.7" rx="7.4" ry="6.8" fill="#1ee01e"/>
<ellipse cx="470.8" cy="472.2" rx="4.8" ry="2.8" fill="#1ee01e" transform="rotate(-20 470.8 472.2)"/>
<ellipse cx="458.3" cy="482.2" rx="5.8" ry="4.0" fill="#1ee01e"/>
<ellipse cx="452.3" cy="477.6" rx="5.2" ry="3.8" fill="#1ee01e" transform="rotate(-30 452.3 477.6)"/>
<ellipse cx="454.1" cy="468.1" rx="5.6" ry="5.0" fill="#1ee01e"/>
<path d="M445.0 457.6L450.6 463.9" fill="none" stroke="#ffffff" stroke-width="0.9"/>
<path d="M447.5 462.9L450.6 463.9L450.0 460.8" fill="none" stroke="#ffffff" stroke-width="0.9"/>
</g>
<g clip-path="url(#c55)">
<rect x="477.4" y="445.7" width="44.6" height="44.3" fill="#020a02"/>
<path d="M505.9 473.6h0M482.9 446.4h0" stroke="#062006" stroke-width="1.5" stroke-linecap="round"/>
<path d="M513.4 460.6h0M477.9 466.2h0M505.2 488.7h0M517.2 468.5h0M479.5 485.5h0M509 463.3h0M506.1 488.2h0" stroke="#0a300a" stroke-width="2" stroke-linecap="round"/>
<path d="M509.4 461.3h0" stroke="#0c3a0c" stroke-width="2.5" stroke-linecap="round"/>
<path d="M483.4 480.1h0M487.1 480.1h0M498.2 481.6h0M481 454.9h0M478.5 489.6h0M479.8 481.7h0M481.2 468.6h0M522 477.4h0M506.1 463.2h0M521.9 478h0" stroke="#0c3a0c" stroke-width="1.5" stroke-linecap="round"/>
<path d="M483.4 454.1h0M485.8 446.9h0M494.5 477.3h0M479.1 461.4h0M492.8 477.5h0M495.3 471.6h0" stroke="#0c3a0c" stroke-width="2" stroke-linecap="round"/>
<path d="M519.5 480.3h0M489.8 471.6h0M520.2 489h0M486.9 470h0M508.2 451.4h0M495.3 485h0M509.9 467.7h0M518.8 488.3h0" stroke="#0a300a" stroke-width="2.5" stroke-linecap="round"/>
<path d="M493.3 465.2h0M505.7 463.8h0M478 468.7h0" stroke="#062006" stroke-width="2" stroke-linecap="round"/>
<path d="M501.4 481.6h0M501.2 451.8h0" stroke="#0a300a" stroke-width="1.5" stroke-linecap="round"/>
<path d="M477.4 468.7h0" stroke="#062006" stroke-width="2.5" stroke-linecap="round"/>
<ellipse cx="495.4" cy="485.7" rx="9.0" ry="2.6" fill="#0e5a0e" transform="rotate(-10 495.4 485.7)"/>
<ellipse cx="515.4" cy="469.7" rx="7.0" ry="9.0" fill="#0c4a0c"/>
<ellipse cx="480.4" cy="446.2" rx="4.5" ry="2.2" fill="#1ee01e"/>
<ellipse cx="521.4" cy="458.7" rx="1.8" ry="2.0" fill="#1ee01e"/>
<ellipse cx="508.9" cy="456.2" rx="4.8" ry="7.6" fill="#1ee01e" transform="rotate(-15 508.9 456.2)"/>
<ellipse cx="511.9" cy="464.2" rx="3.8" ry="4.8" fill="#1ee01e"/>
<ellipse cx="510.4" cy="476.7" rx="7.4" ry="6.8" fill="#1ee01e"/>
<ellipse cx="517.9" cy="472.2" rx="4.8" ry="2.8" fill="#1ee01e" transform="rotate(-20 517.9 472.2)"/>
<ellipse cx="505.4" cy="482.2" rx="5.8" ry="4.0" fill="#1ee01e"/>
<ellipse cx="499.4" cy="477.6" rx="5.2" ry="3.8" fill="#1ee01e" transform="rotate(-30 499.4 477.6)"/>
<ellipse cx="498.4" cy="468.7" rx="2.0" ry="2.4" fill="#1ee01e"/>
<ellipse cx="504.4" cy="467.2" rx="1.8" ry="4.4" fill="#1ee01e"/>
<path d="M492.1 457.6L497.7 463.9" fill="none" stroke="#ffffff" stroke-width="0.9"/>
<path d="M494.6 462.9L497.7 463.9L497.1 460.8" fill="none" stroke="#ffffff" stroke-width="0.9"/>
</g>
<g clip-path="url(#c56)">
<rect x="524.9" y="445.7" width="44.6" height="44.3" fill="#020a02"/>
<path d="M547.4 453.2h0M536.1 480.4h0M544.5 452.3h0M567 452h0" stroke="#062006" stroke-width="2" stroke-linecap="round"/>
<path d="M560.9 476.6h0M529.8 455.2h0M528.9 450.5h0M526 483.4h0M540.6 472.7h0M537.2 474.4h0M551.6 475.8h0M550.9 487.9h0M529.7 462.3h0" stroke="#0c3a0c" stroke-width="1.5" stroke-linecap="round"/>
<path d="M563.3 447.5h0" stroke="#0c3a0c" stroke-width="2.5" stroke-linecap="round"/>
<path d="M547.5 456.6h0M565.6 483.6h0M542.6 481.2h0M525.7 457.6h0" stroke="#062006" stroke-width="1.5" stroke-linecap="round"/>
<path d="M559.1 475h0M550.6 456.5h0M546 448.6h0M549.4 473.1h0" stroke="#062006" stroke-width="2.5" stroke-linecap="round"/>
<path d="M535.3 484.4h0M552.2 453.4h0M560.7 486.8h0M541.3 488.5h0M555.1 487.3h0M565.7 488.5h0" stroke="#0a300a" stroke-width="2.5" stroke-linecap="round"/>
<path d="M553 447.4h0M535.6 468.2h0M553.5 489.1h0M554.9 463.9h0M565 446h0M531.8 461.2h0M551.3 478.4h0" stroke="#0a300a" stroke-width="1.5" stroke-linecap="round"/>
<path d="M564.9 471.9h0M544.4 449.7h0M529.1 461h0M555.4 477.8h0" stroke="#0a300a" stroke-width="2" stroke-linecap="round"/>
<path d="M547.1 467.8h0" stroke="#0c3a0c" stroke-width="2" stroke-linecap="round"/>
<ellipse cx="542.9" cy="485.7" rx="9.0" ry="2.6" fill="#0e5a0e" transform="rotate(-10 542.9 485.7)"/>
<ellipse cx="562.9" cy="469.7" rx="7.0" ry="9.0" fill="#0c4a0c"/>
<ellipse cx="527.9" cy="446.2" rx="4.5" ry="2.2" fill="#1ee01e"/>
<ellipse cx="568.9" cy="458.7" rx="1.8" ry="2.0" fill="#1ee01e"/>
<ellipse cx="556.4" cy="456.2" rx="4.8" ry="7.6" fill="#1ee01e" transform="rotate(-15 556.4 456.2)"/>
<ellipse cx="559.4" cy="464.2" rx="3.8" ry="4.8" fill="#1ee01e"/>
<ellipse cx="557.9" cy="476.7" rx="7.4" ry="6.8" fill="#1ee01e"/>
<ellipse cx="565.4" cy="472.2" rx="4.8" ry="2.8" fill="#1ee01e" transform="rotate(-20 565.4 472.2)"/>
<ellipse cx="552.9" cy="482.2" rx="5.8" ry="4.0" fill="#1ee01e"/>
<ellipse cx="546.9" cy="477.6" rx="5.2" ry="3.8" fill="#1ee01e" transform="rotate(-30 546.9 477.6)"/>
<ellipse cx="545.9" cy="468.7" rx="2.0" ry="2.4" fill="#1ee01e"/>
<ellipse cx="551.9" cy="467.2" rx="1.8" ry="4.4" fill="#1ee01e"/>
<ellipse cx="548.7" cy="468.1" rx="5.6" ry="5.0" fill="#1ee01e" fill-opacity="0.35"/>
<path d="M539.6 457.6L545.2 463.9" fill="none" stroke="#ffffff" stroke-width="0.9"/>
<path d="M542.1 462.9L545.2 463.9L544.6 460.8" fill="none" stroke="#ffffff" stroke-width="0.9"/>
</g>
<g clip-path="url(#c57)">
<rect x="572.3" y="445.7" width="44.6" height="44.3" fill="#020a02"/>
<path d="M579.9 461.4h0M588.7 485.3h0M573 448.7h0M594.8 467.4h0M602.9 451.2h0" stroke="#0c3a0c" stroke-width="1.5" stroke-linecap="round"/>
<path d="M586.2 485.3h0M607.4 476.7h0M610.7 470.4h0M579.4 481.1h0M584.1 447.2h0" stroke="#0a300a" stroke-width="1.5" stroke-linecap="round"/>
<path d="M605.5 478.6h0M591 477.3h0" stroke="#0c3a0c" stroke-width="2" stroke-linecap="round"/>
<path d="M615.3 447.4h0M575.2 446.4h0M588.4 487.9h0M597.7 467.9h0M589.9 470.8h0M605.8 463h0M610.5 470.8h0M573.1 450.8h0" stroke="#062006" stroke-width="1.5" stroke-linecap="round"/>
<path d="M595.5 481.9h0M616.2 475.2h0" stroke="#062006" stroke-width="2" stroke-linecap="round"/>
<path d="M609.2 458.2h0M583.8 483.3h0M591.6 489.5h0M604 486.8h0M599.4 484.2h0M585.6 461.3h0M614 451.6h0" stroke="#0a300a" stroke-width="2" stroke-linecap="round"/>
<path d="M606.9 476.7h0M575.3 469.1h0M578 448.4h0M583 487.6h0" stroke="#0c3a0c" stroke-width="2.5" stroke-linecap="round"/>
<path d="M593.8 484.5h0M606.7 451h0M579.9 453.1h0M595.6 487.1h0M600.6 460.8h0" stroke="#062006" stroke-width="2.5" stroke-linecap="round"/>
<path d="M585.5 481.2h0M614.9 473.6h0" stroke="#0a300a" stroke-width="2.5" stroke-linecap="round"/>
<ellipse cx="590.3" cy="485.7" rx="9.0" ry="2.6" fill="#0e5a0e" transform="rotate(-10 590.3 485.7)"/>
<ellipse cx="610.3" cy="469.7" rx="7.0" ry="9.0" fill="#0c4a0c"/>
<ellipse cx="575.3" cy="446.2" rx="4.5" ry="2.2" fill="#1ee01e"/>
<ellipse cx="616.3" cy="458.7" rx="1.8" ry="2.0" fill="#1ee01e"/>
<ellipse cx="603.8" cy="456.2" rx="4.8" ry="7.6" fill="#1ee01e" transform="rotate(-15 603.8 456.2)"/>
<ellipse cx="606.8" cy="464.2" rx="3.8" ry="4.8" fill="#1ee01e"/>
<ellipse cx="605.3" cy="476.7" rx="7.4" ry="6.8" fill="#1ee01e"/>
<ellipse cx="612.8" cy="472.2" rx="4.8" ry="2.8" fill="#1ee01e" transform="rotate(-20 612.8 472.2)"/>
<ellipse cx="600.3" cy="482.2" rx="5.8" ry="4.0" fill="#1ee01e"/>
<ellipse cx="594.3" cy="477.6" rx="5.2" ry="3.8" fill="#1ee01e" transform="rotate(-30 594.3 477.6)"/>
<ellipse cx="593.3" cy="468.7" rx="2.0" ry="2.4" fill="#1ee01e"/>
<ellipse cx="599.3" cy="467.2" rx="1.8" ry="4.4" fill="#1ee01e"/>
<ellipse cx="596.1" cy="468.1" rx="5.6" ry="5.0" fill="#1ee01e" fill-opacity="0.55"/>
<path d="M587.0 457.6L592.6 463.9" fill="none" stroke="#ffffff" stroke-width="0.9"/>
<path d="M589.5 462.9L592.6 463.9L592.0 460.8" fill="none" stroke="#ffffff" stroke-width="0.9"/>
</g>
<g clip-path="url(#c58)">
<rect x="619.1" y="445.7" width="44.6" height="44.3" fill="#020a02"/>
<path d="M639.7 471h0M622.8 475.4h0M645.6 466.8h0" stroke="#0a300a" stroke-width="1.5" stroke-linecap="round"/>
<path d="M621.4 453.8h0M656.4 456.4h0M640.6 488.9h0M623 468.8h0M647.2 455.1h0M654.4 457.1h0" stroke="#062006" stroke-width="2" stroke-linecap="round"/>
<path d="M641.5 480.7h0M626.4 487.4h0M647.5 483.9h0M661.7 475.9h0M655.5 469h0" stroke="#062006" stroke-width="2.5" stroke-linecap="round"/>
<path d="M655.3 450.4h0M628.5 486.5h0M651.5 488.8h0M637.3 469h0M638.9 458.3h0M639.2 469.2h0" stroke="#0a300a" stroke-width="2.5" stroke-linecap="round"/>
<path d="M655.9 453.9h0M630.9 476.8h0M621.1 454.4h0M632.5 462.9h0M646.4 467.7h0" stroke="#0c3a0c" stroke-width="1.5" stroke-linecap="round"/>
<path d="M624.4 482.7h0M643.1 479.1h0M647.7 475.5h0M661.9 474h0" stroke="#0c3a0c" stroke-width="2" stroke-linecap="round"/>
<path d="M631.2 485.2h0M659.7 480h0M640.1 480.3h0" stroke="#0a300a" stroke-width="2" stroke-linecap="round"/>
<path d="M637 474.6h0M639 474.9h0M657.1 474.1h0" stroke="#0c3a0c" stroke-width="2.5" stroke-linecap="round"/>
<path d="M662 478.7h0M654.1 487.4h0M660.9 489.1h0M659.5 458.1h0M646.3 480.1h0" stroke="#062006" stroke-width="1.5" stroke-linecap="round"/>
<ellipse cx="637.1" cy="485.7" rx="9.0" ry="2.6" fill="#0e5a0e" transform="rotate(-10 637.1 485.7)"/>
<ellipse cx="657.1" cy="469.7" rx="7.0" ry="9.0" fill="#0c4a0c"/>
<ellipse cx="622.1" cy="446.2" rx="4.5" ry="2.2" fill="#1ee01e"/>
<ellipse cx="663.1" cy="458.7" rx="1.8" ry="2.0" fill="#1ee01e"/>
<ellipse cx="650.6" cy="456.2" rx="4.8" ry="7.6" fill="#1ee01e" transform="rotate(-15 650.6 456.2)"/>
<ellipse cx="653.6" cy="464.2" rx="3.8" ry="4.8" fill="#1ee01e"/>
<ellipse cx="652.1" cy="476.7" rx="7.4" ry="6.8" fill="#1ee01e"/>
<ellipse cx="659.6" cy="472.2" rx="4.8" ry="2.8" fill="#1ee01e" transform="rotate(-20 659.6 472.2)"/>
<ellipse cx="647.1" cy="482.2" rx="5.8" ry="4.0" fill="#1ee01e"/>
<ellipse cx="641.1" cy="477.6" rx="5.2" ry="3.8" fill="#1ee01e" transform="rotate(-30 641.1 477.6)"/>
<ellipse cx="640.1" cy="468.7" rx="2.0" ry="2.4" fill="#1ee01e"/>
<ellipse cx="646.1" cy="467.2" rx="1.8" ry="4.4" fill="#1ee01e"/>
<ellipse cx="642.9" cy="468.1" rx="5.6" ry="5.0" fill="#1ee01e" fill-opacity="0.7"/>
<path d="M633.8 457.6L639.4 463.9" fill="none" stroke="#ffffff" stroke-width="0.9"/>
<path d="M636.3 462.9L639.4 463.9L638.8 460.8" fill="none" stroke="#ffffff" stroke-width="0.9"/>
</g>
<g clip-path="url(#c59)">
<rect x="430.3" y="492.5" width="44.6" height="44.3" fill="#020a02"/>
<path d="M472.2 507.7h0M454.4 528.8h0M457.7 509.3h0" stroke="#0a300a" stroke-width="2" stroke-linecap="round"/>
<path d="M473 533.7h0" stroke="#0c3a0c" stroke-width="2" stroke-linecap="round"/>
<path d="M450.1 532.9h0M457.2 497.3h0M448.2 521.5h0M456.1 532.3h0M449.8 499.2h0M435.9 534.8h0M469.3 529.1h0" stroke="#0a300a" stroke-width="2.5" stroke-linecap="round"/>
<path d="M455.1 493h0M437.5 498.6h0M474.8 527.5h0M470.7 503.3h0M455 505.3h0M433.1 504.7h0M461.6 518.2h0M456.6 528.6h0M446.4 494.4h0M459.8 505.9h0" stroke="#062006" stroke-width="2" stroke-linecap="round"/>
<path d="M446.9 497.9h0M470.6 500.7h0M442.5 499.2h0" stroke="#0a300a" stroke-width="1.5" stroke-linecap="round"/>
<path d="M461.4 528.6h0M449.9 520.7h0M454.9 528.2h0M456 512.7h0" stroke="#0c3a0c" stroke-width="1.5" stroke-linecap="round"/>
<path d="M472.1 511.6h0M442.5 525.3h0M451.9 515.4h0" stroke="#0c3a0c" stroke-width="2.5" stroke-linecap="round"/>
<path d="M463 500.1h0M454.6 535.8h0M474.5 496.5h0" stroke="#062006" stroke-width="2.5" stroke-linecap="round"/>
<path d="M449.8 515.1h0" stroke="#062006" stroke-width="1.5" stroke-linecap="round"/>
<path d="M430.3 497.5L441.3 505.8" fill="none" stroke="#0c4a0c" stroke-width="1.4"/>
<ellipse cx="462.8" cy="530.5" rx="5.8" ry="6.5" fill="#1ee01e"/>
<ellipse cx="470.1" cy="526.0" rx="4.3" ry="4.2" fill="#1ee01e"/>
<ellipse cx="468.3" cy="532.5" rx="5.0" ry="4.0" fill="#1ee01e"/>
<ellipse cx="470.9" cy="510.7" rx="2.8" ry="3.0" fill="#1ee01e"/>
<ellipse cx="467.1" cy="517.7" rx="1.5" ry="1.5" fill="#1ee01e"/>
<ellipse cx="446.1" cy="508.6" rx="4.5" ry="6.0" fill="#1ee01e" transform="rotate(-25 446.1 508.6)"/>
<path d="M434.5 517.0L440.8 512.1" fill="none" stroke="#ffffff" stroke-width="0.9"/>
<path d="M439.6 515.1L440.8 512.1L437.6 512.5" fill="none" stroke="#ffffff" stroke-width="0.9"/>
</g>
<g clip-path="url(#c60)">
<rect x="477.4" y="492.5" width="44.6" height="44.3" fill="#020a02"/>
<path d="M486 517.6h0M499.2 495.4h0M519.1 511.7h0M514 528h0M511.7 527.8h0M519.6 497.7h0M483.5 513.6h0M506.8 536.3h0" stroke="#0a300a" stroke-width="2.5" stroke-linecap="round"/>
<path d="M482.3 524.8h0M506.6 535.9h0M506.5 527.6h0M483.8 512.4h0" stroke="#0a300a" stroke-width="2" stroke-linecap="round"/>
<path d="M516 529.2h0M512.8 521.4h0M503.8 522.1h0" stroke="#0c3a0c" stroke-width="2" stroke-linecap="round"/>
<path d="M507.1 518.8h0M493.7 531h0M481.9 521.3h0M515 508.6h0M501.2 523.1h0" stroke="#0c3a0c" stroke-width="2.5" stroke-linecap="round"/>
<path d="M507.2 523h0M509.1 502.4h0M503.4 494.2h0M519.4 534.3h0M512.9 494.2h0" stroke="#0c3a0c" stroke-width="1.5" stroke-linecap="round"/>
<path d="M491.8 517.1h0M492.6 522.9h0M481.3 495.7h0" stroke="#062006" stroke-width="2" stroke-linecap="round"/>
<path d="M497.4 502h0" stroke="#0a300a" stroke-width="1.5" stroke-linecap="round"/>
<path d="M490.6 527h0M486.7 515.6h0M487.2 495.8h0" stroke="#062006" stroke-width="2.5" stroke-linecap="round"/>
<path d="M506.5 513.8h0M501 503.1h0M509.7 531h0" stroke="#062006" stroke-width="1.5" stroke-linecap="round"/>
<path d="M477.4 497.5L488.4 505.8" fill="none" stroke="#0c4a0c" stroke-width="1.4"/>
<ellipse cx="509.9" cy="530.5" rx="5.8" ry="6.5" fill="#1ee01e"/>
<ellipse cx="517.2" cy="526.0" rx="4.3" ry="4.2" fill="#1ee01e"/>
<ellipse cx="515.4" cy="532.5" rx="5.0" ry="4.0" fill="#1ee01e"/>
<ellipse cx="518.0" cy="510.7" rx="2.8" ry="3.0" fill="#1ee01e"/>
<ellipse cx="514.2" cy="517.7" rx="1.5" ry="1.5" fill="#1ee01e"/>
<ellipse cx="490.8" cy="504.7" rx="2.4" ry="2.2" fill="#1ee01e"/>
<ellipse cx="494.8" cy="511.4" rx="3.0" ry="2.8" fill="#1ee01e"/>
<path d="M481.6 517.0L487.9 512.1" fill="none" stroke="#ffffff" stroke-width="0.9"/>
<path d="M486.7 515.1L487.9 512.1L484.7 512.5" fill="none" stroke="#ffffff" stroke-width="0.9"/>
</g>
<g clip-path="url(#c61)">
<rect x="524.9" y="492.5" width="44.6" height="44.3" fill="#020a02"/>
<path d="M542.8 507.3h0M552.3 501.9h0M565.2 493.8h0M556.8 494.4h0M530.6 499.5h0M530.5 531.4h0" stroke="#0c3a0c" stroke-width="2.5" stroke-linecap="round"/>
<path d="M545.5 519.2h0M567.9 521.6h0M558.8 534.1h0M529.1 525h0" stroke="#0a300a" stroke-width="2" stroke-linecap="round"/>
<path d="M549.1 536h0M567.8 497.9h0M542.6 503.1h0" stroke="#0c3a0c" stroke-width="2" stroke-linecap="round"/>
<path d="M566.9 514.9h0M542.8 532.1h0M531.4 508.3h0M553.9 495.5h0M561.1 530.7h0" stroke="#0a300a" stroke-width="1.5" stroke-linecap="round"/>
<path d="M547.4 514.1h0M562.2 533.3h0M531.4 523.8h0" stroke="#0a300a" stroke-width="2.5" stroke-linecap="round"/>
<path d="M563.9 494.1h0M525.4 512.5h0M545.9 534.2h0M545.6 527.3h0M559.1 503.8h0M559.2 516.2h0" stroke="#062006" stroke-width="2.5" stroke-linecap="round"/>
<path d="M548.2 523.8h0M554.2 506.6h0M535.6 520.2h0M548.3 494.4h0M553.6 516.9h0" stroke="#0c3a0c" stroke-width="1.5" stroke-linecap="round"/>
<path d="M553.2 500.7h0M565.2 501.5h0M561.1 516.2h0" stroke="#062006" stroke-width="1.5" stroke-linecap="round"/>
<path d="M524.9 497.5L535.9 505.8" fill="none" stroke="#0c4a0c" stroke-width="1.4"/>
<ellipse cx="557.4" cy="530.5" rx="5.8" ry="6.5" fill="#1ee01e"/>
<ellipse cx="564.7" cy="526.0" rx="4.3" ry="4.2" fill="#1ee01e"/>
<ellipse cx="562.9" cy="532.5" rx="5.0" ry="4.0" fill="#1ee01e"/>
<ellipse cx="565.5" cy="510.7" rx="2.8" ry="3.0" fill="#1ee01e"/>
<ellipse cx="561.7" cy="517.7" rx="1.5" ry="1.5" fill="#1ee01e"/>
<ellipse cx="538.3" cy="504.7" rx="2.4" ry="2.2" fill="#1ee01e"/>
<ellipse cx="542.3" cy="511.4" rx="3.0" ry="2.8" fill="#1ee01e"/>
<ellipse cx="540.7" cy="508.6" rx="4.2" ry="5.6" fill="#1ee01e" fill-opacity="0.35" transform="rotate(-25 540.7 508.6)"/>
<path d="M529.1 517.0L535.4 512.1" fill="none" stroke="#ffffff" stroke-width="0.9"/>
<path d="M534.2 515.1L535.4 512.1L532.2 512.5" fill="none" stroke="#ffffff" stroke-width="0.9"/>
</g>
<g clip-path="url(#c62)">
<rect x="572.3" y="492.5" width="44.6" height="44.3" fill="#020a02"/>
<path d="M579.6 517.7h0M593.1 532.2h0M587.4 502.4h0M576.1 517.2h0M597.7 506.2h0M598.6 497.4h0" stroke="#0a300a" stroke-width="2" stroke-linecap="round"/>
<path d="M598.1 515.6h0M585.9 509.6h0" stroke="#062006" stroke-width="1.5" stroke-linecap="round"/>
<path d="M575.8 495.2h0M609 513.8h0M615.7 510.8h0M587.6 506.8h0M593.3 514.7h0M575.7 524.5h0M581.1 535.9h0M579.3 526h0" stroke="#062006" stroke-width="2.5" stroke-linecap="round"/>
<path d="M605.1 532.5h0M612.4 493h0M609.1 517.3h0M606.8 520.6h0" stroke="#0a300a" stroke-width="1.5" stroke-linecap="round"/>
<path d="M580.3 534.5h0M586.6 518h0M580.3 531.9h0" stroke="#0c3a0c" stroke-width="2.5" stroke-linecap="round"/>
<path d="M585.4 494h0M574.3 525.1h0M607.9 500.2h0" stroke="#0a300a" stroke-width="2.5" stroke-linecap="round"/>
<path d="M612.3 535.4h0M578.2 533.3h0M614 510.1h0" stroke="#0c3a0c" stroke-width="2" stroke-linecap="round"/>
<path d="M606.5 523h0M586.4 526.9h0M581.3 497.6h0" stroke="#062006" stroke-width="2" stroke-linecap="round"/>
<path d="M582.5 521.3h0M586.8 529.5h0M575.9 503.6h0" stroke="#0c3a0c" stroke-width="1.5" stroke-linecap="round"/>
<path d="M572.3 497.5L583.3 505.8" fill="none" stroke="#0c4a0c" stroke-width="1.4"/>
<ellipse cx="604.8" cy="530.5" rx="5.8" ry="6.5" fill="#1ee01e"/>
<ellipse cx="612.1" cy="526.0" rx="4.3" ry="4.2" fill="#1ee01e"/>
<ellipse cx="610.3" cy="532.5" rx="5.0" ry="4.0" fill="#1ee01e"/>
<ellipse cx="612.9" cy="510.7" rx="2.8" ry="3.0" fill="#1ee01e"/>
<ellipse cx="609.1" cy="517.7" rx="1.5" ry="1.5" fill="#1ee01e"/>
<ellipse cx="585.7" cy="504.7" rx="2.4" ry="2.2" fill="#1ee01e"/>
<ellipse cx="589.7" cy="511.4" rx="3.0" ry="2.8" fill="#1ee01e"/>
<ellipse cx="588.1" cy="508.6" rx="4.2" ry="5.6" fill="#1ee01e" fill-opacity="0.55" transform="rotate(-25 588.1 508.6)"/>
<path d="M576.5 517.0L582.8 512.1" fill="none" stroke="#ffffff" stroke-width="0.9"/>
<path d="M581.6 515.1L582.8 512.1L579.6 512.5" fill="none" stroke="#ffffff" stroke-width="0.9"/>
</g>
<g clip-path="url(#c63)">
<rect x="619.1" y="492.5" width="44.6" height="44.3" fill="#020a02"/>
<path d="M622 532.9h0M657.3 534.9h0M663.5 524.4h0M626 524.9h0" stroke="#062006" stroke-width="2" stroke-linecap="round"/>
<path d="M657.8 508h0M642 514.5h0M645.3 510.6h0M635.2 533.9h0M658.4 514.6h0M622 495.7h0" stroke="#0c3a0c" stroke-width="2" stroke-linecap="round"/>
<path d="M632.2 514.9h0M635.1 536.6h0M638.1 520.2h0M623.8 515h0M644.2 506.3h0" stroke="#0a300a" stroke-width="1.5" stroke-linecap="round"/>
<path d="M648.8 527.5h0M654.4 525.8h0M630 509.2h0" stroke="#0c3a0c" stroke-width="2.5" stroke-linecap="round"/>
<path d="M661.7 494.6h0" stroke="#0a300a" stroke-width="2.5" stroke-linecap="round"/>
<path d="M637.8 507.3h0M635.2 525.5h0M621.1 517.3h0M627.9 515.6h0" stroke="#0a300a" stroke-width="2" stroke-linecap="round"/>
<path d="M642.9 494h0M643 509h0M638.3 499.2h0M623.8 501.5h0" stroke="#062006" stroke-width="1.5" stroke-linecap="round"/>
<path d="M619.8 509.4h0M663.4 510.7h0M656.4 518.2h0M622.2 510.3h0M641 506.9h0" stroke="#0c3a0c" stroke-width="1.5" stroke-linecap="round"/>
<path d="M644.2 511.9h0M625.8 510.4h0M662.1 509.1h0" stroke="#062006" stroke-width="2.5" stroke-linecap="round"/>
<path d="M619.1 497.5L630.1 505.8" fill="none" stroke="#0c4a0c" stroke-width="1.4"/>
<ellipse cx="651.6" cy="530.5" rx="5.8" ry="6.5" fill="#1ee01e"/>
<ellipse cx="658.9" cy="526.0" rx="4.3" ry="4.2" fill="#1ee01e"/>
<ellipse cx="657.1" cy="532.5" rx="5.0" ry="4.0" fill="#1ee01e"/>
<ellipse cx="659.7" cy="510.7" rx="2.8" ry="3.0" fill="#1ee01e"/>
<ellipse cx="655.9" cy="517.7" rx="1.5" ry="1.5" fill="#1ee01e"/>
<ellipse cx="632.5" cy="504.7" rx="2.4" ry="2.2" fill="#1ee01e"/>
<ellipse cx="636.5" cy="511.4" rx="3.0" ry="2.8" fill="#1ee01e"/>
<ellipse cx="634.9" cy="508.6" rx="4.2" ry="5.6" fill="#1ee01e" fill-opacity="0.7" transform="rotate(-25 634.9 508.6)"/>
<path d="M623.3 517.0L629.6 512.1" fill="none" stroke="#ffffff" stroke-width="0.9"/>
<path d="M628.4 515.1L629.6 512.1L626.4 512.5" fill="none" stroke="#ffffff" stroke-width="0.9"/>
</g>
<text x="430.2" y="548.6" font-size="9" text-anchor="start" fill="#231f20" stroke="#231f20" stroke-width="0.2">H1299<tspan font-size="5.5" dy="-3.5" font-style="italic">SENP1-/-</tspan></text>
<text x="650" y="546.5" font-size="9" text-anchor="end" fill="#231f20" stroke="#231f20" stroke-width="0.2">2 μm</text>
<line x1="654" y1="543.5" x2="663.7" y2="543.5" stroke="#231f20" stroke-width="1.6"/>
<line x1="431.7" y1="559.5" x2="431.7" y2="645.8" stroke="#333333" stroke-width="1.1"/>
<line x1="431.2" y1="645.3" x2="532.8" y2="645.3" stroke="#333333" stroke-width="1.1"/>
<line x1="429.2" y1="645.3" x2="431.7" y2="645.3" stroke="#333333" stroke-width="1"/>
<text x="428.8" y="648.0999999999999" font-size="8" text-anchor="end" fill="#231f20" stroke="#231f20" stroke-width="0.2">0.0</text>
<line x1="429.2" y1="628.24" x2="431.7" y2="628.24" stroke="#333333" stroke-width="1"/>
<text x="428.8" y="631.04" font-size="8" text-anchor="end" fill="#231f20" stroke="#231f20" stroke-width="0.2">0.2</text>
<line x1="429.2" y1="611.18" x2="431.7" y2="611.18" stroke="#333333" stroke-width="1"/>
<text x="428.8" y="613.9799999999999" font-size="8" text-anchor="end" fill="#231f20" stroke="#231f20" stroke-width="0.2">0.4</text>
<line x1="429.2" y1="594.12" x2="431.7" y2="594.12" stroke="#333333" stroke-width="1"/>
<text x="428.8" y="596.92" font-size="8" text-anchor="end" fill="#231f20" stroke="#231f20" stroke-width="0.2">0.6</text>
<line x1="429.2" y1="577.06" x2="431.7" y2="577.06" stroke="#333333" stroke-width="1"/>
<text x="428.8" y="579.8599999999999" font-size="8" text-anchor="end" fill="#231f20" stroke="#231f20" stroke-width="0.2">0.8</text>
<line x1="429.2" y1="560.0" x2="431.7" y2="560.0" stroke="#333333" stroke-width="1"/>
<text x="428.8" y="562.8" font-size="8" text-anchor="end" fill="#231f20" stroke="#231f20" stroke-width="0.2">1.0</text>
<line x1="435.8" y1="645.3" x2="435.8" y2="647.8" stroke="#333333" stroke-width="1"/>
<text x="435.8" y="655" font-size="8" text-anchor="middle" fill="#231f20" stroke="#231f20" stroke-width="0.2">0</text>
<line x1="457.75" y1="645.3" x2="457.75" y2="647.8" stroke="#333333" stroke-width="1"/>
<text x="457.75" y="655" font-size="8" text-anchor="middle" fill="#231f20" stroke="#231f20" stroke-width="0.2">50</text>
<line x1="479.7" y1="645.3" x2="479.7" y2="647.8" stroke="#333333" stroke-width="1"/>
<text x="479.7" y="655" font-size="8" text-anchor="middle" fill="#231f20" stroke="#231f20" stroke-width="0.2">100</text>
<line x1="501.65" y1="645.3" x2="501.65" y2="647.8" stroke="#333333" stroke-width="1"/>
<text x="501.65" y="655" font-size="8" text-anchor="middle" fill="#231f20" stroke="#231f20" stroke-width="0.2">150</text>
<line x1="523.6" y1="645.3" x2="523.6" y2="647.8" stroke="#333333" stroke-width="1"/>
<text x="523.6" y="655" font-size="8" text-anchor="middle" fill="#231f20" stroke="#231f20" stroke-width="0.2">200</text>
<text x="481.7" y="662.6" font-size="9" text-anchor="middle" fill="#231f20" stroke="#231f20" stroke-width="0.2">Time(s)</text>
<text x="412.5" y="600" font-size="8.5" text-anchor="middle" fill="#231f20" transform="rotate(-90 412.5 600)" stroke="#231f20" stroke-width="0.2">Relative density</text>
<path d="M435.8 560.0L438.0 629.9L439.3 623.1L440.6 623.0L441.9 621.1L443.3 620.5L444.6 619.8L445.9 619.3L447.2 618.9L448.5 617.4L449.8 617.5L451.2 616.9L452.5 615.7L453.8 615.3L455.1 615.6L456.4 614.3L457.8 614.4L459.1 612.7L460.4 612.1L461.7 612.3L463.0 611.1L464.3 612.2L465.7 610.9L467.0 611.4L468.3 610.2L469.6 610.4L470.9 609.9L472.2 608.5L473.6 608.9L474.9 608.7L476.2 608.1L477.5 607.4L478.8 606.8L480.1 606.9L481.5 605.7L482.8 605.6L484.1 605.2L485.4 605.0L486.7 603.8L488.0 603.9L489.4 604.4L490.7 602.9L492.0 602.0L493.3 602.6L494.6 601.5L495.9 602.3L497.3 601.5L498.6 601.4L499.9 601.1L501.2 600.0L502.5 600.2L503.8 599.0L505.2 599.5L506.5 600.1L507.8 599.2L509.1 597.9L510.4 598.5L511.7 599.0L513.1 598.2L514.4 598.2L515.7 596.0L517.0 595.8L518.3 595.8L519.6 595.9L521.0 595.3L522.3 596.2L523.6 595.6L524.9 594.9L526.2 594.9L527.6 595.3L528.9 593.1L530.2 593.9L531.5 593.5L532.8 593.5" fill="none" stroke="#24a06a" stroke-width="1.5"/>
<path d="M439.3 621.5v3.2M441.9 619.5v3.2M444.6 618.2v3.2M447.2 617.3v3.2M449.8 615.9v3.2M452.5 614.1v3.2M455.1 614.0v3.2M457.8 612.8v3.2M460.4 610.5v3.2M463.0 609.5v3.2M465.7 609.3v3.2M468.3 608.6v3.2M470.9 608.3v3.2M473.6 607.3v3.2M476.2 606.5v3.2M478.8 605.2v3.2M481.5 604.1v3.2M484.1 603.6v3.2M486.7 602.2v3.2M489.4 602.8v3.2M492.0 600.4v3.2M494.6 599.9v3.2M497.3 599.9v3.2M499.9 599.5v3.2M502.5 598.6v3.2M505.2 597.9v3.2M507.8 597.6v3.2M510.4 596.9v3.2M513.1 596.6v3.2M515.7 594.4v3.2M518.3 594.2v3.2M521.0 593.7v3.2M523.6 594.0v3.2M526.2 593.3v3.2M528.9 591.5v3.2M531.5 591.9v3.2" fill="none" stroke="#24a06a" stroke-width="0.8"/>
<path d="M435.8 560.0L438.0 628.2L439.3 622.0L440.6 620.1L441.9 620.5L443.3 618.9L444.6 618.3L445.9 617.5L447.2 616.5L448.5 615.3L449.8 614.4L451.2 613.4L452.5 612.9L453.8 611.7L455.1 612.0L456.4 609.9L457.8 611.0L459.1 609.0L460.4 608.9L461.7 608.0L463.0 608.3L464.3 607.6L465.7 605.8L467.0 604.9L468.3 605.6L469.6 604.3L470.9 603.4L472.2 602.8L473.6 603.9L474.9 603.5L476.2 602.7L477.5 600.8L478.8 601.9L480.1 600.7L481.5 599.1L482.8 599.5L484.1 598.7L485.4 599.0L486.7 597.8L488.0 597.0L489.4 598.2L490.7 596.2L492.0 595.3L493.3 595.3L494.6 595.8L495.9 594.4L497.3 595.3L498.6 594.2L499.9 592.8L501.2 593.6L502.5 593.2L503.8 593.1L505.2 592.9L506.5 591.2L507.8 591.7L509.1 591.2L510.4 590.3L511.7 590.8L513.1 589.4L514.4 589.8L515.7 588.5L517.0 587.9L518.3 588.7L519.6 587.7L521.0 586.7L522.3 586.9L523.6 587.3L524.9 585.9L526.2 585.3L527.6 585.2L528.9 584.0L530.2 584.3L531.5 583.3L532.8 584.5" fill="none" stroke="#ee2a2a" stroke-width="1.5"/>
<path d="M439.3 620.4v3.2M441.9 618.9v3.2M444.6 616.7v3.2M447.2 614.9v3.2M449.8 612.8v3.2M452.5 611.3v3.2M455.1 610.4v3.2M457.8 609.4v3.2M460.4 607.3v3.2M463.0 606.7v3.2M465.7 604.2v3.2M468.3 604.0v3.2M470.9 601.8v3.2M473.6 602.3v3.2M476.2 601.1v3.2M478.8 600.3v3.2M481.5 597.5v3.2M484.1 597.1v3.2M486.7 596.2v3.2M489.4 596.6v3.2M492.0 593.7v3.2M494.6 594.2v3.2M497.3 593.7v3.2M499.9 591.2v3.2M502.5 591.6v3.2M505.2 591.3v3.2M507.8 590.1v3.2M510.4 588.7v3.2M513.1 587.8v3.2M515.7 586.9v3.2M518.3 587.1v3.2M521.0 585.1v3.2M523.6 585.7v3.2M526.2 583.7v3.2M528.9 582.4v3.2M531.5 581.7v3.2" fill="none" stroke="#ee2a2a" stroke-width="0.8"/>
<line x1="445.4" y1="566" x2="453.5" y2="566" stroke="#ee2a2a" stroke-width="1.3"/>
<line x1="445.4" y1="573.7" x2="453.5" y2="573.7" stroke="#24a06a" stroke-width="1.3"/>
<text x="457.2" y="568.8" font-size="8.5" text-anchor="start" fill="#231f20" stroke="#231f20" stroke-width="0.2">WT</text>
<text x="457.2" y="576.5" font-size="8.5" text-anchor="start" fill="#231f20" stroke="#231f20" stroke-width="0.2">K512R</text>
<line x1="588.6" y1="558.2" x2="588.6" y2="644.6" stroke="#333333" stroke-width="1.1"/>
<line x1="588.1" y1="644.1" x2="644.2" y2="644.1" stroke="#333333" stroke-width="1.1"/>
<line x1="586.1" y1="644.1" x2="588.6" y2="644.1" stroke="#333333" stroke-width="1"/>
<text x="585.6" y="646.9" font-size="8" text-anchor="end" fill="#231f20" stroke="#231f20" stroke-width="0.2">0</text>
<line x1="586.1" y1="627.02" x2="588.6" y2="627.02" stroke="#333333" stroke-width="1"/>
<text x="585.6" y="629.8199999999999" font-size="8" text-anchor="end" fill="#231f20" stroke="#231f20" stroke-width="0.2">20</text>
<line x1="586.1" y1="609.94" x2="588.6" y2="609.94" stroke="#333333" stroke-width="1"/>
<text x="585.6" y="612.74" font-size="8" text-anchor="end" fill="#231f20" stroke="#231f20" stroke-width="0.2">40</text>
<line x1="586.1" y1="592.86" x2="588.6" y2="592.86" stroke="#333333" stroke-width="1"/>
<text x="585.6" y="595.66" font-size="8" text-anchor="end" fill="#231f20" stroke="#231f20" stroke-width="0.2">60</text>
<line x1="586.1" y1="575.78" x2="588.6" y2="575.78" stroke="#333333" stroke-width="1"/>
<text x="585.6" y="578.5799999999999" font-size="8" text-anchor="end" fill="#231f20" stroke="#231f20" stroke-width="0.2">80</text>
<line x1="586.1" y1="558.7" x2="588.6" y2="558.7" stroke="#333333" stroke-width="1"/>
<text x="585.6" y="561.5" font-size="8" text-anchor="end" fill="#231f20" stroke="#231f20" stroke-width="0.2">100</text>
<text x="568" y="600" font-size="8" text-anchor="middle" fill="#231f20" transform="rotate(-90 568 600)" stroke="#231f20" stroke-width="0.2">Mobile fraction (%)</text>
<rect x="596.9" y="586.028" width="15" height="58.072" fill="none" stroke="#ee2a2a" stroke-width="1.1"/>
<rect x="621.4" y="611.648" width="15" height="32.452" fill="none" stroke="#24a070" stroke-width="1.1"/>
<line x1="604.4" y1="593.714" x2="604.4" y2="577.915" stroke="#ee2a2a" stroke-width="1.25"/>
<line x1="604.4" y1="586.028" x2="604.4" y2="586.028" stroke="#ee2a2a" stroke-width="1.25"/>
<line x1="601.1999999999999" y1="593.714" x2="607.6" y2="593.714" stroke="#ee2a2a" stroke-width="1.25"/>
<line x1="601.1999999999999" y1="577.915" x2="607.6" y2="577.915" stroke="#ee2a2a" stroke-width="1.25"/>
<line x1="628.9" y1="626.166" x2="628.9" y2="597.13" stroke="#24a070" stroke-width="1.25"/>
<line x1="628.9" y1="611.648" x2="628.9" y2="611.648" stroke="#24a070" stroke-width="1.25"/>
<line x1="625.6999999999999" y1="626.166" x2="632.1" y2="626.166" stroke="#24a070" stroke-width="1.25"/>
<line x1="625.6999999999999" y1="597.13" x2="632.1" y2="597.13" stroke="#24a070" stroke-width="1.25"/>
<path d="M604.4 577.5h0M604.4 586h0M604.4 592.9h0M628.9 597.1h0M628.9 611.6h0M628.9 626.2h0" stroke="#999" stroke-width="2" stroke-linecap="round"/>
<path d="M604.4 576V571.2H629.4V594" fill="none" stroke="#111" stroke-width="0.9"/>
<text x="619.5" y="567.8" font-size="8" text-anchor="middle" fill="#231f20" stroke="#231f20" stroke-width="0.2">p=0.0477</text>
<text x="603.4" y="654" font-size="8" text-anchor="middle" fill="#231f20" stroke="#231f20" stroke-width="0.2">WT</text>
<text x="629" y="654" font-size="8" text-anchor="middle" fill="#231f20" stroke="#231f20" stroke-width="0.2">K512R</text>
<text x="8" y="692.3" font-size="15" text-anchor="start" font-weight="bold" fill="#2a1a14" stroke="#2a1a14" stroke-width="0.2">f</text>
<text x="139.4" y="697.8" font-size="10.1" text-anchor="middle" font-weight="bold" fill="#231f20" stroke="#231f20" stroke-width="0.2">LC-MS/MS</text>
<text x="144.5" y="712.4" font-size="8.85" text-anchor="middle" font-weight="bold" fill="#231f20" stroke="#231f20" stroke-width="0.2">AS (NaAsO<tspan font-size="5.5" dy="2">2</tspan><tspan dy="-2">) - treated cells</tspan></text>
<text x="144.5" y="723.5" font-size="8.85" text-anchor="middle" font-weight="bold" fill="#231f20" stroke="#231f20" stroke-width="0.2">(0.5 mM AS 1 h &amp; 90 min Recovery)</text>
<line x1="138.5" y1="726" x2="138.5" y2="743.7" stroke="#231f20" stroke-width="1.2"/>
<path d="M136.1 740.7L138.5 745.7L140.9 740.7L138.5 742.1Z" fill="#231f20" stroke="none" stroke-width="0"/>
<text x="143.3" y="736.5" font-size="8.85" text-anchor="start" fill="#231f20" stroke="#231f20" stroke-width="0.2">Sonicate</text>
<text x="141.3" y="754.0" font-size="8.85" text-anchor="middle" font-weight="bold" fill="#231f20" stroke="#231f20" stroke-width="0.2">Lysate</text>
<line x1="139.3" y1="756.5" x2="139.3" y2="773" stroke="#231f20" stroke-width="1.2"/>
<line x1="139.3" y1="773" x2="125" y2="787.5" stroke="#231f20" stroke-width="1.2"/>
<line x1="139.3" y1="773" x2="153.8" y2="787.5" stroke="#231f20" stroke-width="1.2"/>
<path d="M126.4 782.7L125 787.5L129.8 786.0L127.4 785.1Z" fill="#231f20" stroke="none" stroke-width="0"/>
<path d="M149.0 786.1L153.8 787.5L152.4 782.7L151.4 785.1Z" fill="#231f20" stroke="none" stroke-width="0"/>
<text x="144" y="767.6" font-size="8.85" text-anchor="start" fill="#231f20" stroke="#231f20" stroke-width="0.2">Spin, 1,000xg, 5’</text>
<text x="121.7" y="796.6" font-size="8.85" text-anchor="middle" font-weight="bold" fill="#231f20" stroke="#231f20" stroke-width="0.2">Sup</text>
<text x="162.5" y="796.6" font-size="8.85" text-anchor="middle" font-weight="bold" fill="#231f20" stroke="#231f20" stroke-width="0.2">Pellet</text>
<line x1="119.8" y1="799" x2="119.8" y2="816.8" stroke="#231f20" stroke-width="1.2"/>
<line x1="119.8" y1="816.8" x2="105.8" y2="829.5" stroke="#231f20" stroke-width="1.2"/>
<line x1="119.8" y1="816.8" x2="134.6" y2="829.5" stroke="#231f20" stroke-width="1.2"/>
<path d="M107.5 824.8L105.8 829.5L110.7 828.3L108.3 827.2Z" fill="#231f20" stroke="none" stroke-width="0"/>
<path d="M129.7 828.4L134.6 829.5L132.8 824.8L132.0 827.3Z" fill="#231f20" stroke="none" stroke-width="0"/>
<text x="124.9" y="811.5" font-size="8.85" text-anchor="start" fill="#231f20" stroke="#231f20" stroke-width="0.2">Spin, 17,000xg, 30 ’</text>
<text x="105.5" y="839.0" font-size="8.85" text-anchor="middle" font-weight="bold" fill="#231f20" stroke="#231f20" stroke-width="0.2">Sup</text>
<text x="141" y="839.0" font-size="8.85" text-anchor="middle" font-weight="bold" fill="#231f20" stroke="#231f20" stroke-width="0.2">Pellet</text>
<line x1="136.3" y1="842" x2="136.3" y2="860" stroke="#231f20" stroke-width="1.2"/>
<line x1="136.3" y1="860" x2="122.8" y2="872.7" stroke="#231f20" stroke-width="1.2"/>
<line x1="136.3" y1="860" x2="150.3" y2="872.7" stroke="#231f20" stroke-width="1.2"/>
<path d="M124.4 868.0L122.8 872.7L127.6 871.4L125.3 870.4Z" fill="#231f20" stroke="none" stroke-width="0"/>
<path d="M145.4 871.5L150.3 872.7L148.6 868.0L147.8 870.4Z" fill="#231f20" stroke="none" stroke-width="0"/>
<text x="140.6" y="849.6" font-size="8.85" text-anchor="start" fill="#231f20" stroke="#231f20" stroke-width="0.2">Resuspend in lysis buffer</text>
<text x="140.6" y="860.0" font-size="8.85" text-anchor="start" fill="#231f20" stroke="#231f20" stroke-width="0.2">Spin, 17,000xg, 30 ’</text>
<text x="122" y="882.0" font-size="8.85" text-anchor="middle" font-weight="bold" fill="#231f20" stroke="#231f20" stroke-width="0.2">Pellet</text>
<text x="156.3" y="882.0" font-size="8.85" text-anchor="middle" font-weight="bold" fill="#231f20" stroke="#231f20" stroke-width="0.2">Sup</text>
<line x1="119.8" y1="885" x2="119.8" y2="903.6" stroke="#231f20" stroke-width="1.2"/>
<line x1="119.8" y1="903.6" x2="105.8" y2="916.3" stroke="#231f20" stroke-width="1.2"/>
<line x1="119.8" y1="903.6" x2="134.6" y2="916.3" stroke="#231f20" stroke-width="1.2"/>
<path d="M107.5 911.6L105.8 916.3L110.7 915.1L108.3 914.0Z" fill="#231f20" stroke="none" stroke-width="0"/>
<path d="M129.7 915.2L134.6 916.3L132.8 911.6L132.0 914.1Z" fill="#231f20" stroke="none" stroke-width="0"/>
<text x="124.9" y="892.8" font-size="8.85" text-anchor="start" fill="#231f20" stroke="#231f20" stroke-width="0.2">Resuspend in lysis buffer</text>
<text x="124.9" y="903.4" font-size="8.85" text-anchor="start" fill="#231f20" stroke="#231f20" stroke-width="0.2">Spin, 850xg, 2 ’</text>
<text x="78.5" y="926.0" font-size="8.85" text-anchor="middle" font-weight="bold" fill="#e8202a" stroke="#e8202a" stroke-width="0.2">Sup(Stress Granule</text>
<text x="146" y="926.0" font-size="8.85" text-anchor="middle" font-weight="bold" fill="#231f20" stroke="#231f20" stroke-width="0.2">Pellet</text>
<text x="79.8" y="936.5" font-size="8.85" text-anchor="middle" font-weight="bold" fill="#e8202a" stroke="#e8202a" stroke-width="0.2">Core Enriched Fraction)</text>
<line x1="100.3" y1="938.5" x2="100.3" y2="955.8" stroke="#231f20" stroke-width="1.2"/>
<path d="M97.89999999999999 952.8L100.3 957.8L102.7 952.8L100.3 954.1999999999999Z" fill="#231f20" stroke="none" stroke-width="0"/>
<text x="105.8" y="949.2" font-size="8.85" text-anchor="start" fill="#231f20" stroke="#231f20" stroke-width="0.2">IP: Myc-PABPC1</text>
<text x="109.6" y="967.3" font-size="9" text-anchor="middle" font-weight="bold" fill="#e8202a" stroke="#e8202a" stroke-width="0.2">SG proteome</text>
<text x="271.2" y="694" font-size="15" text-anchor="start" font-weight="bold" fill="#2a1a14" stroke="#2a1a14" stroke-width="0.2">g</text>
<text x="371.3" y="689.8" font-size="8.9" text-anchor="middle" fill="#231f20" stroke="#231f20" stroke-width="0.2">Stress (0.5 mM AS 1 h)</text>
<rect x="297.6" y="694.1" width="137.7" height="122.89999999999998" fill="none" stroke="#222" stroke-width="1.1"/>
<line x1="295.1" y1="810.3" x2="297.6" y2="810.3" stroke="#231f20" stroke-width="1"/>
<text x="294.1" y="813.0999999999999" font-size="8" text-anchor="end" fill="#231f20" stroke="#231f20" stroke-width="0.2">0</text>
<line x1="295.1" y1="781.2199999999999" x2="297.6" y2="781.2199999999999" stroke="#231f20" stroke-width="1"/>
<text x="294.1" y="784.0199999999999" font-size="8" text-anchor="end" fill="#231f20" stroke="#231f20" stroke-width="0.2">1</text>
<line x1="295.1" y1="752.14" x2="297.6" y2="752.14" stroke="#231f20" stroke-width="1"/>
<text x="294.1" y="754.9399999999999" font-size="8" text-anchor="end" fill="#231f20" stroke="#231f20" stroke-width="0.2">2</text>
<line x1="295.1" y1="723.06" x2="297.6" y2="723.06" stroke="#231f20" stroke-width="1"/>
<text x="294.1" y="725.8599999999999" font-size="8" text-anchor="end" fill="#231f20" stroke="#231f20" stroke-width="0.2">3</text>
<line x1="295.1" y1="693.98" x2="297.6" y2="693.98" stroke="#231f20" stroke-width="1"/>
<text x="294.1" y="696.78" font-size="8" text-anchor="end" fill="#231f20" stroke="#231f20" stroke-width="0.2">4</text>
<line x1="297.5" y1="817" x2="297.5" y2="819.5" stroke="#231f20" stroke-width="1"/>
<text x="297.5" y="828" font-size="8" text-anchor="middle" fill="#231f20" stroke="#231f20" stroke-width="0.2">-10</text>
<line x1="331.95" y1="817" x2="331.95" y2="819.5" stroke="#231f20" stroke-width="1"/>
<text x="331.95" y="828" font-size="8" text-anchor="middle" fill="#231f20" stroke="#231f20" stroke-width="0.2">-5</text>
<line x1="366.4" y1="817" x2="366.4" y2="819.5" stroke="#231f20" stroke-width="1"/>
<text x="366.4" y="828" font-size="8" text-anchor="middle" fill="#231f20" stroke="#231f20" stroke-width="0.2">0</text>
<line x1="400.84999999999997" y1="817" x2="400.84999999999997" y2="819.5" stroke="#231f20" stroke-width="1"/>
<text x="400.84999999999997" y="828" font-size="8" text-anchor="middle" fill="#231f20" stroke="#231f20" stroke-width="0.2">5</text>
<line x1="435.29999999999995" y1="817" x2="435.29999999999995" y2="819.5" stroke="#231f20" stroke-width="1"/>
<text x="435.29999999999995" y="828" font-size="8" text-anchor="middle" fill="#231f20" stroke="#231f20" stroke-width="0.2">10</text>
<path d="M355.2 801.1h0M346.4 784.9h0M361.3 802h0M351.9 798.3h0M320.4 778.2h0M363.9 809.8h0M340.9 802.3h0M347.5 805.5h0M379.9 796h0M374 806.3h0M344.8 799.1h0M343.2 778.6h0M369.5 808.3h0M375.5 804.7h0M358.4 797.1h0M352.5 773.3h0M391.2 783.2h0M349.1 797.3h0M345.3 794.6h0M395.1 796.3h0M380.9 801.6h0M367.9 810.2h0M350.2 799.3h0M386.1 793.6h0M399.9 787.2h0M351 801.9h0M338.4 799.4h0M346.3 800.4h0M366.7 808.3h0M356.1 791.7h0M337.4 804.9h0M362.4 802.5h0M340.9 800.2h0M371.7 807.8h0M376.4 805.3h0M348.8 788.7h0M345.9 796.5h0M379 804.9h0M346.9 800h0M347.3 792.7h0M343.1 782.3h0M351.1 795.5h0M353.6 784.9h0M331.5 781.6h0M369.9 809.6h0M367.8 808.2h0M352 801.4h0M350.7 798.2h0M366.6 808h0M377.1 805.5h0M327.9 794.4h0M346.9 788h0M346.7 802h0M368 809.2h0M353.2 796.3h0M351.9 797.4h0M334.2 793h0M375.6 800.6h0M373.7 809h0M351.4 790.4h0M371.4 810.1h0M348.1 803.2h0M355.1 799h0M340.2 791.6h0M375.3 805.4h0M350.8 788.1h0M347.9 790.9h0M356.7 798.5h0M367.3 809.3h0M334.3 781.1h0M346.9 805.4h0M347.6 790.1h0M371 808.5h0M362.6 804.7h0M357 801.1h0M355.5 788.4h0M355.4 794.5h0M365.2 808.8h0M349 798.1h0M331.7 793.9h0M341.1 797.4h0M377 801.9h0M355.6 794.6h0M331.6 777.8h0M369.1 808.6h0M361.9 803.6h0M363.9 806.6h0M351.7 793.3h0M387.9 799.8h0M363.9 805.2h0M346.4 790.8h0M341.8 775.6h0M364.7 806.9h0M369.8 809.5h0M358.7 802.4h0M367.1 809.4h0M339.8 800.2h0M336.2 796.5h0M336.5 789.5h0M343.5 781.8h0M343.7 791.1h0M334.4 794.3h0M348.7 797.6h0M374.2 804.3h0M345.2 789.7h0M357.9 805.2h0M341.6 775.7h0M356.1 792.1h0M377.3 805.6h0M342.8 787.6h0M366.5 808.3h0M374.1 797.9h0M377.8 803.4h0M334.5 783.8h0M377.4 803.1h0M358 803.6h0M329.6 780.9h0M379 804.7h0M347.1 780.4h0M396.4 791.4h0M349.3 792.4h0M366.9 807.1h0M343.6 793.1h0M375.4 807.5h0M336.4 783.9h0M356 791.6h0M368 810h0M358.1 804.7h0M340.9 782.6h0M329.5 780.6h0M369.6 807.8h0M375.3 802.4h0M358.9 806.2h0M361.5 803.4h0M348.8 788h0M351.3 797.2h0M317.7 778.7h0M400.9 792.3h0M360.1 804.6h0M353.6 782.7h0M345 800.7h0M368.5 810.1h0M338.4 776h0M368.4 810.3h0M372.3 805.7h0M373.5 807.7h0M366.3 808.7h0M352.9 791.1h0M375.1 807.3h0M343.1 784.1h0M372.8 808.4h0M397.3 773.4h0M355.6 802.7h0M375.1 806.1h0M340 772.9h0M323.1 787.6h0M371 806.9h0M362.2 808.5h0M347.3 780.6h0M329.9 776.4h0M340 784.4h0M374.2 803.3h0M353.3 793.9h0M358.6 800.9h0M375.9 802.1h0M350.7 788.9h0M383.2 799.5h0M337.7 789.6h0M346.7 773h0M376.1 794.6h0M366.8 808.8h0M348 796.8h0M373.7 808.7h0M360.1 799.5h0M361.5 797.8h0M371.8 806h0M345.2 787.2h0M367.2 809.3h0M380.9 791.8h0M372 805.4h0M366.3 805.9h0M365.3 807h0M373.5 807.2h0M349.6 799.7h0M375 802.8h0M381.9 788.9h0M344.8 797.9h0M355.6 797.7h0M363.8 802.8h0M333.8 776.1h0M367.5 808.9h0M331.2 781.7h0M375.3 806.8h0M338.8 781h0M341.1 796.5h0M374.1 801.6h0M367.4 809.5h0M365.4 806.9h0M374.6 804.1h0M357.8 794.6h0M353 800.2h0M354.8 800.8h0M343.1 789.1h0M343.2 781h0M362 808.8h0M344.6 783.4h0M356.8 800.3h0M339 784.7h0M400.9 800.1h0M326.4 789.3h0M349.2 794.4h0M350.8 793h0M372.1 801.6h0M347.1 775.6h0M357.1 793h0M355.9 793.8h0M372 806.3h0M333.1 791.8h0M358.1 793.5h0M353.1 784.5h0M349.1 799.4h0M337.1 777.1h0M372 807h0M352.4 805.7h0M373 809.1h0M369.3 810.3h0M381.1 785.4h0M365.5 807.9h0M375.5 803.1h0M352.4 800.5h0M350.2 794.8h0M367.9 810.2h0M372.3 805.3h0M369.8 802.2h0M362.4 804.1h0M343.3 785.8h0M344.1 786.1h0M352.4 799.3h0M400.7 798.9h0M369.6 810.2h0M361.7 804.9h0M357.8 788.8h0M360.6 807.8h0M370.7 807.7h0M352.7 794.5h0M378.4 795h0M368.8 808.8h0M362.1 806.1h0M332.8 800.3h0M363.9 806.4h0M400.1 788.7h0M375.5 805.2h0M359.9 809.1h0M354.3 801.7h0M369.3 807.7h0M364.3 808.1h0M357.5 801.4h0M336.1 793.2h0M350.2 800.9h0M356.5 800.6h0M328.7 791.4h0M340.2 797.7h0M352.6 797h0M348.2 801h0M326 787h0M358.8 797.6h0M351.5 798.8h0M340.6 790.6h0M359.1 806.1h0M367.2 808.8h0M404.2 799.2h0M373.1 805.1h0M367.1 809.8h0M363.7 802.4h0M374.7 802.1h0M365.1 808.3h0M370 807.1h0M363.1 795h0M354.8 799.5h0M351 792h0M363.4 806.5h0M356.5 804.7h0M365.8 810.1h0M348.3 792.5h0M342.5 796.1h0M353.5 793.7h0M382.6 799.5h0M377.5 805h0M367.4 809.8h0M350.7 805.1h0M347.6 796.3h0M334.8 788.1h0M349 773.4h0M352.7 797h0M348.1 787.4h0M333.5 793.4h0M342.4 796.4h0M343.3 792.3h0M357.6 793.4h0M347.3 791.7h0M362.4 808.8h0M318.2 793.4h0M372 804h0M345.3 787.1h0M352.9 807.5h0M334.8 775.5h0M353.4 796.9h0M342.5 799.3h0M374.5 803.4h0M353.7 798.2h0M357.9 800h0M347.8 793.6h0M342.5 780.3h0M371.3 809.1h0M355.7 799.2h0M370.4 807.2h0M338.8 796.1h0M361.9 805.6h0M339 794.1h0M338.9 780h0M345.8 797.2h0M345.6 801.5h0M370.2 806.4h0M368.8 808.5h0M342.6 788.2h0M369.5 809.9h0M370.6 806.6h0M348.2 789.6h0M357 807.4h0M345.2 798.7h0M346.9 798.8h0M368.5 809.5h0M341.4 792.8h0M373.5 805.2h0M387.4 793.2h0M358.9 802h0M336.7 793.1h0M379 808h0M348.9 799.7h0M332.5 774.7h0M368.9 809.7h0M340.9 774.3h0M343.7 795.7h0M339.7 786.4h0M354.4 805.9h0M361.7 803.6h0M368.8 808.7h0M364.8 807.4h0M350.9 796.8h0M344.4 794.3h0M357.9 781.8h0M321.9 790.5h0M347.8 784.7h0M353.1 797h0M342.9 800.8h0M358.8 801.3h0M346.5 790h0M343.2 776.1h0M355.4 806.7h0M346.9 778.7h0M355.3 801.2h0M368.7 809.1h0M359.7 802h0M345.6 802.9h0M340.6 802.6h0M346.8 788.9h0M364.7 803.5h0M351.6 797.6h0M332.4 773.2h0M327.6 796.7h0M394.1 800.6h0M352.7 783.9h0M366.4 807.6h0M339.2 787.5h0M368.8 810.1h0M382.2 803.1h0M390.4 794.3h0M352.5 801.5h0M378.1 801.7h0M348.4 790.5h0M367.5 806.4h0M351.3 802.6h0M347 803.2h0M375.9 801.3h0M365.9 809.9h0M368.1 810.3h0M380.7 802.9h0M362.9 807.8h0M376 803.7h0M351.6 803.5h0M360.2 803.6h0M372.9 807.2h0M330.3 787.6h0M359.8 806.4h0M378 794.9h0M378.9 798h0M378.5 798.4h0M376.1 802.2h0M359.9 792.5h0M346.2 792.3h0M321.9 777.5h0M373.3 803h0M353.8 786.8h0M373.7 803.4h0M373.9 803h0M368 809.8h0M340.5 803h0M369 807.6h0M373.2 806.9h0M388.3 793.4h0M352.2 782.2h0M363.5 806.6h0M361.2 800.6h0M357.4 803.1h0M322.2 787.1h0M374.4 808.5h0M371.2 806.2h0M350.6 804.5h0M378 804.9h0M362.9 806.8h0M342.4 793.8h0M352.4 798.2h0M330.9 794.5h0M342.7 796.1h0M338.8 778.2h0M345.9 793.8h0M347.5 801.6h0M375.5 794.8h0M383.2 801.4h0M355.6 807.9h0M351.3 775.9h0M350.5 789.4h0M334.8 775.1h0M368.3 808.5h0M373.2 807.6h0M353.6 790.6h0M373.7 803.3h0M398.2 788.9h0M334.3 789.5h0M338.9 782.4h0M334.5 795.6h0M346.6 799.6h0M343 802.5h0M344.5 796.2h0M365 805.9h0M360 802.7h0M363.8 807.5h0M351.4 795.8h0M368.4 808.2h0M345.1 797.7h0M371.8 809.3h0M376.8 794h0M353 790.9h0M377.6 797.5h0M348.9 802.6h0M364.2 802.7h0M356.1 801.4h0M354.4 797.1h0M383.9 792.1h0M354.4 784.4h0M344.5 799.3h0M350.4 792h0M360.2 796.8h0M338.7 800.5h0M331.9 796.2h0M361.2 800.8h0M370.4 806.7h0M335.1 795.6h0M362.7 791.6h0M343.7 781.1h0M376 800.4h0M358.1 805.5h0M378.5 806.4h0M354 804.7h0M334.7 775.5h0M360.8 805.1h0M364.5 809.8h0M341 794h0M356.1 801.8h0M374.8 786.6h0M372.6 807.5h0M340.4 790.8h0M371.6 807.3h0M385.3 799.7h0M379.8 795.9h0M374.1 806.3h0M378.3 806h0M333.4 799.7h0M355.4 795.3h0M367.7 809.5h0M361.8 803.8h0M349.9 775.6h0M365.1 809.1h0M391.1 786.7h0M377.3 796.6h0M360.1 796.7h0M355 789.5h0M344.1 796.4h0M358.6 805.2h0M364.1 806.6h0M340.3 790.7h0M337.6 788.4h0M361.9 802.8h0M360 805.9h0M350.8 799.9h0M365.6 808.7h0M365 808.4h0M364.7 805.5h0M342.5 780.4h0M362.5 805.7h0M371.5 809.7h0M348.2 795.3h0M380 793.5h0M354.6 791.9h0M347.6 778.7h0M354.2 799.1h0M333.7 792.8h0M357.1 790h0M322.2 789.5h0M370.6 808.7h0M370.1 809.4h0M329.6 776.2h0M379.3 804.6h0M380 802.3h0M358.8 803.6h0M372.9 803.8h0M375 807.1h0M376 802.8h0M368.3 808.4h0M343.9 797.2h0M377.5 791.9h0M365.2 808.8h0M359.7 802.4h0M358.6 794.9h0M355.5 802.9h0M360.9 798.5h0M346.7 792.8h0M371.3 809.3h0M375.3 803.2h0M338.2 800.3h0M371.2 808h0M342.7 791h0M372 808.7h0M372.6 806.9h0M379.5 799.8h0M352.4 794.1h0M375.4 798.6h0M349.2 789.3h0M366.3 808.1h0M348.6 802.1h0M370.1 809.2h0M335 776.4h0M332.7 784.4h0M371.3 805.6h0M372.2 808.8h0M327.8 775.6h0M342.9 781.9h0M406.5 788.7h0M349.3 777.1h0M342.2 776.7h0M384.7 801.6h0M354.5 806.1h0M350.8 799.1h0M345.3 802.4h0M361.4 806.7h0M342.5 797.1h0M360.1 798.7h0M339.5 793.9h0M341.8 777.2h0M359.8 802.6h0M340.5 796h0M378.5 801.4h0M336 794.8h0M370.2 808.3h0M340.7 785h0M380.7 805.1h0M357.4 796.9h0M347.3 803.4h0M405.6 790h0M350.9 796.2h0M350.3 803.2h0M373.4 806.6h0M374.9 804h0M359.7 807h0M355.3 807.2h0M388.9 797.8h0M352.9 791.6h0M370.5 804.7h0M325.1 783.8h0M387.5 801.8h0M375.1 808.4h0M354.6 804.5h0M375.7 805.2h0M347.7 792.2h0M365 809.7h0M408.3 786.8h0M378.5 798.6h0M380.9 796.1h0M360.4 797.8h0M365.6 806.5h0M362.4 808.8h0M367.4 810.2h0M353.5 784.6h0M325.8 781.3h0M332.3 792.4h0M353.2 787.8h0M356 802.7h0M369.7 808.6h0M337.2 790.9h0M365.5 807.5h0M363.1 803.6h0M338.7 781.9h0M347.6 798.7h0M355.2 804.4h0M342.2 780h0M341.9 794.2h0M345.1 802.4h0M378.8 805.9h0M366.8 808.8h0M341.2 803.6h0M366.9 807h0M361.8 806.6h0M382.3 802.6h0M374 803.4h0M365.5 807h0M373.8 808.9h0M362.8 806.8h0M372.5 802.5h0M333.3 780.7h0M377.1 804.6h0M342.1 793.3h0M367 809.6h0M363.2 806.5h0M368.5 809.1h0M343 788.9h0M371.5 804.7h0M359.2 798.4h0M380.2 800h0M372.1 806.2h0M350.5 788.7h0M334.9 801.4h0M386.4 795.1h0M367.4 808.3h0M338.3 782.9h0M362.3 806.1h0M353.1 792.3h0M344.3 801.4h0M352.2 794.9h0M344.6 790.6h0M336.6 778.5h0M376.7 803.7h0M350 785.8h0M369.5 810.2h0M307.2 788.6h0M331.3 774.5h0M356.7 807.8h0M360.3 799.6h0M341.6 798.2h0M380.2 794h0M343.4 800.1h0M339 788h0M344.7 800.6h0M363 806.7h0M387 791.1h0M351.8 799.4h0M366.1 808.2h0M367.5 809.6h0M345.8 797.6h0M351.6 800.3h0M384.1 800.1h0M356.3 796.4h0M347.5 794.5h0M349.5 789.8h0M361.1 802.7h0M351.7 795.1h0M352.1 779.3h0M377.9 807h0M374 800.4h0M350.8 787.6h0M355.5 783.2h0M372.3 808.4h0M364.4 808.4h0M376.1 808h0M361 805.5h0M348.9 787h0M342.3 774.8h0M356.9 801h0M355 802.7h0M347.8 784.5h0M345 792.2h0M342.9 779.4h0M363.8 807.5h0M347.8 792.1h0M338.8 776.3h0M341 778.4h0M362.4 806.4h0M336.4 782.9h0M356.5 794.4h0M354.6 805.5h0M337.1 785h0M362.8 809h0M381.9 797.5h0M342.3 789.1h0M345.5 787.9h0M354.5 796.6h0M341.9 794.9h0M354.6 810.3h0M370.6 805.5h0M362.7 806.4h0M363 804.2h0M366.9 809.2h0M358.6 780.1h0M384.1 789.8h0M368.8 808.9h0M338.2 790.4h0M381.6 804.5h0M336.8 794.5h0M370.5 807.8h0M376 781.6h0M367.4 808.6h0M342.7 776.7h0M370.6 809h0M346.7 803.4h0M383.2 784.5h0M344.2 790h0M368.8 808h0M368.6 809.9h0M367.4 808.9h0M359.7 799.3h0M358.2 803h0M367.4 809.9h0M371.6 809.4h0M348.9 796.2h0M369.4 808.5h0M342 792.5h0M344.7 790.8h0M331.1 786.2h0M338.8 775.2h0M378.4 807.9h0M365 808.8h0M334.5 801.7h0M371.6 809.5h0M365.4 808.6h0M344.6 797.4h0M335.4 783.6h0M378.9 806.3h0M346.5 799.4h0M347.5 785.9h0M355.7 802.8h0M355.6 804.3h0M376.1 802.9h0M374.8 804.5h0M357.9 802.1h0M355.2 796.8h0M355.7 787.6h0M367.9 808.1h0M368.1 810h0M331.8 782.5h0M370.2 808.3h0M356.5 797.4h0M340.7 786.4h0M345.6 801.6h0M365.6 807.5h0M369.8 810h0M351.7 791.6h0M367.9 809.1h0M370.1 807.9h0M343 779.4h0M391.8 789.1h0M344 772.9h0M366.9 808.7h0M338.9 793.3h0M381.5 795.1h0M339.6 784.2h0M348.6 792.5h0M379.2 798.4h0M378 795.4h0M364 806.9h0M353 793.9h0M381.6 795.6h0M375.3 810.2h0M348.4 785.4h0M373.1 808.2h0M337.3 786.2h0M351.6 799.3h0M346.6 792h0M343.4 806.3h0M356.6 803.8h0M346.7 786h0M344.6 792.9h0M367.6 808.8h0M368.7 809.3h0M340.7 790.2h0M370.3 806h0M345.1 802.3h0M370.8 810h0M352.5 792.2h0M375.9 801.4h0M373.8 808.2h0M377.4 796.5h0M358.2 798.7h0M351.7 783.1h0M360.6 808.3h0M333.2 802.5h0M337.7 782.8h0M358.6 805.2h0M360.8 806.1h0M332.7 795.1h0M329 799.4h0M353.9 793.9h0M346.2 786.5h0M357.3 798.5h0M368.4 809.2h0M378.7 794.5h0M330.8 781.3h0M387.8 791.4h0M343.1 781.4h0M339.4 791.2h0M361.5 809h0M342.3 772.7h0M358 793.1h0M375.1 808.6h0M333.4 786.7h0M346.9 784.6h0M330.9 789.6h0M349.2 796.7h0M354.2 788.1h0M344.6 798.3h0M333.7 786.4h0M374.9 805.3h0M344.4 776.6h0M337.2 788.3h0M359.3 807.2h0M354.1 787.1h0M353.7 781.9h0M372.8 804.6h0M345.2 790.4h0M354.8 801.9h0M370.5 809.4h0M338.2 792.4h0M373.5 808.3h0M376.6 805.4h0M367 806.4h0M360 801.7h0M350.3 792.6h0M350.8 791.1h0M371.2 808.5h0M344.3 790.5h0M334.5 793.5h0M353.1 802.4h0M335.4 789.4h0M341.4 778h0M342.6 785.4h0M358.8 801.7h0M379.3 794.7h0M358.9 808.5h0M345.9 796.1h0M377.1 795.6h0M346 780.6h0M363.6 805.9h0M321 788.1h0M328.9 801.5h0M366.5 808.3h0M350.9 781.8h0M364 804.4h0M349.4 776.9h0M356.6 792.5h0M365.9 809.4h0M389 792.1h0M345.1 794.3h0M346 798.4h0M351.2 791.5h0M363.3 808.1h0M345.8 797.7h0M333.1 779.7h0M373.5 809.1h0M378 802.7h0M349 784h0M371 805.2h0M407.9 780.2h0M332.9 789.1h0M336.2 777.6h0M373.1 807.8h0M373.6 804.6h0M373.1 806.5h0M356.9 797h0M346.9 804.4h0M371.2 808.2h0M370.9 808.9h0M332.2 787.1h0M350.5 793h0M397.1 777.2h0M338.5 780.6h0M368.7 810.2h0M324.9 780.7h0M358.2 804.2h0M347.7 790.6h0M350.9 802.5h0M340.5 783.3h0M354.4 792.6h0M338.2 796.9h0M351.6 788.7h0M335.8 774.3h0M353.9 794.7h0M369.5 808.4h0M343.2 774.5h0M371.3 806.9h0M374 806.9h0M342.4 796.2h0M368.1 810.1h0M349.3 789h0M367.1 809.4h0M371.6 806.6h0M377.5 802.4h0M377.3 796.5h0M345.6 787.5h0M378 798.3h0M336 785.3h0M368.4 810.1h0M370.4 806.7h0M333.9 791h0M354.7 802.6h0M399.8 796.8h0M356.6 792h0M379.5 799.4h0M375.3 807.6h0M383 799.5h0M350.2 783.5h0M345 798.1h0M372 809.5h0M365.3 805.4h0M355.3 804.5h0M360.4 808.2h0M336 784.5h0M375.3 807.1h0M374.1 807.2h0M347.5 803.6h0M362.5 804.2h0M370.7 807.9h0M346.9 793.4h0M349.1 788.6h0M372 806.4h0M351.2 801h0M341.5 796.8h0M362.2 804.1h0M344.8 793.7h0M379.3 803.3h0M341 783.9h0M337 776h0M364.9 808.8h0" stroke="#676767" stroke-width="2" stroke-linecap="round"/>
<line x1="359.51" y1="694.1" x2="359.51" y2="817" stroke="#222" stroke-width="1" stroke-dasharray="1.5,1.5"/>
<line x1="373.28999999999996" y1="694.1" x2="373.28999999999996" y2="817" stroke="#222" stroke-width="1" stroke-dasharray="1.5,1.5"/>
<line x1="297.6" y1="772.496" x2="435.3" y2="772.496" stroke="#222" stroke-width="1" stroke-dasharray="1.5,1.5"/>
<path d="M367.8 766.7h0M363 743.4h0M362.3 752.1h0M372.6 756.5h0M364.3 768.1h0M369.8 771h0" stroke="#676767" stroke-width="2" stroke-linecap="round"/>
<path d="M341.6 717.2h0M358.8 728.9h0M358.8 734.7h0M358.1 739.1h0M356.8 740.5h0M358.8 743.4h0M349.9 740.5h0M334.7 740.5h0M312.7 743.4h0M343 747.8h0M337.5 747.8h0M343.7 752.1h0M358.1 750.7h0M356.1 749.2h0M336.8 755h0M338.2 756.5h0M313.3 755h0M311.3 756.5h0M357.4 755h0M352.6 759.4h0M355.4 760.9h0M351.2 762.3h0M323.7 763.8h0M331.9 763.8h0M334.7 763.8h0M348.5 763.8h0M356.1 765.2h0M352.6 766.7h0M340.2 768.1h0M338.8 771h0M349.9 772.5h0M345 771h0M334 772.5h0M336.1 771.9h0M355.4 771.6h0M347.1 772.5h0" stroke="#17708a" stroke-width="3.5" stroke-linecap="round"/>
<path d="M378.8 731.8h0M379.5 750.7h0M377.4 759.4h0M378.8 762.3h0M396 760.9h0" stroke="#e01b1b" stroke-width="3.5" stroke-linecap="round"/>
<text x="284.5" y="760" font-size="8" text-anchor="middle" fill="#231f20" transform="rotate(-90 284.5 760)" stroke="#231f20" stroke-width="0.2">-Log<tspan font-size="5" dy="2">10</tspan><tspan dy="-2">(p-value)</tspan></text>
<text x="366.8" y="838.6" font-size="7.6" text-anchor="middle" fill="#231f20" stroke="#231f20" stroke-width="0.2">Log2FC(K512R/WT)</text>
<text x="474.7" y="693.5" font-size="15" text-anchor="start" font-weight="bold" fill="#2a1a14" stroke="#2a1a14" stroke-width="0.2">h</text>
<text x="564.6" y="679.5" font-size="8.9" text-anchor="middle" fill="#231f20" stroke="#231f20" stroke-width="0.2">Recovery</text>
<text x="564.6" y="690.8" font-size="8.9" text-anchor="middle" fill="#231f20" stroke="#231f20" stroke-width="0.2">(0.5 mM AS 1 h &amp; 90 min Recovery)</text>
<rect x="497.6" y="693.5" width="133.39999999999998" height="121.79999999999995" fill="none" stroke="#222" stroke-width="1.1"/>
<line x1="495.1" y1="809.7" x2="497.6" y2="809.7" stroke="#231f20" stroke-width="1"/>
<text x="494.1" y="812.5" font-size="8" text-anchor="end" fill="#231f20" stroke="#231f20" stroke-width="0.2">0</text>
<line x1="495.1" y1="780.6500000000001" x2="497.6" y2="780.6500000000001" stroke="#231f20" stroke-width="1"/>
<text x="494.1" y="783.45" font-size="8" text-anchor="end" fill="#231f20" stroke="#231f20" stroke-width="0.2">1</text>
<line x1="495.1" y1="751.6" x2="497.6" y2="751.6" stroke="#231f20" stroke-width="1"/>
<text x="494.1" y="754.4" font-size="8" text-anchor="end" fill="#231f20" stroke="#231f20" stroke-width="0.2">2</text>
<line x1="495.1" y1="722.5500000000001" x2="497.6" y2="722.5500000000001" stroke="#231f20" stroke-width="1"/>
<text x="494.1" y="725.35" font-size="8" text-anchor="end" fill="#231f20" stroke="#231f20" stroke-width="0.2">3</text>
<line x1="495.1" y1="693.5" x2="497.6" y2="693.5" stroke="#231f20" stroke-width="1"/>
<text x="494.1" y="696.3" font-size="8" text-anchor="end" fill="#231f20" stroke="#231f20" stroke-width="0.2">4</text>
<line x1="497.50000000000006" y1="815.3" x2="497.50000000000006" y2="817.8" stroke="#231f20" stroke-width="1"/>
<text x="497.50000000000006" y="826.3" font-size="8" text-anchor="middle" fill="#231f20" stroke="#231f20" stroke-width="0.2">-10</text>
<line x1="530.85" y1="815.3" x2="530.85" y2="817.8" stroke="#231f20" stroke-width="1"/>
<text x="530.85" y="826.3" font-size="8" text-anchor="middle" fill="#231f20" stroke="#231f20" stroke-width="0.2">-5</text>
<line x1="564.2" y1="815.3" x2="564.2" y2="817.8" stroke="#231f20" stroke-width="1"/>
<text x="564.2" y="826.3" font-size="8" text-anchor="middle" fill="#231f20" stroke="#231f20" stroke-width="0.2">0</text>
<line x1="597.5500000000001" y1="815.3" x2="597.5500000000001" y2="817.8" stroke="#231f20" stroke-width="1"/>
<text x="597.5500000000001" y="826.3" font-size="8" text-anchor="middle" fill="#231f20" stroke="#231f20" stroke-width="0.2">5</text>
<line x1="630.9000000000001" y1="815.3" x2="630.9000000000001" y2="817.8" stroke="#231f20" stroke-width="1"/>
<text x="630.9000000000001" y="826.3" font-size="8" text-anchor="middle" fill="#231f20" stroke="#231f20" stroke-width="0.2">10</text>
<path d="M539.2 783.8h0M560.5 789.4h0M574.3 790.5h0M573.5 799.3h0M558.4 801.3h0M542.5 788.9h0M556.9 800.9h0M557.3 798h0M561.8 804.7h0M562.9 799.8h0M563.1 807.4h0M556.4 799.3h0M563.3 807.4h0M562.1 794.9h0M580.6 776.1h0M570.6 791.1h0M572.1 795.5h0M565.3 792.6h0M571.3 794h0M562.5 799.5h0M567.6 797.5h0M559 805.2h0M572.9 797.8h0M567.4 798.1h0M560 800.7h0M563.4 799.5h0M562.3 805.8h0M569.9 785.6h0M559.1 780.4h0M567.9 805.2h0M571.4 794.1h0M555.8 802.8h0M545.3 780.2h0M558.2 793.3h0M564.6 799.3h0M558.5 804.7h0M564.4 801.7h0M570.9 802.9h0M559 795.6h0M564.5 808h0M552.2 795.5h0M551.5 796.6h0M566.3 797h0M562.9 803.2h0M556.4 796.7h0M568.2 796.2h0M577.5 799.5h0M555.9 786h0M561.5 804.2h0M561.3 794.5h0M562.5 802.8h0M569.8 795.7h0M553.3 799.5h0M548.9 794.2h0M564.8 805.9h0M571.7 780.7h0M554.7 793.2h0M561.1 796.3h0M564.5 803.8h0M563.6 806.7h0M556.3 806.2h0M560.4 805.8h0M561.5 806.8h0M558.6 804h0M566.5 799.1h0M560 806.9h0M557.7 800.1h0M556.2 794.5h0M566.1 795.1h0M543 798.2h0M557.9 806.8h0M560.8 799.6h0M564.6 799.5h0M571.2 801.5h0M566.1 803.8h0M562.1 801.7h0M559 805.9h0M558.7 800.7h0M556 792.8h0M570.6 792.5h0M556.4 807.1h0M556.8 803.6h0M572 786.7h0M543 783.1h0M557.3 800h0M550.5 791.9h0M573.6 800.4h0M557.1 799.6h0M560 797.6h0M557.8 785.6h0M563 806.3h0M569.8 801.9h0M560.7 804.4h0M566.7 791h0M546.9 796.7h0M568 795.2h0M558.7 803h0M562.7 788.4h0M572.2 793.5h0M559.3 784.7h0M567.1 800.3h0M564.9 796.7h0M572.6 805.4h0M560.4 801.6h0M559.1 798.5h0M561.8 803.9h0M572.7 785.2h0M551.2 787.9h0M559.8 801.3h0M559.1 794.7h0M554.9 790.7h0M578.4 783.6h0M538.4 780.4h0M561.1 795.1h0M564.9 803.8h0M566.4 796.8h0M559.1 794.1h0M564.7 802h0M551.6 783.2h0M565.4 800.7h0M566.9 800.4h0M567.6 796.9h0M595.5 773.5h0M566.8 803.9h0M558 800.7h0M574.3 792.5h0M558.2 789.1h0M550.4 781h0M573.8 798.1h0M562.7 808.1h0M553.5 794.4h0M557.5 799.7h0M556.8 790.4h0M574.2 786.9h0M572.3 796.8h0M571.4 791.9h0M566.1 793.8h0M560.6 792.9h0M558.2 798.1h0M563.2 809.4h0M549.9 784.2h0M546.8 789.3h0M562.1 802.9h0M562.1 801h0M559.2 802.6h0M552.5 789.9h0M574.6 783.2h0M567.9 799.8h0M575.1 796.9h0M564 808.7h0M560.8 802.2h0M561.2 801.8h0M556.3 798.9h0M575.7 789.3h0M555.3 796h0M562.4 808.3h0M568.1 799.3h0M562.7 797.5h0M567.2 798.7h0M567.3 799h0M575 796h0M571.3 779.8h0M559.2 803h0M573.1 786.5h0M559.7 800.7h0M565.5 795h0M568.1 800.4h0M556.7 789.2h0M572.4 803.5h0M558.6 797.4h0M554 786.1h0M565.2 801.3h0M585.1 784.5h0M564.9 803.1h0M563.5 806.2h0M574.8 795.7h0M552.3 793.1h0M597 784.8h0M562.2 807.4h0M580.7 779.8h0M564.2 803.6h0M568.2 784.8h0M553.1 799.8h0M554.9 793.2h0M553.1 793h0M561.6 801.3h0M560.8 803.2h0M574.7 803h0M550.2 800.7h0M560.8 804.7h0M571.2 801.9h0M559.1 802.9h0M565.7 792.5h0M552.1 794.8h0M563.6 794.3h0M564.3 803.7h0M560 782.7h0M547.4 788.7h0M553.6 790.5h0M563.6 804.3h0M560.9 805.1h0M581.8 794.3h0M549.6 784.5h0M561.6 807.7h0M569.5 800.5h0M571.7 778h0M541 773.7h0M554.3 790.9h0M557 792.1h0M573.5 799.5h0M560.6 804.8h0M548 800.7h0M559 800.7h0M552.9 801.3h0M566.2 807.9h0M560.4 791.5h0M565.7 787h0M578 780.7h0M548.2 783.7h0M571.4 806h0M569.5 794.1h0M565.7 808.3h0M560.6 799.6h0M560.5 806.3h0M567.5 791.7h0M557.9 784.8h0M562.6 805.6h0M572.4 784h0M560.9 808.1h0M552.4 799.9h0M565.4 807.5h0M583.1 779.4h0M564.9 801.1h0M544.2 787.9h0M556.5 801.3h0M563.3 806.2h0M564.9 800.7h0M550.3 796.5h0M558.9 802.8h0M568.7 803.6h0M577.2 796.6h0M556.1 795.3h0M559 800.3h0M559 800.3h0M552.7 778.6h0M562.8 806.5h0M565.3 795.1h0M546 782.9h0M574.1 794.1h0M552.8 780.3h0M560.6 799.1h0M590 774.3h0M556.9 802.4h0M551.6 798.9h0M563.3 807.7h0M565.9 782.8h0M540.1 786.9h0M560.6 804h0M570.6 802.5h0M556.5 797h0M559.6 790.9h0M565.1 798.7h0M555.6 797.1h0M547.8 788.8h0M569 800.6h0M568.4 793.2h0M551.8 790.3h0M562.8 801.5h0M561.1 803.2h0M573 800.8h0M562.1 802.1h0M564.3 802.7h0M566 787.7h0M567.5 795.2h0M549.7 799.6h0M579.8 789.5h0M564.4 785.3h0M559.5 805.5h0M557.7 804.5h0M554.9 791.2h0M554.2 791.5h0M552.1 780.6h0M562.8 806.1h0M549.4 803.2h0M562.3 806h0M555.3 794.8h0M545.8 776.9h0M559.8 802.4h0M555.4 798.2h0M567.6 800.8h0M551.5 774.3h0M572.8 793.2h0M558.2 802h0M566.7 808.3h0M558.9 798.6h0M567.3 795.4h0M565.3 802.4h0M567.7 796h0M566.9 800.7h0M573.6 803.3h0M564.9 800.8h0M548.1 783.7h0M566.4 789.5h0M577 790h0M568.7 799.4h0M559.2 797.3h0M566.6 796.4h0M561.1 793.4h0M556.7 788.3h0M574 782h0M590.6 777.2h0M555.2 798.9h0M540 789.7h0M570.4 797.5h0M577.3 776.6h0M550.6 791.7h0M560 789.9h0M568.8 804h0M555.2 797.2h0M559.7 799.5h0M581.6 784.1h0M572.2 800.3h0M572.5 772h0M562.4 795.2h0M569.2 791.5h0M565.1 796.1h0M547.7 788.5h0M562.4 794.7h0M560.8 792.5h0M567.3 804.7h0M564.8 804.6h0M560 803.4h0M566.6 794h0M557 800.6h0M561 796.8h0M555 794.2h0M569.5 779.9h0M546.4 792.4h0M558 804h0M560.7 805.6h0M560.1 802.4h0M559.6 806.1h0M555.4 791.2h0M567.5 805.1h0M555.8 801.1h0M567.1 805.1h0M564.5 805.6h0M561.9 799.4h0M566.5 801.8h0M552.8 796.6h0M569.6 792.5h0M556.3 780.5h0M553.7 799.1h0M589.9 789.5h0M562.2 806.1h0M547.5 784.2h0M566.7 796.3h0M557.9 791.5h0M551.1 789.7h0M569.7 775.6h0M582.3 772.2h0M561.1 798.6h0M571.7 795.7h0M557.8 787.5h0M566.7 795.1h0M565 805.6h0M543.9 789h0M570.9 800.4h0M550.3 800.3h0M565.5 786h0M566.6 804.7h0M564.4 801.6h0M565.5 808.1h0M554.9 784h0M564 806.5h0M568 784.2h0M570.1 794.2h0M585.9 786.9h0M569 792.1h0M554 792.2h0M566.3 801.2h0M571.2 795.2h0M556.2 794.2h0M566.2 805.6h0M581.3 782.2h0M561 805.5h0M565 807.5h0M547.1 783.5h0M550.6 798.3h0M561.4 797h0M565.9 795.2h0M533 787.5h0M562.7 805.2h0M558.6 794.9h0M555.2 795.9h0M557.8 793.5h0M564.1 806.4h0M545.5 793.4h0M569.4 796.9h0M556.8 795.2h0M563.5 805.5h0M563.6 808h0M567.6 787h0M563.8 807.4h0M557.7 794.4h0M564.3 798.4h0M557.8 777.6h0M557.3 799.6h0M572.9 799.8h0M560.9 797.1h0M557.5 796.5h0M560.3 799.6h0M574.5 795.3h0M557.5 798.8h0M570.7 797.2h0M552.2 799.4h0M572.9 784.5h0M574.3 795.2h0M593.5 781.1h0M564.1 796.4h0M563.4 802.9h0M563.4 805.1h0M568.7 795.8h0M561.9 798.5h0M555 791.8h0M563.1 808.8h0M550.2 787.6h0M558.6 792.8h0M566 790.1h0M563.2 801.2h0M562.7 798.6h0M574.8 780.1h0M564.2 804.9h0M561.7 795.1h0M568.4 788.9h0M573.8 789.7h0M562.4 801.9h0M563.2 798.5h0M566.4 802.1h0M571.6 800.2h0M556.4 794h0M558 792.5h0M569.1 800.9h0M563 806.6h0M589.3 796.3h0M566.3 798.3h0M552.5 791.8h0M566.7 791.4h0M553.1 789.2h0M568.3 790.8h0M558 802.5h0M564.6 803.6h0M562.6 802.1h0M562 802.7h0M583 786.5h0M564.4 804.3h0M555.4 779.7h0M545.7 799.7h0M576 793.4h0M561 792.5h0M545.3 796.8h0M548.3 797.2h0M586.8 804.2h0M558.6 790.1h0M565 807.3h0M563.2 805.6h0M558.7 802.1h0M558.9 779.7h0M566.2 802.9h0M558.5 803.4h0M570.7 796h0M569.3 800.2h0M557.6 803.4h0M561.7 801h0M569.5 792.4h0M555.1 792.5h0M572.6 794.2h0M566 798.4h0M573.9 791.8h0M554.5 798.2h0M556.8 800h0M557.2 796.8h0M563.3 801.7h0M566.7 804.1h0M575.6 801.8h0M555.7 796.4h0M563.8 800.8h0M565.8 804.4h0M560 800h0M562.6 794.3h0M572.9 789.6h0M566.7 795.4h0M559.1 805.1h0M557.8 781.7h0M565.6 795.8h0M560.3 799.1h0M555.6 801.8h0M534.1 777.5h0M561.8 792.3h0M563.2 800.7h0M555.5 802.6h0M544.9 791h0M559.2 798.4h0M555.6 798.4h0M573.5 799.6h0M552.3 797.3h0M567.6 788.2h0M564.3 806h0M555.7 791.1h0M555.1 795.7h0M561.8 794h0M556.3 803.2h0M562.9 806.7h0M572.2 784.4h0M567.3 803h0M573.4 801.2h0M562.6 797.9h0M559.1 791.6h0M571.1 788.3h0M564.2 808.2h0M573.5 803.2h0M562 800.4h0M551.8 777.8h0M559.5 800.4h0M551.2 800.6h0M575 805.9h0M579.2 778.2h0M570.4 785.1h0M564.4 807.6h0M560.2 788.7h0M547.9 790.2h0M557.5 799.8h0M565.8 798.9h0M559.1 797.3h0M568.1 796h0M570.7 800.8h0M559.4 798.6h0M559.1 797.4h0M569.3 789.9h0M561.6 796.2h0M555.7 800.8h0M560.1 800.6h0M568.9 791.7h0M570.6 798.5h0M564.8 806.1h0M571.4 782.5h0M562.1 793.6h0M563.3 788.4h0M562.6 791h0M580 795.4h0M559.3 796h0M564.2 808.7h0M564.6 796.3h0M555.3 790.7h0M570.8 801.5h0M568.4 800.8h0M583.8 793.4h0M566.5 804.9h0M563.5 807.4h0M536.4 785.2h0M564.4 797.7h0M570 783.7h0M556.6 788.7h0M551 790.2h0M573.9 793.6h0M562 805.6h0M556.9 795.5h0M578.1 788.4h0M566.3 791.1h0M564.5 796.4h0M567.2 806.2h0M562.2 801.6h0M558.1 803.8h0M573.4 787.7h0M551.8 787.7h0M551.1 797.6h0M571.1 789.3h0M565.2 794.7h0M567.6 789.8h0M561.3 803.7h0M574.9 778.6h0M570.6 786.1h0M555.9 794.2h0M565.4 794.5h0M555.1 793h0M549.3 796.9h0M562.2 799.6h0M572.8 790.6h0M551.6 782.2h0M566 802.8h0M573.7 795.9h0M555.8 782.3h0M562.7 808.6h0M559.9 802.4h0M580.5 795h0M554.4 796.7h0M579.7 785.6h0M569.8 795.2h0M579.4 786.6h0M554.2 801.6h0M560.7 801.1h0M553.6 779.8h0M570.6 782h0M561.4 799.1h0M561.2 793.8h0M562.5 805.4h0M567.4 806.7h0M558.3 787.1h0M550.9 792.9h0M549.6 789.1h0M552.9 799.7h0M546.9 792.5h0M561.8 805.6h0M565.4 805.8h0M565.2 801.6h0M560.5 803.3h0M573.8 785.8h0M560.7 802.1h0M562.6 803.1h0M566.1 800.5h0M572.5 784.7h0M564.4 795.1h0M555.6 795.5h0M557.3 801.6h0M559 804.1h0M555.6 797h0M562.4 801.9h0M538.5 793.9h0M562.4 805.3h0M566.9 804.6h0M564.3 803.5h0M569.1 800.8h0M555.5 787.1h0M558.6 799.7h0M561.1 795.9h0M560.6 799.5h0M552.6 786.2h0M563 799.6h0M574.7 788.8h0M569.6 794.8h0M564.3 806.5h0M561.2 799.3h0M548.2 789.1h0M565.8 801.5h0M555.8 791h0M564.2 804.6h0M570.1 799.4h0M566.1 802.5h0M578.3 781.2h0M563.7 798.6h0M585.3 775.5h0M551.2 783.9h0M561.8 805.6h0M565 787.3h0M566.2 793.9h0M557.6 800.3h0M554.1 794.7h0M555.4 797.2h0M560.4 801.6h0M554.7 791.3h0M564.6 795.5h0M559.4 804h0M558.7 800.1h0M576.9 804.3h0M555.8 801.4h0M560.3 802.2h0M559.6 798.1h0M569 797.4h0M567.1 794h0M569 792.7h0M564.9 805.5h0M567.5 796.9h0M541.8 774.9h0M561 806.2h0M563.9 796.2h0M556.7 804.7h0M552.9 790.5h0M556.6 798.2h0M553.8 791.4h0M572.2 800.6h0M555.8 782.4h0M556 788.4h0M549.5 787.7h0M569.3 798.4h0M553.1 793.1h0M568.7 794.8h0M550.1 801.3h0M583 797h0M565.2 803.6h0M555.5 774.5h0M562.9 804.5h0M555.1 788h0M562.6 805.4h0M559.4 800h0M558.4 802.4h0M569.6 800.7h0M538.4 783.3h0M557.6 804.9h0M566.7 799.8h0M567.5 796.2h0M558.1 803.9h0M571.3 799.1h0M565.1 792.5h0M560.2 806.9h0M557.6 803h0M552.1 802.5h0M555 795.5h0M551.7 795.2h0M577.6 795.8h0M559.1 797.7h0M551.5 798.3h0M564.2 807.6h0M566.1 786h0M571.4 801.6h0M556.3 791.3h0M560.2 803.6h0M570.7 795.6h0M579.5 791.3h0M559.1 803.7h0M544.8 793.2h0M550.3 790h0M564.5 802.1h0M560.4 804.5h0M556.8 801.5h0M562.6 799.8h0M549.5 796h0M571.5 796.1h0M560 804.1h0M555 790.7h0M567.9 793.1h0M570.7 799.4h0M566.6 803.3h0M549.4 792.6h0M558.6 802.9h0M561.1 799.9h0M563.3 805.1h0M562.1 789.6h0M564.9 806.3h0M565.4 784.9h0M575.3 782.7h0M578.2 787.1h0M558 795.5h0M560 798.9h0M563.9 792.1h0M574.2 798.3h0M565.6 808.1h0M563.5 804.9h0M562.5 804.1h0M554.7 794.1h0M570.2 801.7h0M562.8 804.1h0M560.3 796.9h0M553.7 785.9h0M552.3 781.7h0M570.7 803h0M556.3 796.3h0M566.1 804.6h0M571.9 802.5h0M556.6 799.2h0M579.8 796h0M567.1 797.4h0M558.5 805.1h0M560.7 807.2h0M566.9 804.2h0M573.3 793.8h0M547.4 784.4h0M560.3 800h0M549.2 778.5h0M554.1 778.3h0M561 791.5h0M562.4 808.9h0M533.4 782.4h0M557.6 804.2h0M555.8 791.6h0M552.7 795.9h0M568.1 804.7h0M555.8 801.1h0M568.6 788.6h0M572.3 798.5h0M561.5 793.4h0M561 802.4h0M561.7 800.6h0M569.4 795.3h0M560.1 799.6h0M553.6 805.6h0M552.9 797.1h0M577.6 784.9h0M554.1 789.9h0M544.8 788.1h0M560.4 805.3h0M563.5 808.1h0M560.6 796.8h0M568.8 793.8h0M572 797.1h0M557.9 792.7h0M555 786.8h0M550.8 792.5h0M549.9 796.7h0M563.8 807.4h0M573.2 788.9h0M560.6 804.6h0M565.7 801.1h0M570.4 793.9h0M549.4 797.7h0M569.3 796.7h0M562.6 801.6h0M567.3 801.3h0M565.5 798h0M551.3 794.5h0M578.1 784.7h0M565.1 803.8h0M545.2 791.7h0M562.7 808.7h0M587.1 797.6h0M554.8 801h0M560.8 807h0M548.1 778.4h0M551.5 799h0M548 791.3h0M565 793.8h0M560.3 804.6h0M567.9 782.4h0M561.9 798.4h0M571 790.9h0M559.4 793.3h0M558.5 801.5h0M559.7 798h0M564.2 802.4h0M553.9 790.6h0M556.1 803.1h0M565.5 799.9h0M574.4 791.6h0M559.3 799h0M547.4 785.8h0M549.3 795.6h0M566.8 802.9h0M558.7 801.6h0M556.9 805h0M577 787.8h0M558.9 800.5h0M559.4 803.9h0M567 795.4h0M552 786.9h0M562.2 799.7h0M566.6 798.3h0M561 803.4h0M565 797.2h0M559.6 799.9h0M564 793.4h0M560.2 787.4h0M564.1 807.5h0M577 778.3h0M552.4 779.4h0M554.2 799.8h0M542.5 773.1h0M560.8 795.4h0M565.5 805.9h0M550.3 787.1h0M577.5 789.3h0M558.8 789.5h0M558 798.2h0M556.2 794.4h0M570.4 799.1h0M566.7 805.3h0M553.6 797.5h0M559.3 791.8h0M561.3 804.6h0M545.7 800.5h0M556.3 788.6h0M566.1 799.5h0M567 802.9h0M561 804h0M577.8 788.1h0M557.2 795.9h0M564.6 795h0M566.2 797.3h0M548.5 793.3h0M573.5 797.7h0M555.1 775.7h0M559.5 798.5h0M572.9 801.9h0M565.5 793.8h0M566.6 805.3h0M570 793.2h0M574.2 775h0M551.1 785.7h0M560.7 796.1h0M566.6 801.1h0M560.4 806.3h0M563.6 805.7h0M556.5 803.4h0M568.3 798h0M537 781.7h0M546.8 793.6h0M564.9 804.5h0M566.4 798.6h0M558.8 801.3h0M568.9 795.8h0M571.6 789.3h0M554.7 801.9h0M561.3 807.4h0M556.6 804h0M571.1 799.3h0M565.5 801.2h0M570.4 799.4h0M559.1 804.1h0M569.2 801.2h0M555.5 802.4h0M563.7 795.5h0M551.9 796.4h0M571.9 793.9h0M554.2 802.9h0M567.1 801h0M565.8 799.2h0M567.7 797.9h0M566 799.9h0M558.4 798.6h0M564.5 799.3h0M551.9 796.4h0M581.9 779.8h0M563.4 803.4h0M559.4 804.7h0M569.2 803.2h0M563.3 802.4h0M562.2 803.3h0M570.4 795.5h0M565.5 794.4h0M558.6 803h0M557.2 788.3h0M520.9 774.7h0M552.7 793h0M565 799.7h0M566.2 798.4h0M547.6 798h0M574.3 788.3h0M557.8 803.1h0M566.6 795.1h0M557 801.8h0M562.6 804.6h0M560.5 805.3h0M566.6 803.8h0M562.5 794.3h0M563.3 807.4h0M550.4 787.7h0M559.7 804.4h0M547.8 799.5h0M564.4 805.1h0M562.2 806.5h0M556.9 798.3h0M566.7 801.3h0" stroke="#676767" stroke-width="2" stroke-linecap="round"/>
<line x1="557.5300000000001" y1="693.5" x2="557.5300000000001" y2="815.3" stroke="#222" stroke-width="1" stroke-dasharray="1.5,1.5"/>
<line x1="570.87" y1="693.5" x2="570.87" y2="815.3" stroke="#222" stroke-width="1" stroke-dasharray="1.5,1.5"/>
<line x1="497.6" y1="771.9350000000001" x2="631" y2="771.9350000000001" stroke="#222" stroke-width="1" stroke-dasharray="1.5,1.5"/>
<path d="M557.5 735.6h0M568.2 735.6h0M570.2 748.7h0M570.2 754.5h0M558.9 751.6h0M562.2 769h0M566.2 764.7h0M560.2 758.9h0" stroke="#676767" stroke-width="2" stroke-linecap="round"/>
<path d="M547.5 728.4h0M548.9 744.3h0M550.2 747.2h0M554.2 750.1h0M553.5 757.4h0M554.9 760.3h0M547.5 763.2h0M552.9 764.7h0M528.8 763.2h0M528.8 765.5h0M544.2 767.6h0M549.5 770.5h0M541.5 771.1h0M547.5 771.9h0M553.5 770.5h0M555.5 769h0" stroke="#17708a" stroke-width="3.5" stroke-linecap="round"/>
<path d="M592.2 704.5h0M588.2 737.1h0M580.9 738.5h0M577.5 751.6h0M572.9 757.4h0M587.5 756.8h0M581.5 761.8h0M588.9 761.8h0M580.9 766.1h0M593.5 766.1h0M578.2 770.5h0" stroke="#e01b1b" stroke-width="3.5" stroke-linecap="round"/>
<text x="484" y="760" font-size="8" text-anchor="middle" fill="#231f20" transform="rotate(-90 484 760)" stroke="#231f20" stroke-width="0.2">-Log<tspan font-size="5" dy="2">10</tspan><tspan dy="-2">(p-value)</tspan></text>
<text x="565" y="837" font-size="7.6" text-anchor="middle" fill="#231f20" stroke="#231f20" stroke-width="0.2">Log2FC(K512R/WT)</text>
<text x="273.2" y="863" font-size="15" text-anchor="start" font-weight="bold" fill="#2a1a14" stroke="#2a1a14" stroke-width="0.2">i</text>
<text x="297.2" y="856.3" font-size="8.65" text-anchor="start" fill="#231f20" stroke="#231f20" stroke-width="0.2">Gene Ontology(BP)</text>
<rect x="297" y="863.3" width="146.0" height="8.7" fill="#ee7800"/>
<line x1="294.2" y1="867.65" x2="297" y2="867.65" stroke="#231f20" stroke-width="1"/>
<text x="445.7" y="868.5999999999999" font-size="8.9" text-anchor="start" font-weight="bold" fill="#c8202e" stroke="#c8202e" stroke-width="0.2">regulation of mRNA stability (GO:0043488)</text>
<rect x="297" y="873.18" width="143.0" height="8.7" fill="#f8860a"/>
<line x1="294.2" y1="877.53" x2="297" y2="877.53" stroke="#231f20" stroke-width="1"/>
<text x="442.7" y="878.4799999999999" font-size="8.9" text-anchor="start" fill="#231f20" stroke="#231f20" stroke-width="0.2">translation (GO:0006412)</text>
<rect x="297" y="883.06" width="142.0" height="8.7" fill="#f88a12"/>
<line x1="294.2" y1="887.41" x2="297" y2="887.41" stroke="#231f20" stroke-width="1"/>
<text x="441.7" y="888.3599999999999" font-size="8.9" text-anchor="start" font-weight="bold" fill="#c8202e" stroke="#c8202e" stroke-width="0.2">regulation of RNA stability (GO:0043487)</text>
<rect x="297" y="892.9399999999999" width="140.0" height="8.7" fill="#f88e1a"/>
<line x1="294.2" y1="897.29" x2="297" y2="897.29" stroke="#231f20" stroke-width="1"/>
<text x="439.7" y="898.2399999999999" font-size="8.9" text-anchor="start" fill="#231f20" stroke="#231f20" stroke-width="0.2">regulation of mRNA catabolic process (GO:0061013)</text>
<rect x="297" y="902.8199999999999" width="137.20000000000002" height="8.7" fill="#f99424"/>
<line x1="294.2" y1="907.17" x2="297" y2="907.17" stroke="#231f20" stroke-width="1"/>
<text x="436.90000000000003" y="908.1199999999999" font-size="8.9" text-anchor="start" fill="#231f20" stroke="#231f20" stroke-width="0.2">peptide biosynthetic process (GO:0043043)</text>
<rect x="297" y="912.6999999999999" width="132.4" height="8.7" fill="#f99a30"/>
<line x1="294.2" y1="917.05" x2="297" y2="917.05" stroke="#231f20" stroke-width="1"/>
<text x="432.09999999999997" y="917.9999999999999" font-size="8.9" text-anchor="start" fill="#231f20" stroke="#231f20" stroke-width="0.2">cytoplasmic translation (GO:0002181)</text>
<rect x="297" y="922.5799999999999" width="122.6" height="8.7" fill="#f99e3a"/>
<line x1="294.2" y1="926.93" x2="297" y2="926.93" stroke="#231f20" stroke-width="1"/>
<text x="422.3" y="927.8799999999999" font-size="8.9" text-anchor="start" fill="#231f20" stroke="#231f20" stroke-width="0.2">post-transcriptional regulation of gene expression (GO:0010608)</text>
<rect x="297" y="932.4599999999999" width="121.19999999999999" height="8.7" fill="#faa244"/>
<line x1="294.2" y1="936.81" x2="297" y2="936.81" stroke="#231f20" stroke-width="1"/>
<text x="420.9" y="937.7599999999999" font-size="8.9" text-anchor="start" fill="#231f20" stroke="#231f20" stroke-width="0.2">cellular macromolecule metabolic process (GO:0044260)</text>
<rect x="297" y="942.3399999999999" width="119.2" height="8.7" fill="#fba84e"/>
<line x1="294.2" y1="946.6899999999999" x2="297" y2="946.6899999999999" stroke="#231f20" stroke-width="1"/>
<text x="418.9" y="947.6399999999999" font-size="8.9" text-anchor="start" fill="#231f20" stroke="#231f20" stroke-width="0.2">amide biosynthetic process (GO:0043604)</text>
<rect x="297" y="952.2199999999999" width="117.2" height="8.7" fill="#fcae58"/>
<line x1="294.2" y1="956.5699999999999" x2="297" y2="956.5699999999999" stroke="#231f20" stroke-width="1"/>
<text x="416.9" y="957.5199999999999" font-size="8.9" text-anchor="start" fill="#231f20" stroke="#231f20" stroke-width="0.2">peptide metabolic process (GO:0006518)</text>
<line x1="297.1" y1="858.5" x2="297.1" y2="964.8" stroke="#333333" stroke-width="1.2"/>
<line x1="296.1" y1="964.6" x2="456.6" y2="964.6" stroke="#333333" stroke-width="1.1"/>
<line x1="296.6" y1="964.6" x2="296.6" y2="967" stroke="#231f20" stroke-width="1"/>
<text x="296.6" y="974" font-size="7.5" text-anchor="middle" fill="#231f20" stroke="#231f20" stroke-width="0.2">0</text>
<line x1="336.6" y1="964.6" x2="336.6" y2="967" stroke="#231f20" stroke-width="1"/>
<text x="336.6" y="974" font-size="7.5" text-anchor="middle" fill="#231f20" stroke="#231f20" stroke-width="0.2">2</text>
<line x1="376.6" y1="964.6" x2="376.6" y2="967" stroke="#231f20" stroke-width="1"/>
<text x="376.6" y="974" font-size="7.5" text-anchor="middle" fill="#231f20" stroke="#231f20" stroke-width="0.2">4</text>
<line x1="416.6" y1="964.6" x2="416.6" y2="967" stroke="#231f20" stroke-width="1"/>
<text x="416.6" y="974" font-size="7.5" text-anchor="middle" fill="#231f20" stroke="#231f20" stroke-width="0.2">6</text>
<line x1="456.6" y1="964.6" x2="456.6" y2="967" stroke="#231f20" stroke-width="1"/>
<text x="456.6" y="974" font-size="7.5" text-anchor="middle" fill="#231f20" stroke="#231f20" stroke-width="0.2">8</text>
<text x="376.8" y="983.4" font-size="7.5" text-anchor="middle" fill="#231f20" stroke="#231f20" stroke-width="0.2">-Log10(p-value)</text>
</svg>
</body></html>
